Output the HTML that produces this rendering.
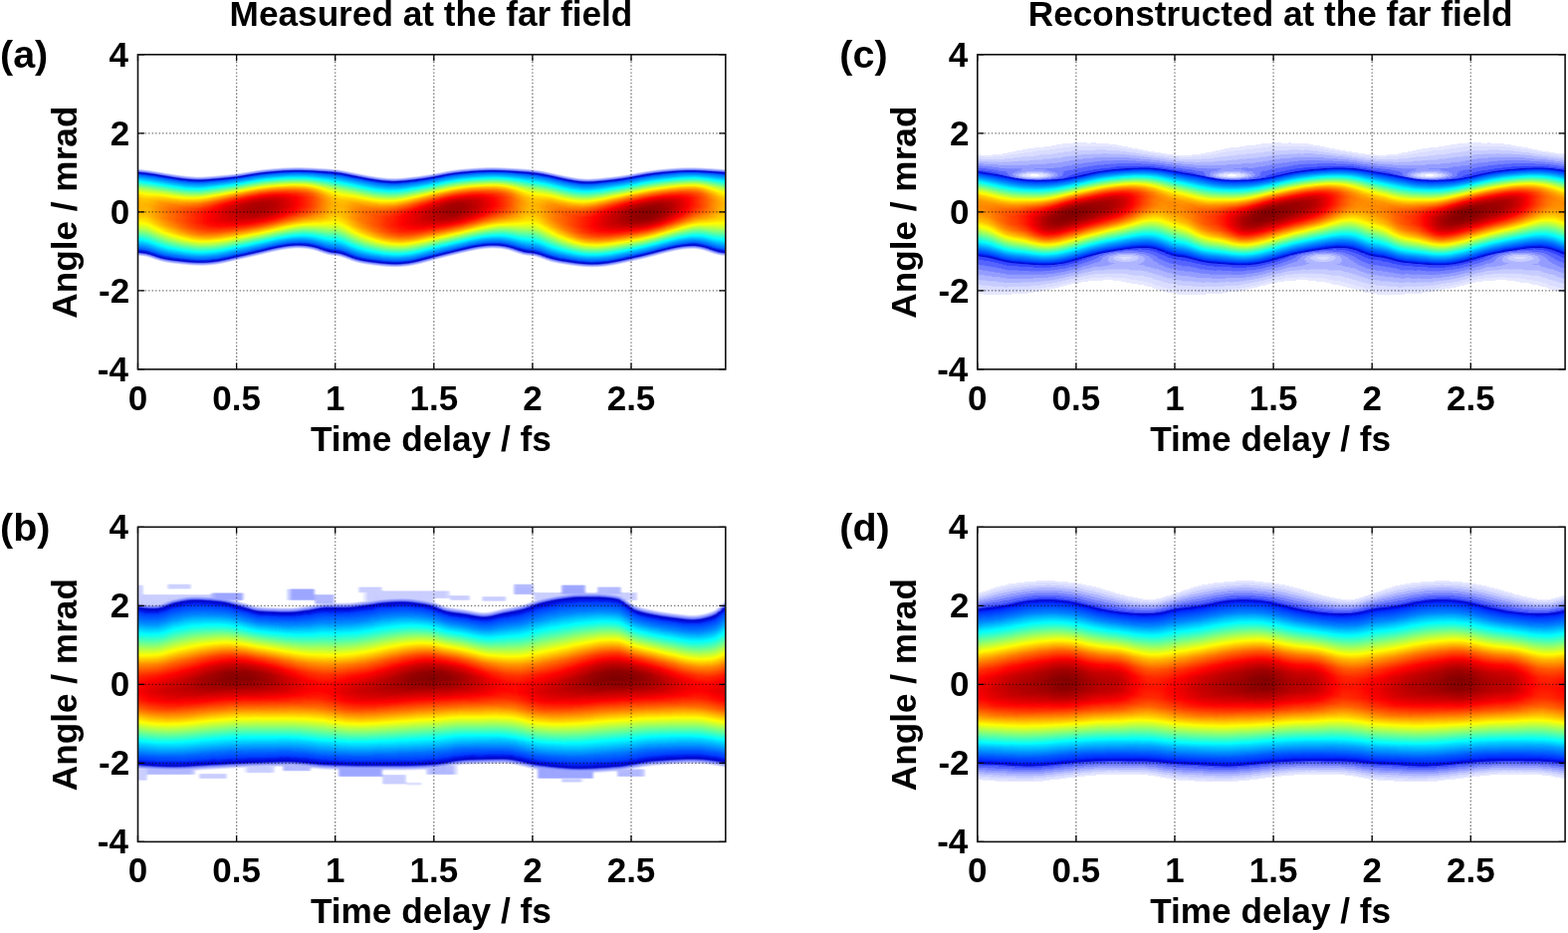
<!DOCTYPE html>
<html><head><meta charset="utf-8"><title>Far field</title>
<style>
html,body{margin:0;padding:0;background:#fff}
body{width:1575px;height:937px;position:relative;overflow:hidden}
.hm{position:absolute;overflow:hidden}
.hi{position:absolute;top:0;height:100%}
.hi i{position:absolute;top:0;height:100%}
svg.ov{position:absolute;left:0;top:0}
text{font-family:'Liberation Sans',Arial,sans-serif;font-weight:bold;font-size:35px;fill:#000}
text.pl{font-size:39.5px}
text.lb{font-size:35.2px}
.gr{fill:none;stroke:#000;stroke-width:1.3;stroke-dasharray:1.4 2.12;opacity:.55}
.tk{fill:none;stroke:#000;stroke-width:1.3}
.bx{fill:none;stroke:#111;stroke-width:1.6}
</style></head><body>
<svg width="0" height="0" style="position:absolute"><defs><filter id="cma" x="0" y="0" width="1" height="1" color-interpolation-filters="sRGB"><feGaussianBlur stdDeviation="1.5 0.3"/><feComponentTransfer><feFuncR type="table" tableValues="1 1 1 1 0.989 0.976 0.963 0.949 0.936 0.923 0.91 0.896 0.883 0.87 0.856 0.843 0.83 0.817 0.803 0.79 0.777 0.764 0.75 0.737 0.724 0.71 0.697 0.684 0.671 0.657 0.644 0.631 0.618 0.604 0.591 0.578 0.564 0.551 0.538 0.525 0.511 0.498 0.485 0.472 0.458 0.441 0.418 0.394 0.371 0.347 0.324 0.3 0.276 0.253 0.229 0.206 0.182 0.159 0.135 0.112 0.088 0.065 0.041 0.018 0 0 0 0 0 0 0 0 0 0 0 0 0 0 0 0 0 0 0 0 0 0 0 0 0 0 0 0 0 0 0 0 0 0 0 0 0 0 0 0 0 0 0 0 0 0 0 0 0.009 0.026 0.043 0.061 0.078 0.096 0.113 0.131 0.148 0.165 0.183 0.2 0.218 0.235 0.253 0.27 0.287 0.305 0.322 0.34 0.357 0.374 0.392 0.409 0.427 0.444 0.462 0.479 0.496 0.514 0.531 0.549 0.566 0.584 0.601 0.618 0.636 0.653 0.671 0.688 0.706 0.723 0.74 0.758 0.775 0.793 0.81 0.827 0.845 0.862 0.88 0.897 0.915 0.932 0.949 0.967 0.984 1 1 1 1 1 1 1 1 1 1 1 1 1 1 1 1 1 1 1 1 1 1 1 1 1 1 1 1 1 1 1 1 1 1 1 1 1 1 1 1 1 1 1 1 1 1 1 1 1 1 1 1 1 1 1 1 1 1 0.988 0.97 0.953 0.936 0.918 0.901 0.883 0.866 0.848 0.831 0.814 0.796 0.779 0.761 0.744 0.726 0.709 0.692 0.674 0.657 0.639 0.622 0.605 0.587 0.57 0.552 0.535 0.517 0.5"/><feFuncG type="table" tableValues="1 1 1 1 0.99 0.978 0.966 0.954 0.942 0.93 0.918 0.906 0.894 0.882 0.87 0.857 0.845 0.833 0.821 0.809 0.797 0.785 0.773 0.761 0.749 0.737 0.725 0.713 0.701 0.689 0.676 0.664 0.652 0.64 0.628 0.616 0.604 0.592 0.58 0.568 0.556 0.544 0.532 0.52 0.508 0.491 0.466 0.442 0.417 0.392 0.368 0.343 0.319 0.294 0.27 0.245 0.22 0.196 0.171 0.147 0.122 0.098 0.073 0.048 0.033 0.047 0.065 0.085 0.109 0.135 0.164 0.197 0.232 0.271 0.313 0.357 0.381 0.399 0.416 0.434 0.451 0.469 0.486 0.503 0.521 0.538 0.556 0.573 0.59 0.608 0.625 0.643 0.66 0.678 0.695 0.712 0.73 0.747 0.765 0.782 0.8 0.817 0.834 0.852 0.869 0.887 0.904 0.922 0.939 0.956 0.974 0.991 1 1 1 1 1 1 1 1 1 1 1 1 1 1 1 1 1 1 1 1 1 1 1 1 1 1 1 1 1 1 1 1 1 1 1 1 1 1 1 1 1 1 1 1 1 1 1 1 1 1 1 1 1 1 1 1 1 0.998 0.981 0.963 0.946 0.929 0.911 0.894 0.876 0.859 0.842 0.824 0.807 0.789 0.772 0.754 0.737 0.72 0.702 0.685 0.667 0.65 0.632 0.615 0.598 0.58 0.563 0.545 0.528 0.51 0.493 0.476 0.458 0.441 0.423 0.406 0.389 0.371 0.354 0.336 0.319 0.301 0.284 0.267 0.249 0.232 0.214 0.197 0.179 0.162 0.145 0.127 0.11 0.092 0.075 0.058 0.04 0.023 0.005 0 0 0 0 0 0 0 0 0 0 0 0 0 0 0 0 0 0 0 0 0 0 0 0 0 0 0 0 0"/><feFuncB type="table" tableValues="1 1 1 1 1 1 1 1 1 1 1 1 1 1 1 1 1 1 1 1 1 1 1 1 1 1 1 1 1 1 1 1 1 1 1 1 1 1 1 1 1 1 1 1 1 0.996 0.986 0.975 0.965 0.954 0.944 0.933 0.923 0.912 0.902 0.892 0.881 0.871 0.86 0.85 0.839 0.829 0.818 0.808 0.804 0.822 0.839 0.857 0.874 0.891 0.909 0.926 0.944 0.961 0.979 0.996 1 1 1 1 1 1 1 1 1 1 1 1 1 1 1 1 1 1 1 1 1 1 1 1 1 1 1 1 1 1 1 1 1 1 1 1 0.991 0.974 0.957 0.939 0.922 0.904 0.887 0.869 0.852 0.835 0.817 0.8 0.782 0.765 0.747 0.73 0.713 0.695 0.678 0.66 0.643 0.626 0.608 0.591 0.573 0.556 0.538 0.521 0.504 0.486 0.469 0.451 0.434 0.416 0.399 0.382 0.364 0.347 0.329 0.312 0.294 0.277 0.26 0.242 0.225 0.207 0.19 0.173 0.155 0.138 0.12 0.103 0.085 0.068 0.051 0.033 0.016 0 0 0 0 0 0 0 0 0 0 0 0 0 0 0 0 0 0 0 0 0 0 0 0 0 0 0 0 0 0 0 0 0 0 0 0 0 0 0 0 0 0 0 0 0 0 0 0 0 0 0 0 0 0 0 0 0 0 0 0 0 0 0 0 0 0 0 0 0 0 0 0 0 0 0 0 0 0 0 0 0 0 0 0 0 0 0"/></feComponentTransfer></filter><filter id="cmb" x="0" y="0" width="1" height="1" color-interpolation-filters="sRGB"><feGaussianBlur stdDeviation="1.5 0.3"/><feComponentTransfer><feFuncR type="table" tableValues="1 1 1 1 0.989 0.976 0.963 0.949 0.936 0.923 0.91 0.896 0.883 0.87 0.856 0.843 0.83 0.817 0.803 0.79 0.777 0.764 0.75 0.737 0.724 0.71 0.697 0.684 0.671 0.657 0.644 0.631 0.618 0.604 0.591 0.578 0.564 0.551 0.538 0.525 0.511 0.498 0.485 0.472 0.458 0.441 0.418 0.394 0.371 0.347 0.324 0.3 0.276 0.253 0.229 0.206 0.182 0.159 0.135 0.112 0.088 0.065 0.041 0.018 0 0 0 0 0 0 0 0 0 0 0 0 0 0 0 0 0 0 0 0 0 0 0 0 0 0 0 0 0 0 0 0 0 0 0 0 0 0 0 0 0 0 0 0 0 0 0 0 0 0 0 0 0.011 0.029 0.047 0.065 0.083 0.101 0.119 0.137 0.155 0.173 0.19 0.208 0.226 0.244 0.262 0.28 0.298 0.316 0.334 0.352 0.37 0.387 0.405 0.423 0.441 0.459 0.477 0.495 0.513 0.531 0.549 0.566 0.584 0.602 0.62 0.638 0.656 0.674 0.692 0.71 0.728 0.745 0.763 0.781 0.799 0.817 0.835 0.853 0.871 0.889 0.907 0.925 0.942 0.96 0.978 0.996 1 1 1 1 1 1 1 1 1 1 1 1 1 1 1 1 1 1 1 1 1 1 1 1 1 1 1 1 1 1 1 1 1 1 1 1 1 1 1 1 1 1 1 1 1 1 1 1 1 1 1 1 1 1 1 1 0.983 0.965 0.948 0.93 0.912 0.894 0.876 0.858 0.84 0.822 0.804 0.786 0.769 0.751 0.733 0.715 0.697 0.679 0.661 0.643 0.625 0.607 0.59 0.572 0.554 0.536 0.518 0.5"/><feFuncG type="table" tableValues="1 1 1 1 0.99 0.978 0.966 0.954 0.942 0.93 0.918 0.906 0.894 0.882 0.87 0.857 0.845 0.833 0.821 0.809 0.797 0.785 0.773 0.761 0.749 0.737 0.725 0.713 0.701 0.689 0.676 0.664 0.652 0.64 0.628 0.616 0.604 0.592 0.58 0.568 0.556 0.544 0.532 0.52 0.508 0.491 0.466 0.442 0.417 0.392 0.368 0.343 0.319 0.294 0.27 0.245 0.22 0.196 0.171 0.147 0.122 0.098 0.073 0.048 0.031 0.04 0.052 0.068 0.088 0.112 0.14 0.173 0.209 0.242 0.26 0.277 0.295 0.313 0.331 0.349 0.367 0.385 0.403 0.421 0.439 0.456 0.474 0.492 0.51 0.528 0.546 0.564 0.582 0.6 0.618 0.635 0.653 0.671 0.689 0.707 0.725 0.743 0.761 0.779 0.797 0.815 0.832 0.85 0.868 0.886 0.904 0.922 0.94 0.958 0.976 0.994 1 1 1 1 1 1 1 1 1 1 1 1 1 1 1 1 1 1 1 1 1 1 1 1 1 1 1 1 1 1 1 1 1 1 1 1 1 1 1 1 1 1 1 1 1 1 1 1 1 1 1 1 1 1 1 1 0.986 0.968 0.95 0.932 0.914 0.896 0.879 0.861 0.843 0.825 0.807 0.789 0.771 0.753 0.735 0.717 0.7 0.682 0.664 0.646 0.628 0.61 0.592 0.574 0.556 0.538 0.52 0.503 0.485 0.467 0.449 0.431 0.413 0.395 0.377 0.359 0.341 0.324 0.306 0.288 0.27 0.252 0.234 0.216 0.198 0.18 0.162 0.145 0.127 0.109 0.091 0.073 0.055 0.037 0.019 0.001 0 0 0 0 0 0 0 0 0 0 0 0 0 0 0 0 0 0 0 0 0 0 0 0 0 0 0 0"/><feFuncB type="table" tableValues="1 1 1 1 1 1 1 1 1 1 1 1 1 1 1 1 1 1 1 1 1 1 1 1 1 1 1 1 1 1 1 1 1 1 1 1 1 1 1 1 1 1 1 1 1 0.996 0.986 0.975 0.965 0.954 0.944 0.933 0.923 0.912 0.902 0.892 0.881 0.871 0.86 0.85 0.839 0.829 0.818 0.808 0.806 0.828 0.85 0.873 0.895 0.917 0.94 0.962 0.985 1 1 1 1 1 1 1 1 1 1 1 1 1 1 1 1 1 1 1 1 1 1 1 1 1 1 1 1 1 1 1 1 1 1 1 1 1 1 1 1 1 1 1 0.989 0.971 0.953 0.935 0.917 0.899 0.881 0.863 0.845 0.827 0.81 0.792 0.774 0.756 0.738 0.72 0.702 0.684 0.666 0.648 0.63 0.613 0.595 0.577 0.559 0.541 0.523 0.505 0.487 0.469 0.451 0.434 0.416 0.398 0.38 0.362 0.344 0.326 0.308 0.29 0.272 0.255 0.237 0.219 0.201 0.183 0.165 0.147 0.129 0.111 0.093 0.075 0.058 0.04 0.022 0.004 0 0 0 0 0 0 0 0 0 0 0 0 0 0 0 0 0 0 0 0 0 0 0 0 0 0 0 0 0 0 0 0 0 0 0 0 0 0 0 0 0 0 0 0 0 0 0 0 0 0 0 0 0 0 0 0 0 0 0 0 0 0 0 0 0 0 0 0 0 0 0 0 0 0 0 0 0 0 0 0 0 0 0 0"/></feComponentTransfer></filter><filter id="cmc" x="0" y="0" width="1" height="1" color-interpolation-filters="sRGB"><feGaussianBlur stdDeviation="1.5 0.3"/><feComponentTransfer><feFuncR type="table" tableValues="1 1 1 1 0.904 0.904 0.904 0.904 0.896 0.858 0.858 0.858 0.858 0.858 0.858 0.802 0.782 0.782 0.782 0.782 0.782 0.74 0.689 0.689 0.689 0.689 0.689 0.671 0.587 0.582 0.582 0.582 0.582 0.582 0.505 0.464 0.464 0.464 0.464 0.464 0.418 0.337 0.337 0.337 0.337 0.337 0.326 0.219 0.2 0.2 0.2 0.2 0.184 0.169 0.153 0.137 0.122 0.106 0.09 0.075 0.059 0.043 0.027 0.012 0 0 0 0 0 0 0 0 0 0 0 0 0 0 0 0 0 0 0 0 0 0 0 0 0 0 0 0 0 0 0 0 0 0 0 0 0 0 0 0 0 0 0 0 0 0 0 0 0 0 0 0 0.011 0.029 0.047 0.065 0.083 0.101 0.119 0.137 0.155 0.173 0.19 0.208 0.226 0.244 0.262 0.28 0.298 0.316 0.334 0.352 0.37 0.387 0.405 0.423 0.441 0.459 0.477 0.495 0.513 0.531 0.549 0.566 0.584 0.602 0.62 0.638 0.656 0.674 0.692 0.71 0.728 0.745 0.763 0.781 0.799 0.817 0.835 0.853 0.871 0.889 0.907 0.925 0.942 0.96 0.978 0.996 1 1 1 1 1 1 1 1 1 1 1 1 1 1 1 1 1 1 1 1 1 1 1 1 1 1 1 1 1 1 1 1 1 1 1 1 1 1 1 1 1 1 1 1 1 1 1 1 1 1 1 1 1 1 1 1 0.983 0.965 0.948 0.93 0.912 0.894 0.876 0.858 0.84 0.822 0.804 0.786 0.769 0.751 0.733 0.715 0.697 0.679 0.661 0.643 0.625 0.607 0.59 0.572 0.554 0.536 0.518 0.5"/><feFuncG type="table" tableValues="1 1 1 1 0.912 0.912 0.912 0.912 0.906 0.87 0.87 0.87 0.87 0.87 0.87 0.819 0.801 0.801 0.801 0.801 0.801 0.763 0.716 0.716 0.716 0.716 0.716 0.7 0.623 0.619 0.619 0.619 0.619 0.619 0.548 0.511 0.511 0.511 0.511 0.511 0.469 0.395 0.395 0.395 0.395 0.395 0.385 0.288 0.27 0.27 0.27 0.27 0.251 0.232 0.214 0.195 0.176 0.157 0.138 0.119 0.101 0.082 0.063 0.044 0.031 0.04 0.052 0.068 0.088 0.112 0.14 0.173 0.209 0.242 0.26 0.277 0.295 0.313 0.331 0.349 0.367 0.385 0.403 0.421 0.439 0.456 0.474 0.492 0.51 0.528 0.546 0.564 0.582 0.6 0.618 0.635 0.653 0.671 0.689 0.707 0.725 0.743 0.761 0.779 0.797 0.815 0.832 0.85 0.868 0.886 0.904 0.922 0.94 0.958 0.976 0.994 1 1 1 1 1 1 1 1 1 1 1 1 1 1 1 1 1 1 1 1 1 1 1 1 1 1 1 1 1 1 1 1 1 1 1 1 1 1 1 1 1 1 1 1 1 1 1 1 1 1 1 1 1 1 1 1 0.986 0.968 0.95 0.932 0.914 0.896 0.879 0.861 0.843 0.825 0.807 0.789 0.771 0.753 0.735 0.717 0.7 0.682 0.664 0.646 0.628 0.61 0.592 0.574 0.556 0.538 0.52 0.503 0.485 0.467 0.449 0.431 0.413 0.395 0.377 0.359 0.341 0.324 0.306 0.288 0.27 0.252 0.234 0.216 0.198 0.18 0.162 0.145 0.127 0.109 0.091 0.073 0.055 0.037 0.019 0.001 0 0 0 0 0 0 0 0 0 0 0 0 0 0 0 0 0 0 0 0 0 0 0 0 0 0 0 0"/><feFuncB type="table" tableValues="1 1 1 1 1 1 1 1 1 1 1 1 1 1 1 1 1 1 1 1 1 1 1 1 1 1 1 1 1 1 1 1 1 1 1 1 1 1 1 1 1 1 1 1 1 1 1 1 1 1 1 1 0.984 0.969 0.953 0.937 0.922 0.906 0.89 0.875 0.859 0.843 0.827 0.812 0.806 0.828 0.85 0.873 0.895 0.917 0.94 0.962 0.985 1 1 1 1 1 1 1 1 1 1 1 1 1 1 1 1 1 1 1 1 1 1 1 1 1 1 1 1 1 1 1 1 1 1 1 1 1 1 1 1 1 1 1 0.989 0.971 0.953 0.935 0.917 0.899 0.881 0.863 0.845 0.827 0.81 0.792 0.774 0.756 0.738 0.72 0.702 0.684 0.666 0.648 0.63 0.613 0.595 0.577 0.559 0.541 0.523 0.505 0.487 0.469 0.451 0.434 0.416 0.398 0.38 0.362 0.344 0.326 0.308 0.29 0.272 0.255 0.237 0.219 0.201 0.183 0.165 0.147 0.129 0.111 0.093 0.075 0.058 0.04 0.022 0.004 0 0 0 0 0 0 0 0 0 0 0 0 0 0 0 0 0 0 0 0 0 0 0 0 0 0 0 0 0 0 0 0 0 0 0 0 0 0 0 0 0 0 0 0 0 0 0 0 0 0 0 0 0 0 0 0 0 0 0 0 0 0 0 0 0 0 0 0 0 0 0 0 0 0 0 0 0 0 0 0 0 0 0 0"/></feComponentTransfer></filter><filter id="cmd" x="0" y="0" width="1" height="1" color-interpolation-filters="sRGB"><feGaussianBlur stdDeviation="1.5 0.3"/><feComponentTransfer><feFuncR type="table" tableValues="1 1 1 1 0.904 0.904 0.904 0.904 0.896 0.858 0.858 0.858 0.858 0.858 0.858 0.802 0.782 0.782 0.782 0.782 0.782 0.74 0.689 0.689 0.689 0.689 0.689 0.671 0.587 0.582 0.582 0.582 0.582 0.582 0.505 0.464 0.464 0.464 0.464 0.464 0.418 0.337 0.337 0.337 0.337 0.337 0.326 0.219 0.2 0.2 0.2 0.2 0.184 0.169 0.153 0.137 0.122 0.106 0.09 0.075 0.059 0.043 0.027 0.012 0 0 0 0 0 0 0 0 0 0 0 0 0 0 0 0 0 0 0 0 0 0 0 0 0 0 0 0 0 0 0 0 0 0 0 0 0 0 0 0 0 0 0 0 0 0 0 0 0 0 0 0 0 0.012 0.03 0.048 0.066 0.084 0.102 0.12 0.138 0.156 0.174 0.192 0.21 0.228 0.246 0.264 0.282 0.3 0.319 0.337 0.355 0.373 0.391 0.409 0.427 0.445 0.463 0.481 0.499 0.517 0.535 0.553 0.571 0.589 0.607 0.625 0.643 0.661 0.679 0.697 0.715 0.733 0.751 0.769 0.787 0.805 0.823 0.841 0.859 0.877 0.895 0.913 0.931 0.95 0.968 0.986 1 1 1 1 1 1 1 1 1 1 1 1 1 1 1 1 1 1 1 1 1 1 1 1 1 1 1 1 1 1 1 1 1 1 1 1 1 1 1 1 1 1 1 1 1 1 1 1 1 1 1 1 1 1 1 1 0.987 0.969 0.951 0.933 0.915 0.897 0.879 0.861 0.843 0.825 0.806 0.788 0.77 0.752 0.734 0.716 0.698 0.68 0.662 0.644 0.626 0.608 0.59 0.572 0.554 0.536 0.518 0.5"/><feFuncG type="table" tableValues="1 1 1 1 0.912 0.912 0.912 0.912 0.906 0.87 0.87 0.87 0.87 0.87 0.87 0.819 0.801 0.801 0.801 0.801 0.801 0.763 0.716 0.716 0.716 0.716 0.716 0.7 0.623 0.619 0.619 0.619 0.619 0.619 0.548 0.511 0.511 0.511 0.511 0.511 0.469 0.395 0.395 0.395 0.395 0.395 0.385 0.288 0.27 0.27 0.27 0.27 0.251 0.232 0.214 0.195 0.176 0.157 0.138 0.119 0.101 0.082 0.063 0.044 0.031 0.038 0.051 0.069 0.093 0.122 0.156 0.183 0.201 0.219 0.237 0.255 0.273 0.291 0.309 0.327 0.345 0.363 0.381 0.399 0.417 0.435 0.453 0.471 0.489 0.507 0.525 0.543 0.561 0.579 0.597 0.615 0.633 0.651 0.669 0.688 0.706 0.724 0.742 0.76 0.778 0.796 0.814 0.832 0.85 0.868 0.886 0.904 0.922 0.94 0.958 0.976 0.994 1 1 1 1 1 1 1 1 1 1 1 1 1 1 1 1 1 1 1 1 1 1 1 1 1 1 1 1 1 1 1 1 1 1 1 1 1 1 1 1 1 1 1 1 1 1 1 1 1 1 1 1 1 1 1 0.996 0.978 0.96 0.942 0.924 0.906 0.888 0.87 0.852 0.834 0.816 0.798 0.78 0.762 0.744 0.726 0.708 0.69 0.672 0.654 0.636 0.618 0.6 0.582 0.564 0.546 0.528 0.51 0.492 0.474 0.456 0.437 0.419 0.401 0.383 0.365 0.347 0.329 0.311 0.293 0.275 0.257 0.239 0.221 0.203 0.185 0.167 0.149 0.131 0.113 0.095 0.077 0.059 0.041 0.023 0.005 0 0 0 0 0 0 0 0 0 0 0 0 0 0 0 0 0 0 0 0 0 0 0 0 0 0 0 0"/><feFuncB type="table" tableValues="1 1 1 1 1 1 1 1 1 1 1 1 1 1 1 1 1 1 1 1 1 1 1 1 1 1 1 1 1 1 1 1 1 1 1 1 1 1 1 1 1 1 1 1 1 1 1 1 1 1 1 1 0.984 0.969 0.953 0.937 0.922 0.906 0.89 0.875 0.859 0.843 0.827 0.812 0.808 0.838 0.868 0.898 0.928 0.958 0.988 1 1 1 1 1 1 1 1 1 1 1 1 1 1 1 1 1 1 1 1 1 1 1 1 1 1 1 1 1 1 1 1 1 1 1 1 1 1 1 1 1 1 1 1 1 1 0.988 0.97 0.952 0.934 0.916 0.898 0.88 0.862 0.844 0.826 0.808 0.79 0.772 0.754 0.736 0.718 0.7 0.681 0.663 0.645 0.627 0.609 0.591 0.573 0.555 0.537 0.519 0.501 0.483 0.465 0.447 0.429 0.411 0.393 0.375 0.357 0.339 0.321 0.303 0.285 0.267 0.249 0.231 0.213 0.195 0.177 0.159 0.141 0.123 0.105 0.087 0.069 0.05 0.032 0.014 0 0 0 0 0 0 0 0 0 0 0 0 0 0 0 0 0 0 0 0 0 0 0 0 0 0 0 0 0 0 0 0 0 0 0 0 0 0 0 0 0 0 0 0 0 0 0 0 0 0 0 0 0 0 0 0 0 0 0 0 0 0 0 0 0 0 0 0 0 0 0 0 0 0 0 0 0 0 0 0 0 0 0 0"/></feComponentTransfer></filter></defs></svg>
<div class="hm" style="left:138px;top:54px;width:591px;height:317px"><div class="hi" style="left:-6px;width:603px;filter:url(#cma)"><i style="left:0px;width:4px;background:linear-gradient(#000 0.5px,#000 114.5px,#0a0a0a 115.5px,#393939 118.5px,#434343 119.5px,#646464 125.5px,#959595 133.5px,#adadad 138.5px,#b9b9b9 142.5px,#bfbfbf 147.5px,#bebebe 157.5px,#b6b6b6 164.5px,#a6a6a6 171.5px,#8a8a8a 179.5px,#4d4d4d 194.5px,#434343 197.5px,#3d3d3d 198.5px,#0e0e0e 201.5px,#010101 202.5px,#000 316.5px)"></i><i style="left:4px;width:4px;background:linear-gradient(#000 0.5px,#000 114.5px,#050505 115.5px,#353535 118.5px,#414141 119.5px,#676767 126.5px,#969696 134.5px,#ababab 139.5px,#b8b8b8 144.5px,#bcbcbc 150.5px,#b9b9b9 160.5px,#afafaf 167.5px,#9d9d9d 174.5px,#777 184.5px,#484848 196.5px,#424242 198.5px,#3b3b3b 199.5px,#0b0b0b 202.5px,#000 203.5px,#000 316.5px)"></i><i style="left:8px;width:4px;background:linear-gradient(#000 0.5px,#000 114.5px,#020202 115.5px,#1f1f1f 117.5px,#3e3e3e 119.5px,#7b7b7b 130.5px,#9b9b9b 136.5px,#aeaeae 141.5px,#b7b7b7 146.5px,#bababa 154.5px,#b6b6b6 162.5px,#aaa 169.5px,#979797 176.5px,#646464 189.5px,#3f3f3f 199.5px,#212121 201.5px,#020202 203.5px,#000 205.5px,#000 316.5px)"></i><i style="left:12px;width:4px;background:linear-gradient(#000 0.5px,#000 115.5px,#080808 116.5px,#383838 119.5px,#424242 120.5px,#676767 127.5px,#939393 135.5px,#a8a8a8 140.5px,#b5b5b5 145.5px,#bababa 151.5px,#b7b7b7 161.5px,#aeaeae 168.5px,#9c9c9c 175.5px,#7b7b7b 184.5px,#484848 197.5px,#414141 199.5px,#393939 200.5px,#090909 203.5px,#000 204.5px,#000 316.5px)"></i><i style="left:16px;width:4px;background:linear-gradient(#000 0.5px,#000 115.5px,#020202 116.5px,#202020 118.5px,#3e3e3e 120.5px,#6f6f6f 129.5px,#969696 136.5px,#aaa 141.5px,#b7b7b7 146.5px,#bbb 152.5px,#b9b9b9 162.5px,#afafaf 169.5px,#9d9d9d 176.5px,#7b7b7b 185.5px,#4c4c4c 197.5px,#424242 200.5px,#393939 201.5px,#090909 204.5px,#000 205.5px,#000 316.5px)"></i><i style="left:20px;width:4px;background:linear-gradient(#000 0.5px,#000 116.5px,#060606 117.5px,#363636 120.5px,#424242 121.5px,#606060 127.5px,#989898 137.5px,#adadad 142.5px,#b9b9b9 147.5px,#bebebe 153.5px,#bcbcbc 163.5px,#b2b2b2 170.5px,#a0a0a0 177.5px,#7e7e7e 186.5px,#494949 199.5px,#434343 201.5px,#3d3d3d 202.5px,#0f0f0f 205.5px,#010101 206.5px,#000 211.5px,#000 316.5px)"></i><i style="left:24px;width:4px;background:linear-gradient(#000 0.5px,#000 117.5px,#0c0c0c 118.5px,#3b3b3b 121.5px,#434343 122.5px,#686868 129.5px,#9b9b9b 138.5px,#b0b0b0 143.5px,#bdbdbd 148.5px,#c1c1c1 154.5px,#bfbfbf 164.5px,#b5b5b5 171.5px,#a3a3a3 178.5px,#808080 187.5px,#4b4b4b 200.5px,#414141 203.5px,#353535 204.5px,#050505 207.5px,#000 208.5px,#000 316.5px)"></i><i style="left:28px;width:4px;background:linear-gradient(#000 0.5px,#000 117.5px,#030303 118.5px,#3f3f3f 122.5px,#6a6a6a 130.5px,#9e9e9e 139.5px,#b3b3b3 144.5px,#c0c0c0 149.5px,#c4c4c4 155.5px,#c2c2c2 165.5px,#b8b8b8 172.5px,#a5a5a5 179.5px,#828282 188.5px,#4f4f4f 200.5px,#414141 204.5px,#383838 205.5px,#080808 208.5px,#000 209.5px,#000 316.5px)"></i><i style="left:32px;width:4px;background:linear-gradient(#000 0.5px,#000 118.5px,#060606 119.5px,#363636 122.5px,#414141 123.5px,#606060 129.5px,#9b9b9b 139.5px,#b2b2b2 144.5px,#c0c0c0 149.5px,#c6c6c6 154.5px,#c6c6c6 164.5px,#bfbfbf 171.5px,#aeaeae 178.5px,#909090 186.5px,#4f4f4f 201.5px,#414141 205.5px,#363636 206.5px,#060606 209.5px,#000 210.5px,#000 316.5px)"></i><i style="left:36px;width:4px;background:linear-gradient(#000 0.5px,#000 119.5px,#0c0c0c 120.5px,#3b3b3b 123.5px,#434343 124.5px,#626262 130.5px,#9d9d9d 140.5px,#b4b4b4 145.5px,#c3c3c3 150.5px,#c9c9c9 155.5px,#c9c9c9 165.5px,#c1c1c1 172.5px,#b3b3b3 178.5px,#9a9a9a 185.5px,#4e4e4e 202.5px,#3f3f3f 206.5px,#212121 208.5px,#030303 210.5px,#000 211.5px,#000 316.5px)"></i><i style="left:40px;width:4px;background:linear-gradient(#000 0.5px,#000 119.5px,#030303 120.5px,#3f3f3f 124.5px,#6a6a6a 132.5px,#9f9f9f 141.5px,#b6b6b6 146.5px,#c5c5c5 151.5px,#cbcbcb 156.5px,#cbcbcb 166.5px,#c3c3c3 173.5px,#b4b4b4 179.5px,#9a9a9a 186.5px,#515151 202.5px,#424242 206.5px,#3a3a3a 207.5px,#0a0a0a 210.5px,#000 211.5px,#000 316.5px)"></i><i style="left:44px;width:4px;background:linear-gradient(#000 0.5px,#000 120.5px,#080808 121.5px,#373737 124.5px,#424242 125.5px,#616161 131.5px,#a2a2a2 142.5px,#b9b9b9 147.5px,#c7c7c7 152.5px,#cecece 157.5px,#cecece 167.5px,#c5c5c5 174.5px,#b6b6b6 180.5px,#9a9a9a 187.5px,#535353 202.5px,#3f3f3f 207.5px,#212121 209.5px,#030303 211.5px,#000 212.5px,#000 316.5px)"></i><i style="left:48px;width:4px;background:linear-gradient(#000 0.5px,#000 120.5px,#010101 121.5px,#0f0f0f 122.5px,#3d3d3d 125.5px,#6f6f6f 134.5px,#a5a5a5 143.5px,#bbb 148.5px,#cacaca 153.5px,#d0d0d0 158.5px,#d0d0d0 168.5px,#c9c9c9 174.5px,#bababa 180.5px,#9f9f9f 187.5px,#515151 203.5px,#424242 207.5px,#383838 208.5px,#090909 211.5px,#000 212.5px,#000 316.5px)"></i><i style="left:52px;width:4px;background:linear-gradient(#000 0.5px,#000 121.5px,#070707 122.5px,#363636 125.5px,#424242 126.5px,#606060 132.5px,#a8a8a8 144.5px,#bfbfbf 149.5px,#cdcdcd 154.5px,#d3d3d3 159.5px,#d2d2d2 169.5px,#cbcbcb 175.5px,#bbb 181.5px,#9e9e9e 188.5px,#545454 203.5px,#3e3e3e 208.5px,#0f0f0f 211.5px,#020202 212.5px,#000 215.5px,#000 316.5px)"></i><i style="left:56px;width:4px;background:linear-gradient(#000 0.5px,#000 121.5px,#020202 122.5px,#202020 124.5px,#3e3e3e 126.5px,#6a6a6a 134.5px,#a7a7a7 144.5px,#bfbfbf 149.5px,#cecece 154.5px,#d5d5d5 159.5px,#d6d6d6 168.5px,#d0d0d0 174.5px,#c2c2c2 180.5px,#ababab 186.5px,#737373 197.5px,#4d4d4d 205.5px,#414141 208.5px,#353535 209.5px,#050505 212.5px,#000 213.5px,#000 316.5px)"></i><i style="left:60px;width:4px;background:linear-gradient(#000 0.5px,#000 122.5px,#0b0b0b 123.5px,#3b3b3b 126.5px,#434343 127.5px,#636363 133.5px,#acacac 145.5px,#c4c4c4 150.5px,#d2d2d2 155.5px,#d8d8d8 160.5px,#d8d8d8 169.5px,#d1d1d1 175.5px,#c2c2c2 181.5px,#aaa 187.5px,#535353 204.5px,#424242 208.5px,#393939 209.5px,#090909 212.5px,#000 213.5px,#000 316.5px)"></i><i style="left:64px;width:4px;background:linear-gradient(#000 0.5px,#000 122.5px,#080808 123.5px,#383838 126.5px,#424242 127.5px,#626262 133.5px,#adadad 145.5px,#c5c5c5 150.5px,#d4d4d4 155.5px,#dbdbdb 160.5px,#dbdbdb 169.5px,#d4d4d4 175.5px,#c5c5c5 181.5px,#acacac 187.5px,#545454 204.5px,#434343 208.5px,#3c3c3c 209.5px,#0c0c0c 212.5px,#010101 213.5px,#000 316.5px)"></i><i style="left:68px;width:4px;background:linear-gradient(#000 0.5px,#000 122.5px,#080808 123.5px,#383838 126.5px,#424242 127.5px,#626262 133.5px,#afafaf 145.5px,#c7c7c7 150.5px,#d7d7d7 155.5px,#ddd 160.5px,#ddd 169.5px,#d6d6d6 175.5px,#c7c7c7 181.5px,#aeaeae 187.5px,#545454 204.5px,#434343 208.5px,#3c3c3c 209.5px,#0d0d0d 212.5px,#010101 213.5px,#000 316.5px)"></i><i style="left:72px;width:4px;background:linear-gradient(#000 0.5px,#000 122.5px,#0b0b0b 123.5px,#3b3b3b 126.5px,#434343 127.5px,#5e5e5e 132.5px,#b2b2b2 145.5px,#cbcbcb 150.5px,#dadada 155.5px,#e0e0e0 160.5px,#e0e0e0 169.5px,#d8d8d8 175.5px,#cbcbcb 180.5px,#b3b3b3 186.5px,#7d7d7d 196.5px,#545454 204.5px,#434343 208.5px,#3b3b3b 209.5px,#0c0c0c 212.5px,#000 213.5px,#000 316.5px)"></i><i style="left:76px;width:4px;background:linear-gradient(#000 0.5px,#000 121.5px,#020202 122.5px,#1f1f1f 124.5px,#3e3e3e 126.5px,#676767 133.5px,#b0b0b0 144.5px,#cacaca 149.5px,#d8d8d8 153.5px,#e1e1e1 158.5px,#e3e3e3 166.5px,#dfdfdf 172.5px,#d2d2d2 178.5px,#bcbcbc 184.5px,#939393 192.5px,#575757 203.5px,#424242 208.5px,#383838 209.5px,#080808 212.5px,#000 213.5px,#000 316.5px)"></i><i style="left:80px;width:4px;background:linear-gradient(#000 0.5px,#000 121.5px,#050505 122.5px,#353535 125.5px,#414141 126.5px,#5d5d5d 131.5px,#b5b5b5 144.5px,#cfcfcf 149.5px,#dcdcdc 153.5px,#e4e4e4 158.5px,#e5e5e5 167.5px,#dedede 173.5px,#d2d2d2 178.5px,#bbb 184.5px,#919191 192.5px,#5a5a5a 202.5px,#3f3f3f 208.5px,#222 210.5px,#030303 212.5px,#000 213.5px,#000 316.5px)"></i><i style="left:84px;width:4px;background:linear-gradient(#000 0.5px,#000 121.5px,#0a0a0a 122.5px,#3a3a3a 125.5px,#434343 126.5px,#5f5f5f 131.5px,#b3b3b3 143.5px,#cfcfcf 148.5px,#ddd 152.5px,#e6e6e6 157.5px,#e7e7e7 166.5px,#e1e1e1 172.5px,#d5d5d5 177.5px,#bebebe 183.5px,#949494 191.5px,#5d5d5d 201.5px,#424242 207.5px,#393939 208.5px,#0a0a0a 211.5px,#000 212.5px,#000 316.5px)"></i><i style="left:88px;width:4px;background:linear-gradient(#000 0.5px,#000 120.5px,#020202 121.5px,#202020 123.5px,#3e3e3e 125.5px,#636363 131.5px,#b8b8b8 143.5px,#cfcfcf 147.5px,#dfdfdf 151.5px,#e7e7e7 155.5px,#eaeaea 161.5px,#e7e7e7 168.5px,#ddd 174.5px,#cdcdcd 179.5px,#b2b2b2 185.5px,#595959 201.5px,#434343 206.5px,#3d3d3d 207.5px,#0f0f0f 210.5px,#010101 211.5px,#000 217.5px,#000 316.5px)"></i><i style="left:92px;width:4px;background:linear-gradient(#000 0.5px,#000 120.5px,#060606 121.5px,#363636 124.5px,#414141 125.5px,#5f5f5f 130.5px,#b7b7b7 142.5px,#cfcfcf 146.5px,#e0e0e0 150.5px,#e9e9e9 154.5px,#ececec 160.5px,#e9e9e9 167.5px,#dfdfdf 173.5px,#cfcfcf 178.5px,#b4b4b4 184.5px,#5b5b5b 200.5px,#3f3f3f 206.5px,#222 208.5px,#030303 210.5px,#000 211.5px,#000 316.5px)"></i><i style="left:96px;width:4px;background:linear-gradient(#000 0.5px,#010101 120.5px,#0c0c0c 121.5px,#3c3c3c 124.5px,#444 125.5px,#636363 130.5px,#b6b6b6 141.5px,#cfcfcf 145.5px,#e0e0e0 149.5px,#eaeaea 153.5px,#eee 158.5px,#ececec 166.5px,#e1e1e1 172.5px,#d2d2d2 177.5px,#b6b6b6 183.5px,#5b5b5b 199.5px,#404040 205.5px,#333 206.5px,#040404 209.5px,#000 210.5px,#000 316.5px)"></i><i style="left:100px;width:4px;background:linear-gradient(#000 0.5px,#000 119.5px,#040404 120.5px,#333 123.5px,#414141 124.5px,#5f5f5f 129.5px,#bbb 141.5px,#d4d4d4 145.5px,#e4e4e4 149.5px,#ededed 153.5px,#f0f0f0 159.5px,#ececec 166.5px,#e4e4e4 171.5px,#d4d4d4 176.5px,#b8b8b8 182.5px,#5c5c5c 198.5px,#414141 204.5px,#343434 205.5px,#050505 208.5px,#000 209.5px,#000 316.5px)"></i><i style="left:104px;width:4px;background:linear-gradient(#000 0.5px,#010101 119.5px,#0c0c0c 120.5px,#3b3b3b 123.5px,#444 124.5px,#646464 129.5px,#bababa 140.5px,#d3d3d3 144.5px,#e5e5e5 148.5px,#eee 152.5px,#f2f2f2 158.5px,#eee 165.5px,#e6e6e6 170.5px,#d6d6d6 175.5px,#bababa 181.5px,#5c5c5c 197.5px,#414141 203.5px,#353535 204.5px,#060606 207.5px,#000 208.5px,#000 316.5px)"></i><i style="left:108px;width:4px;background:linear-gradient(#000 0.5px,#000 118.5px,#060606 119.5px,#353535 122.5px,#414141 123.5px,#616161 128.5px,#bfbfbf 140.5px,#d8d8d8 144.5px,#e8e8e8 148.5px,#f1f1f1 152.5px,#f3f3f3 159.5px,#efefef 165.5px,#e5e5e5 170.5px,#d4d4d4 175.5px,#b6b6b6 181.5px,#5d5d5d 196.5px,#414141 202.5px,#363636 203.5px,#060606 206.5px,#000 207.5px,#000 316.5px)"></i><i style="left:112px;width:4px;background:linear-gradient(#000 0.5px,#000 117.5px,#020202 118.5px,#202020 120.5px,#3f3f3f 122.5px,#666 128.5px,#bebebe 139.5px,#d7d7d7 143.5px,#e8e8e8 147.5px,#f2f2f2 151.5px,#f4f4f4 157.5px,#f0f0f0 164.5px,#e7e7e7 169.5px,#d6d6d6 174.5px,#b8b8b8 180.5px,#5e5e5e 195.5px,#424242 201.5px,#383838 202.5px,#080808 205.5px,#000 206.5px,#000 316.5px)"></i><i style="left:116px;width:4px;background:linear-gradient(#000 0.5px,#000 117.5px,#0b0b0b 118.5px,#3b3b3b 121.5px,#434343 122.5px,#5c5c5c 126.5px,#949494 133.5px,#c3c3c3 139.5px,#dbdbdb 143.5px,#ebebeb 147.5px,#f3f3f3 151.5px,#f5f5f5 158.5px,#f0f0f0 164.5px,#e6e6e6 169.5px,#d3d3d3 174.5px,#b4b4b4 180.5px,#5f5f5f 194.5px,#424242 200.5px,#393939 201.5px,#090909 204.5px,#000 205.5px,#000 316.5px)"></i><i style="left:120px;width:4px;background:linear-gradient(#000 0.5px,#000 116.5px,#060606 117.5px,#353535 120.5px,#424242 121.5px,#616161 126.5px,#c1c1c1 138.5px,#dadada 142.5px,#ebebeb 146.5px,#f4f4f4 150.5px,#f6f6f6 157.5px,#f2f2f2 163.5px,#e7e7e7 168.5px,#d5d5d5 173.5px,#b5b5b5 179.5px,#5f5f5f 193.5px,#424242 199.5px,#3a3a3a 200.5px,#0b0b0b 203.5px,#000 204.5px,#000 316.5px)"></i><i style="left:124px;width:4px;background:linear-gradient(#000 0.5px,#000 115.5px,#020202 116.5px,#202020 118.5px,#3e3e3e 120.5px,#666 126.5px,#bfbfbf 137.5px,#d8d8d8 141.5px,#eaeaea 145.5px,#f3f3f3 149.5px,#f6f6f6 155.5px,#f2f2f2 162.5px,#e8e8e8 167.5px,#d6d6d6 172.5px,#b7b7b7 178.5px,#606060 192.5px,#434343 198.5px,#3b3b3b 199.5px,#0c0c0c 202.5px,#000 203.5px,#000 316.5px)"></i><i style="left:128px;width:4px;background:linear-gradient(#000 0.5px,#000 115.5px,#090909 116.5px,#383838 119.5px,#434343 120.5px,#5c5c5c 124.5px,#8b8b8b 130.5px,#c3c3c3 137.5px,#dcdcdc 141.5px,#ececec 145.5px,#f4f4f4 149.5px,#f6f6f6 156.5px,#f1f1f1 162.5px,#e6e6e6 167.5px,#d3d3d3 172.5px,#b2b2b2 178.5px,#616161 191.5px,#434343 197.5px,#3c3c3c 198.5px,#0d0d0d 201.5px,#010101 202.5px,#000 316.5px)"></i><i style="left:132px;width:4px;background:linear-gradient(#000 0.5px,#000 114.5px,#020202 115.5px,#202020 117.5px,#3f3f3f 119.5px,#5f5f5f 124.5px,#a0a0a0 132.5px,#c6c6c6 137.5px,#dedede 141.5px,#ededed 145.5px,#f4f4f4 149.5px,#f5f5f5 157.5px,#eee 163.5px,#e0e0e0 168.5px,#c9c9c9 173.5px,#a0a0a0 180.5px,#616161 190.5px,#434343 196.5px,#3d3d3d 197.5px,#0d0d0d 200.5px,#010101 201.5px,#000 316.5px)"></i><i style="left:136px;width:4px;background:linear-gradient(#000 0.5px,#000 114.5px,#070707 115.5px,#373737 118.5px,#424242 119.5px,#5b5b5b 123.5px,#8b8b8b 129.5px,#bbb 135.5px,#d6d6d6 139.5px,#e8e8e8 143.5px,#f2f2f2 147.5px,#f5f5f5 153.5px,#f1f1f1 160.5px,#e6e6e6 165.5px,#d4d4d4 170.5px,#b4b4b4 176.5px,#626262 189.5px,#3d3d3d 196.5px,#0e0e0e 199.5px,#010101 200.5px,#000 316.5px)"></i><i style="left:140px;width:4px;background:linear-gradient(#000 0.5px,#010101 114.5px,#0d0d0d 115.5px,#3c3c3c 118.5px,#4a4a4a 120.5px,#6d6d6d 125.5px,#bebebe 135.5px,#d8d8d8 139.5px,#e9e9e9 143.5px,#f1f1f1 147.5px,#f3f3f3 154.5px,#efefef 160.5px,#e3e3e3 165.5px,#cfcfcf 170.5px,#aeaeae 176.5px,#626262 188.5px,#3e3e3e 195.5px,#0f0f0f 198.5px,#020202 199.5px,#000 202.5px,#000 316.5px)"></i><i style="left:144px;width:4px;background:linear-gradient(#000 0.5px,#000 113.5px,#030303 114.5px,#3f3f3f 118.5px,#606060 123.5px,#b9b9b9 134.5px,#d3d3d3 138.5px,#e6e6e6 142.5px,#efefef 146.5px,#f2f2f2 152.5px,#efefef 158.5px,#e5e5e5 163.5px,#d4d4d4 168.5px,#b4b4b4 174.5px,#5d5d5d 188.5px,#3f3f3f 194.5px,#212121 196.5px,#030303 198.5px,#000 199.5px,#000 316.5px)"></i><i style="left:148px;width:4px;background:linear-gradient(#000 0.5px,#000 113.5px,#060606 114.5px,#363636 117.5px,#424242 118.5px,#5b5b5b 122.5px,#939393 129.5px,#c2c2c2 135.5px,#d9d9d9 139.5px,#e8e8e8 143.5px,#eee 147.5px,#eee 155.5px,#e8e8e8 160.5px,#dbdbdb 165.5px,#c5c5c5 170.5px,#9d9d9d 177.5px,#5e5e5e 187.5px,#414141 193.5px,#353535 194.5px,#050505 197.5px,#000 198.5px,#000 316.5px)"></i><i style="left:152px;width:4px;background:linear-gradient(#000 0.5px,#000 113.5px,#0a0a0a 114.5px,#3a3a3a 117.5px,#434343 118.5px,#5d5d5d 122.5px,#bcbcbc 134.5px,#d5d5d5 138.5px,#e4e4e4 142.5px,#ebebeb 146.5px,#ececec 154.5px,#e5e5e5 160.5px,#d6d6d6 165.5px,#c0c0c0 170.5px,#979797 177.5px,#606060 186.5px,#424242 192.5px,#3a3a3a 193.5px,#0a0a0a 196.5px,#000 197.5px,#000 316.5px)"></i><i style="left:156px;width:4px;background:linear-gradient(#000 0.5px,#010101 113.5px,#0d0d0d 114.5px,#3c3c3c 117.5px,#4a4a4a 119.5px,#6e6e6e 124.5px,#b6b6b6 133.5px,#cfcfcf 137.5px,#e0e0e0 141.5px,#e8e8e8 145.5px,#eaeaea 152.5px,#e5e5e5 158.5px,#d9d9d9 163.5px,#c5c5c5 168.5px,#a5a5a5 174.5px,#5d5d5d 186.5px,#3f3f3f 192.5px,#212121 194.5px,#030303 196.5px,#000 197.5px,#000 316.5px)"></i><i style="left:160px;width:4px;background:linear-gradient(#000 0.5px,#000 112.5px,#020202 113.5px,#0f0f0f 114.5px,#3e3e3e 117.5px,#676767 123.5px,#afafaf 132.5px,#c9c9c9 136.5px,#dbdbdb 140.5px,#e4e4e4 144.5px,#e7e7e7 150.5px,#e4e4e4 156.5px,#dadada 161.5px,#cacaca 166.5px,#acacac 172.5px,#5a5a5a 186.5px,#434343 191.5px,#3b3b3b 192.5px,#0b0b0b 195.5px,#000 196.5px,#000 316.5px)"></i><i style="left:164px;width:4px;background:linear-gradient(#000 0.5px,#000 112.5px,#020202 113.5px,#202020 115.5px,#3e3e3e 117.5px,#676767 123.5px,#afafaf 132.5px,#c9c9c9 136.5px,#dadada 140.5px,#e2e2e2 144.5px,#e3e3e3 151.5px,#dfdfdf 157.5px,#d4d4d4 162.5px,#c1c1c1 167.5px,#a3a3a3 173.5px,#595959 186.5px,#424242 191.5px,#383838 192.5px,#080808 195.5px,#000 196.5px,#000 316.5px)"></i><i style="left:168px;width:4px;background:linear-gradient(#000 0.5px,#000 112.5px,#020202 113.5px,#202020 115.5px,#3e3e3e 117.5px,#676767 123.5px,#aeaeae 132.5px,#c7c7c7 136.5px,#d7d7d7 140.5px,#dfdfdf 144.5px,#dfdfdf 152.5px,#d9d9d9 158.5px,#cdcdcd 163.5px,#b5b5b5 169.5px,#8a8a8a 177.5px,#585858 186.5px,#424242 191.5px,#383838 192.5px,#080808 195.5px,#000 196.5px,#000 316.5px)"></i><i style="left:172px;width:4px;background:linear-gradient(#000 0.5px,#010101 113.5px,#0e0e0e 114.5px,#3d3d3d 117.5px,#676767 123.5px,#adadad 132.5px,#c5c5c5 136.5px,#d4d4d4 140.5px,#dbdbdb 144.5px,#dcdcdc 152.5px,#d6d6d6 158.5px,#cacaca 163.5px,#b2b2b2 169.5px,#838383 178.5px,#545454 187.5px,#434343 191.5px,#3c3c3c 192.5px,#0c0c0c 195.5px,#010101 196.5px,#000 316.5px)"></i><i style="left:176px;width:4px;background:linear-gradient(#000 0.5px,#000 113.5px,#0c0c0c 114.5px,#3b3b3b 117.5px,#444 118.5px,#656565 123.5px,#aaa 132.5px,#c2c2c2 136.5px,#d1d1d1 140.5px,#d7d7d7 144.5px,#d7d7d7 153.5px,#d0d0d0 159.5px,#c0c0c0 165.5px,#a8a8a8 171.5px,#565656 187.5px,#404040 192.5px,#343434 193.5px,#050505 196.5px,#000 197.5px,#000 316.5px)"></i><i style="left:180px;width:4px;background:linear-gradient(#000 0.5px,#000 113.5px,#090909 114.5px,#393939 117.5px,#434343 118.5px,#636363 123.5px,#a6a6a6 132.5px,#bdbdbd 136.5px,#ccc 140.5px,#d3d3d3 144.5px,#d3d3d3 153.5px,#ccc 159.5px,#bebebe 165.5px,#a7a7a7 171.5px,#545454 188.5px,#3f3f3f 193.5px,#020202 197.5px,#000 199.5px,#000 316.5px)"></i><i style="left:184px;width:4px;background:linear-gradient(#000 0.5px,#000 113.5px,#060606 114.5px,#353535 117.5px,#414141 118.5px,#606060 123.5px,#a0a0a0 132.5px,#b7b7b7 136.5px,#c6c6c6 140.5px,#cdcdcd 144.5px,#cecece 152.5px,#c8c8c8 159.5px,#bbb 165.5px,#a3a3a3 172.5px,#4f4f4f 190.5px,#3f3f3f 194.5px,#212121 196.5px,#030303 198.5px,#000 199.5px,#000 316.5px)"></i><i style="left:188px;width:4px;background:linear-gradient(#000 0.5px,#000 113.5px,#030303 114.5px,#3f3f3f 118.5px,#646464 124.5px,#a0a0a0 133.5px,#b5b5b5 137.5px,#c2c2c2 141.5px,#c9c9c9 146.5px,#c7c7c7 156.5px,#bebebe 163.5px,#aeaeae 169.5px,#8e8e8e 177.5px,#505050 191.5px,#414141 195.5px,#373737 196.5px,#070707 199.5px,#000 200.5px,#000 316.5px)"></i><i style="left:192px;width:4px;background:linear-gradient(#000 0.5px,#010101 114.5px,#0e0e0e 115.5px,#3d3d3d 118.5px,#494949 120.5px,#747474 127.5px,#a0a0a0 134.5px,#b2b2b2 138.5px,#bebebe 142.5px,#c3c3c3 147.5px,#c2c2c2 157.5px,#b9b9b9 164.5px,#a6a6a6 171.5px,#888 179.5px,#4d4d4d 193.5px,#424242 196.5px,#3c3c3c 197.5px,#0d0d0d 200.5px,#010101 201.5px,#000 316.5px)"></i><i style="left:196px;width:4px;background:linear-gradient(#000 0.5px,#000 114.5px,#090909 115.5px,#393939 118.5px,#424242 119.5px,#646464 125.5px,#9a9a9a 134.5px,#b0b0b0 139.5px,#bcbcbc 144.5px,#bfbfbf 150.5px,#bcbcbc 159.5px,#b2b2b2 166.5px,#a0a0a0 173.5px,#7e7e7e 182.5px,#4d4d4d 194.5px,#3e3e3e 198.5px,#020202 202.5px,#000 204.5px,#000 316.5px)"></i><i style="left:200px;width:4px;background:linear-gradient(#000 0.5px,#000 114.5px,#050505 115.5px,#343434 118.5px,#414141 119.5px,#676767 126.5px,#959595 134.5px,#ababab 139.5px,#b7b7b7 144.5px,#bbb 150.5px,#b9b9b9 160.5px,#afafaf 167.5px,#9d9d9d 174.5px,#777 184.5px,#494949 196.5px,#424242 198.5px,#3c3c3c 199.5px,#0c0c0c 202.5px,#010101 203.5px,#000 316.5px)"></i><i style="left:204px;width:4px;background:linear-gradient(#000 0.5px,#000 114.5px,#010101 115.5px,#0e0e0e 116.5px,#3d3d3d 119.5px,#969696 135.5px,#aaa 140.5px,#b6b6b6 145.5px,#bababa 151.5px,#b7b7b7 161.5px,#acacac 168.5px,#9a9a9a 175.5px,#747474 185.5px,#4a4a4a 196.5px,#3f3f3f 199.5px,#212121 201.5px,#030303 203.5px,#000 204.5px,#000 316.5px)"></i><i style="left:208px;width:4px;background:linear-gradient(#000 0.5px,#000 115.5px,#050505 116.5px,#343434 119.5px,#414141 120.5px,#656565 127.5px,#969696 136.5px,#aaa 141.5px,#b6b6b6 146.5px,#bababa 152.5px,#b7b7b7 162.5px,#adadad 169.5px,#9a9a9a 176.5px,#747474 186.5px,#494949 197.5px,#424242 199.5px,#3d3d3d 200.5px,#0e0e0e 203.5px,#010101 204.5px,#000 316.5px)"></i><i style="left:212px;width:4px;background:linear-gradient(#000 0.5px,#000 116.5px,#090909 117.5px,#393939 120.5px,#424242 121.5px,#666 128.5px,#979797 137.5px,#ababab 142.5px,#b7b7b7 147.5px,#bbb 153.5px,#b9b9b9 163.5px,#afafaf 170.5px,#9d9d9d 177.5px,#7a7a7a 186.5px,#4a4a4a 198.5px,#3f3f3f 201.5px,#323232 202.5px,#030303 205.5px,#000 206.5px,#000 316.5px)"></i><i style="left:216px;width:4px;background:linear-gradient(#000 0.5px,#010101 117.5px,#0c0c0c 118.5px,#3c3c3c 121.5px,#434343 122.5px,#676767 129.5px,#989898 138.5px,#adadad 143.5px,#b9b9b9 148.5px,#bebebe 154.5px,#bcbcbc 164.5px,#b3b3b3 171.5px,#a0a0a0 178.5px,#7e7e7e 187.5px,#4c4c4c 199.5px,#424242 202.5px,#3a3a3a 203.5px,#0a0a0a 206.5px,#000 207.5px,#000 316.5px)"></i><i style="left:220px;width:4px;background:linear-gradient(#000 0.5px,#000 117.5px,#020202 118.5px,#1f1f1f 120.5px,#3e3e3e 122.5px,#6e6e6e 131.5px,#9a9a9a 139.5px,#afafaf 144.5px,#bcbcbc 149.5px,#c1c1c1 155.5px,#c0c0c0 165.5px,#b7b7b7 172.5px,#a5a5a5 179.5px,#868686 187.5px,#4e4e4e 200.5px,#404040 204.5px,#333 205.5px,#040404 208.5px,#000 209.5px,#000 316.5px)"></i><i style="left:224px;width:4px;background:linear-gradient(#000 0.5px,#000 118.5px,#030303 119.5px,#323232 122.5px,#404040 123.5px,#696969 131.5px,#9b9b9b 140.5px,#b0b0b0 145.5px,#bebebe 150.5px,#c4c4c4 156.5px,#c3c3c3 166.5px,#bbb 173.5px,#ababab 179.5px,#8d8d8d 187.5px,#505050 201.5px,#414141 205.5px,#373737 206.5px,#070707 209.5px,#000 210.5px,#000 316.5px)"></i><i style="left:228px;width:4px;background:linear-gradient(#000 0.5px,#000 119.5px,#060606 120.5px,#353535 123.5px,#414141 124.5px,#646464 131.5px,#9c9c9c 141.5px,#b1b1b1 146.5px,#c0c0c0 151.5px,#c6c6c6 156.5px,#c7c7c7 166.5px,#c0c0c0 173.5px,#b2b2b2 179.5px,#989898 186.5px,#505050 202.5px,#414141 206.5px,#373737 207.5px,#070707 210.5px,#000 211.5px,#000 316.5px)"></i><i style="left:232px;width:4px;background:linear-gradient(#000 0.5px,#000 120.5px,#090909 121.5px,#393939 124.5px,#424242 125.5px,#656565 132.5px,#a1a1a1 143.5px,#b6b6b6 148.5px,#c3c3c3 153.5px,#cacaca 159.5px,#c8c8c8 169.5px,#c1c1c1 175.5px,#b1b1b1 181.5px,#969696 188.5px,#505050 203.5px,#404040 207.5px,#333 208.5px,#040404 211.5px,#000 212.5px,#000 316.5px)"></i><i style="left:236px;width:4px;background:linear-gradient(#000 0.5px,#010101 121.5px,#0d0d0d 122.5px,#3c3c3c 125.5px,#484848 127.5px,#6c6c6c 134.5px,#a3a3a3 144.5px,#b8b8b8 149.5px,#c5c5c5 154.5px,#ccc 160.5px,#cbcbcb 170.5px,#c3c3c3 176.5px,#b3b3b3 182.5px,#979797 189.5px,#535353 203.5px,#434343 207.5px,#3d3d3d 208.5px,#0e0e0e 211.5px,#010101 212.5px,#000 316.5px)"></i><i style="left:240px;width:4px;background:linear-gradient(#000 0.5px,#000 121.5px,#030303 122.5px,#323232 125.5px,#404040 126.5px,#676767 134.5px,#a4a4a4 145.5px,#b9b9b9 150.5px,#c7c7c7 155.5px,#cecece 161.5px,#cecece 171.5px,#c6c6c6 177.5px,#b5b5b5 183.5px,#979797 190.5px,#525252 204.5px,#414141 208.5px,#363636 209.5px,#070707 212.5px,#000 213.5px,#000 316.5px)"></i><i style="left:244px;width:4px;background:linear-gradient(#000 0.5px,#000 122.5px,#080808 123.5px,#383838 126.5px,#424242 127.5px,#5e5e5e 133.5px,#a6a6a6 146.5px,#bcbcbc 151.5px,#cacaca 156.5px,#d1d1d1 162.5px,#d0d0d0 172.5px,#c8c8c8 178.5px,#b7b7b7 184.5px,#9d9d9d 190.5px,#545454 204.5px,#434343 208.5px,#3d3d3d 209.5px,#0f0f0f 212.5px,#010101 213.5px,#000 219.5px,#000 316.5px)"></i><i style="left:248px;width:4px;background:linear-gradient(#000 0.5px,#000 122.5px,#020202 123.5px,#1f1f1f 125.5px,#3e3e3e 127.5px,#6c6c6c 136.5px,#a4a4a4 146.5px,#bebebe 152.5px,#ccc 157.5px,#d3d3d3 163.5px,#d3d3d3 172.5px,#ccc 178.5px,#bfbfbf 183.5px,#a6a6a6 189.5px,#525252 205.5px,#414141 209.5px,#363636 210.5px,#060606 213.5px,#000 214.5px,#000 316.5px)"></i><i style="left:252px;width:4px;background:linear-gradient(#000 0.5px,#000 123.5px,#080808 124.5px,#383838 127.5px,#424242 128.5px,#5f5f5f 134.5px,#a8a8a8 147.5px,#bebebe 152.5px,#cdcdcd 157.5px,#d5d5d5 162.5px,#d7d7d7 171.5px,#d1d1d1 177.5px,#c6c6c6 182.5px,#b4b4b4 187.5px,#919191 194.5px,#555 205.5px,#434343 209.5px,#3c3c3c 210.5px,#0c0c0c 213.5px,#010101 214.5px,#000 316.5px)"></i><i style="left:256px;width:4px;background:linear-gradient(#000 0.5px,#000 123.5px,#040404 124.5px,#333 127.5px,#404040 128.5px,#626262 135.5px,#adadad 148.5px,#c3c3c3 153.5px,#d1d1d1 158.5px,#d9d9d9 164.5px,#d9d9d9 173.5px,#d1d1d1 179.5px,#c3c3c3 184.5px,#a9a9a9 190.5px,#565656 205.5px,#3f3f3f 210.5px,#212121 212.5px,#030303 214.5px,#000 215.5px,#000 316.5px)"></i><i style="left:260px;width:4px;background:linear-gradient(#000 0.5px,#000 123.5px,#020202 124.5px,#3e3e3e 128.5px,#686868 136.5px,#adadad 148.5px,#c4c4c4 153.5px,#d3d3d3 158.5px,#dadada 163.5px,#dcdcdc 172.5px,#d6d6d6 178.5px,#c9c9c9 183.5px,#b6b6b6 188.5px,#909090 195.5px,#585858 205.5px,#404040 210.5px,#343434 211.5px,#050505 214.5px,#000 215.5px,#000 316.5px)"></i><i style="left:264px;width:4px;background:linear-gradient(#000 0.5px,#000 123.5px,#020202 124.5px,#3f3f3f 128.5px,#686868 136.5px,#afafaf 148.5px,#c6c6c6 153.5px,#d6d6d6 158.5px,#ddd 163.5px,#dedede 172.5px,#d8d8d8 178.5px,#cbcbcb 183.5px,#b7b7b7 188.5px,#919191 195.5px,#585858 205.5px,#414141 210.5px,#353535 211.5px,#050505 214.5px,#000 215.5px,#000 316.5px)"></i><i style="left:268px;width:4px;background:linear-gradient(#000 0.5px,#000 123.5px,#040404 124.5px,#343434 127.5px,#404040 128.5px,#5e5e5e 134.5px,#b3b3b3 148.5px,#cacaca 153.5px,#d9d9d9 158.5px,#e0e0e0 163.5px,#e1e1e1 172.5px,#dadada 178.5px,#cdcdcd 183.5px,#b8b8b8 188.5px,#8b8b8b 196.5px,#575757 205.5px,#404040 210.5px,#333 211.5px,#040404 214.5px,#000 215.5px,#000 316.5px)"></i><i style="left:272px;width:4px;background:linear-gradient(#000 0.5px,#000 123.5px,#090909 124.5px,#393939 127.5px,#424242 128.5px,#616161 134.5px,#b1b1b1 147.5px,#cacaca 152.5px,#dadada 157.5px,#e2e2e2 162.5px,#e3e3e3 171.5px,#ddd 177.5px,#d0d0d0 182.5px,#bcbcbc 187.5px,#969696 194.5px,#5b5b5b 204.5px,#434343 209.5px,#3d3d3d 210.5px,#0e0e0e 213.5px,#010101 214.5px,#000 225.5px,#000 316.5px)"></i><i style="left:276px;width:4px;background:linear-gradient(#000 0.5px,#000 122.5px,#020202 123.5px,#202020 125.5px,#3e3e3e 127.5px,#646464 134.5px,#b0b0b0 146.5px,#cacaca 151.5px,#dbdbdb 156.5px,#e4e4e4 161.5px,#e6e6e6 169.5px,#e1e1e1 175.5px,#d6d6d6 180.5px,#c4c4c4 185.5px,#a5a5a5 191.5px,#5e5e5e 203.5px,#414141 209.5px,#373737 210.5px,#070707 213.5px,#000 214.5px,#000 316.5px)"></i><i style="left:280px;width:4px;background:linear-gradient(#000 0.5px,#000 122.5px,#070707 123.5px,#363636 126.5px,#424242 127.5px,#5c5c5c 132.5px,#b6b6b6 146.5px,#cfcfcf 151.5px,#dfdfdf 156.5px,#e7e7e7 161.5px,#e7e7e7 170.5px,#e0e0e0 176.5px,#d2d2d2 181.5px,#bdbdbd 186.5px,#8f8f8f 194.5px,#5b5b5b 203.5px,#434343 208.5px,#3c3c3c 209.5px,#0c0c0c 212.5px,#010101 213.5px,#000 316.5px)"></i><i style="left:284px;width:4px;background:linear-gradient(#000 0.5px,#000 121.5px,#010101 122.5px,#0e0e0e 123.5px,#3d3d3d 126.5px,#656565 133.5px,#b6b6b6 145.5px,#d0d0d0 150.5px,#e1e1e1 155.5px,#e9e9e9 160.5px,#e9e9e9 169.5px,#e2e2e2 175.5px,#d4d4d4 180.5px,#bfbfbf 185.5px,#979797 192.5px,#5c5c5c 202.5px,#3e3e3e 208.5px,#0f0f0f 211.5px,#020202 212.5px,#000 215.5px,#000 316.5px)"></i><i style="left:288px;width:4px;background:linear-gradient(#000 0.5px,#000 121.5px,#070707 122.5px,#363636 125.5px,#424242 126.5px,#5d5d5d 131.5px,#bcbcbc 145.5px,#d5d5d5 150.5px,#e3e3e3 154.5px,#ebebeb 159.5px,#ebebeb 168.5px,#e4e4e4 174.5px,#d6d6d6 179.5px,#c0c0c0 184.5px,#989898 191.5px,#5c5c5c 201.5px,#3e3e3e 207.5px,#020202 211.5px,#000 213.5px,#000 316.5px)"></i><i style="left:292px;width:4px;background:linear-gradient(#000 0.5px,#000 120.5px,#020202 121.5px,#202020 123.5px,#3e3e3e 125.5px,#686868 132.5px,#bcbcbc 144.5px,#d6d6d6 149.5px,#e4e4e4 153.5px,#ededed 158.5px,#eee 166.5px,#e8e8e8 172.5px,#dbdbdb 177.5px,#c6c6c6 182.5px,#9f9f9f 189.5px,#616161 199.5px,#3e3e3e 206.5px,#0f0f0f 209.5px,#020202 210.5px,#000 213.5px,#000 316.5px)"></i><i style="left:296px;width:4px;background:linear-gradient(#000 0.5px,#000 120.5px,#0a0a0a 121.5px,#393939 124.5px,#434343 125.5px,#5f5f5f 130.5px,#bcbcbc 143.5px,#d7d7d7 148.5px,#e6e6e6 152.5px,#efefef 157.5px,#f0f0f0 165.5px,#e9e9e9 171.5px,#dcdcdc 176.5px,#c7c7c7 181.5px,#9f9f9f 188.5px,#616161 198.5px,#434343 204.5px,#3d3d3d 205.5px,#0e0e0e 208.5px,#010101 209.5px,#000 316.5px)"></i><i style="left:300px;width:4px;background:linear-gradient(#000 0.5px,#000 119.5px,#050505 120.5px,#343434 123.5px,#414141 124.5px,#5e5e5e 129.5px,#bcbcbc 142.5px,#d8d8d8 147.5px,#e7e7e7 151.5px,#f0f0f0 156.5px,#f2f2f2 164.5px,#ebebeb 170.5px,#dedede 175.5px,#c9c9c9 180.5px,#a0a0a0 187.5px,#616161 197.5px,#434343 203.5px,#3c3c3c 204.5px,#0c0c0c 207.5px,#010101 208.5px,#000 316.5px)"></i><i style="left:304px;width:4px;background:linear-gradient(#000 0.5px,#000 118.5px,#020202 119.5px,#3f3f3f 123.5px,#636363 129.5px,#bcbcbc 141.5px,#d9d9d9 146.5px,#e9e9e9 150.5px,#f1f1f1 154.5px,#f4f4f4 160.5px,#f0f0f0 167.5px,#e6e6e6 172.5px,#d4d4d4 177.5px,#b4b4b4 183.5px,#616161 196.5px,#434343 202.5px,#3a3a3a 203.5px,#0b0b0b 206.5px,#000 207.5px,#000 316.5px)"></i><i style="left:308px;width:4px;background:linear-gradient(#000 0.5px,#010101 118.5px,#0d0d0d 119.5px,#3c3c3c 122.5px,#494949 124.5px,#696969 129.5px,#bcbcbc 140.5px,#dadada 145.5px,#eaeaea 149.5px,#f3f3f3 153.5px,#f6f6f6 159.5px,#f2f2f2 166.5px,#e8e8e8 171.5px,#d5d5d5 176.5px,#b5b5b5 182.5px,#616161 195.5px,#424242 201.5px,#3a3a3a 202.5px,#0a0a0a 205.5px,#000 206.5px,#000 316.5px)"></i><i style="left:312px;width:4px;background:linear-gradient(#000 0.5px,#000 117.5px,#0a0a0a 118.5px,#393939 121.5px,#434343 122.5px,#616161 127.5px,#c2c2c2 140.5px,#dadada 144.5px,#ebebeb 148.5px,#f4f4f4 152.5px,#f7f7f7 158.5px,#f4f4f4 165.5px,#e9e9e9 170.5px,#d7d7d7 175.5px,#bcbcbc 180.5px,#616161 194.5px,#424242 200.5px,#3a3a3a 201.5px,#0a0a0a 204.5px,#000 205.5px,#000 316.5px)"></i><i style="left:316px;width:4px;background:linear-gradient(#000 0.5px,#000 116.5px,#060606 117.5px,#363636 120.5px,#414141 121.5px,#5f5f5f 126.5px,#9c9c9c 134.5px,#c8c8c8 140.5px,#dfdfdf 144.5px,#eee 148.5px,#f6f6f6 152.5px,#f8f8f8 159.5px,#f3f3f3 165.5px,#e8e8e8 170.5px,#d3d3d3 175.5px,#b0b0b0 181.5px,#626262 193.5px,#474747 198.5px,#424242 199.5px,#3a3a3a 200.5px,#0a0a0a 203.5px,#000 204.5px,#000 316.5px)"></i><i style="left:320px;width:4px;background:linear-gradient(#000 0.5px,#000 115.5px,#020202 116.5px,#3f3f3f 120.5px,#646464 126.5px,#c0c0c0 138.5px,#d9d9d9 142.5px,#ebebeb 146.5px,#f5f5f5 150.5px,#f8f8f8 155.5px,#f7f7f7 162.5px,#eee 167.5px,#ddd 172.5px,#c4c4c4 177.5px,#898989 186.5px,#5c5c5c 193.5px,#434343 198.5px,#3a3a3a 199.5px,#0a0a0a 202.5px,#000 203.5px,#000 316.5px)"></i><i style="left:324px;width:4px;background:linear-gradient(#000 0.5px,#000 115.5px,#0a0a0a 116.5px,#393939 119.5px,#434343 120.5px,#616161 125.5px,#c5c5c5 138.5px,#dcdcdc 142.5px,#ededed 146.5px,#f6f6f6 150.5px,#f8f8f8 156.5px,#f6f6f6 162.5px,#ececec 167.5px,#d9d9d9 172.5px,#bebebe 177.5px,#626262 191.5px,#474747 196.5px,#434343 197.5px,#3a3a3a 198.5px,#0b0b0b 201.5px,#000 202.5px,#000 316.5px)"></i><i style="left:328px;width:4px;background:linear-gradient(#000 0.5px,#000 114.5px,#030303 115.5px,#3f3f3f 119.5px,#656565 125.5px,#c2c2c2 137.5px,#dadada 141.5px,#ebebeb 145.5px,#f5f5f5 149.5px,#f8f8f8 155.5px,#f5f5f5 161.5px,#ececec 166.5px,#dadada 171.5px,#bfbfbf 176.5px,#636363 190.5px,#474747 195.5px,#434343 196.5px,#3b3b3b 197.5px,#0b0b0b 200.5px,#000 201.5px,#000 316.5px)"></i><i style="left:332px;width:4px;background:linear-gradient(#000 0.5px,#000 114.5px,#080808 115.5px,#373737 118.5px,#424242 119.5px,#616161 124.5px,#bebebe 136.5px,#d7d7d7 140.5px,#e9e9e9 144.5px,#f3f3f3 148.5px,#f7f7f7 153.5px,#f4f4f4 160.5px,#ebebeb 165.5px,#dadada 170.5px,#bfbfbf 175.5px,#5d5d5d 190.5px,#434343 195.5px,#3c3c3c 196.5px,#0c0c0c 199.5px,#010101 200.5px,#000 316.5px)"></i><i style="left:336px;width:4px;background:linear-gradient(#000 0.5px,#010101 114.5px,#0d0d0d 115.5px,#3c3c3c 118.5px,#4a4a4a 120.5px,#6b6b6b 125.5px,#bababa 135.5px,#d4d4d4 139.5px,#e7e7e7 143.5px,#f1f1f1 147.5px,#f5f5f5 152.5px,#f3f3f3 159.5px,#eaeaea 164.5px,#d9d9d9 169.5px,#bfbfbf 174.5px,#5d5d5d 189.5px,#434343 194.5px,#3d3d3d 195.5px,#0e0e0e 198.5px,#010101 199.5px,#000 316.5px)"></i><i style="left:340px;width:4px;background:linear-gradient(#000 0.5px,#000 113.5px,#030303 114.5px,#323232 117.5px,#404040 118.5px,#5f5f5f 123.5px,#bdbdbd 135.5px,#d6d6d6 139.5px,#e7e7e7 143.5px,#f0f0f0 147.5px,#f3f3f3 153.5px,#f0f0f0 159.5px,#e7e7e7 164.5px,#d4d4d4 169.5px,#b9b9b9 174.5px,#5e5e5e 188.5px,#3e3e3e 194.5px,#020202 198.5px,#000 200.5px,#000 316.5px)"></i><i style="left:344px;width:4px;background:linear-gradient(#000 0.5px,#000 113.5px,#070707 114.5px,#363636 117.5px,#424242 118.5px,#616161 123.5px,#bfbfbf 135.5px,#d7d7d7 139.5px,#e7e7e7 143.5px,#efefef 147.5px,#f1f1f1 154.5px,#ececec 160.5px,#dfdfdf 165.5px,#cacaca 170.5px,#a6a6a6 176.5px,#5f5f5f 187.5px,#404040 193.5px,#333 194.5px,#040404 197.5px,#000 198.5px,#000 316.5px)"></i><i style="left:348px;width:4px;background:linear-gradient(#000 0.5px,#000 113.5px,#0a0a0a 114.5px,#3a3a3a 117.5px,#434343 118.5px,#636363 123.5px,#b9b9b9 134.5px,#d2d2d2 138.5px,#e3e3e3 142.5px,#ececec 146.5px,#eee 152.5px,#ebebeb 158.5px,#e1e1e1 163.5px,#cecece 168.5px,#adadad 174.5px,#616161 186.5px,#424242 192.5px,#393939 193.5px,#090909 196.5px,#000 197.5px,#000 316.5px)"></i><i style="left:352px;width:4px;background:linear-gradient(#000 0.5px,#010101 113.5px,#0d0d0d 114.5px,#3c3c3c 117.5px,#4a4a4a 119.5px,#6c6c6c 124.5px,#b3b3b3 133.5px,#cdcdcd 137.5px,#dfdfdf 141.5px,#e8e8e8 145.5px,#ebebeb 151.5px,#e8e8e8 157.5px,#dfdfdf 162.5px,#cdcdcd 167.5px,#aeaeae 173.5px,#5d5d5d 186.5px,#3f3f3f 192.5px,#020202 196.5px,#000 198.5px,#000 316.5px)"></i><i style="left:356px;width:4px;background:linear-gradient(#000 0.5px,#000 112.5px,#020202 113.5px,#1f1f1f 115.5px,#3e3e3e 117.5px,#666 123.5px,#b4b4b4 133.5px,#cdcdcd 137.5px,#ddd 141.5px,#e6e6e6 145.5px,#e8e8e8 152.5px,#e3e3e3 158.5px,#d7d7d7 163.5px,#c4c4c4 168.5px,#a3a3a3 174.5px,#5b5b5b 186.5px,#434343 191.5px,#3a3a3a 192.5px,#0b0b0b 195.5px,#000 196.5px,#000 316.5px)"></i><i style="left:360px;width:4px;background:linear-gradient(#000 0.5px,#000 112.5px,#020202 113.5px,#202020 115.5px,#3e3e3e 117.5px,#676767 123.5px,#b4b4b4 133.5px,#ccc 137.5px,#dcdcdc 141.5px,#e3e3e3 145.5px,#e4e4e4 153.5px,#ddd 159.5px,#cfcfcf 164.5px,#bababa 169.5px,#949494 176.5px,#595959 186.5px,#424242 191.5px,#383838 192.5px,#080808 195.5px,#000 196.5px,#000 316.5px)"></i><i style="left:364px;width:4px;background:linear-gradient(#000 0.5px,#000 112.5px,#020202 113.5px,#1f1f1f 115.5px,#3e3e3e 117.5px,#676767 123.5px,#adadad 132.5px,#c6c6c6 136.5px,#d6d6d6 140.5px,#dfdfdf 144.5px,#e1e1e1 151.5px,#dcdcdc 157.5px,#d2d2d2 162.5px,#c0c0c0 167.5px,#a2a2a2 173.5px,#595959 186.5px,#424242 191.5px,#393939 192.5px,#090909 195.5px,#000 196.5px,#000 316.5px)"></i><i style="left:368px;width:4px;background:linear-gradient(#000 0.5px,#010101 113.5px,#0e0e0e 114.5px,#3d3d3d 117.5px,#666 123.5px,#ababab 132.5px,#c3c3c3 136.5px,#d4d4d4 140.5px,#dbdbdb 144.5px,#dcdcdc 152.5px,#d7d7d7 158.5px,#cbcbcb 163.5px,#b4b4b4 169.5px,#8a8a8a 177.5px,#545454 187.5px,#434343 191.5px,#3c3c3c 192.5px,#0d0d0d 195.5px,#010101 196.5px,#000 316.5px)"></i><i style="left:372px;width:4px;background:linear-gradient(#000 0.5px,#000 113.5px,#0b0b0b 114.5px,#3b3b3b 117.5px,#444 118.5px,#646464 123.5px,#a8a8a8 132.5px,#c0c0c0 136.5px,#d0d0d0 140.5px,#d7d7d7 144.5px,#d8d8d8 152.5px,#d3d3d3 158.5px,#c5c5c5 164.5px,#aeaeae 170.5px,#7a7a7a 180.5px,#525252 188.5px,#414141 192.5px,#353535 193.5px,#060606 196.5px,#000 197.5px,#000 316.5px)"></i><i style="left:376px;width:4px;background:linear-gradient(#000 0.5px,#000 113.5px,#080808 114.5px,#383838 117.5px,#434343 118.5px,#626262 123.5px,#a4a4a4 132.5px,#bcbcbc 136.5px,#cbcbcb 140.5px,#d2d2d2 144.5px,#d3d3d3 152.5px,#cdcdcd 159.5px,#bfbfbf 165.5px,#a8a8a8 171.5px,#505050 189.5px,#404040 193.5px,#323232 194.5px,#030303 197.5px,#000 198.5px,#000 316.5px)"></i><i style="left:380px;width:4px;background:linear-gradient(#000 0.5px,#000 113.5px,#050505 114.5px,#353535 117.5px,#414141 118.5px,#606060 123.5px,#9f9f9f 132.5px,#b6b6b6 136.5px,#c5c5c5 140.5px,#cdcdcd 144.5px,#cecece 152.5px,#c9c9c9 159.5px,#bcbcbc 165.5px,#a8a8a8 171.5px,#7a7a7a 181.5px,#505050 190.5px,#404040 194.5px,#343434 195.5px,#050505 198.5px,#000 199.5px,#000 316.5px)"></i><i style="left:384px;width:4px;background:linear-gradient(#000 0.5px,#000 113.5px,#030303 114.5px,#3f3f3f 118.5px,#6a6a6a 125.5px,#9f9f9f 133.5px,#b4b4b4 137.5px,#c1c1c1 141.5px,#c8c8c8 146.5px,#c7c7c7 156.5px,#bebebe 163.5px,#aeaeae 169.5px,#8f8f8f 177.5px,#515151 191.5px,#424242 195.5px,#393939 196.5px,#0a0a0a 199.5px,#000 200.5px,#000 316.5px)"></i><i style="left:388px;width:4px;background:linear-gradient(#000 0.5px,#010101 114.5px,#0d0d0d 115.5px,#3c3c3c 118.5px,#494949 120.5px,#747474 127.5px,#9f9f9f 134.5px,#b1b1b1 138.5px,#bdbdbd 142.5px,#c3c3c3 147.5px,#c1c1c1 157.5px,#b9b9b9 164.5px,#a7a7a7 171.5px,#898989 179.5px,#4d4d4d 193.5px,#3e3e3e 197.5px,#0f0f0f 200.5px,#020202 201.5px,#000 204.5px,#000 316.5px)"></i><i style="left:392px;width:4px;background:linear-gradient(#000 0.5px,#000 114.5px,#080808 115.5px,#383838 118.5px,#424242 119.5px,#636363 125.5px,#999 134.5px,#afafaf 139.5px,#bbb 144.5px,#bfbfbf 150.5px,#bcbcbc 159.5px,#b2b2b2 166.5px,#a0a0a0 173.5px,#7e7e7e 182.5px,#4a4a4a 195.5px,#3f3f3f 198.5px,#323232 199.5px,#030303 202.5px,#000 203.5px,#000 316.5px)"></i><i style="left:396px;width:4px;background:linear-gradient(#000 0.5px,#000 114.5px,#040404 115.5px,#333 118.5px,#404040 119.5px,#666 126.5px,#949494 134.5px,#aaa 139.5px,#b7b7b7 144.5px,#bbb 150.5px,#b8b8b8 160.5px,#afafaf 167.5px,#9d9d9d 174.5px,#787878 184.5px,#494949 196.5px,#424242 198.5px,#3c3c3c 199.5px,#0d0d0d 202.5px,#010101 203.5px,#000 316.5px)"></i><i style="left:400px;width:4px;background:linear-gradient(#000 0.5px,#010101 115.5px,#0e0e0e 116.5px,#3d3d3d 119.5px,#484848 121.5px,#969696 135.5px,#aaa 140.5px,#b6b6b6 145.5px,#bababa 151.5px,#b7b7b7 161.5px,#adadad 168.5px,#9a9a9a 175.5px,#757575 185.5px,#474747 197.5px,#3f3f3f 199.5px,#323232 200.5px,#030303 203.5px,#000 204.5px,#000 316.5px)"></i><i style="left:404px;width:4px;background:linear-gradient(#000 0.5px,#000 115.5px,#060606 116.5px,#363636 119.5px,#424242 120.5px,#666 127.5px,#939393 135.5px,#a8a8a8 140.5px,#b5b5b5 145.5px,#bababa 151.5px,#b8b8b8 161.5px,#aeaeae 168.5px,#9d9d9d 175.5px,#7c7c7c 184.5px,#494949 197.5px,#424242 199.5px,#3c3c3c 200.5px,#0c0c0c 203.5px,#010101 204.5px,#000 316.5px)"></i><i style="left:408px;width:4px;background:linear-gradient(#000 0.5px,#010101 116.5px,#0d0d0d 117.5px,#3c3c3c 120.5px,#434343 121.5px,#686868 128.5px,#959595 136.5px,#aaa 141.5px,#b7b7b7 146.5px,#bcbcbc 152.5px,#bababa 162.5px,#b0b0b0 169.5px,#9f9f9f 176.5px,#7d7d7d 185.5px,#494949 198.5px,#434343 200.5px,#3d3d3d 201.5px,#0f0f0f 204.5px,#010101 205.5px,#000 210.5px,#000 316.5px)"></i><i style="left:412px;width:4px;background:linear-gradient(#000 0.5px,#000 116.5px,#030303 117.5px,#323232 120.5px,#3f3f3f 121.5px,#6a6a6a 129.5px,#979797 137.5px,#acacac 142.5px,#b9b9b9 147.5px,#bfbfbf 153.5px,#bdbdbd 163.5px,#b4b4b4 170.5px,#a2a2a2 177.5px,#808080 186.5px,#4b4b4b 199.5px,#414141 202.5px,#363636 203.5px,#060606 206.5px,#000 207.5px,#000 316.5px)"></i><i style="left:416px;width:4px;background:linear-gradient(#000 0.5px,#000 117.5px,#050505 118.5px,#353535 121.5px,#414141 122.5px,#656565 129.5px,#989898 138.5px,#aeaeae 143.5px,#bcbcbc 148.5px,#c2c2c2 153.5px,#c1c1c1 163.5px,#bababa 170.5px,#a9a9a9 177.5px,#8c8c8c 185.5px,#4d4d4d 200.5px,#424242 203.5px,#3c3c3c 204.5px,#0d0d0d 207.5px,#010101 208.5px,#000 316.5px)"></i><i style="left:420px;width:4px;background:linear-gradient(#000 0.5px,#000 118.5px,#070707 119.5px,#373737 122.5px,#424242 123.5px,#606060 129.5px,#9e9e9e 140.5px,#b3b3b3 145.5px,#c0c0c0 150.5px,#c5c5c5 156.5px,#c3c3c3 166.5px,#bababa 173.5px,#a6a6a6 180.5px,#828282 189.5px,#4e4e4e 201.5px,#3e3e3e 205.5px,#020202 209.5px,#000 211.5px,#000 316.5px)"></i><i style="left:424px;width:4px;background:linear-gradient(#000 0.5px,#000 119.5px,#090909 120.5px,#393939 123.5px,#424242 124.5px,#606060 130.5px,#9e9e9e 141.5px,#b4b4b4 146.5px,#c2c2c2 151.5px,#c8c8c8 157.5px,#c7c7c7 167.5px,#bdbdbd 174.5px,#adadad 180.5px,#8d8d8d 188.5px,#4e4e4e 202.5px,#3e3e3e 206.5px,#020202 210.5px,#000 212.5px,#000 316.5px)"></i><i style="left:428px;width:4px;background:linear-gradient(#000 0.5px,#000 120.5px,#0a0a0a 121.5px,#3a3a3a 124.5px,#424242 125.5px,#606060 131.5px,#9e9e9e 142.5px,#b4b4b4 147.5px,#c3c3c3 152.5px,#cacaca 157.5px,#cacaca 167.5px,#c3c3c3 174.5px,#b4b4b4 180.5px,#999 187.5px,#525252 202.5px,#434343 206.5px,#3c3c3c 207.5px,#0d0d0d 210.5px,#010101 211.5px,#000 316.5px)"></i><i style="left:432px;width:4px;background:linear-gradient(#000 0.5px,#010101 121.5px,#0c0c0c 122.5px,#3c3c3c 125.5px,#434343 126.5px,#606060 132.5px,#a3a3a3 144.5px,#b9b9b9 149.5px,#c6c6c6 154.5px,#cdcdcd 160.5px,#ccc 170.5px,#c4c4c4 176.5px,#b3b3b3 182.5px,#969696 189.5px,#515151 203.5px,#414141 207.5px,#373737 208.5px,#070707 211.5px,#000 212.5px,#000 316.5px)"></i><i style="left:436px;width:4px;background:linear-gradient(#000 0.5px,#000 121.5px,#020202 122.5px,#1f1f1f 124.5px,#3e3e3e 126.5px,#6c6c6c 135.5px,#a4a4a4 145.5px,#bababa 150.5px,#c8c8c8 155.5px,#d0d0d0 161.5px,#cfcfcf 171.5px,#c7c7c7 177.5px,#b6b6b6 183.5px,#9d9d9d 189.5px,#505050 204.5px,#3f3f3f 208.5px,#212121 210.5px,#030303 212.5px,#000 213.5px,#000 316.5px)"></i><i style="left:440px;width:4px;background:linear-gradient(#000 0.5px,#000 122.5px,#040404 123.5px,#333 126.5px,#404040 127.5px,#626262 134.5px,#a5a5a5 146.5px,#bbb 151.5px,#cacaca 156.5px,#d2d2d2 162.5px,#d2d2d2 172.5px,#cacaca 178.5px,#bcbcbc 183.5px,#a3a3a3 189.5px,#545454 204.5px,#424242 208.5px,#3a3a3a 209.5px,#0b0b0b 212.5px,#000 213.5px,#000 316.5px)"></i><i style="left:444px;width:4px;background:linear-gradient(#000 0.5px,#000 123.5px,#090909 124.5px,#383838 127.5px,#424242 128.5px,#5f5f5f 134.5px,#a7a7a7 147.5px,#bebebe 152.5px,#cdcdcd 157.5px,#d5d5d5 163.5px,#d5d5d5 172.5px,#cfcfcf 178.5px,#c2c2c2 183.5px,#a9a9a9 189.5px,#525252 205.5px,#404040 209.5px,#333 210.5px,#040404 213.5px,#000 214.5px,#000 316.5px)"></i><i style="left:448px;width:4px;background:linear-gradient(#000 0.5px,#000 123.5px,#020202 124.5px,#202020 126.5px,#3e3e3e 128.5px,#676767 136.5px,#ababab 148.5px,#c1c1c1 153.5px,#d0d0d0 158.5px,#d8d8d8 164.5px,#d8d8d8 173.5px,#d1d1d1 179.5px,#c4c4c4 184.5px,#aeaeae 189.5px,#7c7c7c 198.5px,#505050 206.5px,#434343 209.5px,#3b3b3b 210.5px,#0b0b0b 213.5px,#000 214.5px,#000 316.5px)"></i><i style="left:452px;width:4px;background:linear-gradient(#000 0.5px,#000 124.5px,#0a0a0a 125.5px,#3a3a3a 128.5px,#424242 129.5px,#5f5f5f 135.5px,#aaa 148.5px,#c5c5c5 154.5px,#d3d3d3 159.5px,#dbdbdb 165.5px,#dbdbdb 174.5px,#d5d5d5 179.5px,#c8c8c8 184.5px,#b3b3b3 189.5px,#868686 197.5px,#575757 205.5px,#3f3f3f 210.5px,#212121 212.5px,#030303 214.5px,#000 215.5px,#000 316.5px)"></i><i style="left:456px;width:4px;background:linear-gradient(#000 0.5px,#000 124.5px,#080808 125.5px,#383838 128.5px,#424242 129.5px,#5f5f5f 135.5px,#b0b0b0 149.5px,#c7c7c7 154.5px,#d6d6d6 159.5px,#ddd 164.5px,#dedede 173.5px,#d8d8d8 179.5px,#cbcbcb 184.5px,#b6b6b6 189.5px,#888 197.5px,#595959 205.5px,#414141 210.5px,#353535 211.5px,#050505 214.5px,#000 215.5px,#000 316.5px)"></i><i style="left:460px;width:4px;background:linear-gradient(#000 0.5px,#000 124.5px,#090909 125.5px,#393939 128.5px,#424242 129.5px,#606060 135.5px,#b3b3b3 149.5px,#cacaca 154.5px,#d9d9d9 159.5px,#e0e0e0 164.5px,#e1e1e1 173.5px,#dbdbdb 179.5px,#cdcdcd 184.5px,#b7b7b7 189.5px,#898989 197.5px,#595959 205.5px,#424242 210.5px,#373737 211.5px,#070707 214.5px,#000 215.5px,#000 316.5px)"></i><i style="left:464px;width:4px;background:linear-gradient(#000 0.5px,#010101 124.5px,#0d0d0d 125.5px,#3c3c3c 128.5px,#434343 129.5px,#626262 135.5px,#b1b1b1 148.5px,#c9c9c9 153.5px,#dadada 158.5px,#e2e2e2 163.5px,#e4e4e4 171.5px,#e0e0e0 177.5px,#d5d5d5 182.5px,#c2c2c2 187.5px,#a2a2a2 193.5px,#595959 205.5px,#414141 210.5px,#363636 211.5px,#060606 214.5px,#000 215.5px,#000 316.5px)"></i><i style="left:468px;width:4px;background:linear-gradient(#000 0.5px,#000 123.5px,#030303 124.5px,#323232 127.5px,#404040 128.5px,#646464 135.5px,#b5b5b5 148.5px,#cecece 153.5px,#dedede 158.5px,#e5e5e5 163.5px,#e7e7e7 172.5px,#e0e0e0 178.5px,#d3d3d3 183.5px,#bdbdbd 188.5px,#959595 195.5px,#5e5e5e 204.5px,#404040 210.5px,#343434 211.5px,#040404 214.5px,#000 215.5px,#000 316.5px)"></i><i style="left:472px;width:4px;background:linear-gradient(#000 0.5px,#000 123.5px,#090909 124.5px,#383838 127.5px,#424242 128.5px,#616161 134.5px,#b4b4b4 147.5px,#cecece 152.5px,#dfdfdf 157.5px,#e8e8e8 162.5px,#eaeaea 170.5px,#e5e5e5 176.5px,#d9d9d9 181.5px,#c6c6c6 186.5px,#a5a5a5 192.5px,#5c5c5c 204.5px,#3d3d3d 210.5px,#0f0f0f 213.5px,#010101 214.5px,#000 220.5px,#000 316.5px)"></i><i style="left:476px;width:4px;background:linear-gradient(#000 0.5px,#000 122.5px,#020202 123.5px,#1f1f1f 125.5px,#3e3e3e 127.5px,#656565 134.5px,#b9b9b9 147.5px,#d3d3d3 152.5px,#e3e3e3 157.5px,#ebebeb 162.5px,#ececec 171.5px,#e4e4e4 177.5px,#d6d6d6 182.5px,#c0c0c0 187.5px,#969696 194.5px,#5f5f5f 203.5px,#424242 209.5px,#373737 210.5px,#070707 213.5px,#000 214.5px,#000 316.5px)"></i><i style="left:480px;width:4px;background:linear-gradient(#000 0.5px,#000 122.5px,#060606 123.5px,#363636 126.5px,#424242 127.5px,#5c5c5c 132.5px,#989898 141.5px,#bfbfbf 147.5px,#d8d8d8 152.5px,#e7e7e7 157.5px,#eee 162.5px,#eee 171.5px,#e7e7e7 176.5px,#d9d9d9 181.5px,#c3c3c3 186.5px,#999 193.5px,#5c5c5c 203.5px,#434343 208.5px,#3c3c3c 209.5px,#0d0d0d 212.5px,#010101 213.5px,#000 316.5px)"></i><i style="left:484px;width:4px;background:linear-gradient(#000 0.5px,#010101 122.5px,#0e0e0e 123.5px,#3d3d3d 126.5px,#494949 128.5px,#666 133.5px,#b8b8b8 145.5px,#d4d4d4 150.5px,#e6e6e6 155.5px,#efefef 160.5px,#f1f1f1 168.5px,#ebebeb 174.5px,#dfdfdf 179.5px,#cacaca 184.5px,#a8a8a8 190.5px,#636363 201.5px,#3f3f3f 208.5px,#212121 210.5px,#030303 212.5px,#000 213.5px,#000 316.5px)"></i><i style="left:488px;width:4px;background:linear-gradient(#000 0.5px,#000 121.5px,#060606 122.5px,#363636 125.5px,#414141 126.5px,#5d5d5d 131.5px,#949494 139.5px,#c4c4c4 146.5px,#ddd 151.5px,#eaeaea 155.5px,#f2f2f2 160.5px,#f2f2f2 169.5px,#ececec 174.5px,#dedede 179.5px,#c8c8c8 184.5px,#9e9e9e 191.5px,#5f5f5f 201.5px,#414141 207.5px,#343434 208.5px,#050505 211.5px,#000 212.5px,#000 316.5px)"></i><i style="left:492px;width:4px;background:linear-gradient(#000 0.5px,#000 120.5px,#020202 121.5px,#1f1f1f 123.5px,#3e3e3e 125.5px,#676767 132.5px,#bdbdbd 144.5px,#d9d9d9 149.5px,#e9e9e9 153.5px,#f3f3f3 158.5px,#f6f6f6 165.5px,#f2f2f2 171.5px,#e7e7e7 176.5px,#d4d4d4 181.5px,#b3b3b3 187.5px,#606060 200.5px,#414141 206.5px,#363636 207.5px,#060606 210.5px,#000 211.5px,#000 316.5px)"></i><i style="left:496px;width:4px;background:linear-gradient(#000 0.5px,#000 120.5px,#0a0a0a 121.5px,#393939 124.5px,#434343 125.5px,#5f5f5f 130.5px,#989898 138.5px,#c3c3c3 144.5px,#dedede 149.5px,#ededed 153.5px,#f6f6f6 158.5px,#f7f7f7 166.5px,#f1f1f1 172.5px,#e3e3e3 177.5px,#cdcdcd 182.5px,#a9a9a9 188.5px,#616161 199.5px,#464646 204.5px,#424242 205.5px,#383838 206.5px,#080808 209.5px,#000 210.5px,#000 316.5px)"></i><i style="left:500px;width:4px;background:linear-gradient(#000 0.5px,#000 119.5px,#050505 120.5px,#353535 123.5px,#414141 124.5px,#5d5d5d 129.5px,#8f8f8f 136.5px,#c2c2c2 143.5px,#dedede 148.5px,#eee 152.5px,#f8f8f8 157.5px,#fafafa 164.5px,#f5f5f5 170.5px,#e9e9e9 175.5px,#d4d4d4 180.5px,#b1b1b1 186.5px,#626262 198.5px,#474747 203.5px,#424242 204.5px,#3a3a3a 205.5px,#0a0a0a 208.5px,#000 209.5px,#000 316.5px)"></i><i style="left:504px;width:4px;background:linear-gradient(#000 0.5px,#000 118.5px,#020202 119.5px,#3f3f3f 123.5px,#626262 129.5px,#c1c1c1 142.5px,#dedede 147.5px,#eee 151.5px,#f9f9f9 156.5px,#fbfbfb 163.5px,#f7f7f7 169.5px,#ebebeb 174.5px,#d7d7d7 179.5px,#b4b4b4 185.5px,#636363 197.5px,#484848 202.5px,#434343 203.5px,#3b3b3b 204.5px,#0c0c0c 207.5px,#000 208.5px,#000 316.5px)"></i><i style="left:508px;width:4px;background:linear-gradient(#000 0.5px,#010101 118.5px,#0d0d0d 119.5px,#3c3c3c 122.5px,#494949 124.5px,#676767 129.5px,#c6c6c6 142.5px,#e2e2e2 147.5px,#f1f1f1 151.5px,#fbfbfb 156.5px,#fcfcfc 164.5px,#f7f7f7 169.5px,#eaeaea 174.5px,#d4d4d4 179.5px,#afafaf 185.5px,#646464 196.5px,#484848 201.5px,#3d3d3d 203.5px,#0e0e0e 206.5px,#010101 207.5px,#000 316.5px)"></i><i style="left:512px;width:4px;background:linear-gradient(#000 0.5px,#000 117.5px,#090909 118.5px,#393939 121.5px,#424242 122.5px,#5f5f5f 127.5px,#929292 134.5px,#c5c5c5 141.5px,#e1e1e1 146.5px,#f1f1f1 150.5px,#fbfbfb 155.5px,#fdfdfd 162.5px,#f8f8f8 168.5px,#ebebeb 173.5px,#d5d5d5 178.5px,#b1b1b1 184.5px,#656565 195.5px,#494949 200.5px,#3e3e3e 202.5px,#0f0f0f 205.5px,#020202 206.5px,#000 210.5px,#000 316.5px)"></i><i style="left:516px;width:4px;background:linear-gradient(#000 0.5px,#000 116.5px,#040404 117.5px,#343434 120.5px,#404040 121.5px,#5d5d5d 126.5px,#8f8f8f 133.5px,#c3c3c3 140.5px,#e0e0e0 145.5px,#f0f0f0 149.5px,#f9f9f9 153.5px,#fdfdfd 159.5px,#fafafa 166.5px,#efefef 171.5px,#dcdcdc 176.5px,#bfbfbf 181.5px,#656565 194.5px,#494949 199.5px,#3e3e3e 201.5px,#101010 204.5px,#020202 205.5px,#000 208.5px,#000 316.5px)"></i><i style="left:520px;width:4px;background:linear-gradient(#000 0.5px,#010101 116.5px,#0d0d0d 117.5px,#3d3d3d 120.5px,#494949 122.5px,#686868 127.5px,#c1c1c1 139.5px,#dfdfdf 144.5px,#efefef 148.5px,#f9f9f9 152.5px,#fdfdfd 158.5px,#fafafa 165.5px,#f0f0f0 170.5px,#dcdcdc 175.5px,#bfbfbf 180.5px,#656565 193.5px,#494949 198.5px,#3e3e3e 200.5px,#0f0f0f 203.5px,#020202 204.5px,#000 207.5px,#000 316.5px)"></i><i style="left:524px;width:4px;background:linear-gradient(#000 0.5px,#000 115.5px,#060606 116.5px,#363636 119.5px,#424242 120.5px,#5e5e5e 125.5px,#919191 132.5px,#c5c5c5 139.5px,#e2e2e2 144.5px,#f1f1f1 148.5px,#fafafa 153.5px,#fcfcfc 161.5px,#f6f6f6 166.5px,#e8e8e8 171.5px,#d1d1d1 176.5px,#ababab 182.5px,#656565 192.5px,#494949 197.5px,#3d3d3d 199.5px,#0e0e0e 202.5px,#010101 203.5px,#000 217.5px,#000 316.5px)"></i><i style="left:528px;width:4px;background:linear-gradient(#000 0.5px,#010101 115.5px,#0e0e0e 116.5px,#3d3d3d 119.5px,#494949 121.5px,#686868 126.5px,#c2c2c2 138.5px,#e0e0e0 143.5px,#efefef 147.5px,#f8f8f8 151.5px,#fbfbfb 157.5px,#f8f8f8 163.5px,#eee 168.5px,#dbdbdb 173.5px,#bebebe 178.5px,#656565 191.5px,#484848 196.5px,#3c3c3c 198.5px,#0d0d0d 201.5px,#010101 202.5px,#000 316.5px)"></i><i style="left:532px;width:4px;background:linear-gradient(#000 0.5px,#000 114.5px,#050505 115.5px,#343434 118.5px,#414141 119.5px,#5e5e5e 124.5px,#929292 131.5px,#c6c6c6 138.5px,#ddd 142.5px,#ededed 146.5px,#f6f6f6 150.5px,#f9f9f9 156.5px,#f6f6f6 162.5px,#ececec 167.5px,#d9d9d9 172.5px,#bdbdbd 177.5px,#646464 190.5px,#484848 195.5px,#434343 196.5px,#3c3c3c 197.5px,#0c0c0c 200.5px,#010101 201.5px,#000 316.5px)"></i><i style="left:536px;width:4px;background:linear-gradient(#000 0.5px,#000 114.5px,#0a0a0a 115.5px,#3a3a3a 118.5px,#434343 119.5px,#616161 124.5px,#c2c2c2 137.5px,#dadada 141.5px,#eaeaea 145.5px,#f3f3f3 149.5px,#f7f7f7 155.5px,#f4f4f4 161.5px,#eaeaea 166.5px,#d7d7d7 171.5px,#bbb 176.5px,#5e5e5e 190.5px,#434343 195.5px,#3b3b3b 196.5px,#0c0c0c 199.5px,#000 200.5px,#000 316.5px)"></i><i style="left:540px;width:4px;background:linear-gradient(#000 0.5px,#000 113.5px,#020202 114.5px,#202020 116.5px,#3e3e3e 118.5px,#646464 124.5px,#bfbfbf 136.5px,#d7d7d7 140.5px,#e7e7e7 144.5px,#f1f1f1 148.5px,#f4f4f4 154.5px,#f1f1f1 160.5px,#e7e7e7 165.5px,#d5d5d5 170.5px,#bababa 175.5px,#5d5d5d 189.5px,#434343 194.5px,#3c3c3c 195.5px,#0d0d0d 198.5px,#010101 199.5px,#000 316.5px)"></i><i style="left:544px;width:4px;background:linear-gradient(#000 0.5px,#000 113.5px,#050505 114.5px,#343434 117.5px,#414141 118.5px,#5f5f5f 123.5px,#bababa 135.5px,#d3d3d3 139.5px,#e4e4e4 143.5px,#ededed 147.5px,#f1f1f1 153.5px,#eee 159.5px,#e4e4e4 164.5px,#d2d2d2 169.5px,#b8b8b8 174.5px,#5e5e5e 188.5px,#3e3e3e 194.5px,#0f0f0f 197.5px,#010101 198.5px,#000 203.5px,#000 316.5px)"></i><i style="left:548px;width:4px;background:linear-gradient(#000 0.5px,#000 113.5px,#090909 114.5px,#383838 117.5px,#434343 118.5px,#626262 123.5px,#b6b6b6 134.5px,#cfcfcf 138.5px,#e0e0e0 142.5px,#eaeaea 146.5px,#ededed 152.5px,#eaeaea 158.5px,#e1e1e1 163.5px,#d0d0d0 168.5px,#b6b6b6 173.5px,#5e5e5e 187.5px,#404040 193.5px,#333 194.5px,#040404 197.5px,#000 198.5px,#000 316.5px)"></i><i style="left:552px;width:4px;background:linear-gradient(#000 0.5px,#000 113.5px,#0c0c0c 114.5px,#3b3b3b 117.5px,#444 118.5px,#646464 123.5px,#b8b8b8 134.5px,#d0d0d0 138.5px,#dfdfdf 142.5px,#e7e7e7 146.5px,#e9e9e9 153.5px,#e4e4e4 159.5px,#d8d8d8 164.5px,#c4c4c4 169.5px,#a3a3a3 175.5px,#5a5a5a 187.5px,#424242 192.5px,#393939 193.5px,#090909 196.5px,#000 197.5px,#000 316.5px)"></i><i style="left:556px;width:4px;background:linear-gradient(#000 0.5px,#010101 113.5px,#0d0d0d 114.5px,#3d3d3d 117.5px,#6d6d6d 124.5px,#b2b2b2 133.5px,#cbcbcb 137.5px,#dbdbdb 141.5px,#e3e3e3 145.5px,#e5e5e5 152.5px,#e0e0e0 158.5px,#d5d5d5 163.5px,#c2c2c2 168.5px,#a3a3a3 174.5px,#5d5d5d 186.5px,#404040 192.5px,#323232 193.5px,#040404 196.5px,#000 197.5px,#000 316.5px)"></i><i style="left:560px;width:4px;background:linear-gradient(#000 0.5px,#010101 113.5px,#0e0e0e 114.5px,#3d3d3d 117.5px,#666 123.5px,#acacac 132.5px,#c5c5c5 136.5px,#d6d6d6 140.5px,#dfdfdf 144.5px,#e0e0e0 151.5px,#dcdcdc 157.5px,#d2d2d2 162.5px,#c1c1c1 167.5px,#a3a3a3 173.5px,#5a5a5a 186.5px,#3e3e3e 192.5px,#0f0f0f 195.5px,#020202 196.5px,#000 200.5px,#000 316.5px)"></i><i style="left:564px;width:4px;background:linear-gradient(#000 0.5px,#010101 113.5px,#0d0d0d 114.5px,#3d3d3d 117.5px,#6e6e6e 124.5px,#acacac 132.5px,#c4c4c4 136.5px,#d3d3d3 140.5px,#dbdbdb 144.5px,#dbdbdb 152.5px,#d5d5d5 158.5px,#c9c9c9 163.5px,#b3b3b3 169.5px,#8a8a8a 177.5px,#555 187.5px,#3e3e3e 192.5px,#0f0f0f 195.5px,#020202 196.5px,#000 199.5px,#000 316.5px)"></i><i style="left:568px;width:4px;background:linear-gradient(#000 0.5px,#000 113.5px,#0b0b0b 114.5px,#3b3b3b 117.5px,#444 118.5px,#656565 123.5px,#a9a9a9 132.5px,#c1c1c1 136.5px,#d0d0d0 140.5px,#d6d6d6 144.5px,#d6d6d6 153.5px,#cfcfcf 159.5px,#c0c0c0 165.5px,#a7a7a7 171.5px,#525252 188.5px,#414141 192.5px,#373737 193.5px,#070707 196.5px,#000 197.5px,#000 316.5px)"></i><i style="left:572px;width:4px;background:linear-gradient(#000 0.5px,#000 113.5px,#080808 114.5px,#383838 117.5px,#424242 118.5px,#626262 123.5px,#a5a5a5 132.5px,#bcbcbc 136.5px,#cbcbcb 140.5px,#d1d1d1 144.5px,#d2d2d2 153.5px,#cbcbcb 159.5px,#bdbdbd 165.5px,#a7a7a7 171.5px,#505050 189.5px,#404040 193.5px,#343434 194.5px,#050505 197.5px,#000 198.5px,#000 316.5px)"></i><i style="left:576px;width:4px;background:linear-gradient(#000 0.5px,#000 113.5px,#050505 114.5px,#343434 117.5px,#414141 118.5px,#606060 123.5px,#9f9f9f 132.5px,#b5b5b5 136.5px,#c4c4c4 140.5px,#ccc 144.5px,#cdcdcd 152.5px,#c7c7c7 159.5px,#bbb 165.5px,#a3a3a3 172.5px,#505050 190.5px,#414141 194.5px,#363636 195.5px,#070707 198.5px,#000 199.5px,#000 316.5px)"></i><i style="left:580px;width:4px;background:linear-gradient(#000 0.5px,#000 113.5px,#020202 114.5px,#3f3f3f 118.5px,#6a6a6a 125.5px,#9f9f9f 133.5px,#b3b3b3 137.5px,#c0c0c0 141.5px,#c7c7c7 146.5px,#c6c6c6 156.5px,#bdbdbd 163.5px,#adadad 169.5px,#8f8f8f 177.5px,#515151 191.5px,#424242 195.5px,#3c3c3c 196.5px,#0c0c0c 199.5px,#010101 200.5px,#000 316.5px)"></i><i style="left:584px;width:4px;background:linear-gradient(#000 0.5px,#010101 114.5px,#0c0c0c 115.5px,#3c3c3c 118.5px,#444 119.5px,#666 125.5px,#999 133.5px,#b0b0b0 138.5px,#bcbcbc 142.5px,#c2c2c2 147.5px,#c1c1c1 157.5px,#b8b8b8 164.5px,#a6a6a6 171.5px,#898989 179.5px,#4e4e4e 193.5px,#3f3f3f 197.5px,#323232 198.5px,#030303 201.5px,#000 202.5px,#000 316.5px)"></i><i style="left:588px;width:4px;background:linear-gradient(#000 0.5px,#000 114.5px,#080808 115.5px,#383838 118.5px,#424242 119.5px,#636363 125.5px,#999 134.5px,#aeaeae 139.5px,#bababa 144.5px,#bebebe 150.5px,#bbb 159.5px,#b2b2b2 166.5px,#a0a0a0 173.5px,#7e7e7e 182.5px,#4a4a4a 195.5px,#404040 198.5px,#343434 199.5px,#040404 202.5px,#000 203.5px,#000 316.5px)"></i><i style="left:592px;width:4px;background:linear-gradient(#000 0.5px,#000 114.5px,#040404 115.5px,#333 118.5px,#404040 119.5px,#666 126.5px,#949494 134.5px,#aaa 139.5px,#b6b6b6 144.5px,#bbb 150.5px,#b8b8b8 160.5px,#afafaf 167.5px,#9d9d9d 174.5px,#787878 184.5px,#494949 196.5px,#424242 198.5px,#3d3d3d 199.5px,#0e0e0e 202.5px,#010101 203.5px,#000 316.5px)"></i><i style="left:596px;width:4px;background:linear-gradient(#000 0.5px,#010101 115.5px,#0d0d0d 116.5px,#3c3c3c 119.5px,#434343 120.5px,#696969 127.5px,#959595 135.5px,#aaa 140.5px,#b5b5b5 145.5px,#b9b9b9 151.5px,#b7b7b7 161.5px,#adadad 168.5px,#9a9a9a 175.5px,#757575 185.5px,#474747 197.5px,#404040 199.5px,#333 200.5px,#040404 203.5px,#000 204.5px,#000 316.5px)"></i><i style="left:600px;width:3px;background:linear-gradient(#000 0.5px,#000 115.5px,#070707 116.5px,#373737 119.5px,#424242 120.5px,#666 127.5px,#939393 135.5px,#a8a8a8 140.5px,#b5b5b5 145.5px,#bababa 151.5px,#b7b7b7 161.5px,#aeaeae 168.5px,#9c9c9c 175.5px,#7b7b7b 184.5px,#484848 197.5px,#424242 199.5px,#3a3a3a 200.5px,#0a0a0a 203.5px,#000 204.5px,#000 316.5px)"></i></div></div>
<div class="hm" style="left:138px;top:529px;width:591px;height:317px"><div class="hi" style="left:-6px;width:603px;filter:url(#cmb)"><i style="left:0px;width:4px;background:linear-gradient(#000 0.5px,#010101 73.5px,#2a2a2a 77.5px,#3e3e3e 79.5px,#5f5f5f 97.5px,#8b8b8b 115.5px,#c3c3c3 137.5px,#d8d8d8 148.5px,#e2e2e2 158.5px,#e2e2e2 166.5px,#dadada 174.5px,#c7c7c7 184.5px,#9d9d9d 199.5px,#686868 218.5px,#4b4b4b 231.5px,#414141 237.5px,#3c3c3c 238.5px,#070707 243.5px,#000 244.5px,#000 316.5px)"></i><i style="left:4px;width:4px;background:linear-gradient(#000 0.5px,#000 57.5px,#0f0f0f 59.5px,#101010 75.5px,#121212 76.5px,#3b3b3b 80.5px,#414141 81.5px,#585858 95.5px,#7e7e7e 111.5px,#c2c2c2 137.5px,#d8d8d8 148.5px,#e2e2e2 157.5px,#e4e4e4 165.5px,#ddd 173.5px,#cdcdcd 182.5px,#ababab 195.5px,#6b6b6b 217.5px,#4e4e4e 230.5px,#3f3f3f 238.5px,#0d0d0d 243.5px,#101010 244.5px,#101010 253.5px,#0b0b0b 254.5px,#020202 255.5px,#000 259.5px,#000 316.5px)"></i><i style="left:8px;width:4px;background:linear-gradient(#000 0.5px,#000 57.5px,#121212 59.5px,#141414 77.5px,#272727 79.5px,#3c3c3c 81.5px,#414141 82.5px,#595959 96.5px,#7f7f7f 112.5px,#c4c4c4 138.5px,#dadada 149.5px,#e4e4e4 158.5px,#e5e5e5 166.5px,#dedede 174.5px,#cdcdcd 183.5px,#aaa 196.5px,#6a6a6a 218.5px,#4d4d4d 231.5px,#404040 238.5px,#3a3a3a 239.5px,#101010 243.5px,#131313 244.5px,#131313 253.5px,#0d0d0d 254.5px,#020202 255.5px,#000 257.5px,#000 316.5px)"></i><i style="left:12px;width:4px;background:linear-gradient(#000 0.5px,#000 66.5px,#040404 67.5px,#101010 68.5px,#131313 69.5px,#131313 77.5px,#171717 78.5px,#363636 81.5px,#3f3f3f 82.5px,#5c5c5c 98.5px,#848484 114.5px,#c5c5c5 138.5px,#dbdbdb 149.5px,#e5e5e5 158.5px,#e7e7e7 166.5px,#e0e0e0 174.5px,#cfcfcf 183.5px,#acacac 196.5px,#6b6b6b 218.5px,#4d4d4d 231.5px,#414141 238.5px,#3d3d3d 239.5px,#131313 243.5px,#131313 253.5px,#0d0d0d 254.5px,#020202 255.5px,#000 257.5px,#000 316.5px)"></i><i style="left:16px;width:4px;background:linear-gradient(#000 0.5px,#000 66.5px,#040404 67.5px,#101010 68.5px,#131313 69.5px,#131313 77.5px,#151515 78.5px,#3e3e3e 82.5px,#444 85.5px,#5e5e5e 99.5px,#868686 115.5px,#c5c5c5 138.5px,#dcdcdc 149.5px,#e7e7e7 158.5px,#e9e9e9 166.5px,#e2e2e2 174.5px,#d1d1d1 183.5px,#aeaeae 196.5px,#6c6c6c 218.5px,#4e4e4e 231.5px,#3f3f3f 239.5px,#202020 242.5px,#1a1a1a 243.5px,#1a1a1a 247.5px,#151515 248.5px,#050505 249.5px,#000 250.5px,#000 316.5px)"></i><i style="left:20px;width:4px;background:linear-gradient(#000 0.5px,#000 66.5px,#040404 67.5px,#101010 68.5px,#131313 69.5px,#141414 78.5px,#3d3d3d 82.5px,#424242 84.5px,#5c5c5c 98.5px,#818181 113.5px,#c6c6c6 138.5px,#ddd 149.5px,#e8e8e8 158.5px,#eaeaea 166.5px,#e3e3e3 174.5px,#d2d2d2 183.5px,#afafaf 196.5px,#6d6d6d 218.5px,#4e4e4e 231.5px,#404040 239.5px,#383838 240.5px,#232323 242.5px,#1a1a1a 243.5px,#1a1a1a 247.5px,#151515 248.5px,#050505 249.5px,#000 250.5px,#000 316.5px)"></i><i style="left:24px;width:4px;background:linear-gradient(#000 0.5px,#000 66.5px,#040404 67.5px,#101010 68.5px,#131313 69.5px,#131313 77.5px,#151515 78.5px,#3e3e3e 82.5px,#444 85.5px,#5e5e5e 99.5px,#878787 115.5px,#c7c7c7 138.5px,#dedede 149.5px,#e9e9e9 158.5px,#ebebeb 166.5px,#e4e4e4 174.5px,#d3d3d3 183.5px,#b0b0b0 196.5px,#6e6e6e 218.5px,#4f4f4f 231.5px,#414141 239.5px,#3a3a3a 240.5px,#1b1b1b 243.5px,#1a1a1a 245.5px,#1a1a1a 247.5px,#151515 248.5px,#050505 249.5px,#000 250.5px,#000 316.5px)"></i><i style="left:28px;width:4px;background:linear-gradient(#000 0.5px,#000 66.5px,#040404 67.5px,#101010 68.5px,#131313 69.5px,#141414 77.5px,#323232 80.5px,#3d3d3d 81.5px,#414141 82.5px,#5a5a5a 96.5px,#7e7e7e 111.5px,#c9c9c9 138.5px,#e0e0e0 149.5px,#ebebeb 158.5px,#ececec 166.5px,#e5e5e5 174.5px,#d4d4d4 183.5px,#b0b0b0 196.5px,#6e6e6e 218.5px,#4f4f4f 231.5px,#414141 239.5px,#3c3c3c 240.5px,#1d1d1d 243.5px,#1a1a1a 244.5px,#1a1a1a 247.5px,#151515 248.5px,#050505 249.5px,#000 250.5px,#000 316.5px)"></i><i style="left:32px;width:4px;background:linear-gradient(#000 0.5px,#000 66.5px,#040404 67.5px,#101010 68.5px,#131313 69.5px,#131313 75.5px,#171717 76.5px,#373737 79.5px,#3f3f3f 80.5px,#5a5a5a 95.5px,#7e7e7e 110.5px,#c9c9c9 137.5px,#e0e0e0 148.5px,#ebebeb 157.5px,#eee 165.5px,#e7e7e7 173.5px,#d7d7d7 182.5px,#b7b7b7 194.5px,#6e6e6e 218.5px,#4f4f4f 231.5px,#414141 239.5px,#3d3d3d 240.5px,#1e1e1e 243.5px,#1a1a1a 244.5px,#1a1a1a 247.5px,#151515 248.5px,#050505 249.5px,#000 250.5px,#000 316.5px)"></i><i style="left:36px;width:4px;background:linear-gradient(#000 0.5px,#000 56.5px,#070707 57.5px,#121212 58.5px,#121212 61.5px,#000 63.5px,#000 66.5px,#040404 67.5px,#101010 68.5px,#131313 69.5px,#141414 74.5px,#3d3d3d 78.5px,#424242 80.5px,#5b5b5b 94.5px,#7f7f7f 109.5px,#ccc 137.5px,#e2e2e2 148.5px,#ededed 157.5px,#eee 165.5px,#e8e8e8 173.5px,#d7d7d7 182.5px,#b7b7b7 194.5px,#6e6e6e 218.5px,#4f4f4f 231.5px,#414141 239.5px,#3e3e3e 240.5px,#1e1e1e 243.5px,#1a1a1a 244.5px,#1a1a1a 247.5px,#151515 248.5px,#050505 249.5px,#000 250.5px,#000 316.5px)"></i><i style="left:40px;width:4px;background:linear-gradient(#000 0.5px,#000 56.5px,#070707 57.5px,#121212 58.5px,#121212 61.5px,#000 63.5px,#000 66.5px,#040404 67.5px,#101010 68.5px,#131313 69.5px,#131313 72.5px,#171717 73.5px,#373737 76.5px,#3f3f3f 77.5px,#5c5c5c 93.5px,#828282 109.5px,#ccc 136.5px,#e2e2e2 147.5px,#ededed 156.5px,#efefef 164.5px,#e9e9e9 172.5px,#d9d9d9 181.5px,#b9b9b9 193.5px,#717171 217.5px,#515151 230.5px,#414141 239.5px,#3e3e3e 240.5px,#1f1f1f 243.5px,#1a1a1a 244.5px,#1a1a1a 247.5px,#151515 248.5px,#050505 249.5px,#000 250.5px,#000 316.5px)"></i><i style="left:44px;width:4px;background:linear-gradient(#000 0.5px,#000 56.5px,#070707 57.5px,#121212 58.5px,#121212 61.5px,#000 63.5px,#000 66.5px,#040404 67.5px,#101010 68.5px,#131313 69.5px,#131313 71.5px,#161616 72.5px,#3f3f3f 76.5px,#5d5d5d 93.5px,#858585 109.5px,#ccc 135.5px,#e2e2e2 146.5px,#eee 155.5px,#f0f0f0 163.5px,#ebebeb 171.5px,#dbdbdb 180.5px,#bcbcbc 192.5px,#707070 217.5px,#515151 230.5px,#414141 239.5px,#3e3e3e 240.5px,#1f1f1f 243.5px,#1a1a1a 244.5px,#1a1a1a 247.5px,#151515 248.5px,#050505 249.5px,#000 250.5px,#000 316.5px)"></i><i style="left:48px;width:4px;background:linear-gradient(#000 0.5px,#000 56.5px,#070707 57.5px,#121212 58.5px,#121212 61.5px,#000 63.5px,#000 66.5px,#040404 67.5px,#101010 68.5px,#131313 69.5px,#151515 71.5px,#3e3e3e 75.5px,#424242 77.5px,#5b5b5b 91.5px,#7f7f7f 106.5px,#ccc 134.5px,#e3e3e3 145.5px,#eee 154.5px,#f1f1f1 162.5px,#ececec 170.5px,#ddd 179.5px,#bebebe 191.5px,#707070 217.5px,#515151 230.5px,#414141 239.5px,#3d3d3d 240.5px,#1e1e1e 243.5px,#1a1a1a 244.5px,#1a1a1a 247.5px,#151515 248.5px,#050505 249.5px,#000 250.5px,#000 316.5px)"></i><i style="left:52px;width:4px;background:linear-gradient(#000 0.5px,#000 56.5px,#070707 57.5px,#121212 58.5px,#121212 61.5px,#000 63.5px,#000 66.5px,#040404 67.5px,#101010 68.5px,#131313 69.5px,#141414 70.5px,#1c1c1c 71.5px,#3b3b3b 74.5px,#414141 75.5px,#595959 89.5px,#7c7c7c 104.5px,#cecece 134.5px,#e5e5e5 145.5px,#f0f0f0 154.5px,#f2f2f2 162.5px,#ececec 170.5px,#dcdcdc 179.5px,#bdbdbd 191.5px,#727272 216.5px,#535353 229.5px,#414141 239.5px,#3c3c3c 240.5px,#1c1c1c 243.5px,#1a1a1a 244.5px,#1a1a1a 247.5px,#151515 248.5px,#050505 249.5px,#000 250.5px,#000 316.5px)"></i><i style="left:56px;width:4px;background:linear-gradient(#000 0.5px,#000 56.5px,#070707 57.5px,#121212 58.5px,#121212 61.5px,#000 63.5px,#000 66.5px,#040404 67.5px,#101010 68.5px,#171717 70.5px,#373737 73.5px,#3f3f3f 74.5px,#5a5a5a 89.5px,#7e7e7e 104.5px,#cecece 133.5px,#e5e5e5 144.5px,#f1f1f1 153.5px,#f3f3f3 161.5px,#ededed 169.5px,#dedede 178.5px,#bfbfbf 190.5px,#717171 216.5px,#525252 229.5px,#404040 239.5px,#3a3a3a 240.5px,#1b1b1b 243.5px,#1a1a1a 247.5px,#151515 248.5px,#050505 249.5px,#000 250.5px,#000 316.5px)"></i><i style="left:60px;width:4px;background:linear-gradient(#000 0.5px,#000 66.5px,#040404 67.5px,#101010 68.5px,#131313 69.5px,#191919 70.5px,#393939 73.5px,#404040 74.5px,#595959 88.5px,#7d7d7d 103.5px,#cecece 132.5px,#e6e6e6 143.5px,#f2f2f2 152.5px,#f4f4f4 160.5px,#efefef 168.5px,#dfdfdf 177.5px,#c1c1c1 189.5px,#737373 215.5px,#545454 228.5px,#404040 239.5px,#2d2d2d 241.5px,#181818 243.5px,#151515 244.5px,#151515 247.5px,#111 248.5px,#040404 249.5px,#000 250.5px,#000 316.5px)"></i><i style="left:64px;width:4px;background:linear-gradient(#000 0.5px,#000 66.5px,#040404 67.5px,#101010 68.5px,#191919 70.5px,#393939 73.5px,#404040 74.5px,#595959 88.5px,#7b7b7b 102.5px,#d1d1d1 132.5px,#e8e8e8 143.5px,#f4f4f4 152.5px,#f5f5f5 160.5px,#efefef 168.5px,#dfdfdf 177.5px,#bfbfbf 189.5px,#727272 215.5px,#535353 228.5px,#3e3e3e 239.5px,#010101 245.5px,#000 316.5px)"></i><i style="left:68px;width:4px;background:linear-gradient(#000 0.5px,#000 66.5px,#040404 67.5px,#101010 68.5px,#181818 70.5px,#383838 73.5px,#404040 74.5px,#595959 88.5px,#7c7c7c 102.5px,#d1d1d1 131.5px,#e9e9e9 142.5px,#f5f5f5 151.5px,#f7f7f7 159.5px,#f0f0f0 167.5px,#e0e0e0 176.5px,#c1c1c1 188.5px,#737373 214.5px,#545454 227.5px,#414141 238.5px,#3c3c3c 239.5px,#070707 244.5px,#000 245.5px,#000 246.5px,#040404 247.5px,#101010 248.5px,#131313 249.5px,#131313 251.5px,#101010 252.5px,#040404 253.5px,#000 254.5px,#000 316.5px)"></i><i style="left:72px;width:4px;background:linear-gradient(#000 0.5px,#000 66.5px,#040404 67.5px,#101010 68.5px,#161616 70.5px,#3f3f3f 74.5px,#5c5c5c 89.5px,#808080 103.5px,#d3d3d3 131.5px,#eaeaea 141.5px,#f6f6f6 150.5px,#f8f8f8 158.5px,#f1f1f1 166.5px,#e2e2e2 175.5px,#c3c3c3 187.5px,#727272 214.5px,#545454 227.5px,#404040 238.5px,#3a3a3a 239.5px,#050505 244.5px,#000 245.5px,#000 246.5px,#040404 247.5px,#101010 248.5px,#131313 249.5px,#131313 251.5px,#101010 252.5px,#040404 253.5px,#000 254.5px,#000 316.5px)"></i><i style="left:76px;width:4px;background:linear-gradient(#000 0.5px,#000 66.5px,#040404 67.5px,#101010 68.5px,#131313 69.5px,#141414 70.5px,#3d3d3d 74.5px,#414141 75.5px,#595959 88.5px,#7d7d7d 102.5px,#d3d3d3 130.5px,#eaeaea 140.5px,#f7f7f7 149.5px,#f9f9f9 157.5px,#f3f3f3 165.5px,#e3e3e3 174.5px,#c4c4c4 186.5px,#747474 213.5px,#535353 227.5px,#404040 238.5px,#2c2c2c 240.5px,#020202 244.5px,#000 245.5px,#000 246.5px,#040404 247.5px,#101010 248.5px,#131313 249.5px,#131313 251.5px,#101010 252.5px,#040404 253.5px,#000 254.5px,#000 316.5px)"></i><i style="left:80px;width:4px;background:linear-gradient(#000 0.5px,#010101 65.5px,#0f0f0f 66.5px,#1a1a1a 67.5px,#1c1c1c 71.5px,#3a3a3a 74.5px,#404040 75.5px,#595959 88.5px,#7b7b7b 101.5px,#d5d5d5 130.5px,#ececec 140.5px,#f7f7f7 148.5px,#fafafa 156.5px,#f4f4f4 164.5px,#e5e5e5 173.5px,#c6c6c6 185.5px,#737373 213.5px,#525252 227.5px,#3e3e3e 238.5px,#010101 244.5px,#000 246.5px,#040404 247.5px,#101010 248.5px,#131313 249.5px,#131313 251.5px,#101010 252.5px,#040404 253.5px,#000 254.5px,#000 316.5px)"></i><i style="left:84px;width:4px;background:linear-gradient(#000 0.5px,#000 64.5px,#010101 65.5px,#121212 66.5px,#202020 67.5px,#212121 72.5px,#3f3f3f 75.5px,#5b5b5b 89.5px,#7e7e7e 102.5px,#d4d4d4 129.5px,#ececec 139.5px,#f8f8f8 147.5px,#fbfbfb 154.5px,#f6f6f6 162.5px,#e8e8e8 171.5px,#cbcbcb 183.5px,#757575 212.5px,#545454 226.5px,#414141 237.5px,#3d3d3d 238.5px,#080808 243.5px,#000 244.5px,#000 246.5px,#040404 247.5px,#101010 248.5px,#131313 249.5px,#131313 251.5px,#101010 252.5px,#040404 253.5px,#000 254.5px,#000 316.5px)"></i><i style="left:88px;width:4px;background:linear-gradient(#000 0.5px,#000 64.5px,#010101 65.5px,#121212 66.5px,#202020 67.5px,#202020 72.5px,#272727 73.5px,#3c3c3c 75.5px,#414141 76.5px,#585858 88.5px,#7b7b7b 101.5px,#d6d6d6 129.5px,#eee 139.5px,#f9f9f9 147.5px,#fcfcfc 154.5px,#f6f6f6 162.5px,#e8e8e8 171.5px,#cacaca 183.5px,#747474 212.5px,#535353 226.5px,#414141 237.5px,#3b3b3b 238.5px,#060606 243.5px,#000 244.5px,#000 246.5px,#040404 247.5px,#101010 248.5px,#131313 249.5px,#131313 251.5px,#101010 252.5px,#040404 253.5px,#000 254.5px,#000 316.5px)"></i><i style="left:92px;width:4px;background:linear-gradient(#000 0.5px,#000 64.5px,#010101 65.5px,#121212 66.5px,#202020 67.5px,#202020 72.5px,#212121 73.5px,#3f3f3f 76.5px,#5c5c5c 90.5px,#818181 103.5px,#d4d4d4 128.5px,#ededed 138.5px,#fafafa 146.5px,#fdfdfd 153.5px,#f7f7f7 161.5px,#e9e9e9 170.5px,#ccc 182.5px,#737373 212.5px,#535353 226.5px,#404040 237.5px,#393939 238.5px,#040404 243.5px,#000 244.5px,#000 246.5px,#040404 247.5px,#101010 248.5px,#131313 249.5px,#131313 251.5px,#101010 252.5px,#040404 253.5px,#000 254.5px,#000 316.5px)"></i><i style="left:96px;width:4px;background:linear-gradient(#000 0.5px,#000 64.5px,#010101 65.5px,#121212 66.5px,#202020 67.5px,#202020 72.5px,#1c1c1c 73.5px,#222 74.5px,#373737 76.5px,#404040 77.5px,#5b5b5b 90.5px,#7d7d7d 102.5px,#d8d8d8 129.5px,#eee 138.5px,#fbfbfb 146.5px,#fdfdfd 153.5px,#f6f6f6 162.5px,#e4e4e4 172.5px,#c2c2c2 185.5px,#757575 211.5px,#545454 225.5px,#3f3f3f 237.5px,#212121 240.5px,#020202 243.5px,#000 245.5px,#000 316.5px)"></i><i style="left:100px;width:4px;background:linear-gradient(#000 0.5px,#000 64.5px,#010101 65.5px,#121212 66.5px,#202020 67.5px,#202020 72.5px,#161616 74.5px,#3f3f3f 78.5px,#5b5b5b 91.5px,#7e7e7e 103.5px,#d8d8d8 129.5px,#efefef 138.5px,#fbfbfb 146.5px,#fdfdfd 153.5px,#f6f6f6 162.5px,#e4e4e4 172.5px,#c1c1c1 185.5px,#777 210.5px,#565656 224.5px,#414141 236.5px,#3e3e3e 237.5px,#0a0a0a 242.5px,#010101 243.5px,#000 316.5px)"></i><i style="left:104px;width:4px;background:linear-gradient(#000 0.5px,#000 64.5px,#010101 65.5px,#121212 66.5px,#202020 67.5px,#202020 72.5px,#1a1a1a 73.5px,#0c0c0c 74.5px,#1f1f1f 76.5px,#3e3e3e 79.5px,#454545 82.5px,#5e5e5e 93.5px,#838383 105.5px,#d7d7d7 129.5px,#efefef 138.5px,#fafafa 145.5px,#fefefe 152.5px,#f8f8f8 160.5px,#eaeaea 169.5px,#ccc 181.5px,#747474 211.5px,#545454 225.5px,#414141 236.5px,#3c3c3c 237.5px,#070707 242.5px,#000 243.5px,#000 316.5px)"></i><i style="left:108px;width:4px;background:linear-gradient(#000 0.5px,#000 64.5px,#010101 65.5px,#121212 66.5px,#202020 67.5px,#202020 72.5px,#1a1a1a 73.5px,#060606 74.5px,#080808 75.5px,#3d3d3d 80.5px,#434343 82.5px,#5c5c5c 93.5px,#808080 105.5px,#d6d6d6 129.5px,#efefef 138.5px,#fafafa 145.5px,#fdfdfd 152.5px,#f8f8f8 160.5px,#eaeaea 169.5px,#ccc 181.5px,#747474 211.5px,#535353 225.5px,#404040 236.5px,#3a3a3a 237.5px,#050505 242.5px,#000 243.5px,#000 316.5px)"></i><i style="left:112px;width:4px;background:linear-gradient(#000 0.5px,#000 65.5px,#050505 67.5px,#040404 73.5px,#010101 74.5px,#000 75.5px,#070707 76.5px,#3c3c3c 81.5px,#414141 82.5px,#595959 93.5px,#7a7a7a 104.5px,#d8d8d8 130.5px,#eee 138.5px,#fafafa 145.5px,#fdfdfd 152.5px,#f8f8f8 160.5px,#e9e9e9 169.5px,#ccc 181.5px,#767676 210.5px,#555 224.5px,#404040 236.5px,#393939 237.5px,#0e0e0e 241.5px,#080808 242.5px,#070707 246.5px,#020202 247.5px,#000 248.5px,#000 316.5px)"></i><i style="left:116px;width:4px;background:linear-gradient(#000 0.5px,#000 76.5px,#050505 77.5px,#3a3a3a 82.5px,#414141 83.5px,#595959 94.5px,#7a7a7a 105.5px,#d6d6d6 130.5px,#ececec 138.5px,#f9f9f9 145.5px,#fdfdfd 152.5px,#f8f8f8 160.5px,#e9e9e9 169.5px,#ccc 181.5px,#767676 210.5px,#555 224.5px,#3f3f3f 236.5px,#2c2c2c 238.5px,#171717 240.5px,#131313 241.5px,#131313 245.5px,#111 246.5px,#060606 247.5px,#000 248.5px,#000 316.5px)"></i><i style="left:120px;width:4px;background:linear-gradient(#000 0.5px,#000 77.5px,#030303 78.5px,#383838 83.5px,#404040 84.5px,#595959 95.5px,#7b7b7b 106.5px,#d7d7d7 131.5px,#ededed 139.5px,#f9f9f9 146.5px,#fcfcfc 153.5px,#f6f6f6 161.5px,#e7e7e7 170.5px,#c9c9c9 182.5px,#767676 210.5px,#545454 224.5px,#3f3f3f 236.5px,#161616 240.5px,#131313 241.5px,#131313 245.5px,#111 246.5px,#060606 247.5px,#000 248.5px,#000 316.5px)"></i><i style="left:124px;width:4px;background:linear-gradient(#000 0.5px,#000 78.5px,#040404 79.5px,#393939 84.5px,#404040 85.5px,#595959 96.5px,#7c7c7c 107.5px,#d4d4d4 131.5px,#ebebeb 139.5px,#f8f8f8 146.5px,#fbfbfb 152.5px,#f7f7f7 160.5px,#e9e9e9 169.5px,#cecece 180.5px,#737373 211.5px,#545454 224.5px,#414141 235.5px,#3e3e3e 236.5px,#151515 240.5px,#131313 243.5px,#131313 245.5px,#111 246.5px,#060606 247.5px,#000 248.5px,#000 316.5px)"></i><i style="left:128px;width:4px;background:linear-gradient(#000 0.5px,#010101 79.5px,#2a2a2a 83.5px,#3e3e3e 85.5px,#5d5d5d 98.5px,#818181 109.5px,#d2d2d2 131.5px,#e9e9e9 139.5px,#f6f6f6 146.5px,#fafafa 153.5px,#f5f5f5 161.5px,#e7e7e7 170.5px,#c9c9c9 182.5px,#737373 211.5px,#545454 224.5px,#414141 235.5px,#3d3d3d 236.5px,#1d1d1d 239.5px,#141414 240.5px,#131313 245.5px,#111 246.5px,#060606 247.5px,#000 248.5px,#000 316.5px)"></i><i style="left:132px;width:4px;background:linear-gradient(#000 0.5px,#000 79.5px,#080808 80.5px,#3c3c3c 85.5px,#414141 86.5px,#5a5a5a 97.5px,#7c7c7c 108.5px,#d3d3d3 132.5px,#e9e9e9 140.5px,#f6f6f6 147.5px,#f9f9f9 154.5px,#f3f3f3 162.5px,#e4e4e4 171.5px,#c6c6c6 183.5px,#737373 211.5px,#545454 224.5px,#414141 235.5px,#3b3b3b 236.5px,#1c1c1c 239.5px,#141414 240.5px,#131313 245.5px,#111 246.5px,#060606 247.5px,#000 248.5px,#000 316.5px)"></i><i style="left:136px;width:4px;background:linear-gradient(#000 0.5px,#000 79.5px,#050505 80.5px,#3a3a3a 85.5px,#414141 86.5px,#595959 97.5px,#7a7a7a 108.5px,#d0d0d0 132.5px,#e9e9e9 141.5px,#f5f5f5 148.5px,#f7f7f7 155.5px,#f1f1f1 163.5px,#e2e2e2 172.5px,#c3c3c3 184.5px,#737373 211.5px,#545454 224.5px,#404040 235.5px,#3a3a3a 236.5px,#1a1a1a 239.5px,#131313 240.5px,#131313 245.5px,#111 246.5px,#060606 247.5px,#000 248.5px,#000 316.5px)"></i><i style="left:140px;width:4px;background:linear-gradient(#000 0.5px,#000 79.5px,#040404 80.5px,#393939 85.5px,#404040 86.5px,#585858 97.5px,#7c7c7c 109.5px,#d1d1d1 133.5px,#e9e9e9 142.5px,#f4f4f4 149.5px,#f6f6f6 156.5px,#efefef 164.5px,#dfdfdf 173.5px,#c0c0c0 185.5px,#737373 211.5px,#545454 224.5px,#404040 235.5px,#393939 236.5px,#191919 239.5px,#111 240.5px,#101010 245.5px,#0e0e0e 246.5px,#050505 247.5px,#000 248.5px,#000 316.5px)"></i><i style="left:144px;width:4px;background:linear-gradient(#000 0.5px,#000 79.5px,#020202 80.5px,#373737 85.5px,#404040 86.5px,#5a5a5a 98.5px,#7e7e7e 110.5px,#cecece 133.5px,#e6e6e6 142.5px,#f1f1f1 149.5px,#f4f4f4 156.5px,#eee 164.5px,#dfdfdf 173.5px,#c0c0c0 185.5px,#737373 211.5px,#545454 224.5px,#404040 235.5px,#383838 236.5px,#030303 241.5px,#000 242.5px,#000 316.5px)"></i><i style="left:148px;width:4px;background:linear-gradient(#000 0.5px,#000 79.5px,#020202 80.5px,#3f3f3f 86.5px,#5c5c5c 99.5px,#808080 111.5px,#cecece 134.5px,#e5e5e5 143.5px,#f0f0f0 150.5px,#f2f2f2 157.5px,#ececec 165.5px,#dcdcdc 174.5px,#bdbdbd 186.5px,#707070 212.5px,#515151 225.5px,#3f3f3f 235.5px,#2c2c2c 237.5px,#020202 241.5px,#000 243.5px,#000 316.5px)"></i><i style="left:152px;width:4px;background:linear-gradient(#000 0.5px,#000 79.5px,#010101 80.5px,#3f3f3f 86.5px,#5b5b5b 99.5px,#7e7e7e 111.5px,#cbcbcb 134.5px,#e2e2e2 143.5px,#eee 151.5px,#f0f0f0 158.5px,#eaeaea 166.5px,#dadada 175.5px,#bababa 187.5px,#707070 212.5px,#515151 225.5px,#3f3f3f 235.5px,#212121 238.5px,#1a1a1a 239.5px,#1a1a1a 243.5px,#181818 244.5px,#090909 245.5px,#000 246.5px,#000 316.5px)"></i><i style="left:156px;width:4px;background:linear-gradient(#000 0.5px,#010101 61.5px,#121212 63.5px,#121212 72.5px,#0e0e0e 73.5px,#030303 74.5px,#000 75.5px,#010101 80.5px,#3f3f3f 86.5px,#5d5d5d 100.5px,#848484 113.5px,#c9c9c9 134.5px,#dfdfdf 143.5px,#ececec 151.5px,#eee 158.5px,#e9e9e9 166.5px,#d9d9d9 175.5px,#bababa 187.5px,#707070 212.5px,#515151 225.5px,#3f3f3f 235.5px,#212121 238.5px,#1a1a1a 239.5px,#1a1a1a 243.5px,#181818 244.5px,#090909 245.5px,#000 246.5px,#000 316.5px)"></i><i style="left:160px;width:4px;background:linear-gradient(#000 0.5px,#000 60.5px,#010101 61.5px,#121212 62.5px,#202020 63.5px,#202020 72.5px,#181818 73.5px,#040404 74.5px,#000 75.5px,#000 79.5px,#020202 80.5px,#373737 85.5px,#3f3f3f 86.5px,#5b5b5b 99.5px,#7f7f7f 112.5px,#c9c9c9 135.5px,#dfdfdf 144.5px,#eaeaea 152.5px,#ececec 159.5px,#e6e6e6 167.5px,#d6d6d6 176.5px,#b7b7b7 188.5px,#6e6e6e 213.5px,#505050 226.5px,#404040 235.5px,#2c2c2c 237.5px,#222 238.5px,#1a1a1a 239.5px,#1a1a1a 243.5px,#181818 244.5px,#090909 245.5px,#000 246.5px,#000 316.5px)"></i><i style="left:164px;width:4px;background:linear-gradient(#000 0.5px,#000 60.5px,#010101 61.5px,#121212 62.5px,#202020 63.5px,#202020 72.5px,#181818 73.5px,#040404 74.5px,#000 75.5px,#000 79.5px,#050505 80.5px,#3a3a3a 85.5px,#414141 86.5px,#585858 98.5px,#7c7c7c 111.5px,#c6c6c6 135.5px,#dedede 145.5px,#e9e9e9 153.5px,#eaeaea 160.5px,#e4e4e4 168.5px,#d4d4d4 177.5px,#b2b2b2 190.5px,#6e6e6e 213.5px,#505050 226.5px,#404040 235.5px,#393939 236.5px,#1b1b1b 239.5px,#181818 244.5px,#090909 245.5px,#000 246.5px,#000 316.5px)"></i><i style="left:168px;width:4px;background:linear-gradient(#000 0.5px,#000 60.5px,#010101 61.5px,#121212 62.5px,#202020 63.5px,#202020 72.5px,#181818 73.5px,#040404 74.5px,#000 75.5px,#010101 79.5px,#3f3f3f 85.5px,#5e5e5e 100.5px,#848484 114.5px,#c4c4c4 135.5px,#dbdbdb 145.5px,#e6e6e6 153.5px,#e9e9e9 160.5px,#e3e3e3 168.5px,#d4d4d4 177.5px,#b5b5b5 189.5px,#6c6c6c 214.5px,#4f4f4f 227.5px,#414141 235.5px,#3c3c3c 236.5px,#1d1d1d 239.5px,#1a1a1a 240.5px,#1a1a1a 243.5px,#181818 244.5px,#090909 245.5px,#000 246.5px,#000 316.5px)"></i><i style="left:172px;width:4px;background:linear-gradient(#000 0.5px,#000 60.5px,#010101 61.5px,#121212 62.5px,#202020 63.5px,#202020 72.5px,#181818 73.5px,#040404 74.5px,#000 75.5px,#000 78.5px,#060606 79.5px,#3b3b3b 84.5px,#414141 85.5px,#5a5a5a 98.5px,#7e7e7e 112.5px,#c5c5c5 136.5px,#dbdbdb 146.5px,#e5e5e5 154.5px,#e7e7e7 162.5px,#dfdfdf 170.5px,#cdcdcd 180.5px,#a7a7a7 194.5px,#6b6b6b 215.5px,#4d4d4d 228.5px,#3f3f3f 236.5px,#212121 239.5px,#1a1a1a 240.5px,#1a1a1a 243.5px,#181818 244.5px,#090909 245.5px,#000 246.5px,#000 316.5px)"></i><i style="left:176px;width:4px;background:linear-gradient(#000 0.5px,#000 60.5px,#010101 61.5px,#121212 62.5px,#202020 63.5px,#202020 72.5px,#181818 73.5px,#040404 74.5px,#000 75.5px,#020202 78.5px,#3f3f3f 84.5px,#5c5c5c 99.5px,#848484 114.5px,#c3c3c3 136.5px,#d9d9d9 146.5px,#e4e4e4 155.5px,#e5e5e5 163.5px,#dedede 171.5px,#cbcbcb 181.5px,#a2a2a2 196.5px,#696969 216.5px,#4c4c4c 229.5px,#404040 236.5px,#3a3a3a 237.5px,#1b1b1b 240.5px,#1a1a1a 242.5px,#181818 244.5px,#090909 245.5px,#000 246.5px,#000 316.5px)"></i><i style="left:180px;width:4px;background:linear-gradient(#000 0.5px,#000 60.5px,#010101 61.5px,#121212 62.5px,#202020 63.5px,#202020 72.5px,#181818 73.5px,#040404 74.5px,#000 75.5px,#000 77.5px,#080808 78.5px,#3d3d3d 83.5px,#414141 84.5px,#595959 97.5px,#7e7e7e 112.5px,#c2c2c2 136.5px,#d7d7d7 146.5px,#e3e3e3 155.5px,#e4e4e4 163.5px,#ddd 171.5px,#cbcbcb 181.5px,#a6a6a6 195.5px,#6a6a6a 216.5px,#4d4d4d 229.5px,#414141 236.5px,#3e3e3e 237.5px,#0a0a0a 242.5px,#010101 243.5px,#000 316.5px)"></i><i style="left:184px;width:4px;background:linear-gradient(#000 0.5px,#000 66.5px,#050505 67.5px,#151515 68.5px,#1a1a1a 69.5px,#1a1a1a 76.5px,#101010 77.5px,#101010 78.5px,#3b3b3b 82.5px,#414141 83.5px,#585858 96.5px,#7c7c7c 111.5px,#c1c1c1 136.5px,#d8d8d8 147.5px,#e2e2e2 156.5px,#e3e3e3 164.5px,#dcdcdc 172.5px,#c9c9c9 182.5px,#a1a1a1 197.5px,#696969 217.5px,#4c4c4c 230.5px,#404040 237.5px,#383838 238.5px,#030303 243.5px,#000 244.5px,#000 316.5px)"></i><i style="left:188px;width:4px;background:linear-gradient(#000 0.5px,#000 66.5px,#050505 67.5px,#151515 68.5px,#1a1a1a 69.5px,#1a1a1a 76.5px,#121212 77.5px,#181818 78.5px,#383838 81.5px,#404040 82.5px,#595959 96.5px,#7d7d7d 111.5px,#c0c0c0 136.5px,#d7d7d7 147.5px,#e1e1e1 156.5px,#e3e3e3 164.5px,#dcdcdc 172.5px,#cacaca 182.5px,#a5a5a5 196.5px,#6a6a6a 217.5px,#4d4d4d 230.5px,#414141 237.5px,#3c3c3c 238.5px,#070707 243.5px,#000 244.5px,#000 316.5px)"></i><i style="left:192px;width:4px;background:linear-gradient(#000 0.5px,#000 66.5px,#050505 67.5px,#151515 68.5px,#1a1a1a 69.5px,#1a1a1a 76.5px,#151515 77.5px,#1d1d1d 78.5px,#3d3d3d 81.5px,#414141 82.5px,#595959 96.5px,#808080 112.5px,#c2c2c2 137.5px,#d8d8d8 148.5px,#e2e2e2 157.5px,#e3e3e3 165.5px,#dcdcdc 173.5px,#c9c9c9 183.5px,#a0a0a0 198.5px,#686868 218.5px,#4b4b4b 231.5px,#414141 237.5px,#3e3e3e 238.5px,#0a0a0a 243.5px,#010101 244.5px,#000 316.5px)"></i><i style="left:196px;width:4px;background:linear-gradient(#000 0.5px,#000 66.5px,#050505 67.5px,#151515 68.5px,#1a1a1a 69.5px,#1a1a1a 76.5px,#151515 77.5px,#282828 79.5px,#3d3d3d 81.5px,#424242 83.5px,#5b5b5b 97.5px,#828282 113.5px,#c2c2c2 137.5px,#d8d8d8 148.5px,#e2e2e2 157.5px,#e4e4e4 165.5px,#ddd 173.5px,#cdcdcd 182.5px,#ababab 195.5px,#6b6b6b 217.5px,#4e4e4e 230.5px,#3f3f3f 238.5px,#020202 244.5px,#000 247.5px,#000 316.5px)"></i><i style="left:200px;width:4px;background:linear-gradient(#000 0.5px,#000 66.5px,#050505 67.5px,#151515 68.5px,#1a1a1a 69.5px,#1a1a1a 76.5px,#151515 77.5px,#282828 79.5px,#3d3d3d 81.5px,#424242 83.5px,#5b5b5b 97.5px,#828282 113.5px,#c2c2c2 137.5px,#d9d9d9 148.5px,#e3e3e3 157.5px,#e5e5e5 165.5px,#dfdfdf 173.5px,#cecece 182.5px,#acacac 195.5px,#6c6c6c 217.5px,#4e4e4e 230.5px,#404040 238.5px,#2d2d2d 240.5px,#030303 244.5px,#000 245.5px,#000 316.5px)"></i><i style="left:204px;width:4px;background:linear-gradient(#000 0.5px,#000 75.5px,#080808 76.5px,#3d3d3d 81.5px,#424242 83.5px,#5b5b5b 97.5px,#828282 113.5px,#c5c5c5 138.5px,#dbdbdb 149.5px,#e5e5e5 158.5px,#e6e6e6 166.5px,#dfdfdf 174.5px,#cecece 183.5px,#ababab 196.5px,#6a6a6a 218.5px,#4c4c4c 231.5px,#404040 238.5px,#393939 239.5px,#040404 244.5px,#000 245.5px,#000 316.5px)"></i><i style="left:208px;width:4px;background:linear-gradient(#000 0.5px,#000 75.5px,#080808 76.5px,#3d3d3d 81.5px,#424242 83.5px,#5b5b5b 97.5px,#828282 113.5px,#c6c6c6 138.5px,#dcdcdc 149.5px,#e7e7e7 158.5px,#e8e8e8 166.5px,#e1e1e1 174.5px,#d0d0d0 183.5px,#acacac 196.5px,#6e6e6e 217.5px,#4f4f4f 230.5px,#404040 238.5px,#3a3a3a 239.5px,#252525 241.5px,#202020 242.5px,#202020 249.5px,#1a1a1a 250.5px,#060606 251.5px,#000 252.5px,#000 316.5px)"></i><i style="left:212px;width:4px;background:linear-gradient(#000 0.5px,#000 75.5px,#080808 76.5px,#3d3d3d 81.5px,#424242 83.5px,#5c5c5c 97.5px,#838383 113.5px,#c7c7c7 138.5px,#ddd 149.5px,#e8e8e8 158.5px,#eaeaea 166.5px,#e3e3e3 174.5px,#d2d2d2 183.5px,#aeaeae 196.5px,#6e6e6e 217.5px,#4f4f4f 230.5px,#414141 238.5px,#3b3b3b 239.5px,#262626 241.5px,#202020 242.5px,#202020 249.5px,#1a1a1a 250.5px,#060606 251.5px,#000 252.5px,#000 316.5px)"></i><i style="left:216px;width:4px;background:linear-gradient(#000 0.5px,#010101 75.5px,#141414 77.5px,#3e3e3e 81.5px,#444 84.5px,#5e5e5e 98.5px,#868686 114.5px,#c8c8c8 138.5px,#dfdfdf 149.5px,#e9e9e9 158.5px,#ebebeb 166.5px,#e4e4e4 174.5px,#d3d3d3 183.5px,#afafaf 196.5px,#6f6f6f 217.5px,#4f4f4f 230.5px,#414141 238.5px,#3c3c3c 239.5px,#272727 241.5px,#202020 242.5px,#202020 249.5px,#1a1a1a 250.5px,#060606 251.5px,#000 252.5px,#000 316.5px)"></i><i style="left:220px;width:4px;background:linear-gradient(#000 0.5px,#000 74.5px,#020202 75.5px,#373737 80.5px,#404040 81.5px,#5a5a5a 96.5px,#7f7f7f 111.5px,#c9c9c9 138.5px,#e0e0e0 149.5px,#ebebeb 158.5px,#ececec 166.5px,#e5e5e5 174.5px,#d4d4d4 183.5px,#afafaf 196.5px,#6f6f6f 217.5px,#505050 230.5px,#414141 238.5px,#3d3d3d 239.5px,#282828 241.5px,#202020 242.5px,#202020 249.5px,#1a1a1a 250.5px,#060606 251.5px,#000 252.5px,#000 316.5px)"></i><i style="left:224px;width:4px;background:linear-gradient(#000 0.5px,#000 74.5px,#070707 75.5px,#3c3c3c 80.5px,#414141 81.5px,#595959 95.5px,#7d7d7d 110.5px,#cbcbcb 138.5px,#e1e1e1 149.5px,#ececec 158.5px,#ededed 166.5px,#e6e6e6 174.5px,#d4d4d4 183.5px,#b0b0b0 196.5px,#6f6f6f 217.5px,#505050 230.5px,#414141 238.5px,#3e3e3e 239.5px,#292929 241.5px,#202020 242.5px,#202020 249.5px,#1a1a1a 250.5px,#060606 251.5px,#000 252.5px,#000 316.5px)"></i><i style="left:228px;width:4px;background:linear-gradient(#000 0.5px,#000 59.5px,#131313 61.5px,#131313 64.5px,#111 65.5px,#060606 66.5px,#000 67.5px,#000 73.5px,#020202 74.5px,#373737 79.5px,#404040 80.5px,#5a5a5a 95.5px,#7f7f7f 110.5px,#cacaca 137.5px,#e1e1e1 148.5px,#ececec 157.5px,#efefef 165.5px,#e8e8e8 173.5px,#d7d7d7 182.5px,#b6b6b6 194.5px,#6f6f6f 217.5px,#505050 230.5px,#414141 238.5px,#3e3e3e 239.5px,#212121 242.5px,#202020 249.5px,#1a1a1a 250.5px,#060606 251.5px,#000 252.5px,#000 316.5px)"></i><i style="left:232px;width:4px;background:linear-gradient(#000 0.5px,#000 59.5px,#131313 61.5px,#131313 64.5px,#111 65.5px,#090909 66.5px,#090909 74.5px,#1d1d1d 76.5px,#3c3c3c 79.5px,#414141 80.5px,#595959 94.5px,#7e7e7e 109.5px,#cbcbcb 137.5px,#e2e2e2 148.5px,#ededed 157.5px,#efefef 165.5px,#e8e8e8 173.5px,#d7d7d7 182.5px,#b6b6b6 194.5px,#6f6f6f 217.5px,#505050 230.5px,#414141 238.5px,#3e3e3e 239.5px,#212121 242.5px,#202020 249.5px,#1a1a1a 250.5px,#060606 251.5px,#000 252.5px,#000 316.5px)"></i><i style="left:236px;width:4px;background:linear-gradient(#000 0.5px,#000 59.5px,#131313 61.5px,#131313 74.5px,#181818 75.5px,#383838 78.5px,#404040 79.5px,#585858 93.5px,#7d7d7d 108.5px,#cbcbcb 136.5px,#e2e2e2 147.5px,#eee 156.5px,#f0f0f0 164.5px,#eaeaea 172.5px,#d9d9d9 181.5px,#b8b8b8 193.5px,#6f6f6f 217.5px,#505050 230.5px,#414141 238.5px,#3e3e3e 239.5px,#212121 242.5px,#202020 249.5px,#1a1a1a 250.5px,#060606 251.5px,#000 252.5px,#000 316.5px)"></i><i style="left:240px;width:4px;background:linear-gradient(#000 0.5px,#000 59.5px,#131313 61.5px,#131313 73.5px,#151515 74.5px,#3e3e3e 78.5px,#494949 84.5px,#656565 98.5px,#929292 115.5px,#cdcdcd 136.5px,#e4e4e4 147.5px,#efefef 156.5px,#f1f1f1 164.5px,#eaeaea 172.5px,#d9d9d9 181.5px,#b8b8b8 193.5px,#717171 216.5px,#525252 229.5px,#414141 238.5px,#3e3e3e 239.5px,#212121 242.5px,#202020 249.5px,#1a1a1a 250.5px,#060606 251.5px,#000 252.5px,#000 316.5px)"></i><i style="left:244px;width:4px;background:linear-gradient(#000 0.5px,#000 59.5px,#131313 61.5px,#141414 73.5px,#1c1c1c 74.5px,#3b3b3b 77.5px,#414141 78.5px,#595959 92.5px,#7e7e7e 107.5px,#cdcdcd 135.5px,#e5e5e5 146.5px,#f0f0f0 155.5px,#f2f2f2 163.5px,#ebebeb 171.5px,#dbdbdb 180.5px,#bababa 192.5px,#717171 216.5px,#515151 229.5px,#414141 238.5px,#3e3e3e 239.5px,#212121 242.5px,#202020 249.5px,#1a1a1a 250.5px,#060606 251.5px,#000 252.5px,#000 316.5px)"></i><i style="left:248px;width:4px;background:linear-gradient(#000 0.5px,#000 59.5px,#131313 61.5px,#131313 72.5px,#171717 73.5px,#373737 76.5px,#404040 77.5px,#5b5b5b 92.5px,#808080 107.5px,#cdcdcd 134.5px,#e5e5e5 145.5px,#f1f1f1 154.5px,#f3f3f3 162.5px,#ededed 170.5px,#dcdcdc 179.5px,#bcbcbc 191.5px,#707070 216.5px,#515151 229.5px,#414141 238.5px,#3e3e3e 239.5px,#212121 242.5px,#202020 249.5px,#1a1a1a 250.5px,#060606 251.5px,#000 252.5px,#000 316.5px)"></i><i style="left:252px;width:4px;background:linear-gradient(#000 0.5px,#000 62.5px,#010101 63.5px,#0c0c0c 64.5px,#131313 65.5px,#131313 72.5px,#1b1b1b 73.5px,#3b3b3b 76.5px,#414141 77.5px,#585858 90.5px,#7a7a7a 104.5px,#d0d0d0 134.5px,#e7e7e7 145.5px,#f2f2f2 154.5px,#f4f4f4 162.5px,#ededed 170.5px,#dcdcdc 179.5px,#bbb 191.5px,#737373 215.5px,#535353 228.5px,#414141 238.5px,#3e3e3e 239.5px,#0a0a0a 244.5px,#010101 245.5px,#000 247.5px,#040404 248.5px,#101010 249.5px,#131313 250.5px,#131313 257.5px,#010101 259.5px,#000 316.5px)"></i><i style="left:256px;width:4px;background:linear-gradient(#000 0.5px,#000 62.5px,#010101 63.5px,#0c0c0c 64.5px,#131313 65.5px,#131313 71.5px,#151515 72.5px,#3e3e3e 76.5px,#444 79.5px,#5d5d5d 92.5px,#848484 107.5px,#d0d0d0 133.5px,#e8e8e8 144.5px,#f3f3f3 153.5px,#f5f5f5 161.5px,#eee 169.5px,#dedede 178.5px,#bdbdbd 190.5px,#727272 215.5px,#535353 228.5px,#414141 238.5px,#3e3e3e 239.5px,#0a0a0a 244.5px,#010101 245.5px,#000 247.5px,#040404 248.5px,#101010 249.5px,#131313 250.5px,#131313 257.5px,#010101 259.5px,#000 316.5px)"></i><i style="left:260px;width:4px;background:linear-gradient(#000 0.5px,#000 62.5px,#010101 63.5px,#0c0c0c 64.5px,#131313 65.5px,#131313 71.5px,#171717 72.5px,#373737 75.5px,#3f3f3f 76.5px,#5c5c5c 91.5px,#808080 105.5px,#d0d0d0 132.5px,#e7e7e7 142.5px,#f3f3f3 151.5px,#f6f6f6 159.5px,#f1f1f1 167.5px,#e1e1e1 176.5px,#c2c2c2 188.5px,#727272 215.5px,#535353 228.5px,#414141 238.5px,#3e3e3e 239.5px,#0a0a0a 244.5px,#010101 245.5px,#000 247.5px,#040404 248.5px,#101010 249.5px,#131313 250.5px,#131313 257.5px,#010101 259.5px,#000 316.5px)"></i><i style="left:264px;width:4px;background:linear-gradient(#000 0.5px,#000 62.5px,#010101 63.5px,#0c0c0c 64.5px,#131313 65.5px,#131313 71.5px,#191919 72.5px,#393939 75.5px,#404040 76.5px,#585858 89.5px,#7c7c7c 103.5px,#d2d2d2 132.5px,#e9e9e9 142.5px,#f5f5f5 151.5px,#f7f7f7 159.5px,#f1f1f1 167.5px,#e1e1e1 176.5px,#c1c1c1 188.5px,#747474 214.5px,#555 227.5px,#414141 238.5px,#3e3e3e 239.5px,#0a0a0a 244.5px,#010101 245.5px,#000 247.5px,#040404 248.5px,#101010 249.5px,#131313 250.5px,#131313 257.5px,#010101 259.5px,#000 316.5px)"></i><i style="left:268px;width:4px;background:linear-gradient(#000 0.5px,#000 62.5px,#010101 63.5px,#0c0c0c 64.5px,#131313 65.5px,#131313 71.5px,#1a1a1a 72.5px,#3a3a3a 75.5px,#404040 76.5px,#595959 89.5px,#7a7a7a 102.5px,#d2d2d2 131.5px,#eaeaea 141.5px,#f6f6f6 150.5px,#f8f8f8 158.5px,#f2f2f2 166.5px,#e2e2e2 175.5px,#c3c3c3 187.5px,#737373 214.5px,#545454 227.5px,#414141 238.5px,#3e3e3e 239.5px,#0a0a0a 244.5px,#010101 245.5px,#000 247.5px,#040404 248.5px,#101010 249.5px,#131313 250.5px,#131313 257.5px,#010101 259.5px,#000 316.5px)"></i><i style="left:272px;width:4px;background:linear-gradient(#000 0.5px,#000 62.5px,#010101 63.5px,#0c0c0c 64.5px,#131313 65.5px,#131313 71.5px,#1a1a1a 72.5px,#3a3a3a 75.5px,#404040 76.5px,#595959 89.5px,#7b7b7b 102.5px,#d5d5d5 131.5px,#ececec 141.5px,#f7f7f7 149.5px,#f9f9f9 157.5px,#f3f3f3 165.5px,#e4e4e4 174.5px,#c5c5c5 186.5px,#737373 214.5px,#525252 228.5px,#414141 238.5px,#3e3e3e 239.5px,#0a0a0a 244.5px,#010101 245.5px,#000 247.5px,#040404 248.5px,#101010 249.5px,#131313 250.5px,#131313 257.5px,#010101 259.5px,#000 316.5px)"></i><i style="left:276px;width:4px;background:linear-gradient(#000 0.5px,#000 62.5px,#010101 63.5px,#0c0c0c 64.5px,#131313 65.5px,#131313 71.5px,#181818 72.5px,#383838 75.5px,#404040 76.5px,#595959 89.5px,#7c7c7c 102.5px,#d4d4d4 130.5px,#ececec 140.5px,#f8f8f8 148.5px,#fbfbfb 155.5px,#f6f6f6 163.5px,#e7e7e7 172.5px,#cacaca 184.5px,#757575 213.5px,#545454 227.5px,#414141 238.5px,#3e3e3e 239.5px,#090909 244.5px,#010101 245.5px,#000 255.5px,#050505 256.5px,#0c0c0c 257.5px,#0d0d0d 258.5px,#010101 260.5px,#000 316.5px)"></i><i style="left:280px;width:4px;background:linear-gradient(#000 0.5px,#000 62.5px,#010101 63.5px,#0c0c0c 64.5px,#131313 65.5px,#131313 71.5px,#151515 72.5px,#3e3e3e 76.5px,#434343 78.5px,#5b5b5b 90.5px,#7f7f7f 103.5px,#d3d3d3 129.5px,#ececec 139.5px,#f9f9f9 147.5px,#fcfcfc 154.5px,#f7f7f7 162.5px,#e9e9e9 171.5px,#ccc 183.5px,#747474 213.5px,#545454 227.5px,#414141 238.5px,#3d3d3d 239.5px,#080808 244.5px,#000 245.5px,#000 255.5px,#050505 256.5px,#0c0c0c 257.5px,#0d0d0d 258.5px,#010101 260.5px,#000 316.5px)"></i><i style="left:284px;width:4px;background:linear-gradient(#000 0.5px,#000 62.5px,#010101 63.5px,#0c0c0c 64.5px,#131313 65.5px,#131313 72.5px,#191919 73.5px,#393939 76.5px,#404040 77.5px,#585858 89.5px,#797979 101.5px,#d5d5d5 129.5px,#ececec 138.5px,#f9f9f9 146.5px,#fcfcfc 153.5px,#f8f8f8 161.5px,#eaeaea 170.5px,#d0d0d0 181.5px,#747474 213.5px,#535353 227.5px,#414141 238.5px,#3c3c3c 239.5px,#070707 244.5px,#000 245.5px,#000 255.5px,#050505 256.5px,#0c0c0c 257.5px,#0d0d0d 258.5px,#010101 260.5px,#000 316.5px)"></i><i style="left:288px;width:4px;background:linear-gradient(#000 0.5px,#000 62.5px,#010101 63.5px,#0c0c0c 64.5px,#131313 65.5px,#141414 73.5px,#3d3d3d 77.5px,#434343 79.5px,#5c5c5c 91.5px,#7f7f7f 103.5px,#d6d6d6 129.5px,#ededed 138.5px,#fafafa 146.5px,#fdfdfd 153.5px,#f7f7f7 162.5px,#e6e6e6 172.5px,#c4c4c4 185.5px,#767676 212.5px,#555 226.5px,#404040 238.5px,#3a3a3a 239.5px,#050505 244.5px,#000 245.5px,#000 255.5px,#050505 256.5px,#0c0c0c 257.5px,#0d0d0d 258.5px,#010101 260.5px,#000 316.5px)"></i><i style="left:292px;width:4px;background:linear-gradient(#000 0.5px,#000 62.5px,#010101 63.5px,#0c0c0c 64.5px,#131313 65.5px,#131313 73.5px,#171717 74.5px,#373737 77.5px,#404040 78.5px,#5b5b5b 91.5px,#7e7e7e 103.5px,#d7d7d7 129.5px,#efefef 138.5px,#fbfbfb 146.5px,#fdfdfd 153.5px,#f7f7f7 162.5px,#e5e5e5 172.5px,#c4c4c4 185.5px,#757575 212.5px,#555 226.5px,#404040 238.5px,#393939 239.5px,#040404 244.5px,#000 245.5px,#000 316.5px)"></i><i style="left:296px;width:4px;background:linear-gradient(#000 0.5px,#000 62.5px,#010101 63.5px,#0c0c0c 64.5px,#131313 65.5px,#131313 74.5px,#191919 75.5px,#393939 78.5px,#404040 79.5px,#575757 90.5px,#7a7a7a 102.5px,#d7d7d7 129.5px,#efefef 138.5px,#fafafa 145.5px,#fefefe 152.5px,#f8f8f8 161.5px,#e7e7e7 171.5px,#c6c6c6 184.5px,#777 211.5px,#565656 225.5px,#3f3f3f 238.5px,#2c2c2c 240.5px,#171717 242.5px,#151515 244.5px,#151515 247.5px,#111 248.5px,#040404 249.5px,#000 250.5px,#000 316.5px)"></i><i style="left:300px;width:4px;background:linear-gradient(#000 0.5px,#000 62.5px,#010101 63.5px,#0c0c0c 64.5px,#131313 65.5px,#131313 74.5px,#111 75.5px,#242424 77.5px,#3a3a3a 79.5px,#404040 80.5px,#585858 91.5px,#7b7b7b 103.5px,#d7d7d7 129.5px,#efefef 138.5px,#fbfbfb 145.5px,#fefefe 152.5px,#f8f8f8 161.5px,#e7e7e7 171.5px,#c5c5c5 184.5px,#777 211.5px,#565656 225.5px,#3e3e3e 238.5px,#1f1f1f 241.5px,#1a1a1a 242.5px,#1a1a1a 247.5px,#151515 248.5px,#050505 249.5px,#000 250.5px,#000 316.5px)"></i><i style="left:304px;width:4px;background:linear-gradient(#000 0.5px,#000 62.5px,#010101 63.5px,#0c0c0c 64.5px,#131313 65.5px,#131313 70.5px,#101010 71.5px,#050505 72.5px,#030303 75.5px,#0a0a0a 76.5px,#3e3e3e 81.5px,#5c5c5c 94.5px,#828282 106.5px,#d5d5d5 129.5px,#eee 138.5px,#fafafa 145.5px,#fefefe 152.5px,#f7f7f7 161.5px,#e6e6e6 171.5px,#c5c5c5 184.5px,#767676 211.5px,#555 225.5px,#414141 237.5px,#3b3b3b 238.5px,#1c1c1c 241.5px,#1a1a1a 243.5px,#1a1a1a 247.5px,#151515 248.5px,#050505 249.5px,#000 250.5px,#000 316.5px)"></i><i style="left:308px;width:4px;background:linear-gradient(#000 0.5px,#000 62.5px,#010101 63.5px,#0c0c0c 64.5px,#131313 65.5px,#131313 70.5px,#101010 71.5px,#040404 72.5px,#000 73.5px,#000 76.5px,#030303 77.5px,#383838 82.5px,#404040 83.5px,#595959 94.5px,#7a7a7a 105.5px,#d6d6d6 130.5px,#ededed 138.5px,#fafafa 145.5px,#fdfdfd 152.5px,#f7f7f7 161.5px,#e6e6e6 171.5px,#c4c4c4 184.5px,#757575 211.5px,#545454 225.5px,#3f3f3f 237.5px,#202020 240.5px,#1a1a1a 241.5px,#1a1a1a 247.5px,#151515 248.5px,#050505 249.5px,#000 250.5px,#000 316.5px)"></i><i style="left:312px;width:4px;background:linear-gradient(#000 0.5px,#000 62.5px,#010101 63.5px,#0c0c0c 64.5px,#131313 65.5px,#131313 70.5px,#101010 71.5px,#040404 72.5px,#000 73.5px,#000 78.5px,#070707 79.5px,#3c3c3c 84.5px,#414141 85.5px,#585858 95.5px,#7a7a7a 106.5px,#d7d7d7 131.5px,#eee 139.5px,#fafafa 146.5px,#fcfcfc 152.5px,#f7f7f7 160.5px,#e9e9e9 169.5px,#ccc 181.5px,#737373 211.5px,#535353 225.5px,#404040 236.5px,#393939 237.5px,#1b1b1b 240.5px,#1a1a1a 247.5px,#151515 248.5px,#050505 249.5px,#000 250.5px,#000 316.5px)"></i><i style="left:316px;width:4px;background:linear-gradient(#000 0.5px,#010101 63.5px,#0a0a0a 64.5px,#101010 65.5px,#101010 70.5px,#0d0d0d 71.5px,#040404 72.5px,#000 75.5px,#000 79.5px,#070707 80.5px,#3c3c3c 85.5px,#414141 86.5px,#585858 96.5px,#7a7a7a 107.5px,#d5d5d5 131.5px,#ececec 139.5px,#f8f8f8 146.5px,#fcfcfc 152.5px,#f7f7f7 160.5px,#e9e9e9 169.5px,#cecece 180.5px,#757575 210.5px,#545454 224.5px,#414141 235.5px,#3c3c3c 236.5px,#1c1c1c 239.5px,#181818 240.5px,#1a1a1a 247.5px,#151515 248.5px,#050505 249.5px,#000 250.5px,#000 316.5px)"></i><i style="left:320px;width:4px;background:linear-gradient(#000 0.5px,#000 67.5px,#040404 68.5px,#101010 69.5px,#131313 70.5px,#131313 72.5px,#0f0f0f 73.5px,#030303 74.5px,#000 75.5px,#010101 80.5px,#3e3e3e 86.5px,#5e5e5e 99.5px,#838383 110.5px,#d2d2d2 131.5px,#eaeaea 139.5px,#f7f7f7 146.5px,#fafafa 152.5px,#f6f6f6 160.5px,#e8e8e8 169.5px,#cdcdcd 180.5px,#747474 210.5px,#555 223.5px,#414141 234.5px,#3e3e3e 235.5px,#141414 239.5px,#181818 240.5px,#1a1a1a 247.5px,#151515 248.5px,#050505 249.5px,#000 250.5px,#000 316.5px)"></i><i style="left:324px;width:4px;background:linear-gradient(#000 0.5px,#000 67.5px,#040404 68.5px,#101010 69.5px,#131313 70.5px,#131313 72.5px,#0f0f0f 73.5px,#030303 74.5px,#000 75.5px,#000 80.5px,#040404 81.5px,#393939 86.5px,#404040 87.5px,#575757 97.5px,#797979 108.5px,#d3d3d3 132.5px,#eaeaea 140.5px,#f6f6f6 147.5px,#f9f9f9 153.5px,#f4f4f4 161.5px,#e5e5e5 170.5px,#cacaca 181.5px,#727272 210.5px,#535353 223.5px,#404040 234.5px,#2d2d2d 236.5px,#0d0d0d 239.5px,#0e0e0e 247.5px,#0c0c0c 248.5px,#030303 249.5px,#000 250.5px,#000 316.5px)"></i><i style="left:328px;width:4px;background:linear-gradient(#000 0.5px,#000 67.5px,#040404 68.5px,#101010 69.5px,#131313 70.5px,#131313 72.5px,#0f0f0f 73.5px,#030303 74.5px,#000 75.5px,#010101 81.5px,#141414 83.5px,#3e3e3e 87.5px,#454545 90.5px,#5e5e5e 100.5px,#828282 111.5px,#d0d0d0 132.5px,#e7e7e7 140.5px,#f4f4f4 147.5px,#f8f8f8 153.5px,#f3f3f3 161.5px,#e5e5e5 170.5px,#c9c9c9 181.5px,#727272 210.5px,#535353 223.5px,#414141 233.5px,#3c3c3c 234.5px,#070707 239.5px,#000 240.5px,#000 316.5px)"></i><i style="left:332px;width:4px;background:linear-gradient(#000 0.5px,#000 67.5px,#040404 68.5px,#101010 69.5px,#131313 70.5px,#131313 72.5px,#0f0f0f 73.5px,#030303 74.5px,#000 75.5px,#000 81.5px,#040404 82.5px,#383838 87.5px,#404040 88.5px,#595959 99.5px,#7c7c7c 110.5px,#d0d0d0 133.5px,#e7e7e7 141.5px,#f3f3f3 148.5px,#f6f6f6 154.5px,#f1f1f1 162.5px,#e2e2e2 171.5px,#c6c6c6 182.5px,#717171 210.5px,#525252 223.5px,#404040 233.5px,#383838 234.5px,#030303 239.5px,#000 240.5px,#000 316.5px)"></i><i style="left:336px;width:4px;background:linear-gradient(#000 0.5px,#000 67.5px,#040404 68.5px,#101010 69.5px,#131313 70.5px,#131313 72.5px,#0f0f0f 73.5px,#030303 74.5px,#000 75.5px,#000 82.5px,#070707 83.5px,#3c3c3c 88.5px,#414141 89.5px,#5a5a5a 100.5px,#7c7c7c 111.5px,#d0d0d0 134.5px,#e6e6e6 142.5px,#f2f2f2 149.5px,#f4f4f4 156.5px,#eee 164.5px,#ddd 173.5px,#bdbdbd 185.5px,#717171 210.5px,#525252 223.5px,#3f3f3f 233.5px,#161616 237.5px,#020202 239.5px,#000 241.5px,#000 316.5px)"></i><i style="left:340px;width:4px;background:linear-gradient(#000 0.5px,#010101 83.5px,#1f1f1f 86.5px,#3e3e3e 89.5px,#5d5d5d 102.5px,#848484 114.5px,#ccc 134.5px,#e5e5e5 143.5px,#f0f0f0 150.5px,#f2f2f2 157.5px,#ebebeb 165.5px,#dbdbdb 174.5px,#bababa 186.5px,#717171 210.5px,#525252 223.5px,#3e3e3e 233.5px,#010101 239.5px,#000 316.5px)"></i><i style="left:344px;width:4px;background:linear-gradient(#000 0.5px,#000 83.5px,#020202 84.5px,#373737 89.5px,#404040 90.5px,#5b5b5b 102.5px,#818181 114.5px,#ccc 135.5px,#e1e1e1 143.5px,#ededed 150.5px,#f0f0f0 157.5px,#eaeaea 165.5px,#dadada 174.5px,#bababa 186.5px,#717171 210.5px,#515151 223.5px,#414141 232.5px,#3d3d3d 233.5px,#090909 238.5px,#000 239.5px,#000 316.5px)"></i><i style="left:348px;width:4px;background:linear-gradient(#000 0.5px,#000 84.5px,#060606 85.5px,#3b3b3b 90.5px,#414141 91.5px,#595959 102.5px,#7e7e7e 114.5px,#cbcbcb 136.5px,#e0e0e0 144.5px,#ececec 151.5px,#eee 158.5px,#e8e8e8 166.5px,#d7d7d7 175.5px,#b7b7b7 187.5px,#6e6e6e 211.5px,#4f4f4f 224.5px,#414141 232.5px,#3c3c3c 233.5px,#070707 238.5px,#000 239.5px,#000 316.5px)"></i><i style="left:352px;width:4px;background:linear-gradient(#000 0.5px,#000 68.5px,#040404 69.5px,#101010 70.5px,#131313 71.5px,#131313 73.5px,#0d0d0d 74.5px,#020202 75.5px,#000 77.5px,#000 84.5px,#030303 85.5px,#383838 90.5px,#404040 91.5px,#585858 102.5px,#7c7c7c 114.5px,#c8c8c8 136.5px,#dfdfdf 145.5px,#eaeaea 152.5px,#ececec 159.5px,#e5e5e5 167.5px,#d4d4d4 176.5px,#b4b4b4 188.5px,#6e6e6e 211.5px,#4f4f4f 224.5px,#414141 232.5px,#3b3b3b 233.5px,#060606 238.5px,#000 239.5px,#000 316.5px)"></i><i style="left:356px;width:4px;background:linear-gradient(#000 0.5px,#000 68.5px,#040404 69.5px,#101010 70.5px,#131313 71.5px,#131313 73.5px,#0d0d0d 74.5px,#020202 75.5px,#000 77.5px,#000 84.5px,#060606 85.5px,#3b3b3b 90.5px,#414141 91.5px,#585858 102.5px,#7b7b7b 114.5px,#c8c8c8 137.5px,#dedede 146.5px,#e8e8e8 153.5px,#eaeaea 160.5px,#e3e3e3 168.5px,#d1d1d1 177.5px,#adadad 190.5px,#6e6e6e 211.5px,#4f4f4f 224.5px,#404040 232.5px,#3a3a3a 233.5px,#050505 238.5px,#000 239.5px,#000 316.5px)"></i><i style="left:360px;width:4px;background:linear-gradient(#000 0.5px,#000 68.5px,#040404 69.5px,#101010 70.5px,#131313 71.5px,#131313 73.5px,#0d0d0d 74.5px,#020202 75.5px,#000 77.5px,#000 83.5px,#030303 84.5px,#383838 89.5px,#404040 90.5px,#595959 102.5px,#7e7e7e 115.5px,#c6c6c6 137.5px,#dbdbdb 146.5px,#e6e6e6 154.5px,#e8e8e8 161.5px,#e0e0e0 169.5px,#cfcfcf 178.5px,#aaa 191.5px,#6b6b6b 212.5px,#4d4d4d 225.5px,#404040 232.5px,#393939 233.5px,#040404 238.5px,#000 239.5px,#000 316.5px)"></i><i style="left:364px;width:4px;background:linear-gradient(#000 0.5px,#000 68.5px,#040404 69.5px,#101010 70.5px,#131313 71.5px,#131313 73.5px,#0d0d0d 74.5px,#020202 75.5px,#000 77.5px,#000 82.5px,#030303 83.5px,#383838 88.5px,#404040 89.5px,#5b5b5b 102.5px,#7f7f7f 115.5px,#c4c4c4 137.5px,#d9d9d9 146.5px,#e4e4e4 154.5px,#e6e6e6 161.5px,#dfdfdf 169.5px,#cecece 178.5px,#aaa 191.5px,#6b6b6b 212.5px,#4d4d4d 225.5px,#404040 232.5px,#393939 233.5px,#040404 238.5px,#000 239.5px,#000 316.5px)"></i><i style="left:368px;width:4px;background:linear-gradient(#000 0.5px,#000 68.5px,#040404 69.5px,#101010 70.5px,#131313 71.5px,#131313 73.5px,#0d0d0d 74.5px,#020202 75.5px,#000 77.5px,#000 81.5px,#030303 82.5px,#383838 87.5px,#404040 88.5px,#5a5a5a 101.5px,#808080 115.5px,#c2c2c2 137.5px,#d9d9d9 147.5px,#e3e3e3 155.5px,#e4e4e4 162.5px,#ddd 170.5px,#ccc 179.5px,#a8a8a8 192.5px,#6b6b6b 212.5px,#4d4d4d 225.5px,#404040 232.5px,#383838 233.5px,#030303 238.5px,#000 239.5px,#000 316.5px)"></i><i style="left:372px;width:4px;background:linear-gradient(#000 0.5px,#000 68.5px,#040404 69.5px,#101010 70.5px,#131313 71.5px,#131313 73.5px,#0d0d0d 74.5px,#020202 75.5px,#000 77.5px,#000 80.5px,#030303 81.5px,#373737 86.5px,#404040 87.5px,#5b5b5b 101.5px,#808080 115.5px,#c1c1c1 137.5px,#d7d7d7 147.5px,#e1e1e1 155.5px,#e3e3e3 163.5px,#dbdbdb 171.5px,#cacaca 180.5px,#a5a5a5 193.5px,#696969 213.5px,#4b4b4b 226.5px,#404040 232.5px,#383838 233.5px,#030303 238.5px,#000 239.5px,#000 316.5px)"></i><i style="left:376px;width:4px;background:linear-gradient(#000 0.5px,#010101 69.5px,#030303 72.5px,#000 77.5px,#010101 80.5px,#2a2a2a 84.5px,#3e3e3e 86.5px,#5f5f5f 102.5px,#8a8a8a 118.5px,#c2c2c2 138.5px,#d7d7d7 148.5px,#e2e2e2 157.5px,#e2e2e2 164.5px,#dadada 172.5px,#c8c8c8 181.5px,#a0a0a0 195.5px,#676767 214.5px,#4b4b4b 226.5px,#414141 232.5px,#3a3a3a 233.5px,#050505 238.5px,#000 239.5px,#000 316.5px)"></i><i style="left:380px;width:4px;background:linear-gradient(#000 0.5px,#000 79.5px,#070707 80.5px,#3c3c3c 85.5px,#414141 86.5px,#595959 99.5px,#7f7f7f 114.5px,#c2c2c2 138.5px,#d7d7d7 148.5px,#e1e1e1 157.5px,#e2e2e2 165.5px,#d9d9d9 173.5px,#c6c6c6 182.5px,#9b9b9b 197.5px,#666 215.5px,#4a4a4a 227.5px,#3e3e3e 233.5px,#010101 239.5px,#000 316.5px)"></i><i style="left:384px;width:4px;background:linear-gradient(#000 0.5px,#000 56.5px,#090909 57.5px,#181818 58.5px,#1a1a1a 61.5px,#1a1a1a 66.5px,#161616 67.5px,#060606 68.5px,#000 69.5px,#000 78.5px,#050505 79.5px,#3a3a3a 84.5px,#404040 85.5px,#585858 98.5px,#7d7d7d 113.5px,#c2c2c2 138.5px,#d8d8d8 149.5px,#e1e1e1 158.5px,#e1e1e1 166.5px,#d8d8d8 174.5px,#c5c5c5 183.5px,#9a9a9a 198.5px,#676767 215.5px,#4c4c4c 227.5px,#414141 233.5px,#3c3c3c 234.5px,#070707 239.5px,#000 240.5px,#000 316.5px)"></i><i style="left:388px;width:4px;background:linear-gradient(#000 0.5px,#000 56.5px,#090909 57.5px,#181818 58.5px,#1a1a1a 61.5px,#1a1a1a 66.5px,#161616 67.5px,#060606 68.5px,#000 69.5px,#000 77.5px,#030303 78.5px,#383838 83.5px,#404040 84.5px,#595959 98.5px,#7e7e7e 113.5px,#c2c2c2 138.5px,#d8d8d8 149.5px,#e2e2e2 158.5px,#e3e3e3 166.5px,#dadada 174.5px,#c8c8c8 183.5px,#9f9f9f 197.5px,#6a6a6a 215.5px,#4b4b4b 228.5px,#404040 234.5px,#3a3a3a 235.5px,#050505 240.5px,#000 241.5px,#000 316.5px)"></i><i style="left:392px;width:4px;background:linear-gradient(#000 0.5px,#000 56.5px,#090909 57.5px,#181818 58.5px,#1a1a1a 61.5px,#1a1a1a 66.5px,#161616 67.5px,#060606 68.5px,#000 69.5px,#000 76.5px,#030303 77.5px,#383838 82.5px,#404040 83.5px,#595959 97.5px,#7d7d7d 112.5px,#c3c3c3 138.5px,#d9d9d9 149.5px,#e3e3e3 158.5px,#e4e4e4 166.5px,#dcdcdc 174.5px,#cacaca 183.5px,#a2a2a2 197.5px,#696969 216.5px,#4b4b4b 229.5px,#404040 235.5px,#393939 236.5px,#040404 241.5px,#000 242.5px,#000 316.5px)"></i><i style="left:396px;width:4px;background:linear-gradient(#000 0.5px,#000 56.5px,#090909 57.5px,#181818 58.5px,#1a1a1a 61.5px,#1a1a1a 66.5px,#161616 67.5px,#060606 68.5px,#000 69.5px,#000 75.5px,#070707 76.5px,#3c3c3c 81.5px,#414141 82.5px,#595959 96.5px,#7f7f7f 112.5px,#c5c5c5 138.5px,#dadada 149.5px,#e5e5e5 158.5px,#e6e6e6 166.5px,#dedede 174.5px,#cdcdcd 183.5px,#a8a8a8 196.5px,#6c6c6c 216.5px,#4d4d4d 229.5px,#404040 236.5px,#393939 237.5px,#040404 242.5px,#000 243.5px,#000 316.5px)"></i><i style="left:400px;width:4px;background:linear-gradient(#000 0.5px,#000 56.5px,#090909 57.5px,#181818 58.5px,#1a1a1a 61.5px,#1a1a1a 66.5px,#161616 67.5px,#060606 68.5px,#000 69.5px,#000 73.5px,#020202 74.5px,#373737 79.5px,#3f3f3f 80.5px,#5c5c5c 96.5px,#828282 112.5px,#c4c4c4 137.5px,#dadada 148.5px,#e6e6e6 158.5px,#e8e8e8 166.5px,#e1e1e1 174.5px,#cfcfcf 183.5px,#ababab 196.5px,#6b6b6b 217.5px,#4d4d4d 230.5px,#404040 237.5px,#383838 238.5px,#030303 243.5px,#000 244.5px,#000 316.5px)"></i><i style="left:404px;width:4px;background:linear-gradient(#000 0.5px,#000 64.5px,#040404 65.5px,#101010 66.5px,#131313 67.5px,#131313 72.5px,#101010 73.5px,#121212 74.5px,#3c3c3c 78.5px,#414141 79.5px,#585858 93.5px,#7d7d7d 109.5px,#c6c6c6 137.5px,#dcdcdc 148.5px,#e8e8e8 158.5px,#e9e9e9 166.5px,#e2e2e2 174.5px,#d1d1d1 183.5px,#adadad 196.5px,#6d6d6d 217.5px,#4e4e4e 230.5px,#3f3f3f 238.5px,#020202 244.5px,#000 248.5px,#000 316.5px)"></i><i style="left:408px;width:4px;background:linear-gradient(#000 0.5px,#000 64.5px,#040404 65.5px,#101010 66.5px,#131313 67.5px,#131313 72.5px,#161616 73.5px,#3f3f3f 77.5px,#5c5c5c 94.5px,#828282 110.5px,#c8c8c8 137.5px,#dedede 148.5px,#e9e9e9 158.5px,#ebebeb 166.5px,#e4e4e4 174.5px,#d3d3d3 183.5px,#aeaeae 196.5px,#6f6f6f 217.5px,#4f4f4f 230.5px,#414141 238.5px,#3c3c3c 239.5px,#272727 241.5px,#202020 242.5px,#202020 251.5px,#181818 252.5px,#040404 253.5px,#000 254.5px,#000 316.5px)"></i><i style="left:412px;width:4px;background:linear-gradient(#000 0.5px,#000 64.5px,#040404 65.5px,#101010 66.5px,#131313 67.5px,#131313 71.5px,#161616 72.5px,#3f3f3f 76.5px,#5c5c5c 93.5px,#828282 109.5px,#c8c8c8 136.5px,#dfdfdf 148.5px,#eaeaea 158.5px,#ececec 166.5px,#e5e5e5 174.5px,#d4d4d4 183.5px,#afafaf 196.5px,#6d6d6d 218.5px,#4e4e4e 231.5px,#3f3f3f 239.5px,#222 242.5px,#202020 244.5px,#202020 251.5px,#181818 252.5px,#040404 253.5px,#000 254.5px,#000 316.5px)"></i><i style="left:416px;width:4px;background:linear-gradient(#000 0.5px,#000 64.5px,#040404 65.5px,#101010 66.5px,#131313 67.5px,#131313 70.5px,#151515 71.5px,#3e3e3e 75.5px,#5e5e5e 93.5px,#868686 110.5px,#cacaca 136.5px,#e1e1e1 148.5px,#ececec 158.5px,#ededed 166.5px,#e6e6e6 174.5px,#d4d4d4 183.5px,#b0b0b0 196.5px,#6e6e6e 218.5px,#4f4f4f 231.5px,#414141 239.5px,#3b3b3b 240.5px,#262626 242.5px,#202020 243.5px,#202020 251.5px,#181818 252.5px,#040404 253.5px,#000 254.5px,#000 316.5px)"></i><i style="left:420px;width:4px;background:linear-gradient(#000 0.5px,#000 64.5px,#040404 65.5px,#101010 66.5px,#131313 67.5px,#141414 70.5px,#3d3d3d 74.5px,#424242 76.5px,#5c5c5c 91.5px,#818181 107.5px,#cacaca 135.5px,#e1e1e1 147.5px,#ededed 157.5px,#eee 165.5px,#e8e8e8 173.5px,#d7d7d7 182.5px,#b7b7b7 194.5px,#6e6e6e 218.5px,#505050 231.5px,#3f3f3f 240.5px,#212121 243.5px,#202020 251.5px,#181818 252.5px,#040404 253.5px,#000 254.5px,#000 316.5px)"></i><i style="left:424px;width:4px;background:linear-gradient(#000 0.5px,#000 64.5px,#040404 65.5px,#101010 66.5px,#131313 67.5px,#131313 69.5px,#1b1b1b 70.5px,#3b3b3b 73.5px,#404040 74.5px,#595959 89.5px,#7d7d7d 105.5px,#ccc 135.5px,#e3e3e3 147.5px,#eee 157.5px,#efefef 165.5px,#e8e8e8 173.5px,#d7d7d7 182.5px,#b4b4b4 195.5px,#6f6f6f 218.5px,#505050 231.5px,#404040 240.5px,#393939 241.5px,#242424 243.5px,#202020 244.5px,#202020 251.5px,#181818 252.5px,#040404 253.5px,#000 254.5px,#000 316.5px)"></i><i style="left:428px;width:4px;background:linear-gradient(#000 0.5px,#000 64.5px,#040404 65.5px,#101010 66.5px,#131313 67.5px,#131313 68.5px,#171717 69.5px,#373737 72.5px,#404040 73.5px,#5b5b5b 89.5px,#7f7f7f 105.5px,#ccc 134.5px,#e3e3e3 146.5px,#efefef 156.5px,#f0f0f0 164.5px,#eaeaea 172.5px,#d9d9d9 181.5px,#bababa 193.5px,#6f6f6f 218.5px,#515151 231.5px,#414141 240.5px,#3d3d3d 241.5px,#282828 243.5px,#202020 244.5px,#202020 251.5px,#181818 252.5px,#040404 253.5px,#000 254.5px,#000 316.5px)"></i><i style="left:432px;width:4px;background:linear-gradient(#000 0.5px,#000 57.5px,#0e0e0e 58.5px,#1f1f1f 59.5px,#202020 66.5px,#1b1b1b 67.5px,#141414 68.5px,#3d3d3d 72.5px,#414141 73.5px,#5a5a5a 88.5px,#7f7f7f 104.5px,#cecece 134.5px,#e4e4e4 145.5px,#f0f0f0 155.5px,#f1f1f1 164.5px,#eaeaea 172.5px,#d7d7d7 182.5px,#b1b1b1 196.5px,#707070 218.5px,#515151 231.5px,#3f3f3f 241.5px,#222 244.5px,#202020 246.5px,#202020 251.5px,#101010 253.5px,#131313 254.5px,#131313 255.5px,#0c0c0c 256.5px,#010101 257.5px,#000 274.5px,#000 316.5px)"></i><i style="left:436px;width:4px;background:linear-gradient(#000 0.5px,#000 57.5px,#0e0e0e 58.5px,#1f1f1f 59.5px,#202020 66.5px,#191919 68.5px,#383838 71.5px,#404040 72.5px,#595959 87.5px,#7b7b7b 102.5px,#cecece 133.5px,#e5e5e5 144.5px,#f1f1f1 154.5px,#f2f2f2 163.5px,#ebebeb 171.5px,#d9d9d9 181.5px,#b6b6b6 194.5px,#727272 217.5px,#545454 230.5px,#404040 241.5px,#393939 242.5px,#242424 244.5px,#202020 245.5px,#202020 251.5px,#101010 253.5px,#131313 254.5px,#131313 255.5px,#0c0c0c 256.5px,#010101 257.5px,#000 274.5px,#000 316.5px)"></i><i style="left:440px;width:4px;background:linear-gradient(#000 0.5px,#000 57.5px,#0e0e0e 58.5px,#1f1f1f 59.5px,#202020 66.5px,#1c1c1c 67.5px,#1e1e1e 68.5px,#3d3d3d 71.5px,#424242 73.5px,#5a5a5a 87.5px,#7d7d7d 102.5px,#cfcfcf 132.5px,#e5e5e5 143.5px,#f2f2f2 153.5px,#f4f4f4 162.5px,#ececec 171.5px,#d9d9d9 181.5px,#b3b3b3 195.5px,#727272 217.5px,#525252 231.5px,#414141 241.5px,#3c3c3c 242.5px,#262626 244.5px,#202020 245.5px,#202020 251.5px,#101010 253.5px,#131313 254.5px,#131313 255.5px,#0c0c0c 256.5px,#010101 257.5px,#000 274.5px,#000 316.5px)"></i><i style="left:444px;width:4px;background:linear-gradient(#000 0.5px,#000 57.5px,#0e0e0e 58.5px,#1f1f1f 59.5px,#202020 66.5px,#1d1d1d 67.5px,#222 68.5px,#373737 70.5px,#3f3f3f 71.5px,#595959 86.5px,#7d7d7d 101.5px,#cfcfcf 131.5px,#e6e6e6 142.5px,#f2f2f2 151.5px,#f5f5f5 160.5px,#f0f0f0 168.5px,#e1e1e1 177.5px,#c3c3c3 189.5px,#727272 217.5px,#525252 231.5px,#414141 241.5px,#3d3d3d 242.5px,#282828 244.5px,#202020 245.5px,#202020 251.5px,#101010 253.5px,#131313 254.5px,#131313 255.5px,#0c0c0c 256.5px,#010101 257.5px,#000 274.5px,#000 316.5px)"></i><i style="left:448px;width:4px;background:linear-gradient(#000 0.5px,#000 57.5px,#0e0e0e 58.5px,#1f1f1f 59.5px,#202020 66.5px,#1e1e1e 67.5px,#232323 68.5px,#383838 70.5px,#404040 71.5px,#585858 85.5px,#7b7b7b 100.5px,#d2d2d2 131.5px,#e9e9e9 142.5px,#f4f4f4 151.5px,#f7f7f7 159.5px,#f0f0f0 168.5px,#dfdfdf 178.5px,#bdbdbd 191.5px,#727272 217.5px,#525252 231.5px,#414141 241.5px,#3d3d3d 242.5px,#282828 244.5px,#202020 245.5px,#202020 251.5px,#101010 253.5px,#131313 254.5px,#131313 255.5px,#0c0c0c 256.5px,#010101 257.5px,#000 274.5px,#000 316.5px)"></i><i style="left:452px;width:4px;background:linear-gradient(#000 0.5px,#000 57.5px,#0e0e0e 58.5px,#1f1f1f 59.5px,#202020 66.5px,#1e1e1e 67.5px,#232323 68.5px,#383838 70.5px,#404040 71.5px,#585858 85.5px,#7a7a7a 99.5px,#d2d2d2 130.5px,#eaeaea 141.5px,#f5f5f5 150.5px,#f8f8f8 158.5px,#f1f1f1 167.5px,#e0e0e0 177.5px,#bfbfbf 190.5px,#747474 216.5px,#545454 230.5px,#414141 241.5px,#3d3d3d 242.5px,#282828 244.5px,#202020 245.5px,#202020 251.5px,#181818 252.5px,#070707 253.5px,#040404 256.5px,#000 257.5px,#000 316.5px)"></i><i style="left:456px;width:4px;background:linear-gradient(#000 0.5px,#000 64.5px,#040404 65.5px,#101010 66.5px,#2e2e2e 69.5px,#383838 70.5px,#404040 71.5px,#595959 85.5px,#7b7b7b 99.5px,#d5d5d5 130.5px,#ececec 141.5px,#f7f7f7 150.5px,#f9f9f9 158.5px,#f2f2f2 167.5px,#e0e0e0 177.5px,#bbb 191.5px,#737373 216.5px,#535353 230.5px,#414141 241.5px,#3c3c3c 242.5px,#272727 244.5px,#202020 245.5px,#202020 251.5px,#181818 252.5px,#040404 253.5px,#000 254.5px,#000 316.5px)"></i><i style="left:460px;width:4px;background:linear-gradient(#000 0.5px,#000 64.5px,#040404 65.5px,#101010 66.5px,#2e2e2e 69.5px,#383838 70.5px,#404040 71.5px,#595959 85.5px,#7c7c7c 99.5px,#d5d5d5 129.5px,#ededed 140.5px,#f9f9f9 149.5px,#fafafa 157.5px,#f3f3f3 166.5px,#e1e1e1 176.5px,#c0c0c0 189.5px,#757575 215.5px,#555 229.5px,#414141 241.5px,#3b3b3b 242.5px,#262626 244.5px,#202020 245.5px,#202020 251.5px,#181818 252.5px,#040404 253.5px,#000 254.5px,#000 316.5px)"></i><i style="left:464px;width:4px;background:linear-gradient(#000 0.5px,#000 64.5px,#040404 65.5px,#101010 66.5px,#2e2e2e 69.5px,#383838 70.5px,#404040 71.5px,#5a5a5a 85.5px,#7d7d7d 99.5px,#d5d5d5 128.5px,#ececec 138.5px,#f9f9f9 147.5px,#fcfcfc 155.5px,#f6f6f6 164.5px,#e5e5e5 174.5px,#c4c4c4 187.5px,#747474 215.5px,#545454 229.5px,#404040 241.5px,#393939 242.5px,#040404 247.5px,#000 248.5px,#000 316.5px)"></i><i style="left:468px;width:4px;background:linear-gradient(#000 0.5px,#010101 59.5px,#191919 61.5px,#1a1a1a 67.5px,#383838 70.5px,#404040 71.5px,#585858 84.5px,#797979 97.5px,#d7d7d7 128.5px,#eee 138.5px,#fafafa 147.5px,#fdfdfd 155.5px,#f6f6f6 164.5px,#e4e4e4 174.5px,#c3c3c3 187.5px,#767676 214.5px,#565656 228.5px,#3f3f3f 241.5px,#2c2c2c 243.5px,#020202 247.5px,#000 249.5px,#000 316.5px)"></i><i style="left:472px;width:4px;background:linear-gradient(#000 0.5px,#010101 59.5px,#191919 61.5px,#191919 67.5px,#212121 68.5px,#3f3f3f 71.5px,#5a5a5a 85.5px,#7c7c7c 98.5px,#d6d6d6 127.5px,#eee 137.5px,#fbfbfb 146.5px,#fefefe 154.5px,#f7f7f7 163.5px,#e6e6e6 173.5px,#c5c5c5 186.5px,#757575 214.5px,#555 228.5px,#414141 240.5px,#3e3e3e 241.5px,#0a0a0a 246.5px,#010101 247.5px,#000 316.5px)"></i><i style="left:476px;width:4px;background:linear-gradient(#000 0.5px,#010101 59.5px,#191919 61.5px,#1a1a1a 66.5px,#181818 67.5px,#1d1d1d 68.5px,#3d3d3d 71.5px,#434343 73.5px,#5c5c5c 86.5px,#7f7f7f 99.5px,#d7d7d7 127.5px,#efefef 137.5px,#fbfbfb 145.5px,#fefefe 153.5px,#f8f8f8 162.5px,#e8e8e8 172.5px,#c7c7c7 185.5px,#777 213.5px,#575757 227.5px,#414141 240.5px,#3c3c3c 241.5px,#070707 246.5px,#000 247.5px,#000 316.5px)"></i><i style="left:480px;width:4px;background:linear-gradient(#000 0.5px,#010101 59.5px,#191919 61.5px,#1a1a1a 66.5px,#171717 67.5px,#181818 68.5px,#383838 71.5px,#404040 72.5px,#595959 85.5px,#7c7c7c 98.5px,#d8d8d8 127.5px,#f0f0f0 137.5px,#fcfcfc 145.5px,#fff 153.5px,#f8f8f8 162.5px,#e7e7e7 172.5px,#c6c6c6 185.5px,#767676 213.5px,#565656 227.5px,#404040 240.5px,#393939 241.5px,#040404 246.5px,#000 247.5px,#000 316.5px)"></i><i style="left:484px;width:4px;background:linear-gradient(#000 0.5px,#010101 59.5px,#191919 61.5px,#1a1a1a 66.5px,#141414 68.5px,#272727 70.5px,#3c3c3c 72.5px,#414141 73.5px,#585858 85.5px,#7b7b7b 98.5px,#d8d8d8 127.5px,#f1f1f1 137.5px,#fcfcfc 145.5px,#fff 152.5px,#f9f9f9 161.5px,#e9e9e9 171.5px,#c9c9c9 184.5px,#757575 213.5px,#555 227.5px,#3f3f3f 240.5px,#020202 246.5px,#000 250.5px,#000 316.5px)"></i><i style="left:488px;width:4px;background:linear-gradient(#000 0.5px,#010101 59.5px,#191919 61.5px,#1a1a1a 66.5px,#131313 68.5px,#141414 69.5px,#323232 72.5px,#3d3d3d 73.5px,#414141 74.5px,#595959 86.5px,#7c7c7c 99.5px,#d8d8d8 127.5px,#f0f0f0 137.5px,#fcfcfc 145.5px,#fff 152.5px,#f9f9f9 161.5px,#e8e8e8 171.5px,#c8c8c8 184.5px,#777 212.5px,#575757 226.5px,#414141 239.5px,#3d3d3d 240.5px,#1d1d1d 243.5px,#191919 244.5px,#1a1a1a 249.5px,#151515 250.5px,#050505 251.5px,#000 252.5px,#000 316.5px)"></i><i style="left:492px;width:4px;background:linear-gradient(#000 0.5px,#000 64.5px,#040404 65.5px,#101010 66.5px,#131313 67.5px,#131313 71.5px,#1b1b1b 72.5px,#3b3b3b 75.5px,#414141 76.5px,#595959 88.5px,#7a7a7a 100.5px,#d8d8d8 128.5px,#efefef 137.5px,#fcfcfc 145.5px,#fff 152.5px,#f9f9f9 161.5px,#e8e8e8 171.5px,#c7c7c7 184.5px,#767676 212.5px,#565656 226.5px,#404040 239.5px,#383838 240.5px,#181818 243.5px,#1a1a1a 249.5px,#151515 250.5px,#050505 251.5px,#000 252.5px,#000 316.5px)"></i><i style="left:496px;width:4px;background:linear-gradient(#000 0.5px,#000 64.5px,#040404 65.5px,#101010 66.5px,#131313 67.5px,#131313 72.5px,#101010 73.5px,#111 74.5px,#3c3c3c 78.5px,#414141 79.5px,#585858 90.5px,#7a7a7a 102.5px,#d8d8d8 129.5px,#f0f0f0 138.5px,#fbfbfb 145.5px,#fefefe 152.5px,#f8f8f8 161.5px,#e8e8e8 171.5px,#c7c7c7 184.5px,#757575 212.5px,#555 226.5px,#414141 238.5px,#3c3c3c 239.5px,#1c1c1c 242.5px,#141414 243.5px,#191919 244.5px,#1a1a1a 249.5px,#151515 250.5px,#050505 251.5px,#000 252.5px,#000 316.5px)"></i><i style="left:500px;width:4px;background:linear-gradient(#000 0.5px,#000 64.5px,#040404 65.5px,#101010 66.5px,#131313 67.5px,#131313 72.5px,#101010 73.5px,#040404 74.5px,#000 75.5px,#070707 76.5px,#3c3c3c 81.5px,#414141 82.5px,#595959 93.5px,#7a7a7a 104.5px,#d7d7d7 130.5px,#f0f0f0 139.5px,#fbfbfb 146.5px,#fefefe 153.5px,#f7f7f7 162.5px,#e5e5e5 172.5px,#c3c3c3 185.5px,#777 211.5px,#565656 225.5px,#3e3e3e 238.5px,#151515 242.5px,#101010 243.5px,#191919 244.5px,#1a1a1a 249.5px,#151515 250.5px,#050505 251.5px,#000 252.5px,#000 316.5px)"></i><i style="left:504px;width:4px;background:linear-gradient(#000 0.5px,#000 64.5px,#040404 65.5px,#101010 66.5px,#131313 67.5px,#131313 72.5px,#101010 73.5px,#040404 74.5px,#000 75.5px,#000 77.5px,#030303 78.5px,#383838 83.5px,#404040 84.5px,#595959 95.5px,#7b7b7b 106.5px,#d7d7d7 131.5px,#eee 139.5px,#fafafa 146.5px,#fdfdfd 153.5px,#f6f6f6 162.5px,#e4e4e4 172.5px,#c2c2c2 185.5px,#767676 211.5px,#555 225.5px,#404040 237.5px,#383838 238.5px,#0d0d0d 242.5px,#0e0e0e 243.5px,#191919 244.5px,#1a1a1a 249.5px,#151515 250.5px,#050505 251.5px,#000 252.5px,#000 316.5px)"></i><i style="left:508px;width:4px;background:linear-gradient(#000 0.5px,#010101 79.5px,#1f1f1f 82.5px,#3e3e3e 85.5px,#5e5e5e 98.5px,#818181 109.5px,#d4d4d4 131.5px,#ebebeb 139.5px,#f8f8f8 146.5px,#fcfcfc 152.5px,#f8f8f8 160.5px,#eaeaea 169.5px,#d0d0d0 180.5px,#747474 211.5px,#535353 225.5px,#404040 236.5px,#3a3a3a 237.5px,#060606 242.5px,#191919 244.5px,#1a1a1a 249.5px,#151515 250.5px,#050505 251.5px,#000 252.5px,#000 316.5px)"></i><i style="left:512px;width:4px;background:linear-gradient(#000 0.5px,#000 80.5px,#080808 81.5px,#3d3d3d 86.5px,#434343 88.5px,#5b5b5b 98.5px,#7e7e7e 109.5px,#d4d4d4 132.5px,#ebebeb 140.5px,#f8f8f8 147.5px,#fbfbfb 153.5px,#f6f6f6 161.5px,#e8e8e8 170.5px,#cdcdcd 181.5px,#737373 211.5px,#545454 224.5px,#414141 235.5px,#3d3d3d 236.5px,#080808 241.5px,#010101 242.5px,#151515 244.5px,#151515 249.5px,#111 250.5px,#040404 251.5px,#000 252.5px,#000 316.5px)"></i><i style="left:516px;width:4px;background:linear-gradient(#000 0.5px,#010101 81.5px,#131313 83.5px,#3d3d3d 87.5px,#434343 89.5px,#5b5b5b 99.5px,#7e7e7e 110.5px,#d4d4d4 133.5px,#ebebeb 141.5px,#f7f7f7 148.5px,#fafafa 154.5px,#f4f4f4 162.5px,#e5e5e5 171.5px,#c6c6c6 183.5px,#757575 210.5px,#555 223.5px,#3f3f3f 235.5px,#2c2c2c 237.5px,#020202 241.5px,#000 243.5px,#000 316.5px)"></i><i style="left:520px;width:4px;background:linear-gradient(#000 0.5px,#000 81.5px,#010101 82.5px,#3f3f3f 88.5px,#5b5b5b 100.5px,#7f7f7f 111.5px,#d1d1d1 133.5px,#e8e8e8 141.5px,#f5f5f5 148.5px,#f8f8f8 154.5px,#f3f3f3 162.5px,#e5e5e5 171.5px,#c9c9c9 182.5px,#717171 211.5px,#525252 224.5px,#414141 234.5px,#3b3b3b 235.5px,#060606 240.5px,#000 241.5px,#000 316.5px)"></i><i style="left:524px;width:4px;background:linear-gradient(#000 0.5px,#000 82.5px,#030303 83.5px,#373737 88.5px,#404040 89.5px,#595959 100.5px,#7c7c7c 111.5px,#d1d1d1 134.5px,#e7e7e7 142.5px,#f3f3f3 149.5px,#f6f6f6 155.5px,#f1f1f1 163.5px,#e2e2e2 172.5px,#c6c6c6 183.5px,#717171 211.5px,#525252 224.5px,#404040 234.5px,#2d2d2d 236.5px,#030303 240.5px,#000 241.5px,#000 316.5px)"></i><i style="left:528px;width:4px;background:linear-gradient(#000 0.5px,#000 83.5px,#050505 84.5px,#3a3a3a 89.5px,#414141 90.5px,#575757 100.5px,#797979 111.5px,#d0d0d0 135.5px,#e7e7e7 143.5px,#f2f2f2 150.5px,#f5f5f5 156.5px,#efefef 164.5px,#dfdfdf 173.5px,#c0c0c0 185.5px,#737373 210.5px,#535353 223.5px,#414141 233.5px,#3e3e3e 234.5px,#0a0a0a 239.5px,#010101 240.5px,#000 316.5px)"></i><i style="left:532px;width:4px;background:linear-gradient(#000 0.5px,#010101 84.5px,#131313 86.5px,#3d3d3d 90.5px,#434343 92.5px,#5d5d5d 103.5px,#848484 115.5px,#cdcdcd 135.5px,#e3e3e3 143.5px,#efefef 150.5px,#f3f3f3 156.5px,#eee 164.5px,#dfdfdf 173.5px,#c2c2c2 184.5px,#707070 211.5px,#515151 224.5px,#414141 233.5px,#3c3c3c 234.5px,#070707 239.5px,#000 240.5px,#000 316.5px)"></i><i style="left:536px;width:4px;background:linear-gradient(#000 0.5px,#000 84.5px,#030303 85.5px,#383838 90.5px,#404040 91.5px,#595959 102.5px,#7a7a7a 113.5px,#ccc 136.5px,#e2e2e2 144.5px,#eee 151.5px,#f1f1f1 158.5px,#eaeaea 166.5px,#d9d9d9 175.5px,#b9b9b9 187.5px,#707070 211.5px,#505050 224.5px,#404040 233.5px,#393939 234.5px,#040404 239.5px,#000 240.5px,#000 316.5px)"></i><i style="left:540px;width:4px;background:linear-gradient(#000 0.5px,#000 85.5px,#070707 86.5px,#3c3c3c 91.5px,#414141 92.5px,#5a5a5a 103.5px,#7f7f7f 115.5px,#c9c9c9 136.5px,#e1e1e1 145.5px,#ececec 152.5px,#eee 159.5px,#e8e8e8 167.5px,#d7d7d7 176.5px,#b6b6b6 188.5px,#6f6f6f 211.5px,#505050 224.5px,#3f3f3f 233.5px,#020202 239.5px,#000 242.5px,#000 316.5px)"></i><i style="left:544px;width:4px;background:linear-gradient(#000 0.5px,#000 85.5px,#020202 86.5px,#373737 91.5px,#404040 92.5px,#5b5b5b 104.5px,#808080 116.5px,#c9c9c9 137.5px,#e0e0e0 146.5px,#ebebeb 153.5px,#ececec 160.5px,#e5e5e5 168.5px,#d4d4d4 177.5px,#afafaf 190.5px,#6f6f6f 211.5px,#505050 224.5px,#414141 232.5px,#3e3e3e 233.5px,#090909 238.5px,#010101 239.5px,#000 316.5px)"></i><i style="left:548px;width:4px;background:linear-gradient(#000 0.5px,#000 86.5px,#070707 87.5px,#3c3c3c 92.5px,#414141 93.5px,#595959 104.5px,#7d7d7d 116.5px,#c8c8c8 138.5px,#dfdfdf 147.5px,#e9e9e9 154.5px,#eaeaea 161.5px,#e3e3e3 169.5px,#d1d1d1 178.5px,#acacac 191.5px,#6c6c6c 212.5px,#4d4d4d 225.5px,#414141 232.5px,#3c3c3c 233.5px,#070707 238.5px,#000 239.5px,#000 316.5px)"></i><i style="left:552px;width:4px;background:linear-gradient(#000 0.5px,#000 86.5px,#020202 87.5px,#373737 92.5px,#3f3f3f 93.5px,#5a5a5a 105.5px,#7e7e7e 117.5px,#c5c5c5 138.5px,#dcdcdc 147.5px,#e7e7e7 154.5px,#e9e9e9 161.5px,#e2e2e2 169.5px,#d0d0d0 178.5px,#acacac 191.5px,#6c6c6c 212.5px,#4d4d4d 225.5px,#414141 232.5px,#3a3a3a 233.5px,#050505 238.5px,#000 239.5px,#000 316.5px)"></i><i style="left:556px;width:4px;background:linear-gradient(#000 0.5px,#000 87.5px,#080808 88.5px,#3c3c3c 93.5px,#414141 94.5px,#595959 105.5px,#7c7c7c 117.5px,#c5c5c5 139.5px,#dcdcdc 148.5px,#e6e6e6 155.5px,#e7e7e7 162.5px,#e0e0e0 170.5px,#cecece 179.5px,#a9a9a9 192.5px,#6c6c6c 212.5px,#4d4d4d 225.5px,#404040 232.5px,#393939 233.5px,#040404 238.5px,#000 239.5px,#000 316.5px)"></i><i style="left:560px;width:4px;background:linear-gradient(#000 0.5px,#000 87.5px,#050505 88.5px,#3a3a3a 93.5px,#414141 94.5px,#585858 105.5px,#7a7a7a 117.5px,#c3c3c3 139.5px,#dadada 148.5px,#e4e4e4 155.5px,#e6e6e6 162.5px,#dfdfdf 170.5px,#cecece 179.5px,#a9a9a9 192.5px,#6c6c6c 212.5px,#4d4d4d 225.5px,#404040 232.5px,#383838 233.5px,#030303 238.5px,#000 239.5px,#000 316.5px)"></i><i style="left:564px;width:4px;background:linear-gradient(#000 0.5px,#000 87.5px,#050505 88.5px,#3a3a3a 93.5px,#414141 94.5px,#585858 105.5px,#7d7d7d 118.5px,#c4c4c4 140.5px,#dadada 149.5px,#e3e3e3 156.5px,#e5e5e5 163.5px,#ddd 171.5px,#ccc 180.5px,#a6a6a6 193.5px,#6a6a6a 213.5px,#4d4d4d 225.5px,#404040 232.5px,#383838 233.5px,#040404 238.5px,#000 239.5px,#000 316.5px)"></i><i style="left:568px;width:4px;background:linear-gradient(#000 0.5px,#010101 87.5px,#141414 89.5px,#3e3e3e 93.5px,#434343 95.5px,#5d5d5d 107.5px,#868686 121.5px,#c3c3c3 140.5px,#d8d8d8 149.5px,#e3e3e3 157.5px,#e4e4e4 164.5px,#dcdcdc 172.5px,#cacaca 181.5px,#a1a1a1 195.5px,#6a6a6a 213.5px,#4d4d4d 225.5px,#404040 232.5px,#3a3a3a 233.5px,#050505 238.5px,#000 239.5px,#000 316.5px)"></i><i style="left:572px;width:4px;background:linear-gradient(#000 0.5px,#000 86.5px,#060606 87.5px,#3b3b3b 92.5px,#414141 93.5px,#595959 105.5px,#7e7e7e 118.5px,#c2c2c2 140.5px,#d8d8d8 149.5px,#e3e3e3 157.5px,#e4e4e4 164.5px,#ddd 172.5px,#cbcbcb 181.5px,#a5a5a5 194.5px,#6b6b6b 213.5px,#4e4e4e 225.5px,#414141 232.5px,#3c3c3c 233.5px,#070707 238.5px,#000 239.5px,#000 316.5px)"></i><i style="left:576px;width:4px;background:linear-gradient(#000 0.5px,#000 85.5px,#060606 86.5px,#3b3b3b 91.5px,#414141 92.5px,#595959 104.5px,#7c7c7c 117.5px,#c3c3c3 140.5px,#d9d9d9 150.5px,#e3e3e3 158.5px,#e4e4e4 165.5px,#dcdcdc 173.5px,#cacaca 182.5px,#a1a1a1 196.5px,#6a6a6a 214.5px,#4d4d4d 226.5px,#3f3f3f 233.5px,#020202 239.5px,#000 242.5px,#000 316.5px)"></i><i style="left:580px;width:4px;background:linear-gradient(#000 0.5px,#000 84.5px,#090909 85.5px,#3d3d3d 90.5px,#434343 92.5px,#5b5b5b 104.5px,#818181 118.5px,#c3c3c3 140.5px,#dadada 150.5px,#e4e4e4 158.5px,#e6e6e6 165.5px,#dedede 173.5px,#ccc 182.5px,#a6a6a6 195.5px,#6b6b6b 214.5px,#4e4e4e 226.5px,#414141 233.5px,#3b3b3b 234.5px,#060606 239.5px,#000 240.5px,#000 316.5px)"></i><i style="left:584px;width:4px;background:linear-gradient(#000 0.5px,#000 82.5px,#050505 83.5px,#3a3a3a 88.5px,#404040 89.5px,#595959 102.5px,#7e7e7e 116.5px,#c5c5c5 140.5px,#dbdbdb 150.5px,#e5e5e5 158.5px,#e7e7e7 165.5px,#e0e0e0 173.5px,#cecece 182.5px,#a8a8a8 195.5px,#6d6d6d 214.5px,#4f4f4f 226.5px,#3f3f3f 234.5px,#212121 237.5px,#020202 240.5px,#000 242.5px,#000 316.5px)"></i><i style="left:588px;width:4px;background:linear-gradient(#000 0.5px,#000 79.5px,#030303 80.5px,#383838 85.5px,#404040 86.5px,#5a5a5a 100.5px,#818181 115.5px,#c5c5c5 139.5px,#dbdbdb 149.5px,#e7e7e7 158.5px,#e8e8e8 166.5px,#e0e0e0 174.5px,#cecece 183.5px,#a7a7a7 196.5px,#6c6c6c 215.5px,#4e4e4e 227.5px,#414141 234.5px,#3d3d3d 235.5px,#080808 240.5px,#000 241.5px,#000 316.5px)"></i><i style="left:592px;width:4px;background:linear-gradient(#000 0.5px,#000 75.5px,#010101 76.5px,#3f3f3f 82.5px,#5f5f5f 99.5px,#878787 115.5px,#c7c7c7 138.5px,#dedede 149.5px,#e8e8e8 158.5px,#eaeaea 166.5px,#e2e2e2 174.5px,#d0d0d0 183.5px,#a9a9a9 196.5px,#6e6e6e 215.5px,#505050 227.5px,#404040 235.5px,#3a3a3a 236.5px,#050505 241.5px,#000 242.5px,#000 316.5px)"></i><i style="left:596px;width:4px;background:linear-gradient(#000 0.5px,#000 71.5px,#020202 72.5px,#363636 77.5px,#3f3f3f 78.5px,#5b5b5b 94.5px,#818181 110.5px,#c8c8c8 137.5px,#dedede 148.5px,#eaeaea 158.5px,#ececec 166.5px,#e4e4e4 174.5px,#d2d2d2 183.5px,#acacac 196.5px,#6d6d6d 216.5px,#4f4f4f 228.5px,#404040 236.5px,#2d2d2d 238.5px,#030303 242.5px,#000 243.5px,#000 316.5px)"></i><i style="left:600px;width:3px;background:linear-gradient(#000 0.5px,#000 68.5px,#030303 69.5px,#383838 74.5px,#404040 75.5px,#5a5a5a 91.5px,#7e7e7e 107.5px,#c9c9c9 136.5px,#e0e0e0 148.5px,#ebebeb 158.5px,#ededed 166.5px,#e5e5e5 174.5px,#d3d3d3 183.5px,#adadad 196.5px,#6e6e6e 216.5px,#505050 228.5px,#414141 236.5px,#3d3d3d 237.5px,#080808 242.5px,#000 243.5px,#000 316.5px)"></i></div></div>
<div class="hm" style="left:981px;top:54px;width:592px;height:317px"><div class="hi" style="left:-6px;width:604px;filter:url(#cmc)"><i style="left:0px;width:4px;background:linear-gradient(#000 0.5px,#000 99.5px,#313131 116.5px,#3f3f3f 117.5px,#4a4a4a 119.5px,#696969 125.5px,#a1a1a1 135.5px,#b6b6b6 140.5px,#c2c2c2 145.5px,#c5c5c5 151.5px,#c1c1c1 159.5px,#b7b7b7 166.5px,#a0a0a0 174.5px,#525252 195.5px,#434343 200.5px,#3e3e3e 201.5px,#323232 202.5px,#000 242.5px,#000 316.5px)"></i><i style="left:4px;width:4px;background:linear-gradient(#000 0.5px,#000 99.5px,#0a0a0a 103.5px,#2f2f2f 116.5px,#353535 117.5px,#424242 118.5px,#5e5e5e 124.5px,#a1a1a1 136.5px,#b6b6b6 141.5px,#c1c1c1 146.5px,#c5c5c5 152.5px,#c2c2c2 160.5px,#b7b7b7 167.5px,#a5a5a5 174.5px,#787878 186.5px,#4f4f4f 197.5px,#414141 202.5px,#323232 203.5px,#000 243.5px,#000 316.5px)"></i><i style="left:8px;width:4px;background:linear-gradient(#000 0.5px,#010101 100.5px,#303030 117.5px,#444 119.5px,#606060 125.5px,#a1a1a1 137.5px,#b6b6b6 142.5px,#c1c1c1 147.5px,#c5c5c5 153.5px,#c2c2c2 161.5px,#b8b8b8 168.5px,#a5a5a5 175.5px,#7c7c7c 186.5px,#525252 197.5px,#434343 202.5px,#323232 204.5px,#000 243.5px,#000 316.5px)"></i><i style="left:12px;width:4px;background:linear-gradient(#000 0.5px,#000 100.5px,#313131 118.5px,#3f3f3f 119.5px,#494949 121.5px,#6c6c6c 128.5px,#a2a2a2 138.5px,#b6b6b6 143.5px,#c2c2c2 148.5px,#c6c6c6 154.5px,#c3c3c3 162.5px,#b8b8b8 169.5px,#a5a5a5 176.5px,#7b7b7b 187.5px,#515151 198.5px,#424242 203.5px,#353535 204.5px,#313131 205.5px,#000 244.5px,#000 316.5px)"></i><i style="left:16px;width:4px;background:linear-gradient(#000 0.5px,#000 100.5px,#303030 118.5px,#353535 119.5px,#424242 120.5px,#5d5d5d 126.5px,#a2a2a2 139.5px,#b6b6b6 144.5px,#c2c2c2 149.5px,#c7c7c7 155.5px,#c4c4c4 163.5px,#b9b9b9 170.5px,#a6a6a6 177.5px,#7b7b7b 188.5px,#505050 199.5px,#434343 203.5px,#3e3e3e 204.5px,#323232 205.5px,#000 244.5px,#000 316.5px)"></i><i style="left:20px;width:4px;background:linear-gradient(#000 0.5px,#010101 100.5px,#303030 119.5px,#444 121.5px,#5e5e5e 127.5px,#a2a2a2 140.5px,#b7b7b7 145.5px,#c3c3c3 150.5px,#c9c9c9 156.5px,#c7c7c7 164.5px,#bcbcbc 171.5px,#a8a8a8 178.5px,#808080 188.5px,#545454 199.5px,#434343 204.5px,#3e3e3e 205.5px,#323232 206.5px,#000 244.5px,#000 316.5px)"></i><i style="left:24px;width:4px;background:linear-gradient(#000 0.5px,#000 99.5px,#313131 120.5px,#414141 121.5px,#5a5a5a 127.5px,#a7a7a7 142.5px,#bababa 147.5px,#c6c6c6 152.5px,#cbcbcb 158.5px,#c9c9c9 166.5px,#c0c0c0 172.5px,#b0b0b0 178.5px,#919191 186.5px,#585858 199.5px,#434343 205.5px,#3e3e3e 206.5px,#323232 207.5px,#000 244.5px,#000 316.5px)"></i><i style="left:28px;width:4px;background:linear-gradient(#000 0.5px,#010101 99.5px,#2c2c2c 119.5px,#2e2e2e 120.5px,#333 121.5px,#424242 122.5px,#5f5f5f 129.5px,#a7a7a7 143.5px,#bebebe 149.5px,#c9c9c9 154.5px,#cecece 160.5px,#cbcbcb 168.5px,#c2c2c2 174.5px,#b0b0b0 180.5px,#8f8f8f 188.5px,#595959 200.5px,#444 206.5px,#3e3e3e 207.5px,#323232 208.5px,#000 244.5px,#000 316.5px)"></i><i style="left:32px;width:4px;background:linear-gradient(#000 0.5px,#000 98.5px,#292929 118.5px,#2c2c2c 121.5px,#353535 122.5px,#434343 123.5px,#606060 130.5px,#a8a8a8 144.5px,#bfbfbf 150.5px,#cbcbcb 155.5px,#d0d0d0 161.5px,#cecece 169.5px,#c5c5c5 175.5px,#b4b4b4 181.5px,#929292 189.5px,#5a5a5a 201.5px,#444 207.5px,#3e3e3e 208.5px,#323232 209.5px,#000 244.5px,#000 316.5px)"></i><i style="left:36px;width:4px;background:linear-gradient(#000 0.5px,#000 97.5px,#262626 117.5px,#292929 122.5px,#383838 123.5px,#444 124.5px,#616161 131.5px,#aaa 145.5px,#c1c1c1 151.5px,#cdcdcd 156.5px,#d3d3d3 162.5px,#d1d1d1 170.5px,#c7c7c7 176.5px,#b5b5b5 182.5px,#929292 190.5px,#595959 202.5px,#434343 208.5px,#323232 210.5px,#000 244.5px,#000 316.5px)"></i><i style="left:40px;width:4px;background:linear-gradient(#000 0.5px,#000 96.5px,#242424 116.5px,#232323 119.5px,#212121 121.5px,#262626 123.5px,#3c3c3c 124.5px,#444 125.5px,#636363 132.5px,#acacac 146.5px,#c4c4c4 152.5px,#d0d0d0 157.5px,#d5d5d5 163.5px,#d3d3d3 171.5px,#c8c8c8 177.5px,#b5b5b5 183.5px,#919191 191.5px,#5c5c5c 202.5px,#424242 209.5px,#353535 210.5px,#313131 211.5px,#000 243.5px,#000 316.5px)"></i><i style="left:44px;width:4px;background:linear-gradient(#000 0.5px,#000 95.5px,#232323 116.5px,#222 118.5px,#1a1a1a 121.5px,#1b1b1b 122.5px,#252525 124.5px,#424242 125.5px,#5b5b5b 131.5px,#b0b0b0 147.5px,#c4c4c4 152.5px,#d1d1d1 157.5px,#d7d7d7 163.5px,#d5d5d5 171.5px,#cbcbcb 177.5px,#b8b8b8 183.5px,#949494 191.5px,#5a5a5a 203.5px,#434343 209.5px,#313131 211.5px,#000 243.5px,#000 316.5px)"></i><i style="left:48px;width:4px;background:linear-gradient(#000 0.5px,#010101 95.5px,#222 115.5px,#222 117.5px,#1b1b1b 119.5px,#131313 121.5px,#131313 122.5px,#171717 123.5px,#1f1f1f 124.5px,#434343 126.5px,#5d5d5d 132.5px,#b0b0b0 147.5px,#c5c5c5 152.5px,#d3d3d3 157.5px,#dadada 162.5px,#d9d9d9 170.5px,#d1d1d1 176.5px,#bfbfbf 182.5px,#a1a1a1 189.5px,#5b5b5b 203.5px,#444 209.5px,#3e3e3e 210.5px,#323232 211.5px,#000 243.5px,#000 316.5px)"></i><i style="left:52px;width:4px;background:linear-gradient(#000 0.5px,#010101 94.5px,#212121 115.5px,#202020 117.5px,#171717 119.5px,#0b0b0b 121.5px,#0b0b0b 122.5px,#101010 123.5px,#232323 125.5px,#3c3c3c 126.5px,#454545 127.5px,#606060 133.5px,#b5b5b5 148.5px,#cacaca 153.5px,#d8d8d8 158.5px,#ddd 163.5px,#dcdcdc 171.5px,#d2d2d2 177.5px,#bfbfbf 183.5px,#9f9f9f 190.5px,#5d5d5d 203.5px,#424242 210.5px,#353535 211.5px,#313131 212.5px,#000 242.5px,#000 316.5px)"></i><i style="left:56px;width:4px;background:linear-gradient(#000 0.5px,#010101 93.5px,#212121 115.5px,#1f1f1f 117.5px,#1b1b1b 118.5px,#0b0b0b 120.5px,#050505 121.5px,#050505 122.5px,#0b0b0b 123.5px,#202020 125.5px,#363636 126.5px,#434343 127.5px,#5f5f5f 133.5px,#b5b5b5 148.5px,#ccc 153.5px,#dbdbdb 158.5px,#e1e1e1 163.5px,#e0e0e0 171.5px,#d7d7d7 177.5px,#c8c8c8 182.5px,#aeaeae 188.5px,#5f5f5f 203.5px,#434343 210.5px,#383838 211.5px,#313131 212.5px,#000 242.5px,#000 316.5px)"></i><i style="left:60px;width:4px;background:linear-gradient(#000 0.5px,#000 92.5px,#212121 115.5px,#1f1f1f 117.5px,#191919 118.5px,#080808 120.5px,#020202 121.5px,#010101 122.5px,#080808 123.5px,#1e1e1e 125.5px,#434343 127.5px,#5e5e5e 133.5px,#929292 142.5px,#bbb 149.5px,#d2d2d2 154.5px,#e0e0e0 159.5px,#e6e6e6 164.5px,#e5e5e5 172.5px,#ddd 177.5px,#cecece 182.5px,#b3b3b3 188.5px,#626262 203.5px,#484848 209.5px,#3e3e3e 211.5px,#323232 212.5px,#000 241.5px,#000 316.5px)"></i><i style="left:64px;width:4px;background:linear-gradient(#000 0.5px,#010101 92.5px,#222 115.5px,#1f1f1f 117.5px,#191919 118.5px,#080808 120.5px,#020202 121.5px,#010101 122.5px,#070707 123.5px,#1e1e1e 125.5px,#2c2c2c 126.5px,#424242 127.5px,#5d5d5d 133.5px,#8c8c8c 141.5px,#bdbdbd 149.5px,#d4d4d4 154.5px,#e4e4e4 159.5px,#eaeaea 164.5px,#eaeaea 172.5px,#e2e2e2 177.5px,#d4d4d4 182.5px,#b8b8b8 188.5px,#646464 203.5px,#494949 209.5px,#424242 211.5px,#323232 212.5px,#010101 240.5px,#000 316.5px)"></i><i style="left:68px;width:4px;background:linear-gradient(#000 0.5px,#000 91.5px,#222 115.5px,#1f1f1f 117.5px,#1b1b1b 118.5px,#0b0b0b 120.5px,#050505 121.5px,#040404 122.5px,#0a0a0a 123.5px,#1f1f1f 125.5px,#2d2d2d 126.5px,#424242 127.5px,#5e5e5e 133.5px,#8d8d8d 141.5px,#bfbfbf 149.5px,#d7d7d7 154.5px,#e7e7e7 159.5px,#efefef 164.5px,#efefef 171.5px,#e9e9e9 176.5px,#dcdcdc 181.5px,#c7c7c7 186.5px,#9a9a9a 194.5px,#666 203.5px,#4a4a4a 209.5px,#424242 211.5px,#353535 212.5px,#313131 213.5px,#000 240.5px,#000 316.5px)"></i><i style="left:72px;width:4px;background:linear-gradient(#000 0.5px,#010101 91.5px,#222 115.5px,#212121 117.5px,#161616 119.5px,#0a0a0a 121.5px,#0a0a0a 122.5px,#0f0f0f 123.5px,#222 125.5px,#434343 127.5px,#595959 132.5px,#828282 139.5px,#c2c2c2 149.5px,#dbdbdb 154.5px,#ebebeb 159.5px,#f3f3f3 164.5px,#f3f3f3 171.5px,#ededed 176.5px,#e0e0e0 181.5px,#cacaca 186.5px,#9c9c9c 194.5px,#676767 203.5px,#4a4a4a 209.5px,#434343 211.5px,#383838 212.5px,#313131 213.5px,#000 239.5px,#000 316.5px)"></i><i style="left:76px;width:4px;background:linear-gradient(#000 0.5px,#000 90.5px,#232323 115.5px,#222 117.5px,#1a1a1a 119.5px,#111 121.5px,#121212 122.5px,#161616 123.5px,#252525 125.5px,#434343 127.5px,#5a5a5a 132.5px,#858585 139.5px,#c6c6c6 149.5px,#dfdfdf 154.5px,#f0f0f0 159.5px,#f7f7f7 164.5px,#f6f6f6 171.5px,#f0f0f0 176.5px,#e1e1e1 181.5px,#cbcbcb 186.5px,#9c9c9c 194.5px,#666 203.5px,#4a4a4a 209.5px,#424242 211.5px,#353535 212.5px,#313131 213.5px,#000 238.5px,#000 316.5px)"></i><i style="left:80px;width:4px;background:linear-gradient(#000 0.5px,#010101 90.5px,#242424 116.5px,#222 118.5px,#191919 121.5px,#191919 122.5px,#232323 124.5px,#292929 125.5px,#393939 126.5px,#444 127.5px,#5c5c5c 132.5px,#818181 138.5px,#c5c5c5 148.5px,#e0e0e0 153.5px,#efefef 157.5px,#f8f8f8 162.5px,#fafafa 169.5px,#f4f4f4 174.5px,#e8e8e8 179.5px,#d3d3d3 184.5px,#acacac 191.5px,#6a6a6a 202.5px,#4d4d4d 208.5px,#414141 211.5px,#323232 212.5px,#010101 237.5px,#000 316.5px)"></i><i style="left:84px;width:4px;background:linear-gradient(#000 0.5px,#010101 89.5px,#252525 116.5px,#222 119.5px,#1f1f1f 121.5px,#232323 123.5px,#2c2c2c 125.5px,#3e3e3e 126.5px,#454545 127.5px,#5e5e5e 132.5px,#868686 138.5px,#c5c5c5 147.5px,#e1e1e1 152.5px,#f1f1f1 156.5px,#f9f9f9 160.5px,#fcfcfc 166.5px,#f8f8f8 172.5px,#ededed 177.5px,#dadada 182.5px,#bbb 188.5px,#6d6d6d 201.5px,#4f4f4f 207.5px,#444 210.5px,#313131 212.5px,#010101 236.5px,#000 316.5px)"></i><i style="left:88px;width:4px;background:linear-gradient(#000 0.5px,#000 88.5px,#262626 117.5px,#262626 122.5px,#2b2b2b 124.5px,#323232 125.5px,#434343 126.5px,#5c5c5c 131.5px,#848484 137.5px,#c5c5c5 146.5px,#e3e3e3 151.5px,#f2f2f2 155.5px,#fbfbfb 159.5px,#fdfdfd 165.5px,#f9f9f9 171.5px,#eee 176.5px,#dbdbdb 181.5px,#bcbcbc 187.5px,#696969 201.5px,#4d4d4d 207.5px,#424242 210.5px,#323232 211.5px,#010101 235.5px,#000 316.5px)"></i><i style="left:92px;width:4px;background:linear-gradient(#000 0.5px,#010101 88.5px,#282828 117.5px,#2a2a2a 122.5px,#2e2e2e 124.5px,#454545 126.5px,#606060 131.5px,#8a8a8a 137.5px,#c6c6c6 145.5px,#e4e4e4 150.5px,#f4f4f4 154.5px,#fcfcfc 158.5px,#fefefe 164.5px,#fafafa 170.5px,#eee 175.5px,#dbdbdb 180.5px,#b6b6b6 187.5px,#6a6a6a 200.5px,#4e4e4e 206.5px,#434343 209.5px,#383838 210.5px,#313131 211.5px,#010101 234.5px,#000 316.5px)"></i><i style="left:96px;width:4px;background:linear-gradient(#000 0.5px,#000 87.5px,#2a2a2a 118.5px,#2f2f2f 123.5px,#373737 124.5px,#434343 125.5px,#5e5e5e 130.5px,#898989 136.5px,#c6c6c6 144.5px,#dfdfdf 148.5px,#f1f1f1 152.5px,#fbfbfb 156.5px,#fff 161.5px,#fcfcfc 167.5px,#f4f4f4 172.5px,#e3e3e3 177.5px,#c7c7c7 183.5px,#6a6a6a 199.5px,#4e4e4e 205.5px,#434343 208.5px,#383838 209.5px,#313131 210.5px,#010101 233.5px,#000 316.5px)"></i><i style="left:100px;width:4px;background:linear-gradient(#000 0.5px,#010101 87.5px,#303030 122.5px,#343434 123.5px,#424242 124.5px,#5d5d5d 129.5px,#888 135.5px,#c5c5c5 143.5px,#dfdfdf 147.5px,#f1f1f1 151.5px,#fcfcfc 155.5px,#fff 160.5px,#fcfcfc 166.5px,#f3f3f3 171.5px,#e3e3e3 176.5px,#c7c7c7 182.5px,#6a6a6a 198.5px,#4e4e4e 204.5px,#434343 207.5px,#383838 208.5px,#313131 209.5px,#010101 232.5px,#000 316.5px)"></i><i style="left:104px;width:4px;background:linear-gradient(#000 0.5px,#010101 87.5px,#323232 122.5px,#424242 123.5px,#5c5c5c 128.5px,#878787 134.5px,#c5c5c5 142.5px,#dfdfdf 146.5px,#f1f1f1 150.5px,#fbfbfb 154.5px,#fefefe 159.5px,#fcfcfc 165.5px,#f3f3f3 170.5px,#e2e2e2 175.5px,#c6c6c6 181.5px,#6a6a6a 197.5px,#4e4e4e 203.5px,#434343 206.5px,#383838 207.5px,#313131 208.5px,#000 232.5px,#000 316.5px)"></i><i style="left:108px;width:4px;background:linear-gradient(#000 0.5px,#010101 87.5px,#323232 121.5px,#3f3f3f 122.5px,#4b4b4b 124.5px,#696969 129.5px,#aeaeae 138.5px,#d2d2d2 143.5px,#e8e8e8 147.5px,#f7f7f7 151.5px,#fdfdfd 155.5px,#fdfdfd 162.5px,#f6f6f6 167.5px,#e9e9e9 172.5px,#d0d0d0 178.5px,#a3a3a3 186.5px,#696969 196.5px,#4d4d4d 202.5px,#424242 205.5px,#353535 206.5px,#303030 207.5px,#000 231.5px,#000 316.5px)"></i><i style="left:112px;width:4px;background:linear-gradient(#000 0.5px,#010101 87.5px,#323232 120.5px,#3e3e3e 121.5px,#4a4a4a 123.5px,#686868 128.5px,#a5a5a5 136.5px,#d1d1d1 142.5px,#e7e7e7 146.5px,#f6f6f6 150.5px,#fcfcfc 154.5px,#fcfcfc 161.5px,#f6f6f6 166.5px,#e8e8e8 171.5px,#cfcfcf 177.5px,#9c9c9c 186.5px,#686868 195.5px,#4c4c4c 201.5px,#424242 204.5px,#313131 205.5px,#000 230.5px,#000 316.5px)"></i><i style="left:116px;width:4px;background:linear-gradient(#000 0.5px,#000 87.5px,#323232 119.5px,#454545 121.5px,#616161 126.5px,#8d8d8d 132.5px,#c9c9c9 140.5px,#e1e1e1 144.5px,#f2f2f2 148.5px,#fafafa 152.5px,#fcfcfc 158.5px,#f7f7f7 164.5px,#ebebeb 169.5px,#d7d7d7 174.5px,#b3b3b3 181.5px,#6c6c6c 193.5px,#505050 199.5px,#444 202.5px,#3e3e3e 203.5px,#303030 204.5px,#000 230.5px,#000 316.5px)"></i><i style="left:120px;width:4px;background:linear-gradient(#000 0.5px,#000 87.5px,#313131 118.5px,#444 120.5px,#606060 125.5px,#8b8b8b 131.5px,#c8c8c8 139.5px,#e0e0e0 143.5px,#f1f1f1 147.5px,#f9f9f9 151.5px,#fbfbfb 157.5px,#f6f6f6 163.5px,#eaeaea 168.5px,#d7d7d7 173.5px,#b2b2b2 180.5px,#6c6c6c 192.5px,#4f4f4f 198.5px,#444 201.5px,#3e3e3e 202.5px,#2f2f2f 203.5px,#0f0f0f 221.5px,#000 229.5px,#000 316.5px)"></i><i style="left:124px;width:4px;background:linear-gradient(#000 0.5px,#000 87.5px,#313131 117.5px,#383838 118.5px,#434343 119.5px,#5f5f5f 124.5px,#8a8a8a 130.5px,#c7c7c7 138.5px,#dfdfdf 142.5px,#f0f0f0 146.5px,#f8f8f8 150.5px,#fafafa 156.5px,#f5f5f5 162.5px,#e9e9e9 167.5px,#d6d6d6 172.5px,#b2b2b2 179.5px,#6c6c6c 191.5px,#4f4f4f 197.5px,#444 200.5px,#3d3d3d 201.5px,#2d2d2d 202.5px,#242424 208.5px,#0e0e0e 221.5px,#000 229.5px,#000 316.5px)"></i><i style="left:128px;width:4px;background:linear-gradient(#000 0.5px,#010101 88.5px,#323232 117.5px,#424242 118.5px,#5d5d5d 123.5px,#888 129.5px,#c5c5c5 137.5px,#ddd 141.5px,#eee 145.5px,#f7f7f7 149.5px,#fafafa 155.5px,#f4f4f4 161.5px,#e9e9e9 166.5px,#d6d6d6 171.5px,#b2b2b2 178.5px,#6c6c6c 190.5px,#505050 196.5px,#444 199.5px,#3d3d3d 200.5px,#2c2c2c 201.5px,#242424 205.5px,#1e1e1e 212.5px,#000 229.5px,#000 316.5px)"></i><i style="left:132px;width:4px;background:linear-gradient(#000 0.5px,#010101 88.5px,#313131 116.5px,#454545 118.5px,#616161 123.5px,#8d8d8d 129.5px,#c3c3c3 136.5px,#dcdcdc 140.5px,#ededed 144.5px,#f6f6f6 148.5px,#f9f9f9 154.5px,#f4f4f4 160.5px,#e8e8e8 165.5px,#d6d6d6 170.5px,#b2b2b2 177.5px,#686868 190.5px,#4c4c4c 196.5px,#414141 199.5px,#2c2c2c 200.5px,#202020 204.5px,#1d1d1d 212.5px,#000 229.5px,#000 316.5px)"></i><i style="left:136px;width:4px;background:linear-gradient(#000 0.5px,#000 88.5px,#303030 115.5px,#353535 116.5px,#424242 117.5px,#5e5e5e 122.5px,#8a8a8a 128.5px,#c7c7c7 136.5px,#dfdfdf 140.5px,#efefef 144.5px,#f6f6f6 148.5px,#f7f7f7 155.5px,#efefef 161.5px,#e1e1e1 166.5px,#c8c8c8 172.5px,#8f8f8f 182.5px,#636363 190.5px,#494949 196.5px,#424242 198.5px,#303030 199.5px,#282828 200.5px,#1d1d1d 203.5px,#1b1b1b 206.5px,#1d1d1d 211.5px,#000 229.5px,#000 316.5px)"></i><i style="left:140px;width:4px;background:linear-gradient(#000 0.5px,#010101 89.5px,#313131 115.5px,#454545 117.5px,#616161 122.5px,#8e8e8e 128.5px,#c4c4c4 135.5px,#dcdcdc 139.5px,#ededed 143.5px,#f4f4f4 147.5px,#f5f5f5 154.5px,#eee 160.5px,#e0e0e0 165.5px,#c7c7c7 171.5px,#909090 181.5px,#606060 190.5px,#474747 196.5px,#434343 197.5px,#383838 198.5px,#292929 199.5px,#181818 203.5px,#161616 205.5px,#1c1c1c 210.5px,#171717 215.5px,#000 229.5px,#000 316.5px)"></i><i style="left:144px;width:4px;background:linear-gradient(#000 0.5px,#000 89.5px,#323232 115.5px,#424242 116.5px,#575757 120.5px,#7a7a7a 125.5px,#c0c0c0 134.5px,#d9d9d9 138.5px,#eaeaea 142.5px,#f2f2f2 146.5px,#f3f3f3 153.5px,#ececec 159.5px,#dfdfdf 164.5px,#c7c7c7 170.5px,#979797 179.5px,#666 188.5px,#484848 195.5px,#444 196.5px,#3d3d3d 197.5px,#2b2b2b 198.5px,#171717 202.5px,#111 204.5px,#131313 206.5px,#1b1b1b 210.5px,#181818 214.5px,#000 230.5px,#000 316.5px)"></i><i style="left:148px;width:4px;background:linear-gradient(#000 0.5px,#000 90.5px,#313131 114.5px,#383838 115.5px,#434343 116.5px,#5a5a5a 120.5px,#7d7d7d 125.5px,#bcbcbc 133.5px,#d5d5d5 137.5px,#e7e7e7 141.5px,#efefef 145.5px,#f1f1f1 151.5px,#ececec 157.5px,#e1e1e1 162.5px,#cbcbcb 168.5px,#a2a2a2 176.5px,#676767 187.5px,#494949 194.5px,#424242 196.5px,#313131 197.5px,#2a2a2a 198.5px,#131313 202.5px,#0e0e0e 204.5px,#101010 206.5px,#1a1a1a 210.5px,#181818 214.5px,#000 230.5px,#000 316.5px)"></i><i style="left:152px;width:4px;background:linear-gradient(#000 0.5px,#010101 91.5px,#313131 114.5px,#454545 116.5px,#636363 121.5px,#a0a0a0 129.5px,#c5c5c5 134.5px,#dbdbdb 138.5px,#e8e8e8 142.5px,#eee 146.5px,#ececec 153.5px,#e3e3e3 159.5px,#d1d1d1 165.5px,#b2b2b2 172.5px,#636363 187.5px,#474747 194.5px,#434343 195.5px,#3a3a3a 196.5px,#2d2d2d 197.5px,#121212 202.5px,#0c0c0c 204.5px,#0e0e0e 206.5px,#191919 210.5px,#191919 213.5px,#000 231.5px,#000 316.5px)"></i><i style="left:156px;width:4px;background:linear-gradient(#000 0.5px,#010101 92.5px,#323232 114.5px,#3f3f3f 115.5px,#4c4c4c 117.5px,#6c6c6c 122.5px,#b8b8b8 132.5px,#d1d1d1 136.5px,#e1e1e1 140.5px,#e9e9e9 144.5px,#e9e9e9 151.5px,#e2e2e2 157.5px,#d2d2d2 163.5px,#bababa 169.5px,#606060 187.5px,#454545 194.5px,#424242 195.5px,#303030 196.5px,#232323 199.5px,#121212 202.5px,#0c0c0c 204.5px,#0f0f0f 206.5px,#191919 210.5px,#191919 213.5px,#000 232.5px,#000 316.5px)"></i><i style="left:160px;width:4px;background:linear-gradient(#000 0.5px,#010101 93.5px,#303030 113.5px,#353535 114.5px,#434343 115.5px,#595959 119.5px,#848484 125.5px,#b9b9b9 132.5px,#d0d0d0 136.5px,#dedede 140.5px,#e4e4e4 144.5px,#e3e3e3 152.5px,#dadada 158.5px,#c9c9c9 164.5px,#ababab 171.5px,#616161 186.5px,#464646 193.5px,#434343 194.5px,#3a3a3a 195.5px,#2f2f2f 196.5px,#232323 199.5px,#141414 202.5px,#0e0e0e 204.5px,#101010 206.5px,#1a1a1a 210.5px,#191919 214.5px,#000 233.5px,#000 316.5px)"></i><i style="left:164px;width:4px;background:linear-gradient(#000 0.5px,#000 93.5px,#303030 113.5px,#353535 114.5px,#434343 115.5px,#616161 120.5px,#b2b2b2 131.5px,#c9c9c9 135.5px,#d8d8d8 139.5px,#dfdfdf 143.5px,#dedede 151.5px,#d6d6d6 157.5px,#c6c6c6 163.5px,#aaa 170.5px,#5f5f5f 186.5px,#454545 193.5px,#424242 194.5px,#343434 195.5px,#202020 200.5px,#131313 203.5px,#121212 205.5px,#1a1a1a 210.5px,#191919 214.5px,#000 233.5px,#000 316.5px)"></i><i style="left:168px;width:4px;background:linear-gradient(#000 0.5px,#000 94.5px,#303030 113.5px,#383838 114.5px,#444 115.5px,#616161 120.5px,#b0b0b0 131.5px,#c7c7c7 135.5px,#d5d5d5 139.5px,#dadada 143.5px,#d9d9d9 151.5px,#d0d0d0 157.5px,#c0c0c0 163.5px,#a5a5a5 170.5px,#5d5d5d 186.5px,#444 193.5px,#414141 194.5px,#313131 195.5px,#262626 199.5px,#181818 203.5px,#161616 205.5px,#1c1c1c 211.5px,#0f0f0f 222.5px,#000 234.5px,#000 316.5px)"></i><i style="left:172px;width:4px;background:linear-gradient(#000 0.5px,#000 95.5px,#303030 113.5px,#383838 114.5px,#444 115.5px,#616161 120.5px,#aeaeae 131.5px,#c3c3c3 135.5px,#d0d0d0 139.5px,#d5d5d5 143.5px,#d3d3d3 151.5px,#c9c9c9 158.5px,#b5b5b5 165.5px,#909090 174.5px,#5c5c5c 186.5px,#444 193.5px,#3e3e3e 194.5px,#323232 195.5px,#252525 200.5px,#1c1c1c 203.5px,#1a1a1a 206.5px,#1d1d1d 211.5px,#000 235.5px,#000 316.5px)"></i><i style="left:176px;width:4px;background:linear-gradient(#000 0.5px,#010101 96.5px,#303030 113.5px,#383838 114.5px,#444 115.5px,#606060 120.5px,#ababab 131.5px,#bfbfbf 135.5px,#ccc 139.5px,#d0d0d0 143.5px,#cfcfcf 151.5px,#c5c5c5 158.5px,#b2b2b2 165.5px,#8f8f8f 174.5px,#585858 187.5px,#414141 194.5px,#323232 195.5px,#1f1f1f 204.5px,#1d1d1d 212.5px,#000 236.5px,#000 316.5px)"></i><i style="left:180px;width:4px;background:linear-gradient(#000 0.5px,#000 96.5px,#0d0d0d 101.5px,#2f2f2f 113.5px,#353535 114.5px,#434343 115.5px,#5e5e5e 120.5px,#a6a6a6 131.5px,#bababa 135.5px,#c7c7c7 139.5px,#ccc 143.5px,#cacaca 152.5px,#c0c0c0 159.5px,#adadad 166.5px,#868686 176.5px,#565656 188.5px,#434343 194.5px,#313131 196.5px,#232323 204.5px,#1c1c1c 214.5px,#000 237.5px,#000 316.5px)"></i><i style="left:184px;width:4px;background:linear-gradient(#000 0.5px,#000 97.5px,#313131 114.5px,#3f3f3f 115.5px,#4b4b4b 117.5px,#6e6e6e 123.5px,#a1a1a1 131.5px,#b6b6b6 135.5px,#c3c3c3 139.5px,#c8c8c8 143.5px,#c7c7c7 152.5px,#bebebe 159.5px,#adadad 166.5px,#8c8c8c 175.5px,#555 189.5px,#424242 195.5px,#383838 196.5px,#313131 197.5px,#252525 205.5px,#1a1a1a 217.5px,#000 239.5px,#000 316.5px)"></i><i style="left:188px;width:4px;background:linear-gradient(#000 0.5px,#010101 98.5px,#303030 114.5px,#383838 115.5px,#444 116.5px,#5e5e5e 121.5px,#a1a1a1 132.5px,#b8b8b8 137.5px,#c2c2c2 141.5px,#c7c7c7 146.5px,#c3c3c3 155.5px,#b8b8b8 162.5px,#a5a5a5 169.5px,#787878 181.5px,#4f4f4f 192.5px,#434343 196.5px,#3e3e3e 197.5px,#323232 198.5px,#252525 208.5px,#000 240.5px,#000 316.5px)"></i><i style="left:192px;width:4px;background:linear-gradient(#000 0.5px,#000 98.5px,#313131 115.5px,#414141 116.5px,#5a5a5a 121.5px,#a0a0a0 133.5px,#b6b6b6 138.5px,#c1c1c1 142.5px,#c5c5c5 147.5px,#c2c2c2 156.5px,#b8b8b8 163.5px,#a6a6a6 170.5px,#7d7d7d 181.5px,#515151 193.5px,#424242 198.5px,#353535 199.5px,#313131 200.5px,#000 241.5px,#000 316.5px)"></i><i style="left:196px;width:4px;background:linear-gradient(#000 0.5px,#000 99.5px,#2f2f2f 115.5px,#353535 116.5px,#434343 117.5px,#606060 123.5px,#9f9f9f 134.5px,#b5b5b5 139.5px,#c1c1c1 144.5px,#c5c5c5 150.5px,#c2c2c2 158.5px,#b7b7b7 165.5px,#a4a4a4 172.5px,#787878 184.5px,#4f4f4f 195.5px,#414141 200.5px,#323232 201.5px,#000 242.5px,#000 316.5px)"></i><i style="left:200px;width:4px;background:linear-gradient(#000 0.5px,#000 99.5px,#303030 116.5px,#444 118.5px,#616161 124.5px,#9f9f9f 135.5px,#b4b4b4 140.5px,#c1c1c1 145.5px,#c5c5c5 150.5px,#c2c2c2 159.5px,#b8b8b8 166.5px,#a6a6a6 173.5px,#7d7d7d 184.5px,#515151 196.5px,#424242 201.5px,#383838 202.5px,#313131 203.5px,#000 242.5px,#000 316.5px)"></i><i style="left:204px;width:4px;background:linear-gradient(#000 0.5px,#010101 100.5px,#313131 117.5px,#414141 118.5px,#5d5d5d 124.5px,#9f9f9f 136.5px,#b4b4b4 141.5px,#c1c1c1 146.5px,#c5c5c5 151.5px,#c2c2c2 160.5px,#b8b8b8 167.5px,#a6a6a6 174.5px,#7e7e7e 185.5px,#515151 197.5px,#424242 202.5px,#383838 203.5px,#313131 204.5px,#000 243.5px,#000 316.5px)"></i><i style="left:208px;width:4px;background:linear-gradient(#000 0.5px,#000 100.5px,#303030 117.5px,#353535 118.5px,#434343 119.5px,#5e5e5e 125.5px,#a0a0a0 137.5px,#b4b4b4 142.5px,#c1c1c1 147.5px,#c5c5c5 152.5px,#c3c3c3 161.5px,#b9b9b9 168.5px,#a6a6a6 175.5px,#7d7d7d 186.5px,#535353 197.5px,#414141 203.5px,#323232 204.5px,#000 244.5px,#000 316.5px)"></i><i style="left:212px;width:4px;background:linear-gradient(#000 0.5px,#000 100.5px,#303030 118.5px,#444 120.5px,#5f5f5f 126.5px,#a0a0a0 138.5px,#b5b5b5 143.5px,#c1c1c1 148.5px,#c6c6c6 153.5px,#c4c4c4 162.5px,#bababa 169.5px,#a7a7a7 176.5px,#7c7c7c 187.5px,#525252 198.5px,#424242 203.5px,#383838 204.5px,#323232 205.5px,#000 244.5px,#000 316.5px)"></i><i style="left:216px;width:4px;background:linear-gradient(#000 0.5px,#000 100.5px,#313131 119.5px,#414141 120.5px,#5b5b5b 126.5px,#a5a5a5 140.5px,#b8b8b8 145.5px,#c4c4c4 150.5px,#c8c8c8 156.5px,#c5c5c5 164.5px,#b9b9b9 171.5px,#a5a5a5 178.5px,#757575 190.5px,#4e4e4e 200.5px,#424242 204.5px,#353535 205.5px,#313131 206.5px,#000 244.5px,#000 316.5px)"></i><i style="left:220px;width:4px;background:linear-gradient(#000 0.5px,#010101 100.5px,#303030 119.5px,#353535 120.5px,#434343 121.5px,#5c5c5c 127.5px,#a5a5a5 141.5px,#b9b9b9 146.5px,#c5c5c5 151.5px,#cacaca 157.5px,#c7c7c7 165.5px,#bfbfbf 171.5px,#acacac 178.5px,#888 187.5px,#565656 199.5px,#424242 205.5px,#353535 206.5px,#313131 207.5px,#000 244.5px,#000 316.5px)"></i><i style="left:224px;width:4px;background:linear-gradient(#000 0.5px,#000 99.5px,#2f2f2f 120.5px,#444 122.5px,#626262 129.5px,#a5a5a5 142.5px,#bcbcbc 148.5px,#c8c8c8 153.5px,#ccc 159.5px,#cacaca 167.5px,#c1c1c1 173.5px,#b0b0b0 179.5px,#909090 187.5px,#575757 200.5px,#424242 206.5px,#353535 207.5px,#313131 208.5px,#000 244.5px,#000 316.5px)"></i><i style="left:228px;width:4px;background:linear-gradient(#000 0.5px,#010101 99.5px,#2a2a2a 118.5px,#2e2e2e 121.5px,#3e3e3e 122.5px,#454545 123.5px,#626262 130.5px,#aaa 144.5px,#c0c0c0 150.5px,#cbcbcb 155.5px,#cfcfcf 161.5px,#ccc 169.5px,#c2c2c2 175.5px,#b0b0b0 181.5px,#8e8e8e 189.5px,#585858 201.5px,#424242 207.5px,#383838 208.5px,#313131 209.5px,#000 244.5px,#000 316.5px)"></i><i style="left:232px;width:4px;background:linear-gradient(#000 0.5px,#010101 98.5px,#272727 117.5px,#2a2a2a 121.5px,#303030 122.5px,#424242 123.5px,#5f5f5f 130.5px,#ababab 145.5px,#c2c2c2 151.5px,#cdcdcd 156.5px,#d1d1d1 162.5px,#cfcfcf 170.5px,#c5c5c5 176.5px,#b2b2b2 182.5px,#909090 190.5px,#585858 202.5px,#424242 208.5px,#353535 209.5px,#313131 210.5px,#000 244.5px,#000 316.5px)"></i><i style="left:236px;width:4px;background:linear-gradient(#000 0.5px,#000 97.5px,#242424 116.5px,#252525 120.5px,#262626 122.5px,#2d2d2d 123.5px,#424242 124.5px,#5b5b5b 130.5px,#adadad 146.5px,#c4c4c4 152.5px,#cfcfcf 157.5px,#d4d4d4 163.5px,#d1d1d1 171.5px,#c6c6c6 177.5px,#b3b3b3 183.5px,#8f8f8f 191.5px,#5b5b5b 202.5px,#444 208.5px,#3e3e3e 209.5px,#323232 210.5px,#000 243.5px,#000 316.5px)"></i><i style="left:240px;width:4px;background:linear-gradient(#000 0.5px,#000 96.5px,#232323 116.5px,#212121 119.5px,#1e1e1e 121.5px,#1f1f1f 122.5px,#232323 123.5px,#363636 124.5px,#434343 125.5px,#5c5c5c 131.5px,#b0b0b0 147.5px,#c4c4c4 152.5px,#d1d1d1 157.5px,#d6d6d6 163.5px,#d4d4d4 171.5px,#cacaca 177.5px,#b7b7b7 183.5px,#939393 191.5px,#5d5d5d 202.5px,#424242 209.5px,#383838 210.5px,#313131 211.5px,#000 243.5px,#000 316.5px)"></i><i style="left:244px;width:4px;background:linear-gradient(#000 0.5px,#000 95.5px,#232323 116.5px,#212121 118.5px,#171717 121.5px,#171717 122.5px,#1b1b1b 123.5px,#222 124.5px,#3c3c3c 125.5px,#444 126.5px,#5e5e5e 132.5px,#b0b0b0 147.5px,#c5c5c5 152.5px,#d2d2d2 157.5px,#d8d8d8 162.5px,#d7d7d7 170.5px,#cfcfcf 176.5px,#bebebe 182.5px,#9f9f9f 189.5px,#5a5a5a 203.5px,#434343 209.5px,#323232 211.5px,#000 243.5px,#000 316.5px)"></i><i style="left:248px;width:4px;background:linear-gradient(#000 0.5px,#000 94.5px,#222 115.5px,#212121 117.5px,#191919 119.5px,#0f0f0f 121.5px,#0f0f0f 122.5px,#141414 123.5px,#1c1c1c 124.5px,#2a2a2a 125.5px,#424242 126.5px,#5c5c5c 132.5px,#b5b5b5 148.5px,#c9c9c9 153.5px,#d6d6d6 158.5px,#dcdcdc 164.5px,#dadada 171.5px,#d0d0d0 177.5px,#bdbdbd 183.5px,#9d9d9d 190.5px,#5c5c5c 203.5px,#414141 210.5px,#323232 211.5px,#000 242.5px,#000 316.5px)"></i><i style="left:252px;width:4px;background:linear-gradient(#000 0.5px,#000 93.5px,#212121 115.5px,#202020 117.5px,#151515 119.5px,#080808 121.5px,#080808 122.5px,#0e0e0e 123.5px,#222 125.5px,#373737 126.5px,#444 127.5px,#5f5f5f 133.5px,#b5b5b5 148.5px,#cbcbcb 153.5px,#d9d9d9 158.5px,#dfdfdf 163.5px,#dedede 171.5px,#d5d5d5 177.5px,#c2c2c2 183.5px,#a1a1a1 190.5px,#5e5e5e 203.5px,#424242 210.5px,#353535 211.5px,#313131 212.5px,#000 242.5px,#000 316.5px)"></i><i style="left:256px;width:4px;background:linear-gradient(#000 0.5px,#000 92.5px,#212121 115.5px,#1f1f1f 117.5px,#1a1a1a 118.5px,#0a0a0a 120.5px,#040404 121.5px,#030303 122.5px,#090909 123.5px,#1f1f1f 125.5px,#434343 127.5px,#5e5e5e 133.5px,#999 143.5px,#c0c0c0 150.5px,#d4d4d4 155.5px,#e0e0e0 160.5px,#e4e4e4 166.5px,#e1e1e1 173.5px,#d7d7d7 178.5px,#c7c7c7 183.5px,#a6a6a6 190.5px,#606060 203.5px,#474747 209.5px,#434343 210.5px,#313131 212.5px,#000 241.5px,#000 316.5px)"></i><i style="left:260px;width:4px;background:linear-gradient(#000 0.5px,#010101 92.5px,#212121 115.5px,#1f1f1f 117.5px,#191919 118.5px,#080808 120.5px,#020202 121.5px,#010101 122.5px,#070707 123.5px,#1e1e1e 125.5px,#2c2c2c 126.5px,#434343 127.5px,#5d5d5d 133.5px,#8c8c8c 141.5px,#bcbcbc 149.5px,#d3d3d3 154.5px,#e2e2e2 159.5px,#e8e8e8 164.5px,#e7e7e7 172.5px,#dfdfdf 177.5px,#d0d0d0 182.5px,#b6b6b6 188.5px,#636363 203.5px,#484848 209.5px,#3e3e3e 211.5px,#323232 212.5px,#000 241.5px,#000 316.5px)"></i><i style="left:264px;width:4px;background:linear-gradient(#000 0.5px,#000 91.5px,#222 115.5px,#1f1f1f 117.5px,#1a1a1a 118.5px,#090909 120.5px,#030303 121.5px,#020202 122.5px,#080808 123.5px,#1f1f1f 125.5px,#2c2c2c 126.5px,#424242 127.5px,#5d5d5d 133.5px,#8d8d8d 141.5px,#bdbdbd 149.5px,#d5d5d5 154.5px,#e5e5e5 159.5px,#ececec 164.5px,#ececec 172.5px,#e5e5e5 177.5px,#d6d6d6 182.5px,#bababa 188.5px,#656565 203.5px,#494949 209.5px,#424242 211.5px,#353535 212.5px,#313131 213.5px,#000 240.5px,#000 316.5px)"></i><i style="left:268px;width:4px;background:linear-gradient(#000 0.5px,#010101 91.5px,#222 115.5px,#202020 117.5px,#1b1b1b 118.5px,#0d0d0d 120.5px,#070707 121.5px,#070707 122.5px,#0c0c0c 123.5px,#212121 125.5px,#2d2d2d 126.5px,#434343 127.5px,#5e5e5e 133.5px,#8e8e8e 141.5px,#c0c0c0 149.5px,#d9d9d9 154.5px,#e9e9e9 159.5px,#f1f1f1 164.5px,#f1f1f1 171.5px,#ebebeb 176.5px,#dedede 181.5px,#c9c9c9 186.5px,#9b9b9b 194.5px,#666 203.5px,#4a4a4a 209.5px,#424242 211.5px,#353535 212.5px,#313131 213.5px,#000 240.5px,#000 316.5px)"></i><i style="left:272px;width:4px;background:linear-gradient(#000 0.5px,#000 90.5px,#232323 115.5px,#212121 117.5px,#181818 119.5px,#0d0d0d 121.5px,#0d0d0d 122.5px,#121212 123.5px,#242424 125.5px,#434343 127.5px,#5a5a5a 132.5px,#838383 139.5px,#c4c4c4 149.5px,#ddd 154.5px,#ededed 159.5px,#f5f5f5 164.5px,#f5f5f5 171.5px,#efefef 176.5px,#e0e0e0 181.5px,#cacaca 186.5px,#9c9c9c 194.5px,#676767 203.5px,#4a4a4a 209.5px,#424242 211.5px,#353535 212.5px,#313131 213.5px,#000 239.5px,#000 316.5px)"></i><i style="left:276px;width:4px;background:linear-gradient(#000 0.5px,#010101 90.5px,#232323 115.5px,#232323 117.5px,#151515 121.5px,#151515 122.5px,#191919 123.5px,#272727 125.5px,#444 127.5px,#5b5b5b 132.5px,#808080 138.5px,#c2c2c2 148.5px,#ddd 153.5px,#efefef 158.5px,#f7f7f7 163.5px,#f8f8f8 170.5px,#f2f2f2 175.5px,#e5e5e5 180.5px,#cfcfcf 185.5px,#a8a8a8 192.5px,#6b6b6b 202.5px,#4e4e4e 208.5px,#424242 211.5px,#353535 212.5px,#303030 213.5px,#000 238.5px,#000 316.5px)"></i><i style="left:280px;width:4px;background:linear-gradient(#000 0.5px,#000 89.5px,#242424 116.5px,#202020 119.5px,#1c1c1c 121.5px,#1c1c1c 122.5px,#252525 124.5px,#2a2a2a 125.5px,#393939 126.5px,#444 127.5px,#5d5d5d 132.5px,#838383 138.5px,#c8c8c8 148.5px,#e3e3e3 153.5px,#f1f1f1 157.5px,#fafafa 162.5px,#fafafa 169.5px,#f5f5f5 174.5px,#e7e7e7 179.5px,#d2d2d2 184.5px,#ababab 191.5px,#696969 202.5px,#4c4c4c 208.5px,#444 210.5px,#3e3e3e 211.5px,#323232 212.5px,#000 237.5px,#000 316.5px)"></i><i style="left:284px;width:4px;background:linear-gradient(#000 0.5px,#010101 89.5px,#252525 116.5px,#242424 119.5px,#222 121.5px,#252525 123.5px,#2d2d2d 125.5px,#424242 126.5px,#5a5a5a 131.5px,#818181 137.5px,#c8c8c8 147.5px,#e4e4e4 152.5px,#f3f3f3 156.5px,#fbfbfb 160.5px,#fdfdfd 166.5px,#f8f8f8 172.5px,#ececec 177.5px,#d8d8d8 182.5px,#b3b3b3 189.5px,#6b6b6b 201.5px,#4e4e4e 207.5px,#434343 210.5px,#383838 211.5px,#313131 212.5px,#000 236.5px,#000 316.5px)"></i><i style="left:288px;width:4px;background:linear-gradient(#000 0.5px,#000 88.5px,#272727 117.5px,#282828 122.5px,#2d2d2d 124.5px,#363636 125.5px,#444 126.5px,#5d5d5d 131.5px,#868686 137.5px,#c8c8c8 146.5px,#e5e5e5 151.5px,#f4f4f4 155.5px,#fcfcfc 159.5px,#fefefe 166.5px,#f7f7f7 172.5px,#e9e9e9 177.5px,#d4d4d4 182.5px,#aeaeae 189.5px,#6d6d6d 200.5px,#505050 206.5px,#444 209.5px,#3e3e3e 210.5px,#323232 211.5px,#000 235.5px,#000 316.5px)"></i><i style="left:292px;width:4px;background:linear-gradient(#000 0.5px,#010101 88.5px,#292929 118.5px,#2d2d2d 123.5px,#303030 124.5px,#424242 125.5px,#5c5c5c 130.5px,#858585 136.5px,#c9c9c9 145.5px,#e1e1e1 149.5px,#f2f2f2 153.5px,#fcfcfc 157.5px,#fff 162.5px,#fcfcfc 168.5px,#f2f2f2 173.5px,#e2e2e2 178.5px,#c5c5c5 184.5px,#686868 200.5px,#4c4c4c 206.5px,#414141 209.5px,#323232 210.5px,#000 234.5px,#000 316.5px)"></i><i style="left:296px;width:4px;background:linear-gradient(#000 0.5px,#000 87.5px,#2b2b2b 119.5px,#303030 123.5px,#454545 125.5px,#606060 130.5px,#8c8c8c 136.5px,#c9c9c9 144.5px,#e1e1e1 148.5px,#f3f3f3 152.5px,#fcfcfc 156.5px,#fff 162.5px,#fafafa 168.5px,#efefef 173.5px,#ddd 178.5px,#bfbfbf 184.5px,#6d6d6d 198.5px,#505050 204.5px,#424242 208.5px,#323232 209.5px,#000 233.5px,#000 316.5px)"></i><i style="left:300px;width:4px;background:linear-gradient(#000 0.5px,#010101 87.5px,#313131 122.5px,#383838 123.5px,#444 124.5px,#5f5f5f 129.5px,#8b8b8b 135.5px,#c8c8c8 143.5px,#e1e1e1 147.5px,#f3f3f3 151.5px,#fcfcfc 155.5px,#fff 161.5px,#fafafa 167.5px,#efefef 172.5px,#ddd 177.5px,#bebebe 183.5px,#6d6d6d 197.5px,#505050 203.5px,#414141 207.5px,#323232 208.5px,#000 232.5px,#000 316.5px)"></i><i style="left:304px;width:4px;background:linear-gradient(#000 0.5px,#010101 87.5px,#313131 121.5px,#383838 122.5px,#444 123.5px,#5f5f5f 128.5px,#8a8a8a 134.5px,#c8c8c8 142.5px,#e1e1e1 146.5px,#f2f2f2 150.5px,#fcfcfc 154.5px,#fefefe 160.5px,#fafafa 166.5px,#eee 171.5px,#dcdcdc 176.5px,#b8b8b8 183.5px,#6c6c6c 196.5px,#505050 202.5px,#444 205.5px,#3e3e3e 206.5px,#323232 207.5px,#000 231.5px,#000 316.5px)"></i><i style="left:308px;width:4px;background:linear-gradient(#000 0.5px,#010101 87.5px,#313131 120.5px,#353535 121.5px,#434343 122.5px,#5e5e5e 127.5px,#8a8a8a 133.5px,#c7c7c7 141.5px,#e0e0e0 145.5px,#f2f2f2 149.5px,#fbfbfb 153.5px,#fdfdfd 159.5px,#f9f9f9 165.5px,#eee 170.5px,#dbdbdb 175.5px,#b7b7b7 182.5px,#6b6b6b 195.5px,#4f4f4f 201.5px,#444 204.5px,#313131 206.5px,#010101 230.5px,#000 316.5px)"></i><i style="left:312px;width:4px;background:linear-gradient(#000 0.5px,#000 87.5px,#313131 119.5px,#353535 120.5px,#434343 121.5px,#5e5e5e 126.5px,#898989 132.5px,#c6c6c6 140.5px,#dfdfdf 144.5px,#f1f1f1 148.5px,#fafafa 152.5px,#fdfdfd 158.5px,#f8f8f8 164.5px,#ededed 169.5px,#dadada 174.5px,#b6b6b6 181.5px,#6a6a6a 194.5px,#4e4e4e 200.5px,#434343 203.5px,#303030 205.5px,#000 230.5px,#000 316.5px)"></i><i style="left:316px;width:4px;background:linear-gradient(#000 0.5px,#000 87.5px,#323232 119.5px,#424242 120.5px,#5d5d5d 125.5px,#888 131.5px,#c5c5c5 139.5px,#dedede 143.5px,#f0f0f0 147.5px,#f9f9f9 151.5px,#fcfcfc 157.5px,#f7f7f7 163.5px,#ececec 168.5px,#dadada 173.5px,#b6b6b6 180.5px,#6a6a6a 193.5px,#4e4e4e 199.5px,#434343 202.5px,#373737 203.5px,#2f2f2f 204.5px,#000 229.5px,#000 316.5px)"></i><i style="left:320px;width:4px;background:linear-gradient(#000 0.5px,#000 87.5px,#323232 118.5px,#414141 119.5px,#5c5c5c 124.5px,#868686 130.5px,#c4c4c4 138.5px,#ddd 142.5px,#efefef 146.5px,#f8f8f8 150.5px,#fbfbfb 155.5px,#f8f8f8 161.5px,#eee 166.5px,#ddd 171.5px,#c0c0c0 177.5px,#696969 192.5px,#4d4d4d 198.5px,#424242 201.5px,#333 202.5px,#2d2d2d 203.5px,#161616 217.5px,#000 229.5px,#000 316.5px)"></i><i style="left:324px;width:4px;background:linear-gradient(#000 0.5px,#010101 88.5px,#323232 117.5px,#454545 119.5px,#616161 124.5px,#8c8c8c 130.5px,#c9c9c9 138.5px,#e1e1e1 142.5px,#f1f1f1 146.5px,#f9f9f9 150.5px,#f9f9f9 157.5px,#f2f2f2 163.5px,#e4e4e4 168.5px,#cacaca 174.5px,#979797 183.5px,#646464 192.5px,#4a4a4a 198.5px,#424242 200.5px,#353535 201.5px,#2c2c2c 202.5px,#242424 207.5px,#191919 215.5px,#000 229.5px,#000 316.5px)"></i><i style="left:328px;width:4px;background:linear-gradient(#000 0.5px,#010101 88.5px,#313131 116.5px,#353535 117.5px,#434343 118.5px,#5f5f5f 123.5px,#8a8a8a 129.5px,#c7c7c7 137.5px,#dfdfdf 141.5px,#efefef 145.5px,#f8f8f8 149.5px,#f9f9f9 155.5px,#f3f3f3 161.5px,#e7e7e7 166.5px,#d4d4d4 171.5px,#afafaf 178.5px,#6a6a6a 190.5px,#4e4e4e 196.5px,#434343 199.5px,#353535 200.5px,#2a2a2a 201.5px,#232323 204.5px,#1d1d1d 212.5px,#000 229.5px,#000 316.5px)"></i><i style="left:332px;width:4px;background:linear-gradient(#000 0.5px,#000 88.5px,#323232 116.5px,#3f3f3f 117.5px,#4b4b4b 119.5px,#696969 124.5px,#c5c5c5 136.5px,#ddd 140.5px,#eee 144.5px,#f6f6f6 148.5px,#f8f8f8 154.5px,#f3f3f3 160.5px,#e7e7e7 165.5px,#d4d4d4 170.5px,#b0b0b0 177.5px,#6b6b6b 189.5px,#4b4b4b 196.5px,#444 198.5px,#393939 199.5px,#2a2a2a 200.5px,#202020 203.5px,#1d1d1d 206.5px,#1d1d1d 211.5px,#000 229.5px,#000 316.5px)"></i><i style="left:336px;width:4px;background:linear-gradient(#000 0.5px,#000 88.5px,#313131 115.5px,#383838 116.5px,#434343 117.5px,#5f5f5f 122.5px,#8c8c8c 128.5px,#c2c2c2 135.5px,#dbdbdb 139.5px,#ececec 143.5px,#f5f5f5 147.5px,#f7f7f7 153.5px,#f1f1f1 159.5px,#e6e6e6 164.5px,#cfcfcf 170.5px,#a4a4a4 178.5px,#676767 189.5px,#4c4c4c 195.5px,#414141 198.5px,#2b2b2b 199.5px,#1b1b1b 203.5px,#181818 205.5px,#1c1c1c 210.5px,#161616 216.5px,#000 229.5px,#000 316.5px)"></i><i style="left:340px;width:4px;background:linear-gradient(#000 0.5px,#010101 89.5px,#323232 115.5px,#3e3e3e 116.5px,#4b4b4b 118.5px,#6a6a6a 123.5px,#c5c5c5 135.5px,#ddd 139.5px,#ededed 143.5px,#f4f4f4 147.5px,#f4f4f4 154.5px,#ececec 160.5px,#dedede 165.5px,#c5c5c5 171.5px,#888 182.5px,#5e5e5e 190.5px,#454545 196.5px,#424242 197.5px,#303030 198.5px,#282828 199.5px,#161616 203.5px,#141414 205.5px,#1b1b1b 210.5px,#181818 214.5px,#000 230.5px,#000 316.5px)"></i><i style="left:344px;width:4px;background:linear-gradient(#000 0.5px,#010101 90.5px,#303030 114.5px,#353535 115.5px,#434343 116.5px,#585858 120.5px,#7c7c7c 125.5px,#c2c2c2 134.5px,#dadada 138.5px,#eaeaea 142.5px,#f2f2f2 146.5px,#f2f2f2 153.5px,#ebebeb 159.5px,#ddd 164.5px,#c5c5c5 170.5px,#8f8f8f 180.5px,#5f5f5f 189.5px,#434343 196.5px,#393939 197.5px,#2b2b2b 198.5px,#151515 202.5px,#101010 204.5px,#111 206.5px,#1a1a1a 210.5px,#181818 214.5px,#000 230.5px,#000 316.5px)"></i><i style="left:348px;width:4px;background:linear-gradient(#000 0.5px,#000 90.5px,#313131 114.5px,#383838 115.5px,#444 116.5px,#5b5b5b 120.5px,#878787 126.5px,#bdbdbd 133.5px,#d6d6d6 137.5px,#e7e7e7 141.5px,#eee 145.5px,#efefef 152.5px,#e8e8e8 158.5px,#d8d8d8 164.5px,#bfbfbf 170.5px,#656565 187.5px,#484848 194.5px,#414141 196.5px,#2e2e2e 197.5px,#121212 202.5px,#0d0d0d 204.5px,#0f0f0f 206.5px,#191919 210.5px,#191919 213.5px,#000 231.5px,#000 316.5px)"></i><i style="left:352px;width:4px;background:linear-gradient(#000 0.5px,#000 91.5px,#313131 114.5px,#3e3e3e 115.5px,#4b4b4b 117.5px,#6b6b6b 122.5px,#bfbfbf 133.5px,#d6d6d6 137.5px,#e5e5e5 141.5px,#ebebeb 145.5px,#ebebeb 152.5px,#e3e3e3 158.5px,#d2d2d2 164.5px,#b4b4b4 171.5px,#626262 187.5px,#464646 194.5px,#434343 195.5px,#363636 196.5px,#2d2d2d 197.5px,#111 202.5px,#0c0c0c 204.5px,#0e0e0e 206.5px,#191919 210.5px,#191919 213.5px,#000 231.5px,#000 316.5px)"></i><i style="left:356px;width:4px;background:linear-gradient(#000 0.5px,#000 92.5px,#323232 114.5px,#424242 115.5px,#585858 119.5px,#848484 125.5px,#b9b9b9 132.5px,#d1d1d1 136.5px,#e0e0e0 140.5px,#e7e7e7 144.5px,#e6e6e6 152.5px,#ddd 158.5px,#ccc 164.5px,#aeaeae 171.5px,#636363 186.5px,#474747 193.5px,#444 194.5px,#3e3e3e 195.5px,#303030 196.5px,#232323 199.5px,#121212 202.5px,#0d0d0d 204.5px,#0f0f0f 206.5px,#191919 210.5px,#181818 214.5px,#000 232.5px,#000 316.5px)"></i><i style="left:360px;width:4px;background:linear-gradient(#000 0.5px,#000 93.5px,#303030 113.5px,#353535 114.5px,#434343 115.5px,#606060 120.5px,#b9b9b9 132.5px,#cfcfcf 136.5px,#ddd 140.5px,#e2e2e2 144.5px,#e0e0e0 152.5px,#d7d7d7 158.5px,#c6c6c6 164.5px,#a8a8a8 171.5px,#606060 186.5px,#464646 193.5px,#424242 194.5px,#373737 195.5px,#2f2f2f 196.5px,#242424 199.5px,#151515 202.5px,#101010 204.5px,#111 206.5px,#1a1a1a 210.5px,#191919 214.5px,#000 233.5px,#000 316.5px)"></i><i style="left:364px;width:4px;background:linear-gradient(#000 0.5px,#010101 94.5px,#303030 113.5px,#383838 114.5px,#444 115.5px,#616161 120.5px,#b1b1b1 131.5px,#c8c8c8 135.5px,#d7d7d7 139.5px,#ddd 143.5px,#dcdcdc 151.5px,#d3d3d3 157.5px,#c3c3c3 163.5px,#a8a8a8 170.5px,#5e5e5e 186.5px,#444 193.5px,#414141 194.5px,#313131 195.5px,#292929 198.5px,#151515 203.5px,#141414 205.5px,#1b1b1b 210.5px,#181818 215.5px,#000 234.5px,#000 316.5px)"></i><i style="left:368px;width:4px;background:linear-gradient(#000 0.5px,#010101 95.5px,#303030 113.5px,#383838 114.5px,#444 115.5px,#616161 120.5px,#afafaf 131.5px,#c5c5c5 135.5px,#d3d3d3 139.5px,#d8d8d8 143.5px,#d6d6d6 151.5px,#cecece 157.5px,#bebebe 163.5px,#9f9f9f 171.5px,#5c5c5c 186.5px,#444 193.5px,#3e3e3e 194.5px,#323232 195.5px,#272727 199.5px,#1a1a1a 203.5px,#181818 206.5px,#1c1c1c 211.5px,#090909 227.5px,#000 235.5px,#000 316.5px)"></i><i style="left:372px;width:4px;background:linear-gradient(#000 0.5px,#000 95.5px,#303030 113.5px,#383838 114.5px,#444 115.5px,#606060 120.5px,#adadad 131.5px,#c1c1c1 135.5px,#cecece 139.5px,#d3d3d3 143.5px,#d1d1d1 151.5px,#c7c7c7 158.5px,#b3b3b3 165.5px,#8f8f8f 174.5px,#585858 187.5px,#414141 194.5px,#323232 195.5px,#262626 200.5px,#1d1d1d 204.5px,#1c1c1c 212.5px,#000 236.5px,#000 316.5px)"></i><i style="left:376px;width:4px;background:linear-gradient(#000 0.5px,#000 96.5px,#303030 113.5px,#353535 114.5px,#434343 115.5px,#5f5f5f 120.5px,#a9a9a9 131.5px,#bdbdbd 135.5px,#c9c9c9 139.5px,#cecece 143.5px,#cdcdcd 151.5px,#c3c3c3 158.5px,#b1b1b1 165.5px,#8e8e8e 174.5px,#595959 187.5px,#424242 194.5px,#353535 195.5px,#313131 196.5px,#212121 204.5px,#1c1c1c 213.5px,#000 237.5px,#000 316.5px)"></i><i style="left:380px;width:4px;background:linear-gradient(#000 0.5px,#010101 97.5px,#323232 114.5px,#424242 115.5px,#5d5d5d 120.5px,#a4a4a4 131.5px,#b8b8b8 135.5px,#c5c5c5 139.5px,#cacaca 143.5px,#c8c8c8 152.5px,#bfbfbf 159.5px,#acacac 166.5px,#878787 176.5px,#575757 188.5px,#414141 195.5px,#323232 196.5px,#232323 205.5px,#1b1b1b 215.5px,#000 238.5px,#000 316.5px)"></i><i style="left:384px;width:4px;background:linear-gradient(#000 0.5px,#000 97.5px,#0d0d0d 102.5px,#313131 114.5px,#3e3e3e 115.5px,#4a4a4a 117.5px,#6c6c6c 123.5px,#9f9f9f 131.5px,#b7b7b7 136.5px,#c3c3c3 140.5px,#c8c8c8 145.5px,#c5c5c5 154.5px,#bababa 161.5px,#a7a7a7 168.5px,#7d7d7d 179.5px,#535353 190.5px,#414141 196.5px,#323232 197.5px,#252525 206.5px,#141414 222.5px,#000 239.5px,#000 316.5px)"></i><i style="left:388px;width:4px;background:linear-gradient(#000 0.5px,#000 98.5px,#2f2f2f 114.5px,#353535 115.5px,#434343 116.5px,#5c5c5c 121.5px,#9f9f9f 132.5px,#b6b6b6 137.5px,#c1c1c1 141.5px,#c6c6c6 146.5px,#c3c3c3 155.5px,#b9b9b9 162.5px,#a7a7a7 169.5px,#7e7e7e 180.5px,#515151 192.5px,#424242 197.5px,#383838 198.5px,#313131 199.5px,#000 240.5px,#000 316.5px)"></i><i style="left:392px;width:4px;background:linear-gradient(#000 0.5px,#010101 99.5px,#303030 115.5px,#444 117.5px,#636363 123.5px,#9e9e9e 133.5px,#b4b4b4 138.5px,#bfbfbf 142.5px,#c5c5c5 147.5px,#c3c3c3 156.5px,#b9b9b9 163.5px,#a8a8a8 170.5px,#848484 180.5px,#535353 193.5px,#414141 199.5px,#323232 200.5px,#000 241.5px,#000 316.5px)"></i><i style="left:396px;width:4px;background:linear-gradient(#000 0.5px,#000 99.5px,#313131 116.5px,#424242 117.5px,#5e5e5e 123.5px,#a2a2a2 135.5px,#b7b7b7 140.5px,#c2c2c2 145.5px,#c5c5c5 151.5px,#c1c1c1 159.5px,#b6b6b6 166.5px,#a0a0a0 174.5px,#525252 195.5px,#434343 200.5px,#323232 202.5px,#000 242.5px,#000 316.5px)"></i><i style="left:400px;width:4px;background:linear-gradient(#000 0.5px,#000 99.5px,#0d0d0d 104.5px,#2f2f2f 116.5px,#353535 117.5px,#434343 118.5px,#5f5f5f 124.5px,#a2a2a2 136.5px,#b6b6b6 141.5px,#c2c2c2 146.5px,#c5c5c5 152.5px,#c2c2c2 160.5px,#b7b7b7 167.5px,#a4a4a4 174.5px,#777 186.5px,#4f4f4f 197.5px,#434343 201.5px,#3e3e3e 202.5px,#323232 203.5px,#000 243.5px,#000 316.5px)"></i><i style="left:404px;width:4px;background:linear-gradient(#000 0.5px,#010101 100.5px,#303030 117.5px,#444 119.5px,#606060 125.5px,#a2a2a2 137.5px,#b6b6b6 142.5px,#c2c2c2 147.5px,#c5c5c5 153.5px,#c2c2c2 161.5px,#b7b7b7 168.5px,#a4a4a4 175.5px,#777 187.5px,#4f4f4f 198.5px,#434343 202.5px,#323232 204.5px,#000 243.5px,#000 316.5px)"></i><i style="left:408px;width:4px;background:linear-gradient(#000 0.5px,#000 100.5px,#313131 118.5px,#414141 119.5px,#5c5c5c 125.5px,#a2a2a2 138.5px,#b6b6b6 143.5px,#c2c2c2 148.5px,#c6c6c6 154.5px,#c3c3c3 162.5px,#b8b8b8 169.5px,#a4a4a4 176.5px,#767676 188.5px,#515151 198.5px,#424242 203.5px,#353535 204.5px,#313131 205.5px,#000 244.5px,#000 316.5px)"></i><i style="left:412px;width:4px;background:linear-gradient(#000 0.5px,#000 100.5px,#303030 118.5px,#353535 119.5px,#434343 120.5px,#5d5d5d 126.5px,#a3a3a3 139.5px,#b7b7b7 144.5px,#c3c3c3 149.5px,#c7c7c7 155.5px,#c4c4c4 163.5px,#b9b9b9 170.5px,#a5a5a5 177.5px,#7a7a7a 188.5px,#505050 199.5px,#434343 203.5px,#3e3e3e 204.5px,#323232 205.5px,#000 244.5px,#000 316.5px)"></i><i style="left:416px;width:4px;background:linear-gradient(#000 0.5px,#010101 100.5px,#313131 119.5px,#444 121.5px,#5e5e5e 127.5px,#a3a3a3 140.5px,#b7b7b7 145.5px,#c3c3c3 150.5px,#c8c8c8 156.5px,#c6c6c6 164.5px,#bcbcbc 171.5px,#a8a8a8 178.5px,#808080 188.5px,#535353 199.5px,#434343 204.5px,#323232 206.5px,#000 244.5px,#000 316.5px)"></i><i style="left:420px;width:4px;background:linear-gradient(#000 0.5px,#000 99.5px,#313131 120.5px,#414141 121.5px,#5a5a5a 127.5px,#a7a7a7 142.5px,#bababa 147.5px,#c6c6c6 152.5px,#cbcbcb 158.5px,#c8c8c8 166.5px,#bfbfbf 172.5px,#acacac 179.5px,#878787 188.5px,#545454 200.5px,#434343 205.5px,#323232 207.5px,#000 244.5px,#000 316.5px)"></i><i style="left:424px;width:4px;background:linear-gradient(#000 0.5px,#000 99.5px,#2d2d2d 119.5px,#2e2e2e 120.5px,#333 121.5px,#424242 122.5px,#606060 129.5px,#a7a7a7 143.5px,#bebebe 149.5px,#c9c9c9 154.5px,#cecece 160.5px,#cbcbcb 168.5px,#c1c1c1 174.5px,#b0b0b0 180.5px,#8f8f8f 188.5px,#595959 200.5px,#444 206.5px,#3e3e3e 207.5px,#323232 208.5px,#000 244.5px,#000 316.5px)"></i><i style="left:428px;width:4px;background:linear-gradient(#000 0.5px,#000 98.5px,#292929 118.5px,#2c2c2c 121.5px,#434343 123.5px,#616161 130.5px,#a8a8a8 144.5px,#bfbfbf 150.5px,#cbcbcb 155.5px,#d0d0d0 161.5px,#cecece 169.5px,#c5c5c5 175.5px,#b3b3b3 181.5px,#919191 189.5px,#5a5a5a 201.5px,#444 207.5px,#3e3e3e 208.5px,#323232 209.5px,#000 244.5px,#000 316.5px)"></i><i style="left:432px;width:4px;background:linear-gradient(#000 0.5px,#000 97.5px,#262626 117.5px,#292929 122.5px,#3c3c3c 123.5px,#444 124.5px,#626262 131.5px,#aaa 145.5px,#c1c1c1 151.5px,#cdcdcd 156.5px,#d2d2d2 162.5px,#d0d0d0 170.5px,#c7c7c7 176.5px,#b5b5b5 182.5px,#929292 190.5px,#595959 202.5px,#434343 208.5px,#323232 210.5px,#000 244.5px,#000 316.5px)"></i><i style="left:436px;width:4px;background:linear-gradient(#000 0.5px,#010101 97.5px,#242424 116.5px,#242424 119.5px,#222 121.5px,#262626 123.5px,#414141 124.5px,#5a5a5a 130.5px,#adadad 146.5px,#c4c4c4 152.5px,#d0d0d0 157.5px,#d5d5d5 163.5px,#d2d2d2 171.5px,#c8c8c8 177.5px,#b5b5b5 183.5px,#919191 191.5px,#5c5c5c 202.5px,#424242 209.5px,#323232 210.5px,#000 243.5px,#000 316.5px)"></i><i style="left:440px;width:4px;background:linear-gradient(#000 0.5px,#010101 96.5px,#232323 116.5px,#222 118.5px,#1b1b1b 121.5px,#1c1c1c 122.5px,#1f1f1f 123.5px,#2a2a2a 124.5px,#424242 125.5px,#5b5b5b 131.5px,#b0b0b0 147.5px,#c4c4c4 152.5px,#d1d1d1 157.5px,#d7d7d7 163.5px,#d5d5d5 171.5px,#cbcbcb 177.5px,#b8b8b8 183.5px,#949494 191.5px,#595959 203.5px,#434343 209.5px,#383838 210.5px,#313131 211.5px,#000 243.5px,#000 316.5px)"></i><i style="left:444px;width:4px;background:linear-gradient(#000 0.5px,#010101 95.5px,#222 115.5px,#222 117.5px,#1b1b1b 119.5px,#131313 121.5px,#141414 122.5px,#181818 123.5px,#1f1f1f 124.5px,#434343 126.5px,#5d5d5d 132.5px,#b0b0b0 147.5px,#c5c5c5 152.5px,#d3d3d3 157.5px,#d9d9d9 162.5px,#d9d9d9 170.5px,#d0d0d0 176.5px,#bfbfbf 182.5px,#a1a1a1 189.5px,#5b5b5b 203.5px,#444 209.5px,#3e3e3e 210.5px,#323232 211.5px,#000 243.5px,#000 316.5px)"></i><i style="left:448px;width:4px;background:linear-gradient(#000 0.5px,#010101 94.5px,#212121 115.5px,#202020 117.5px,#171717 119.5px,#0c0c0c 121.5px,#0c0c0c 122.5px,#111 123.5px,#232323 125.5px,#414141 126.5px,#5b5b5b 132.5px,#949494 142.5px,#bababa 149.5px,#cdcdcd 154.5px,#d9d9d9 159.5px,#ddd 165.5px,#dadada 172.5px,#cfcfcf 178.5px,#bbb 184.5px,#959595 192.5px,#5d5d5d 203.5px,#424242 210.5px,#323232 211.5px,#000 242.5px,#000 316.5px)"></i><i style="left:452px;width:4px;background:linear-gradient(#000 0.5px,#010101 93.5px,#212121 115.5px,#1f1f1f 117.5px,#1b1b1b 118.5px,#0c0c0c 120.5px,#060606 121.5px,#060606 122.5px,#0b0b0b 123.5px,#202020 125.5px,#363636 126.5px,#444 127.5px,#5f5f5f 133.5px,#b5b5b5 148.5px,#ccc 153.5px,#dadada 158.5px,#e1e1e1 163.5px,#e0e0e0 171.5px,#d7d7d7 177.5px,#c8c8c8 182.5px,#aeaeae 188.5px,#5f5f5f 203.5px,#434343 210.5px,#383838 211.5px,#313131 212.5px,#000 242.5px,#000 316.5px)"></i><i style="left:456px;width:4px;background:linear-gradient(#000 0.5px,#000 92.5px,#212121 115.5px,#1f1f1f 117.5px,#191919 118.5px,#090909 120.5px,#020202 121.5px,#020202 122.5px,#080808 123.5px,#1e1e1e 125.5px,#434343 127.5px,#5e5e5e 133.5px,#929292 142.5px,#bbb 149.5px,#d1d1d1 154.5px,#e0e0e0 159.5px,#e5e5e5 164.5px,#e4e4e4 172.5px,#dcdcdc 177.5px,#cdcdcd 182.5px,#b3b3b3 188.5px,#616161 203.5px,#474747 209.5px,#3e3e3e 211.5px,#323232 212.5px,#000 241.5px,#000 316.5px)"></i><i style="left:460px;width:4px;background:linear-gradient(#000 0.5px,#010101 92.5px,#222 115.5px,#1f1f1f 117.5px,#191919 118.5px,#080808 120.5px,#020202 121.5px,#010101 122.5px,#070707 123.5px,#1e1e1e 125.5px,#2c2c2c 126.5px,#424242 127.5px,#5d5d5d 133.5px,#8c8c8c 141.5px,#bcbcbc 149.5px,#d4d4d4 154.5px,#e3e3e3 159.5px,#eaeaea 164.5px,#e9e9e9 172.5px,#e2e2e2 177.5px,#d3d3d3 182.5px,#b8b8b8 188.5px,#646464 203.5px,#494949 209.5px,#414141 211.5px,#323232 212.5px,#000 241.5px,#000 316.5px)"></i><i style="left:464px;width:4px;background:linear-gradient(#000 0.5px,#000 91.5px,#222 115.5px,#1f1f1f 117.5px,#1a1a1a 118.5px,#0a0a0a 120.5px,#040404 121.5px,#040404 122.5px,#0a0a0a 123.5px,#1f1f1f 125.5px,#2d2d2d 126.5px,#424242 127.5px,#5e5e5e 133.5px,#8d8d8d 141.5px,#bebebe 149.5px,#d7d7d7 154.5px,#e7e7e7 159.5px,#eee 164.5px,#efefef 171.5px,#e9e9e9 176.5px,#dcdcdc 181.5px,#c7c7c7 186.5px,#9a9a9a 194.5px,#666 203.5px,#4a4a4a 209.5px,#424242 211.5px,#353535 212.5px,#313131 213.5px,#000 240.5px,#000 316.5px)"></i><i style="left:468px;width:4px;background:linear-gradient(#000 0.5px,#010101 91.5px,#222 115.5px,#202020 117.5px,#161616 119.5px,#0a0a0a 121.5px,#090909 122.5px,#0f0f0f 123.5px,#222 125.5px,#2e2e2e 126.5px,#434343 127.5px,#5e5e5e 133.5px,#888 140.5px,#c1c1c1 149.5px,#dadada 154.5px,#ebebeb 159.5px,#f3f3f3 164.5px,#f3f3f3 171.5px,#ededed 176.5px,#dfdfdf 181.5px,#cacaca 186.5px,#9c9c9c 194.5px,#666 203.5px,#4a4a4a 209.5px,#434343 211.5px,#353535 212.5px,#313131 213.5px,#000 239.5px,#000 316.5px)"></i><i style="left:472px;width:4px;background:linear-gradient(#000 0.5px,#000 90.5px,#232323 115.5px,#222 117.5px,#1a1a1a 119.5px,#111 121.5px,#111 122.5px,#151515 123.5px,#252525 125.5px,#434343 127.5px,#5a5a5a 132.5px,#848484 139.5px,#c6c6c6 149.5px,#dfdfdf 154.5px,#efefef 159.5px,#f6f6f6 164.5px,#f6f6f6 171.5px,#efefef 176.5px,#e1e1e1 181.5px,#cbcbcb 186.5px,#9c9c9c 194.5px,#666 203.5px,#4a4a4a 209.5px,#424242 211.5px,#353535 212.5px,#313131 213.5px,#000 238.5px,#000 316.5px)"></i><i style="left:476px;width:4px;background:linear-gradient(#000 0.5px,#010101 90.5px,#242424 116.5px,#212121 118.5px,#181818 121.5px,#181818 122.5px,#222 124.5px,#292929 125.5px,#393939 126.5px,#444 127.5px,#5c5c5c 132.5px,#818181 138.5px,#c5c5c5 148.5px,#e0e0e0 153.5px,#eee 157.5px,#f8f8f8 162.5px,#f9f9f9 169.5px,#f4f4f4 174.5px,#e8e8e8 179.5px,#d3d3d3 184.5px,#adadad 191.5px,#6a6a6a 202.5px,#4d4d4d 208.5px,#424242 211.5px,#323232 212.5px,#010101 237.5px,#000 316.5px)"></i><i style="left:480px;width:4px;background:linear-gradient(#000 0.5px,#010101 89.5px,#252525 116.5px,#222 119.5px,#1f1f1f 121.5px,#222 123.5px,#2c2c2c 125.5px,#3e3e3e 126.5px,#454545 127.5px,#5e5e5e 132.5px,#858585 138.5px,#c5c5c5 147.5px,#e1e1e1 152.5px,#f0f0f0 156.5px,#f9f9f9 160.5px,#fcfcfc 166.5px,#f8f8f8 172.5px,#ededed 177.5px,#dadada 182.5px,#bbb 188.5px,#6d6d6d 201.5px,#505050 207.5px,#444 210.5px,#313131 212.5px,#000 237.5px,#000 316.5px)"></i><i style="left:484px;width:4px;background:linear-gradient(#000 0.5px,#000 88.5px,#262626 116.5px,#252525 122.5px,#2b2b2b 124.5px,#323232 125.5px,#424242 126.5px,#5b5b5b 131.5px,#838383 137.5px,#c5c5c5 146.5px,#e2e2e2 151.5px,#f2f2f2 155.5px,#fbfbfb 159.5px,#fdfdfd 165.5px,#f9f9f9 171.5px,#eee 176.5px,#dbdbdb 181.5px,#bcbcbc 187.5px,#696969 201.5px,#4d4d4d 207.5px,#424242 210.5px,#353535 211.5px,#303030 212.5px,#000 236.5px,#000 316.5px)"></i><i style="left:488px;width:4px;background:linear-gradient(#000 0.5px,#010101 88.5px,#272727 117.5px,#2a2a2a 122.5px,#2e2e2e 124.5px,#454545 126.5px,#5f5f5f 131.5px,#898989 137.5px,#c5c5c5 145.5px,#e3e3e3 150.5px,#f3f3f3 154.5px,#fcfcfc 158.5px,#fefefe 164.5px,#fafafa 170.5px,#eee 175.5px,#dcdcdc 180.5px,#bdbdbd 186.5px,#6a6a6a 200.5px,#4e4e4e 206.5px,#434343 209.5px,#383838 210.5px,#313131 211.5px,#000 235.5px,#000 316.5px)"></i><i style="left:492px;width:4px;background:linear-gradient(#000 0.5px,#000 87.5px,#2a2a2a 118.5px,#2f2f2f 123.5px,#343434 124.5px,#434343 125.5px,#5e5e5e 130.5px,#888 136.5px,#ccc 145.5px,#e4e4e4 149.5px,#f4f4f4 153.5px,#fdfdfd 157.5px,#fff 163.5px,#fafafa 169.5px,#eee 174.5px,#dbdbdb 179.5px,#b7b7b7 186.5px,#6b6b6b 199.5px,#4f4f4f 205.5px,#434343 208.5px,#313131 210.5px,#000 234.5px,#000 316.5px)"></i><i style="left:496px;width:4px;background:linear-gradient(#000 0.5px,#010101 87.5px,#313131 123.5px,#424242 124.5px,#5c5c5c 129.5px,#878787 135.5px,#ccc 144.5px,#e4e4e4 148.5px,#f4f4f4 152.5px,#fdfdfd 156.5px,#fff 162.5px,#fafafa 168.5px,#eee 173.5px,#dbdbdb 178.5px,#b7b7b7 185.5px,#6b6b6b 198.5px,#4f4f4f 204.5px,#434343 207.5px,#313131 209.5px,#000 233.5px,#000 316.5px)"></i><i style="left:500px;width:4px;background:linear-gradient(#000 0.5px,#010101 87.5px,#313131 122.5px,#3f3f3f 123.5px,#4b4b4b 125.5px,#696969 130.5px,#a6a6a6 138.5px,#d2d2d2 144.5px,#e8e8e8 148.5px,#f7f7f7 152.5px,#fefefe 156.5px,#fefefe 163.5px,#f7f7f7 168.5px,#eaeaea 173.5px,#d1d1d1 179.5px,#a4a4a4 187.5px,#6a6a6a 197.5px,#4e4e4e 203.5px,#434343 206.5px,#383838 207.5px,#313131 208.5px,#000 232.5px,#000 316.5px)"></i><i style="left:504px;width:4px;background:linear-gradient(#000 0.5px,#010101 87.5px,#323232 121.5px,#3e3e3e 122.5px,#4a4a4a 124.5px,#686868 129.5px,#a5a5a5 137.5px,#d1d1d1 143.5px,#e8e8e8 147.5px,#f6f6f6 151.5px,#fdfdfd 155.5px,#fdfdfd 162.5px,#f7f7f7 167.5px,#e9e9e9 172.5px,#d0d0d0 178.5px,#a3a3a3 186.5px,#696969 196.5px,#4e4e4e 202.5px,#424242 205.5px,#383838 206.5px,#303030 207.5px,#000 231.5px,#000 316.5px)"></i><i style="left:508px;width:4px;background:linear-gradient(#000 0.5px,#010101 87.5px,#323232 120.5px,#454545 122.5px,#616161 127.5px,#8d8d8d 133.5px,#cacaca 141.5px,#e2e2e2 145.5px,#f3f3f3 149.5px,#fbfbfb 153.5px,#fdfdfd 159.5px,#f8f8f8 165.5px,#ececec 170.5px,#d9d9d9 175.5px,#b4b4b4 182.5px,#6e6e6e 194.5px,#515151 200.5px,#424242 204.5px,#343434 205.5px,#303030 206.5px,#000 230.5px,#000 316.5px)"></i><i style="left:512px;width:4px;background:linear-gradient(#000 0.5px,#000 87.5px,#323232 119.5px,#454545 121.5px,#606060 126.5px,#8c8c8c 132.5px,#c9c9c9 140.5px,#e1e1e1 144.5px,#f2f2f2 148.5px,#fafafa 152.5px,#fcfcfc 158.5px,#f7f7f7 164.5px,#ebebeb 169.5px,#d8d8d8 174.5px,#b3b3b3 181.5px,#6d6d6d 193.5px,#505050 199.5px,#414141 203.5px,#313131 204.5px,#000 230.5px,#000 316.5px)"></i><i style="left:516px;width:4px;background:linear-gradient(#000 0.5px,#000 87.5px,#313131 118.5px,#383838 119.5px,#444 120.5px,#5f5f5f 125.5px,#8b8b8b 131.5px,#c8c8c8 139.5px,#e0e0e0 143.5px,#f1f1f1 147.5px,#f9f9f9 151.5px,#fbfbfb 157.5px,#f6f6f6 163.5px,#eaeaea 168.5px,#d7d7d7 173.5px,#b3b3b3 180.5px,#6d6d6d 192.5px,#505050 198.5px,#444 201.5px,#3e3e3e 202.5px,#2f2f2f 203.5px,#0d0d0d 222.5px,#000 229.5px,#000 316.5px)"></i><i style="left:520px;width:4px;background:linear-gradient(#000 0.5px,#000 87.5px,#313131 117.5px,#353535 118.5px,#434343 119.5px,#5e5e5e 124.5px,#898989 130.5px,#c6c6c6 138.5px,#dfdfdf 142.5px,#efefef 146.5px,#f8f8f8 150.5px,#fafafa 156.5px,#f5f5f5 162.5px,#eaeaea 167.5px,#d7d7d7 172.5px,#b2b2b2 179.5px,#6c6c6c 191.5px,#505050 197.5px,#444 200.5px,#3e3e3e 201.5px,#2e2e2e 202.5px,#252525 208.5px,#0d0d0d 222.5px,#000 229.5px,#000 316.5px)"></i><i style="left:524px;width:4px;background:linear-gradient(#000 0.5px,#010101 88.5px,#323232 117.5px,#424242 118.5px,#5c5c5c 123.5px,#878787 129.5px,#c4c4c4 137.5px,#ddd 141.5px,#eee 145.5px,#f7f7f7 149.5px,#fafafa 155.5px,#f5f5f5 161.5px,#e9e9e9 166.5px,#d6d6d6 171.5px,#b2b2b2 178.5px,#676767 191.5px,#4c4c4c 197.5px,#414141 200.5px,#2d2d2d 201.5px,#242424 205.5px,#1e1e1e 212.5px,#000 229.5px,#000 316.5px)"></i><i style="left:528px;width:4px;background:linear-gradient(#000 0.5px,#010101 88.5px,#313131 116.5px,#444 118.5px,#606060 123.5px,#8c8c8c 129.5px,#c2c2c2 136.5px,#dbdbdb 140.5px,#ededed 144.5px,#f6f6f6 148.5px,#f9f9f9 154.5px,#f4f4f4 160.5px,#e9e9e9 165.5px,#d6d6d6 170.5px,#b2b2b2 177.5px,#686868 190.5px,#4d4d4d 196.5px,#424242 199.5px,#2c2c2c 200.5px,#212121 204.5px,#1d1d1d 212.5px,#000 229.5px,#000 316.5px)"></i><i style="left:532px;width:4px;background:linear-gradient(#000 0.5px,#000 88.5px,#323232 116.5px,#424242 117.5px,#5e5e5e 122.5px,#898989 128.5px,#c6c6c6 136.5px,#dedede 140.5px,#eee 144.5px,#f6f6f6 148.5px,#f7f7f7 155.5px,#efefef 161.5px,#e2e2e2 166.5px,#c8c8c8 172.5px,#909090 182.5px,#646464 190.5px,#494949 196.5px,#424242 198.5px,#343434 199.5px,#282828 200.5px,#1e1e1e 203.5px,#1b1b1b 206.5px,#1d1d1d 211.5px,#000 229.5px,#000 316.5px)"></i><i style="left:536px;width:4px;background:linear-gradient(#000 0.5px,#010101 89.5px,#313131 115.5px,#444 117.5px,#616161 122.5px,#8e8e8e 128.5px,#c3c3c3 135.5px,#dcdcdc 139.5px,#ececec 143.5px,#f5f5f5 147.5px,#f5f5f5 154.5px,#eee 160.5px,#e1e1e1 165.5px,#c8c8c8 171.5px,#969696 180.5px,#656565 189.5px,#4a4a4a 195.5px,#434343 197.5px,#393939 198.5px,#2a2a2a 199.5px,#181818 203.5px,#161616 205.5px,#1c1c1c 210.5px,#171717 215.5px,#000 229.5px,#000 316.5px)"></i><i style="left:540px;width:4px;background:linear-gradient(#000 0.5px,#000 89.5px,#323232 115.5px,#424242 116.5px,#575757 120.5px,#7a7a7a 125.5px,#c0c0c0 134.5px,#d9d9d9 138.5px,#eaeaea 142.5px,#f2f2f2 146.5px,#f4f4f4 152.5px,#eee 158.5px,#e3e3e3 163.5px,#ccc 169.5px,#a3a3a3 177.5px,#666 188.5px,#484848 195.5px,#414141 197.5px,#2c2c2c 198.5px,#171717 202.5px,#121212 204.5px,#131313 206.5px,#1b1b1b 210.5px,#181818 214.5px,#000 230.5px,#000 316.5px)"></i><i style="left:544px;width:4px;background:linear-gradient(#000 0.5px,#000 90.5px,#313131 114.5px,#353535 115.5px,#434343 116.5px,#595959 120.5px,#7d7d7d 125.5px,#bcbcbc 133.5px,#d5d5d5 137.5px,#e7e7e7 141.5px,#f0f0f0 145.5px,#f1f1f1 151.5px,#ececec 157.5px,#e1e1e1 162.5px,#cbcbcb 168.5px,#a3a3a3 176.5px,#676767 187.5px,#494949 194.5px,#424242 196.5px,#2a2a2a 198.5px,#141414 202.5px,#0e0e0e 204.5px,#101010 206.5px,#1a1a1a 210.5px,#181818 214.5px,#000 230.5px,#000 316.5px)"></i><i style="left:548px;width:4px;background:linear-gradient(#000 0.5px,#010101 91.5px,#313131 114.5px,#454545 116.5px,#626262 121.5px,#a0a0a0 129.5px,#c5c5c5 134.5px,#dbdbdb 138.5px,#e9e9e9 142.5px,#eee 146.5px,#ededed 153.5px,#e4e4e4 159.5px,#d2d2d2 165.5px,#b2b2b2 172.5px,#646464 187.5px,#474747 194.5px,#444 195.5px,#3d3d3d 196.5px,#2d2d2d 197.5px,#121212 202.5px,#0c0c0c 204.5px,#0f0f0f 206.5px,#191919 210.5px,#191919 213.5px,#000 231.5px,#000 316.5px)"></i><i style="left:552px;width:4px;background:linear-gradient(#000 0.5px,#010101 92.5px,#323232 114.5px,#3f3f3f 115.5px,#4c4c4c 117.5px,#6c6c6c 122.5px,#b8b8b8 132.5px,#d1d1d1 136.5px,#e1e1e1 140.5px,#e9e9e9 144.5px,#e9e9e9 151.5px,#e2e2e2 157.5px,#d3d3d3 163.5px,#bbb 169.5px,#606060 187.5px,#454545 194.5px,#424242 195.5px,#333 196.5px,#121212 202.5px,#0c0c0c 204.5px,#0f0f0f 206.5px,#191919 210.5px,#191919 213.5px,#000 232.5px,#000 316.5px)"></i><i style="left:556px;width:4px;background:linear-gradient(#000 0.5px,#000 92.5px,#303030 113.5px,#353535 114.5px,#434343 115.5px,#595959 119.5px,#848484 125.5px,#b9b9b9 132.5px,#d0d0d0 136.5px,#dfdfdf 140.5px,#e5e5e5 144.5px,#e3e3e3 152.5px,#dbdbdb 158.5px,#c9c9c9 164.5px,#acacac 171.5px,#626262 186.5px,#464646 193.5px,#434343 194.5px,#3b3b3b 195.5px,#2f2f2f 196.5px,#232323 199.5px,#131313 202.5px,#0e0e0e 204.5px,#101010 206.5px,#1a1a1a 210.5px,#191919 214.5px,#000 232.5px,#000 316.5px)"></i><i style="left:560px;width:4px;background:linear-gradient(#000 0.5px,#000 93.5px,#303030 113.5px,#353535 114.5px,#434343 115.5px,#616161 120.5px,#b2b2b2 131.5px,#c9c9c9 135.5px,#d9d9d9 139.5px,#dfdfdf 143.5px,#dfdfdf 151.5px,#d7d7d7 157.5px,#c7c7c7 163.5px,#ababab 170.5px,#5f5f5f 186.5px,#454545 193.5px,#424242 194.5px,#343434 195.5px,#202020 200.5px,#131313 203.5px,#111 205.5px,#1a1a1a 210.5px,#191919 214.5px,#000 233.5px,#000 316.5px)"></i><i style="left:564px;width:4px;background:linear-gradient(#000 0.5px,#000 94.5px,#303030 113.5px,#383838 114.5px,#444 115.5px,#616161 120.5px,#b1b1b1 131.5px,#c7c7c7 135.5px,#d5d5d5 139.5px,#dbdbdb 143.5px,#d9d9d9 151.5px,#d1d1d1 157.5px,#c1c1c1 163.5px,#a6a6a6 170.5px,#5d5d5d 186.5px,#444 193.5px,#414141 194.5px,#313131 195.5px,#262626 199.5px,#171717 203.5px,#151515 205.5px,#1c1c1c 211.5px,#0f0f0f 222.5px,#000 234.5px,#000 316.5px)"></i><i style="left:568px;width:4px;background:linear-gradient(#000 0.5px,#000 95.5px,#303030 113.5px,#383838 114.5px,#444 115.5px,#616161 120.5px,#aeaeae 131.5px,#c4c4c4 135.5px,#d1d1d1 139.5px,#d5d5d5 143.5px,#d4d4d4 151.5px,#ccc 157.5px,#b9b9b9 164.5px,#999 172.5px,#5c5c5c 186.5px,#444 193.5px,#3e3e3e 194.5px,#323232 195.5px,#282828 199.5px,#1c1c1c 203.5px,#1a1a1a 206.5px,#1c1c1c 211.5px,#000 235.5px,#000 316.5px)"></i><i style="left:572px;width:4px;background:linear-gradient(#000 0.5px,#010101 96.5px,#303030 113.5px,#383838 114.5px,#444 115.5px,#606060 120.5px,#ababab 131.5px,#c0c0c0 135.5px,#ccc 139.5px,#d1d1d1 143.5px,#cfcfcf 151.5px,#c5c5c5 158.5px,#b2b2b2 165.5px,#8f8f8f 174.5px,#585858 187.5px,#414141 194.5px,#323232 195.5px,#242424 201.5px,#1e1e1e 204.5px,#1d1d1d 212.5px,#000 236.5px,#000 316.5px)"></i><i style="left:576px;width:4px;background:linear-gradient(#000 0.5px,#000 96.5px,#272727 110.5px,#2f2f2f 113.5px,#353535 114.5px,#434343 115.5px,#5e5e5e 120.5px,#a7a7a7 131.5px,#bbb 135.5px,#c7c7c7 139.5px,#ccc 143.5px,#cacaca 152.5px,#c0c0c0 159.5px,#adadad 166.5px,#868686 176.5px,#565656 188.5px,#434343 194.5px,#313131 196.5px,#222 204.5px,#1c1c1c 214.5px,#000 237.5px,#000 316.5px)"></i><i style="left:580px;width:4px;background:linear-gradient(#000 0.5px,#000 97.5px,#313131 114.5px,#424242 115.5px,#5c5c5c 120.5px,#a2a2a2 131.5px,#b6b6b6 135.5px,#c3c3c3 139.5px,#c9c9c9 143.5px,#c7c7c7 152.5px,#bebebe 159.5px,#adadad 166.5px,#8c8c8c 175.5px,#555 189.5px,#424242 195.5px,#383838 196.5px,#313131 197.5px,#252525 205.5px,#1b1b1b 216.5px,#000 239.5px,#000 316.5px)"></i><i style="left:584px;width:4px;background:linear-gradient(#000 0.5px,#010101 98.5px,#303030 114.5px,#444 116.5px,#5e5e5e 121.5px,#a2a2a2 132.5px,#b5b5b5 136.5px,#c1c1c1 140.5px,#c7c7c7 145.5px,#c4c4c4 154.5px,#bababa 161.5px,#a8a8a8 168.5px,#838383 178.5px,#555 190.5px,#434343 196.5px,#313131 198.5px,#262626 207.5px,#000 240.5px,#000 316.5px)"></i><i style="left:588px;width:4px;background:linear-gradient(#000 0.5px,#000 98.5px,#313131 115.5px,#424242 116.5px,#5a5a5a 121.5px,#a1a1a1 133.5px,#b7b7b7 138.5px,#c1c1c1 142.5px,#c5c5c5 147.5px,#c2c2c2 156.5px,#b8b8b8 163.5px,#a5a5a5 170.5px,#7d7d7d 181.5px,#505050 193.5px,#414141 198.5px,#353535 199.5px,#313131 200.5px,#000 241.5px,#000 316.5px)"></i><i style="left:592px;width:4px;background:linear-gradient(#000 0.5px,#010101 99.5px,#303030 115.5px,#383838 116.5px,#434343 117.5px,#616161 123.5px,#a0a0a0 134.5px,#b6b6b6 139.5px,#c2c2c2 144.5px,#c5c5c5 150.5px,#c1c1c1 158.5px,#b7b7b7 165.5px,#a0a0a0 173.5px,#525252 194.5px,#434343 199.5px,#3e3e3e 200.5px,#323232 201.5px,#000 242.5px,#000 316.5px)"></i><i style="left:596px;width:4px;background:linear-gradient(#000 0.5px,#000 99.5px,#313131 116.5px,#444 118.5px,#616161 124.5px,#9f9f9f 135.5px,#b5b5b5 140.5px,#c1c1c1 145.5px,#c5c5c5 150.5px,#c2c2c2 159.5px,#b8b8b8 166.5px,#a5a5a5 173.5px,#7d7d7d 184.5px,#505050 196.5px,#424242 201.5px,#353535 202.5px,#313131 203.5px,#000 242.5px,#000 316.5px)"></i><i style="left:600px;width:4px;background:linear-gradient(#000 0.5px,#010101 100.5px,#323232 117.5px,#424242 118.5px,#5d5d5d 124.5px,#9f9f9f 136.5px,#b4b4b4 141.5px,#c1c1c1 146.5px,#c5c5c5 151.5px,#c2c2c2 160.5px,#b8b8b8 167.5px,#a6a6a6 174.5px,#7d7d7d 185.5px,#505050 197.5px,#424242 202.5px,#353535 203.5px,#313131 204.5px,#000 243.5px,#000 316.5px)"></i></div></div>
<div class="hm" style="left:981px;top:529px;width:592px;height:317px"><div class="hi" style="left:-6px;width:604px;filter:url(#cmd)"><i style="left:0px;width:4px;background:linear-gradient(#000 0.5px,#000 67.5px,#2f2f2f 82.5px,#343434 83.5px,#414141 84.5px,#585858 96.5px,#808080 111.5px,#bcbcbc 132.5px,#d4d4d4 143.5px,#e0e0e0 153.5px,#e4e4e4 163.5px,#e0e0e0 172.5px,#d3d3d3 181.5px,#bcbcbc 191.5px,#636363 221.5px,#474747 233.5px,#414141 236.5px,#303030 238.5px,#000 254.5px,#000 316.5px)"></i><i style="left:4px;width:4px;background:linear-gradient(#000 0.5px,#010101 66.5px,#2f2f2f 81.5px,#343434 82.5px,#414141 83.5px,#5a5a5a 96.5px,#828282 111.5px,#bebebe 132.5px,#d6d6d6 143.5px,#e2e2e2 153.5px,#e5e5e5 164.5px,#e0e0e0 173.5px,#d3d3d3 182.5px,#bbb 192.5px,#646464 221.5px,#484848 233.5px,#424242 236.5px,#3e3e3e 237.5px,#313131 238.5px,#010101 254.5px,#000 260.5px,#000 316.5px)"></i><i style="left:8px;width:4px;background:linear-gradient(#000 0.5px,#000 64.5px,#0a0a0a 68.5px,#313131 81.5px,#3e3e3e 82.5px,#424242 83.5px,#5c5c5c 96.5px,#878787 112.5px,#c0c0c0 132.5px,#d8d8d8 143.5px,#e4e4e4 153.5px,#e7e7e7 164.5px,#e2e2e2 173.5px,#d5d5d5 182.5px,#bdbdbd 192.5px,#656565 221.5px,#484848 233.5px,#414141 237.5px,#343434 238.5px,#2f2f2f 239.5px,#000 255.5px,#000 316.5px)"></i><i style="left:12px;width:4px;background:linear-gradient(#000 0.5px,#000 63.5px,#303030 80.5px,#414141 82.5px,#5b5b5b 95.5px,#838383 110.5px,#c0c0c0 131.5px,#d8d8d8 142.5px,#e5e5e5 152.5px,#e9e9e9 162.5px,#e5e5e5 172.5px,#d8d8d8 181.5px,#c1c1c1 191.5px,#656565 221.5px,#494949 233.5px,#414141 237.5px,#303030 239.5px,#010101 255.5px,#000 316.5px)"></i><i style="left:16px;width:4px;background:linear-gradient(#000 0.5px,#010101 62.5px,#313131 80.5px,#404040 81.5px,#575757 93.5px,#7c7c7c 107.5px,#c1c1c1 131.5px,#dadada 142.5px,#e6e6e6 152.5px,#eaeaea 162.5px,#e7e7e7 171.5px,#dbdbdb 180.5px,#c5c5c5 190.5px,#949494 206.5px,#636363 222.5px,#474747 234.5px,#414141 237.5px,#3b3b3b 238.5px,#303030 239.5px,#000 256.5px,#000 316.5px)"></i><i style="left:20px;width:4px;background:linear-gradient(#000 0.5px,#000 60.5px,#303030 79.5px,#414141 81.5px,#585858 93.5px,#7d7d7d 107.5px,#c3c3c3 131.5px,#dbdbdb 142.5px,#e8e8e8 152.5px,#ececec 162.5px,#e9e9e9 171.5px,#ddd 180.5px,#c6c6c6 190.5px,#949494 206.5px,#636363 222.5px,#474747 234.5px,#424242 237.5px,#3b3b3b 238.5px,#313131 239.5px,#000 256.5px,#000 316.5px)"></i><i style="left:24px;width:4px;background:linear-gradient(#000 0.5px,#010101 59.5px,#313131 79.5px,#3e3e3e 80.5px,#424242 81.5px,#5a5a5a 93.5px,#7f7f7f 107.5px,#c3c3c3 130.5px,#dbdbdb 141.5px,#e9e9e9 151.5px,#eee 161.5px,#eaeaea 171.5px,#dedede 180.5px,#c7c7c7 190.5px,#929292 207.5px,#646464 222.5px,#484848 234.5px,#424242 237.5px,#3e3e3e 238.5px,#313131 239.5px,#010101 256.5px,#000 316.5px)"></i><i style="left:28px;width:4px;background:linear-gradient(#000 0.5px,#010101 58.5px,#303030 78.5px,#414141 80.5px,#585858 92.5px,#7e7e7e 106.5px,#c5c5c5 130.5px,#ddd 141.5px,#ebebeb 151.5px,#efefef 161.5px,#ebebeb 171.5px,#dfdfdf 180.5px,#c7c7c7 190.5px,#929292 207.5px,#646464 222.5px,#484848 234.5px,#414141 238.5px,#323232 239.5px,#010101 256.5px,#000 316.5px)"></i><i style="left:32px;width:4px;background:linear-gradient(#000 0.5px,#010101 57.5px,#323232 78.5px,#414141 79.5px,#585858 91.5px,#7d7d7d 105.5px,#c4c4c4 129.5px,#dedede 140.5px,#ececec 150.5px,#f0f0f0 160.5px,#ededed 170.5px,#e1e1e1 179.5px,#cbcbcb 189.5px,#9d9d9d 204.5px,#686868 221.5px,#4a4a4a 233.5px,#414141 238.5px,#353535 239.5px,#2f2f2f 240.5px,#010101 256.5px,#000 285.5px,#000 316.5px)"></i><i style="left:36px;width:4px;background:linear-gradient(#000 0.5px,#010101 56.5px,#313131 77.5px,#3e3e3e 78.5px,#424242 79.5px,#5a5a5a 91.5px,#7f7f7f 105.5px,#c7c7c7 129.5px,#e0e0e0 140.5px,#ededed 150.5px,#f2f2f2 160.5px,#eee 170.5px,#e2e2e2 179.5px,#cbcbcb 189.5px,#9d9d9d 204.5px,#686868 221.5px,#4b4b4b 233.5px,#414141 238.5px,#3b3b3b 239.5px,#303030 240.5px,#000 257.5px,#000 316.5px)"></i><i style="left:40px;width:4px;background:linear-gradient(#000 0.5px,#000 55.5px,#313131 76.5px,#3b3b3b 77.5px,#424242 78.5px,#595959 90.5px,#7e7e7e 104.5px,#c6c6c6 128.5px,#e0e0e0 139.5px,#eee 149.5px,#f3f3f3 159.5px,#f0f0f0 169.5px,#e4e4e4 178.5px,#cecece 188.5px,#a4a4a4 202.5px,#6b6b6b 220.5px,#4d4d4d 232.5px,#424242 238.5px,#3e3e3e 239.5px,#313131 240.5px,#000 257.5px,#000 316.5px)"></i><i style="left:44px;width:4px;background:linear-gradient(#000 0.5px,#010101 55.5px,#313131 75.5px,#3b3b3b 76.5px,#414141 77.5px,#595959 89.5px,#7e7e7e 103.5px,#c8c8c8 128.5px,#e1e1e1 139.5px,#efefef 149.5px,#f4f4f4 159.5px,#f0f0f0 169.5px,#e5e5e5 178.5px,#cfcfcf 188.5px,#a1a1a1 203.5px,#696969 221.5px,#4c4c4c 233.5px,#414141 239.5px,#323232 240.5px,#000 257.5px,#000 316.5px)"></i><i style="left:48px;width:4px;background:linear-gradient(#000 0.5px,#000 54.5px,#303030 74.5px,#414141 76.5px,#585858 88.5px,#7d7d7d 102.5px,#c8c8c8 127.5px,#e1e1e1 138.5px,#f0f0f0 148.5px,#f5f5f5 158.5px,#f2f2f2 168.5px,#e7e7e7 177.5px,#d1d1d1 187.5px,#a8a8a8 201.5px,#6c6c6c 220.5px,#4e4e4e 232.5px,#414141 239.5px,#353535 240.5px,#2f2f2f 241.5px,#000 257.5px,#000 316.5px)"></i><i style="left:52px;width:4px;background:linear-gradient(#000 0.5px,#010101 54.5px,#303030 73.5px,#353535 74.5px,#414141 75.5px,#585858 87.5px,#7c7c7c 101.5px,#cacaca 127.5px,#e3e3e3 138.5px,#f1f1f1 148.5px,#f6f6f6 158.5px,#f2f2f2 168.5px,#e7e7e7 177.5px,#d1d1d1 187.5px,#a8a8a8 201.5px,#6c6c6c 220.5px,#4e4e4e 232.5px,#414141 239.5px,#303030 241.5px,#000 257.5px,#000 316.5px)"></i><i style="left:56px;width:4px;background:linear-gradient(#000 0.5px,#000 53.5px,#313131 73.5px,#3e3e3e 74.5px,#424242 75.5px,#595959 87.5px,#7e7e7e 101.5px,#c9c9c9 126.5px,#e3e3e3 137.5px,#f1f1f1 147.5px,#f6f6f6 157.5px,#f4f4f4 167.5px,#e9e9e9 176.5px,#d4d4d4 186.5px,#ababab 200.5px,#6c6c6c 220.5px,#4e4e4e 232.5px,#414141 239.5px,#303030 241.5px,#000 257.5px,#000 316.5px)"></i><i style="left:60px;width:4px;background:linear-gradient(#000 0.5px,#000 53.5px,#303030 72.5px,#353535 73.5px,#414141 74.5px,#585858 86.5px,#7d7d7d 100.5px,#cbcbcb 126.5px,#e4e4e4 137.5px,#f2f2f2 147.5px,#f7f7f7 157.5px,#f4f4f4 167.5px,#e9e9e9 176.5px,#d4d4d4 186.5px,#aaa 200.5px,#6c6c6c 220.5px,#4e4e4e 232.5px,#414141 239.5px,#303030 241.5px,#000 257.5px,#000 316.5px)"></i><i style="left:64px;width:4px;background:linear-gradient(#000 0.5px,#010101 53.5px,#313131 72.5px,#3b3b3b 73.5px,#414141 74.5px,#595959 86.5px,#7e7e7e 100.5px,#cacaca 125.5px,#e4e4e4 136.5px,#f3f3f3 146.5px,#f8f8f8 156.5px,#f5f5f5 166.5px,#ebebeb 175.5px,#d6d6d6 185.5px,#b0b0b0 198.5px,#6e6e6e 219.5px,#505050 231.5px,#414141 239.5px,#353535 240.5px,#2f2f2f 241.5px,#010101 256.5px,#000 263.5px,#000 316.5px)"></i><i style="left:68px;width:4px;background:linear-gradient(#000 0.5px,#010101 53.5px,#313131 72.5px,#3e3e3e 73.5px,#424242 74.5px,#595959 86.5px,#7f7f7f 100.5px,#ccc 125.5px,#e5e5e5 136.5px,#f4f4f4 146.5px,#f9f9f9 156.5px,#f6f6f6 166.5px,#ebebeb 175.5px,#d6d6d6 185.5px,#adadad 199.5px,#6e6e6e 219.5px,#505050 231.5px,#414141 239.5px,#323232 240.5px,#010101 256.5px,#000 316.5px)"></i><i style="left:72px;width:4px;background:linear-gradient(#000 0.5px,#010101 53.5px,#313131 72.5px,#3e3e3e 73.5px,#424242 74.5px,#5a5a5a 86.5px,#808080 100.5px,#cdcdcd 125.5px,#e7e7e7 136.5px,#f4f4f4 145.5px,#fafafa 155.5px,#f7f7f7 165.5px,#ededed 174.5px,#d8d8d8 184.5px,#b2b2b2 197.5px,#707070 218.5px,#515151 230.5px,#424242 238.5px,#3e3e3e 239.5px,#313131 240.5px,#000 256.5px,#000 316.5px)"></i><i style="left:76px;width:4px;background:linear-gradient(#000 0.5px,#000 52.5px,#313131 72.5px,#3e3e3e 73.5px,#424242 74.5px,#5a5a5a 86.5px,#7e7e7e 99.5px,#cecece 125.5px,#e8e8e8 136.5px,#f5f5f5 145.5px,#fbfbfb 155.5px,#f8f8f8 165.5px,#ededed 174.5px,#d8d8d8 184.5px,#b2b2b2 197.5px,#6f6f6f 218.5px,#515151 230.5px,#414141 238.5px,#303030 240.5px,#010101 255.5px,#000 284.5px,#000 316.5px)"></i><i style="left:80px;width:4px;background:linear-gradient(#000 0.5px,#010101 53.5px,#313131 72.5px,#3e3e3e 73.5px,#424242 74.5px,#5a5a5a 86.5px,#7e7e7e 99.5px,#cdcdcd 124.5px,#e8e8e8 135.5px,#f6f6f6 144.5px,#fcfcfc 153.5px,#fafafa 164.5px,#f0f0f0 173.5px,#dbdbdb 183.5px,#b5b5b5 196.5px,#6e6e6e 218.5px,#505050 230.5px,#414141 238.5px,#323232 239.5px,#000 255.5px,#000 316.5px)"></i><i style="left:84px;width:4px;background:linear-gradient(#000 0.5px,#010101 53.5px,#313131 72.5px,#3b3b3b 73.5px,#414141 74.5px,#5a5a5a 86.5px,#7e7e7e 99.5px,#cecece 124.5px,#e9e9e9 135.5px,#f7f7f7 144.5px,#fdfdfd 153.5px,#fbfbfb 163.5px,#f2f2f2 172.5px,#ddd 182.5px,#bababa 194.5px,#707070 217.5px,#515151 229.5px,#424242 237.5px,#3b3b3b 238.5px,#303030 239.5px,#020202 254.5px,#000 258.5px,#000 316.5px)"></i><i style="left:88px;width:4px;background:linear-gradient(#000 0.5px,#000 53.5px,#303030 72.5px,#353535 73.5px,#414141 74.5px,#595959 86.5px,#7e7e7e 99.5px,#cecece 124.5px,#e8e8e8 134.5px,#f7f7f7 143.5px,#fdfdfd 152.5px,#fcfcfc 163.5px,#f2f2f2 172.5px,#ddd 182.5px,#bababa 194.5px,#6f6f6f 217.5px,#505050 229.5px,#414141 237.5px,#353535 238.5px,#2f2f2f 239.5px,#000 254.5px,#000 316.5px)"></i><i style="left:92px;width:4px;background:linear-gradient(#000 0.5px,#000 53.5px,#313131 73.5px,#3e3e3e 74.5px,#424242 75.5px,#5b5b5b 87.5px,#808080 100.5px,#cecece 124.5px,#e8e8e8 134.5px,#f7f7f7 143.5px,#fefefe 152.5px,#fdfdfd 162.5px,#f3f3f3 171.5px,#e2e2e2 180.5px,#c3c3c3 191.5px,#717171 216.5px,#525252 228.5px,#424242 236.5px,#3e3e3e 237.5px,#313131 238.5px,#020202 253.5px,#000 256.5px,#000 316.5px)"></i><i style="left:96px;width:4px;background:linear-gradient(#000 0.5px,#010101 54.5px,#303030 73.5px,#414141 75.5px,#5a5a5a 87.5px,#7f7f7f 100.5px,#d1d1d1 125.5px,#eaeaea 135.5px,#f8f8f8 144.5px,#fefefe 153.5px,#fcfcfc 163.5px,#f2f2f2 172.5px,#dfdfdf 181.5px,#bcbcbc 193.5px,#707070 216.5px,#515151 228.5px,#414141 236.5px,#303030 238.5px,#000 253.5px,#000 316.5px)"></i><i style="left:100px;width:4px;background:linear-gradient(#000 0.5px,#000 54.5px,#313131 74.5px,#3b3b3b 75.5px,#424242 76.5px,#595959 87.5px,#7d7d7d 100.5px,#cfcfcf 125.5px,#e9e9e9 135.5px,#f7f7f7 144.5px,#fdfdfd 153.5px,#fbfbfb 163.5px,#f1f1f1 172.5px,#dedede 181.5px,#bbb 193.5px,#6f6f6f 216.5px,#505050 228.5px,#414141 236.5px,#323232 237.5px,#020202 252.5px,#000 255.5px,#000 316.5px)"></i><i style="left:104px;width:4px;background:linear-gradient(#000 0.5px,#010101 55.5px,#313131 75.5px,#3e3e3e 76.5px,#424242 77.5px,#595959 88.5px,#7e7e7e 101.5px,#cdcdcd 125.5px,#e7e7e7 135.5px,#f6f6f6 144.5px,#fcfcfc 153.5px,#fafafa 163.5px,#f0f0f0 172.5px,#ddd 181.5px,#bababa 193.5px,#6f6f6f 216.5px,#505050 228.5px,#424242 235.5px,#3b3b3b 236.5px,#303030 237.5px,#000 252.5px,#000 316.5px)"></i><i style="left:108px;width:4px;background:linear-gradient(#000 0.5px,#000 55.5px,#323232 76.5px,#3e3e3e 77.5px,#424242 78.5px,#595959 89.5px,#7f7f7f 102.5px,#cecece 126.5px,#e7e7e7 136.5px,#f5f5f5 145.5px,#fafafa 154.5px,#f8f8f8 164.5px,#ededed 173.5px,#dadada 182.5px,#b6b6b6 194.5px,#6e6e6e 216.5px,#4f4f4f 228.5px,#414141 235.5px,#2f2f2f 237.5px,#020202 251.5px,#000 254.5px,#000 316.5px)"></i><i style="left:112px;width:4px;background:linear-gradient(#000 0.5px,#000 56.5px,#313131 77.5px,#3e3e3e 78.5px,#424242 79.5px,#5a5a5a 90.5px,#7f7f7f 103.5px,#cbcbcb 126.5px,#e4e4e4 136.5px,#f3f3f3 145.5px,#f9f9f9 154.5px,#f6f6f6 164.5px,#ececec 173.5px,#d8d8d8 182.5px,#b5b5b5 194.5px,#6d6d6d 216.5px,#4e4e4e 228.5px,#414141 235.5px,#323232 236.5px,#010101 251.5px,#000 316.5px)"></i><i style="left:116px;width:4px;background:linear-gradient(#000 0.5px,#000 57.5px,#313131 78.5px,#3e3e3e 79.5px,#424242 80.5px,#5a5a5a 91.5px,#7f7f7f 104.5px,#cbcbcb 127.5px,#e4e4e4 137.5px,#f2f2f2 146.5px,#f7f7f7 155.5px,#f4f4f4 165.5px,#e9e9e9 174.5px,#d2d2d2 184.5px,#a7a7a7 198.5px,#6c6c6c 216.5px,#4e4e4e 228.5px,#424242 234.5px,#3e3e3e 235.5px,#313131 236.5px,#020202 250.5px,#000 252.5px,#000 316.5px)"></i><i style="left:120px;width:4px;background:linear-gradient(#000 0.5px,#010101 58.5px,#313131 79.5px,#3e3e3e 80.5px,#424242 81.5px,#5a5a5a 92.5px,#808080 105.5px,#c9c9c9 127.5px,#e2e2e2 137.5px,#f0f0f0 146.5px,#f6f6f6 155.5px,#f3f3f3 165.5px,#e7e7e7 174.5px,#d1d1d1 184.5px,#a6a6a6 198.5px,#6c6c6c 216.5px,#4d4d4d 228.5px,#424242 234.5px,#3b3b3b 235.5px,#303030 236.5px,#010101 250.5px,#000 316.5px)"></i><i style="left:124px;width:4px;background:linear-gradient(#000 0.5px,#010101 59.5px,#313131 80.5px,#3e3e3e 81.5px,#424242 82.5px,#5a5a5a 93.5px,#818181 106.5px,#cacaca 128.5px,#e3e3e3 138.5px,#f0f0f0 147.5px,#f5f5f5 156.5px,#f1f1f1 166.5px,#e5e5e5 175.5px,#cdcdcd 185.5px,#9e9e9e 200.5px,#686868 217.5px,#4b4b4b 229.5px,#414141 234.5px,#2f2f2f 236.5px,#000 250.5px,#000 316.5px)"></i><i style="left:128px;width:4px;background:linear-gradient(#000 0.5px,#010101 60.5px,#323232 81.5px,#3e3e3e 82.5px,#424242 83.5px,#5b5b5b 94.5px,#828282 107.5px,#c8c8c8 128.5px,#e2e2e2 138.5px,#f0f0f0 147.5px,#f4f4f4 156.5px,#f0f0f0 166.5px,#e4e4e4 175.5px,#cdcdcd 185.5px,#9a9a9a 201.5px,#686868 217.5px,#4b4b4b 229.5px,#414141 234.5px,#2f2f2f 236.5px,#020202 249.5px,#000 252.5px,#000 316.5px)"></i><i style="left:132px;width:4px;background:linear-gradient(#000 0.5px,#000 61.5px,#323232 82.5px,#414141 83.5px,#595959 94.5px,#7d7d7d 106.5px,#c7c7c7 128.5px,#e1e1e1 138.5px,#eee 146.5px,#f4f4f4 155.5px,#f1f1f1 165.5px,#e5e5e5 174.5px,#cfcfcf 184.5px,#a4a4a4 198.5px,#6b6b6b 216.5px,#4d4d4d 228.5px,#414141 234.5px,#353535 235.5px,#2f2f2f 236.5px,#010101 249.5px,#000 316.5px)"></i><i style="left:136px;width:4px;background:linear-gradient(#000 0.5px,#000 62.5px,#303030 82.5px,#353535 83.5px,#414141 84.5px,#5a5a5a 95.5px,#7e7e7e 107.5px,#c6c6c6 128.5px,#e1e1e1 138.5px,#eee 146.5px,#f3f3f3 155.5px,#f0f0f0 165.5px,#e5e5e5 174.5px,#cecece 184.5px,#a4a4a4 198.5px,#6a6a6a 216.5px,#4c4c4c 228.5px,#414141 234.5px,#353535 235.5px,#2e2e2e 236.5px,#000 249.5px,#000 316.5px)"></i><i style="left:140px;width:4px;background:linear-gradient(#000 0.5px,#000 63.5px,#313131 83.5px,#3b3b3b 84.5px,#424242 85.5px,#5b5b5b 96.5px,#808080 108.5px,#c8c8c8 129.5px,#e0e0e0 138.5px,#ededed 146.5px,#f3f3f3 155.5px,#f0f0f0 165.5px,#e4e4e4 174.5px,#cecece 184.5px,#a0a0a0 199.5px,#6a6a6a 216.5px,#4c4c4c 228.5px,#414141 234.5px,#343434 235.5px,#2e2e2e 236.5px,#000 249.5px,#000 316.5px)"></i><i style="left:144px;width:4px;background:linear-gradient(#000 0.5px,#010101 65.5px,#323232 84.5px,#414141 85.5px,#5a5a5a 96.5px,#7f7f7f 108.5px,#c7c7c7 129.5px,#dfdfdf 138.5px,#ececec 146.5px,#f2f2f2 154.5px,#f0f0f0 164.5px,#e5e5e5 173.5px,#d0d0d0 183.5px,#a9a9a9 196.5px,#6a6a6a 216.5px,#4c4c4c 228.5px,#414141 234.5px,#353535 235.5px,#2e2e2e 236.5px,#000 249.5px,#000 316.5px)"></i><i style="left:148px;width:4px;background:linear-gradient(#000 0.5px,#010101 66.5px,#303030 84.5px,#414141 86.5px,#5b5b5b 97.5px,#808080 109.5px,#c5c5c5 129.5px,#ddd 138.5px,#ebebeb 146.5px,#f0f0f0 154.5px,#eee 164.5px,#e4e4e4 173.5px,#cfcfcf 183.5px,#a9a9a9 196.5px,#6a6a6a 216.5px,#4c4c4c 228.5px,#414141 234.5px,#353535 235.5px,#2e2e2e 236.5px,#000 249.5px,#000 316.5px)"></i><i style="left:152px;width:4px;background:linear-gradient(#000 0.5px,#010101 67.5px,#323232 85.5px,#414141 86.5px,#595959 97.5px,#7e7e7e 109.5px,#c2c2c2 129.5px,#dadada 138.5px,#e8e8e8 146.5px,#eee 154.5px,#ececec 164.5px,#e2e2e2 173.5px,#cecece 183.5px,#a8a8a8 196.5px,#6a6a6a 216.5px,#4c4c4c 228.5px,#414141 234.5px,#353535 235.5px,#2f2f2f 236.5px,#000 249.5px,#000 316.5px)"></i><i style="left:156px;width:4px;background:linear-gradient(#000 0.5px,#000 68.5px,#303030 85.5px,#3b3b3b 86.5px,#424242 87.5px,#5b5b5b 98.5px,#838383 111.5px,#c2c2c2 130.5px,#d9d9d9 139.5px,#e6e6e6 147.5px,#ebebeb 156.5px,#e8e8e8 166.5px,#ddd 175.5px,#c7c7c7 185.5px,#9b9b9b 200.5px,#646464 218.5px,#484848 230.5px,#414141 234.5px,#2f2f2f 236.5px,#000 249.5px,#000 316.5px)"></i><i style="left:160px;width:4px;background:linear-gradient(#000 0.5px,#010101 69.5px,#2f2f2f 85.5px,#353535 86.5px,#414141 87.5px,#595959 98.5px,#808080 111.5px,#bebebe 130.5px,#d7d7d7 140.5px,#e4e4e4 149.5px,#e8e8e8 158.5px,#e4e4e4 168.5px,#d7d7d7 177.5px,#c1c1c1 187.5px,#818181 208.5px,#5a5a5a 222.5px,#414141 234.5px,#2f2f2f 236.5px,#000 249.5px,#000 316.5px)"></i><i style="left:164px;width:4px;background:linear-gradient(#000 0.5px,#010101 70.5px,#313131 86.5px,#414141 87.5px,#585858 98.5px,#7e7e7e 111.5px,#bebebe 131.5px,#d5d5d5 141.5px,#e2e2e2 150.5px,#e5e5e5 160.5px,#e0e0e0 169.5px,#d4d4d4 178.5px,#bababa 189.5px,#646464 218.5px,#484848 230.5px,#414141 234.5px,#2f2f2f 236.5px,#000 249.5px,#000 316.5px)"></i><i style="left:168px;width:4px;background:linear-gradient(#000 0.5px,#000 70.5px,#050505 72.5px,#313131 86.5px,#3e3e3e 87.5px,#424242 88.5px,#5a5a5a 99.5px,#838383 113.5px,#bbb 131.5px,#d2d2d2 141.5px,#dfdfdf 150.5px,#e2e2e2 159.5px,#dedede 169.5px,#d2d2d2 178.5px,#bcbcbc 188.5px,#626262 219.5px,#474747 231.5px,#414141 234.5px,#2f2f2f 236.5px,#010101 249.5px,#000 316.5px)"></i><i style="left:172px;width:4px;background:linear-gradient(#000 0.5px,#000 71.5px,#313131 86.5px,#3e3e3e 87.5px,#424242 88.5px,#5c5c5c 100.5px,#888 115.5px,#bbb 132.5px,#d1d1d1 142.5px,#ddd 151.5px,#e0e0e0 161.5px,#dbdbdb 171.5px,#cecece 180.5px,#b4b4b4 191.5px,#626262 219.5px,#474747 231.5px,#414141 234.5px,#2f2f2f 236.5px,#020202 249.5px,#000 252.5px,#000 316.5px)"></i><i style="left:176px;width:4px;background:linear-gradient(#000 0.5px,#000 71.5px,#050505 73.5px,#313131 86.5px,#3e3e3e 87.5px,#424242 88.5px,#5c5c5c 100.5px,#878787 115.5px,#b9b9b9 132.5px,#cfcfcf 142.5px,#dbdbdb 151.5px,#dfdfdf 161.5px,#dadada 171.5px,#cdcdcd 180.5px,#b4b4b4 191.5px,#626262 219.5px,#474747 231.5px,#424242 234.5px,#3b3b3b 235.5px,#303030 236.5px,#000 250.5px,#000 316.5px)"></i><i style="left:180px;width:4px;background:linear-gradient(#000 0.5px,#010101 72.5px,#313131 86.5px,#414141 87.5px,#595959 99.5px,#838383 114.5px,#b8b8b8 132.5px,#cecece 142.5px,#dbdbdb 151.5px,#dfdfdf 161.5px,#dadada 171.5px,#cecece 180.5px,#b5b5b5 191.5px,#606060 220.5px,#464646 232.5px,#424242 234.5px,#3e3e3e 235.5px,#313131 236.5px,#010101 250.5px,#000 258.5px,#000 316.5px)"></i><i style="left:184px;width:4px;background:linear-gradient(#000 0.5px,#000 71.5px,#2f2f2f 85.5px,#414141 87.5px,#5a5a5a 99.5px,#838383 114.5px,#bbb 133.5px,#d0d0d0 143.5px,#dbdbdb 152.5px,#dfdfdf 162.5px,#dadada 172.5px,#cdcdcd 181.5px,#b3b3b3 192.5px,#616161 220.5px,#464646 232.5px,#414141 235.5px,#343434 236.5px,#2e2e2e 237.5px,#010101 251.5px,#000 316.5px)"></i><i style="left:188px;width:4px;background:linear-gradient(#000 0.5px,#000 70.5px,#0c0c0c 74.5px,#313131 85.5px,#3e3e3e 86.5px,#424242 87.5px,#5b5b5b 99.5px,#848484 114.5px,#bbb 133.5px,#d1d1d1 143.5px,#dcdcdc 152.5px,#e0e0e0 162.5px,#dbdbdb 172.5px,#cfcfcf 181.5px,#b5b5b5 192.5px,#626262 220.5px,#474747 232.5px,#414141 235.5px,#303030 237.5px,#000 252.5px,#000 316.5px)"></i><i style="left:192px;width:4px;background:linear-gradient(#000 0.5px,#000 69.5px,#303030 84.5px,#3b3b3b 85.5px,#424242 86.5px,#5a5a5a 98.5px,#838383 113.5px,#bababa 132.5px,#d2d2d2 143.5px,#ddd 152.5px,#e1e1e1 162.5px,#ddd 172.5px,#d0d0d0 181.5px,#b9b9b9 191.5px,#616161 221.5px,#464646 233.5px,#424242 235.5px,#3e3e3e 236.5px,#313131 237.5px,#000 253.5px,#000 316.5px)"></i><i style="left:196px;width:4px;background:linear-gradient(#000 0.5px,#010101 68.5px,#303030 83.5px,#3b3b3b 84.5px,#424242 85.5px,#5a5a5a 97.5px,#828282 112.5px,#bbb 132.5px,#d3d3d3 143.5px,#dfdfdf 153.5px,#e3e3e3 163.5px,#dfdfdf 172.5px,#d2d2d2 181.5px,#bbb 191.5px,#626262 221.5px,#474747 233.5px,#414141 236.5px,#353535 237.5px,#2f2f2f 238.5px,#010101 253.5px,#000 274.5px,#000 316.5px)"></i><i style="left:200px;width:4px;background:linear-gradient(#000 0.5px,#000 66.5px,#040404 68.5px,#303030 82.5px,#3b3b3b 83.5px,#424242 84.5px,#595959 96.5px,#818181 111.5px,#bdbdbd 132.5px,#d5d5d5 143.5px,#e1e1e1 153.5px,#e4e4e4 164.5px,#dfdfdf 173.5px,#d2d2d2 182.5px,#bababa 192.5px,#636363 221.5px,#474747 233.5px,#424242 236.5px,#3b3b3b 237.5px,#303030 238.5px,#010101 254.5px,#000 316.5px)"></i><i style="left:204px;width:4px;background:linear-gradient(#000 0.5px,#000 65.5px,#303030 81.5px,#3a3a3a 82.5px,#414141 83.5px,#5b5b5b 96.5px,#838383 111.5px,#bfbfbf 132.5px,#d7d7d7 143.5px,#e3e3e3 153.5px,#e6e6e6 164.5px,#e1e1e1 173.5px,#d4d4d4 182.5px,#bcbcbc 192.5px,#646464 221.5px,#484848 233.5px,#414141 237.5px,#313131 238.5px,#000 255.5px,#000 316.5px)"></i><i style="left:208px;width:4px;background:linear-gradient(#000 0.5px,#010101 64.5px,#2f2f2f 80.5px,#353535 81.5px,#414141 82.5px,#5a5a5a 95.5px,#828282 110.5px,#bfbfbf 131.5px,#d7d7d7 142.5px,#e4e4e4 152.5px,#e8e8e8 162.5px,#e4e4e4 172.5px,#d7d7d7 181.5px,#c0c0c0 191.5px,#656565 221.5px,#484848 233.5px,#414141 237.5px,#353535 238.5px,#2f2f2f 239.5px,#010101 255.5px,#000 316.5px)"></i><i style="left:212px;width:4px;background:linear-gradient(#000 0.5px,#000 62.5px,#313131 80.5px,#3b3b3b 81.5px,#424242 82.5px,#5b5b5b 95.5px,#848484 110.5px,#c0c0c0 131.5px,#d8d8d8 142.5px,#e5e5e5 152.5px,#e9e9e9 162.5px,#e5e5e5 172.5px,#d9d9d9 181.5px,#c1c1c1 191.5px,#656565 221.5px,#494949 233.5px,#414141 237.5px,#303030 239.5px,#020202 255.5px,#000 259.5px,#000 316.5px)"></i><i style="left:216px;width:4px;background:linear-gradient(#000 0.5px,#000 61.5px,#323232 80.5px,#414141 81.5px,#585858 93.5px,#7c7c7c 107.5px,#c2c2c2 131.5px,#dadada 142.5px,#e7e7e7 152.5px,#ebebeb 162.5px,#e8e8e8 171.5px,#dcdcdc 180.5px,#c5c5c5 190.5px,#949494 206.5px,#636363 222.5px,#474747 234.5px,#424242 237.5px,#3b3b3b 238.5px,#303030 239.5px,#000 256.5px,#000 316.5px)"></i><i style="left:220px;width:4px;background:linear-gradient(#000 0.5px,#000 59.5px,#313131 79.5px,#3b3b3b 80.5px,#414141 81.5px,#595959 93.5px,#7e7e7e 107.5px,#c2c2c2 130.5px,#dadada 141.5px,#e8e8e8 151.5px,#ededed 161.5px,#e9e9e9 171.5px,#ddd 180.5px,#c6c6c6 190.5px,#959595 206.5px,#646464 222.5px,#474747 234.5px,#424242 237.5px,#3e3e3e 238.5px,#313131 239.5px,#000 256.5px,#000 316.5px)"></i><i style="left:224px;width:4px;background:linear-gradient(#000 0.5px,#000 58.5px,#323232 79.5px,#414141 80.5px,#585858 92.5px,#7d7d7d 106.5px,#c4c4c4 130.5px,#dcdcdc 141.5px,#eaeaea 151.5px,#eee 161.5px,#eaeaea 171.5px,#dedede 180.5px,#c7c7c7 190.5px,#929292 207.5px,#646464 222.5px,#484848 234.5px,#404040 238.5px,#313131 239.5px,#010101 256.5px,#000 316.5px)"></i><i style="left:228px;width:4px;background:linear-gradient(#000 0.5px,#000 57.5px,#313131 78.5px,#3b3b3b 79.5px,#424242 80.5px,#595959 92.5px,#7e7e7e 106.5px,#c6c6c6 130.5px,#dedede 141.5px,#ececec 151.5px,#f0f0f0 161.5px,#ececec 171.5px,#dfdfdf 180.5px,#c8c8c8 190.5px,#939393 207.5px,#656565 222.5px,#484848 234.5px,#414141 238.5px,#353535 239.5px,#2f2f2f 240.5px,#010101 256.5px,#000 316.5px)"></i><i style="left:232px;width:4px;background:linear-gradient(#000 0.5px,#000 56.5px,#303030 77.5px,#414141 79.5px,#595959 91.5px,#7e7e7e 105.5px,#c5c5c5 129.5px,#dedede 140.5px,#ececec 150.5px,#f1f1f1 160.5px,#eee 170.5px,#e2e2e2 179.5px,#cbcbcb 189.5px,#9d9d9d 204.5px,#686868 221.5px,#4b4b4b 233.5px,#414141 238.5px,#303030 240.5px,#010101 256.5px,#000 261.5px,#000 316.5px)"></i><i style="left:236px;width:4px;background:linear-gradient(#000 0.5px,#010101 56.5px,#303030 76.5px,#353535 77.5px,#414141 78.5px,#585858 90.5px,#7d7d7d 104.5px,#c8c8c8 129.5px,#e0e0e0 140.5px,#eee 150.5px,#f2f2f2 160.5px,#eee 170.5px,#e2e2e2 179.5px,#cbcbcb 189.5px,#9a9a9a 205.5px,#686868 221.5px,#4b4b4b 233.5px,#424242 238.5px,#3b3b3b 239.5px,#313131 240.5px,#000 257.5px,#000 316.5px)"></i><i style="left:240px;width:4px;background:linear-gradient(#000 0.5px,#000 55.5px,#323232 76.5px,#414141 77.5px,#585858 89.5px,#7d7d7d 103.5px,#c7c7c7 128.5px,#e0e0e0 139.5px,#eee 149.5px,#f3f3f3 159.5px,#f0f0f0 169.5px,#e5e5e5 178.5px,#cecece 188.5px,#a1a1a1 203.5px,#696969 221.5px,#4c4c4c 233.5px,#404040 239.5px,#313131 240.5px,#000 257.5px,#000 316.5px)"></i><i style="left:244px;width:4px;background:linear-gradient(#000 0.5px,#000 54.5px,#323232 75.5px,#404040 76.5px,#575757 88.5px,#7c7c7c 102.5px,#c9c9c9 128.5px,#e2e2e2 139.5px,#f0f0f0 149.5px,#f4f4f4 159.5px,#f1f1f1 169.5px,#e5e5e5 178.5px,#cfcfcf 188.5px,#a1a1a1 203.5px,#696969 221.5px,#4c4c4c 233.5px,#414141 239.5px,#343434 240.5px,#2f2f2f 241.5px,#000 257.5px,#000 316.5px)"></i><i style="left:248px;width:4px;background:linear-gradient(#000 0.5px,#000 54.5px,#313131 74.5px,#3e3e3e 75.5px,#424242 76.5px,#595959 88.5px,#7e7e7e 102.5px,#c9c9c9 127.5px,#e2e2e2 138.5px,#f0f0f0 148.5px,#f5f5f5 158.5px,#f2f2f2 168.5px,#e7e7e7 177.5px,#d1d1d1 187.5px,#a8a8a8 201.5px,#6c6c6c 220.5px,#4e4e4e 232.5px,#414141 239.5px,#353535 240.5px,#2f2f2f 241.5px,#000 257.5px,#000 316.5px)"></i><i style="left:252px;width:4px;background:linear-gradient(#000 0.5px,#010101 54.5px,#303030 73.5px,#414141 75.5px,#585858 87.5px,#7d7d7d 101.5px,#c8c8c8 126.5px,#e2e2e2 137.5px,#f1f1f1 147.5px,#f6f6f6 157.5px,#f3f3f3 167.5px,#e9e9e9 176.5px,#d4d4d4 186.5px,#aeaeae 199.5px,#6c6c6c 220.5px,#4e4e4e 232.5px,#414141 239.5px,#303030 241.5px,#000 257.5px,#000 316.5px)"></i><i style="left:256px;width:4px;background:linear-gradient(#000 0.5px,#000 53.5px,#323232 73.5px,#404040 74.5px,#575757 86.5px,#7c7c7c 100.5px,#cacaca 126.5px,#e4e4e4 137.5px,#f2f2f2 147.5px,#f7f7f7 157.5px,#f4f4f4 167.5px,#e9e9e9 176.5px,#d4d4d4 186.5px,#ababab 200.5px,#6c6c6c 220.5px,#4e4e4e 232.5px,#414141 239.5px,#303030 241.5px,#000 257.5px,#000 316.5px)"></i><i style="left:260px;width:4px;background:linear-gradient(#000 0.5px,#000 53.5px,#303030 72.5px,#414141 74.5px,#585858 86.5px,#7d7d7d 100.5px,#ccc 126.5px,#e5e5e5 137.5px,#f3f3f3 147.5px,#f8f8f8 157.5px,#f4f4f4 167.5px,#e9e9e9 176.5px,#d4d4d4 186.5px,#aaa 200.5px,#6c6c6c 220.5px,#4e4e4e 232.5px,#414141 239.5px,#2f2f2f 241.5px,#000 257.5px,#000 316.5px)"></i><i style="left:264px;width:4px;background:linear-gradient(#000 0.5px,#010101 53.5px,#313131 72.5px,#3b3b3b 73.5px,#424242 74.5px,#595959 86.5px,#7f7f7f 100.5px,#cbcbcb 125.5px,#e5e5e5 136.5px,#f3f3f3 146.5px,#f8f8f8 156.5px,#f6f6f6 166.5px,#ebebeb 175.5px,#d6d6d6 185.5px,#b0b0b0 198.5px,#6e6e6e 219.5px,#505050 231.5px,#414141 239.5px,#343434 240.5px,#2f2f2f 241.5px,#010101 256.5px,#000 316.5px)"></i><i style="left:268px;width:4px;background:linear-gradient(#000 0.5px,#010101 53.5px,#313131 72.5px,#3e3e3e 73.5px,#424242 74.5px,#5a5a5a 86.5px,#808080 100.5px,#ccc 125.5px,#e6e6e6 136.5px,#f4f4f4 146.5px,#f9f9f9 156.5px,#f6f6f6 166.5px,#ebebeb 175.5px,#d6d6d6 185.5px,#acacac 199.5px,#6d6d6d 219.5px,#4f4f4f 231.5px,#404040 239.5px,#313131 240.5px,#000 256.5px,#000 316.5px)"></i><i style="left:272px;width:4px;background:linear-gradient(#000 0.5px,#000 52.5px,#313131 72.5px,#3e3e3e 73.5px,#424242 74.5px,#5a5a5a 86.5px,#808080 100.5px,#cecece 125.5px,#e7e7e7 136.5px,#f5f5f5 145.5px,#fafafa 155.5px,#f8f8f8 165.5px,#ededed 174.5px,#d8d8d8 184.5px,#b2b2b2 197.5px,#6f6f6f 218.5px,#515151 230.5px,#424242 238.5px,#3b3b3b 239.5px,#303030 240.5px,#000 256.5px,#000 316.5px)"></i><i style="left:276px;width:4px;background:linear-gradient(#000 0.5px,#000 52.5px,#313131 72.5px,#3e3e3e 73.5px,#424242 74.5px,#5a5a5a 86.5px,#7e7e7e 99.5px,#cfcfcf 125.5px,#e9e9e9 136.5px,#f6f6f6 145.5px,#fbfbfb 155.5px,#f9f9f9 165.5px,#eee 174.5px,#d8d8d8 184.5px,#b2b2b2 197.5px,#6f6f6f 218.5px,#505050 230.5px,#414141 238.5px,#353535 239.5px,#2f2f2f 240.5px,#010101 255.5px,#000 316.5px)"></i><i style="left:280px;width:4px;background:linear-gradient(#000 0.5px,#010101 53.5px,#313131 72.5px,#3b3b3b 73.5px,#424242 74.5px,#5a5a5a 86.5px,#7e7e7e 99.5px,#cdcdcd 124.5px,#e8e8e8 135.5px,#f6f6f6 144.5px,#fcfcfc 153.5px,#fbfbfb 163.5px,#f1f1f1 172.5px,#ddd 182.5px,#bbb 194.5px,#717171 217.5px,#525252 229.5px,#424242 237.5px,#3e3e3e 238.5px,#313131 239.5px,#000 255.5px,#000 316.5px)"></i><i style="left:284px;width:4px;background:linear-gradient(#000 0.5px,#010101 53.5px,#303030 72.5px,#414141 74.5px,#5a5a5a 86.5px,#7e7e7e 99.5px,#cecece 124.5px,#e7e7e7 134.5px,#f6f6f6 143.5px,#fdfdfd 152.5px,#fbfbfb 163.5px,#f2f2f2 172.5px,#ddd 182.5px,#bababa 194.5px,#707070 217.5px,#515151 229.5px,#414141 237.5px,#3a3a3a 238.5px,#303030 239.5px,#010101 254.5px,#000 316.5px)"></i><i style="left:288px;width:4px;background:linear-gradient(#000 0.5px,#000 53.5px,#2f2f2f 72.5px,#353535 73.5px,#414141 74.5px,#595959 86.5px,#7e7e7e 99.5px,#cecece 124.5px,#e8e8e8 134.5px,#f7f7f7 143.5px,#fdfdfd 152.5px,#fcfcfc 162.5px,#f3f3f3 171.5px,#e2e2e2 180.5px,#c3c3c3 191.5px,#6f6f6f 217.5px,#505050 229.5px,#414141 237.5px,#323232 238.5px,#000 254.5px,#000 316.5px)"></i><i style="left:292px;width:4px;background:linear-gradient(#000 0.5px,#010101 54.5px,#313131 73.5px,#3b3b3b 74.5px,#424242 75.5px,#5b5b5b 87.5px,#808080 100.5px,#cecece 124.5px,#e8e8e8 134.5px,#f7f7f7 143.5px,#fefefe 152.5px,#fdfdfd 162.5px,#f3f3f3 171.5px,#e2e2e2 180.5px,#c3c3c3 191.5px,#717171 216.5px,#515151 228.5px,#424242 236.5px,#3b3b3b 237.5px,#303030 238.5px,#010101 253.5px,#000 316.5px)"></i><i style="left:296px;width:4px;background:linear-gradient(#000 0.5px,#000 54.5px,#323232 74.5px,#414141 75.5px,#595959 87.5px,#7e7e7e 100.5px,#d0d0d0 125.5px,#e9e9e9 135.5px,#f8f8f8 144.5px,#fefefe 153.5px,#fcfcfc 163.5px,#f1f1f1 172.5px,#dfdfdf 181.5px,#bbb 193.5px,#707070 216.5px,#515151 228.5px,#414141 236.5px,#353535 237.5px,#2f2f2f 238.5px,#000 253.5px,#000 316.5px)"></i><i style="left:300px;width:4px;background:linear-gradient(#000 0.5px,#000 54.5px,#303030 74.5px,#414141 76.5px,#585858 87.5px,#7c7c7c 100.5px,#cecece 125.5px,#e8e8e8 135.5px,#f7f7f7 144.5px,#fdfdfd 153.5px,#fbfbfb 163.5px,#f1f1f1 172.5px,#dedede 181.5px,#bbb 193.5px,#6f6f6f 216.5px,#505050 228.5px,#424242 235.5px,#3e3e3e 236.5px,#313131 237.5px,#010101 252.5px,#000 316.5px)"></i><i style="left:304px;width:4px;background:linear-gradient(#000 0.5px,#000 55.5px,#303030 75.5px,#414141 77.5px,#585858 88.5px,#7d7d7d 101.5px,#cfcfcf 126.5px,#e8e8e8 136.5px,#f6f6f6 145.5px,#fbfbfb 154.5px,#f9f9f9 164.5px,#eee 173.5px,#d8d8d8 183.5px,#b0b0b0 196.5px,#6e6e6e 216.5px,#4f4f4f 228.5px,#424242 235.5px,#3b3b3b 236.5px,#303030 237.5px,#000 252.5px,#000 316.5px)"></i><i style="left:308px;width:4px;background:linear-gradient(#000 0.5px,#010101 56.5px,#303030 76.5px,#414141 78.5px,#585858 89.5px,#7e7e7e 102.5px,#ccc 126.5px,#e6e6e6 136.5px,#f4f4f4 145.5px,#fafafa 154.5px,#f7f7f7 164.5px,#ececec 173.5px,#d9d9d9 182.5px,#b5b5b5 194.5px,#6d6d6d 216.5px,#4f4f4f 228.5px,#414141 235.5px,#353535 236.5px,#2f2f2f 237.5px,#010101 251.5px,#000 316.5px)"></i><i style="left:312px;width:4px;background:linear-gradient(#000 0.5px,#000 56.5px,#303030 77.5px,#414141 79.5px,#585858 90.5px,#7e7e7e 103.5px,#ccc 127.5px,#e5e5e5 137.5px,#f3f3f3 146.5px,#f8f8f8 155.5px,#f5f5f5 165.5px,#e9e9e9 174.5px,#d3d3d3 184.5px,#a7a7a7 198.5px,#6d6d6d 216.5px,#4e4e4e 228.5px,#414141 235.5px,#313131 236.5px,#000 251.5px,#000 316.5px)"></i><i style="left:316px;width:4px;background:linear-gradient(#000 0.5px,#000 57.5px,#303030 78.5px,#414141 80.5px,#595959 91.5px,#7e7e7e 104.5px,#cacaca 127.5px,#e3e3e3 137.5px,#f1f1f1 146.5px,#f6f6f6 155.5px,#f4f4f4 165.5px,#e8e8e8 174.5px,#d2d2d2 184.5px,#a6a6a6 198.5px,#6c6c6c 216.5px,#4e4e4e 228.5px,#424242 234.5px,#3e3e3e 235.5px,#303030 236.5px,#010101 250.5px,#000 256.5px,#000 316.5px)"></i><i style="left:320px;width:4px;background:linear-gradient(#000 0.5px,#000 58.5px,#303030 79.5px,#414141 81.5px,#595959 92.5px,#7f7f7f 105.5px,#c8c8c8 127.5px,#e1e1e1 137.5px,#f0f0f0 146.5px,#f5f5f5 155.5px,#f2f2f2 165.5px,#e7e7e7 174.5px,#d1d1d1 184.5px,#a5a5a5 198.5px,#6c6c6c 216.5px,#4d4d4d 228.5px,#424242 234.5px,#3b3b3b 235.5px,#303030 236.5px,#000 250.5px,#000 316.5px)"></i><i style="left:324px;width:4px;background:linear-gradient(#000 0.5px,#000 59.5px,#303030 80.5px,#414141 82.5px,#595959 93.5px,#808080 106.5px,#c9c9c9 128.5px,#e2e2e2 138.5px,#f0f0f0 147.5px,#f4f4f4 156.5px,#f1f1f1 166.5px,#e4e4e4 175.5px,#cdcdcd 185.5px,#9e9e9e 200.5px,#686868 217.5px,#4b4b4b 229.5px,#414141 234.5px,#2f2f2f 236.5px,#000 250.5px,#000 316.5px)"></i><i style="left:328px;width:4px;background:linear-gradient(#000 0.5px,#000 60.5px,#313131 81.5px,#424242 83.5px,#5a5a5a 94.5px,#7e7e7e 106.5px,#c8c8c8 128.5px,#e1e1e1 138.5px,#efefef 147.5px,#f4f4f4 156.5px,#f0f0f0 166.5px,#e4e4e4 175.5px,#cdcdcd 185.5px,#9a9a9a 201.5px,#686868 217.5px,#4b4b4b 229.5px,#414141 234.5px,#2f2f2f 236.5px,#010101 249.5px,#000 270.5px,#000 316.5px)"></i><i style="left:332px;width:4px;background:linear-gradient(#000 0.5px,#000 61.5px,#313131 82.5px,#3b3b3b 83.5px,#424242 84.5px,#5b5b5b 95.5px,#7f7f7f 107.5px,#c7c7c7 128.5px,#e1e1e1 138.5px,#eee 146.5px,#f4f4f4 155.5px,#f1f1f1 165.5px,#e5e5e5 174.5px,#cfcfcf 184.5px,#a4a4a4 198.5px,#6a6a6a 216.5px,#4c4c4c 228.5px,#414141 234.5px,#353535 235.5px,#2f2f2f 236.5px,#010101 249.5px,#000 316.5px)"></i><i style="left:336px;width:4px;background:linear-gradient(#000 0.5px,#010101 63.5px,#323232 83.5px,#414141 84.5px,#595959 95.5px,#7e7e7e 107.5px,#c6c6c6 128.5px,#dedede 137.5px,#ececec 145.5px,#f3f3f3 153.5px,#f2f2f2 163.5px,#e8e8e8 172.5px,#d6d6d6 181.5px,#b4b4b4 193.5px,#6d6d6d 215.5px,#4f4f4f 227.5px,#414141 234.5px,#353535 235.5px,#2e2e2e 236.5px,#000 249.5px,#000 316.5px)"></i><i style="left:340px;width:4px;background:linear-gradient(#000 0.5px,#010101 64.5px,#303030 83.5px,#414141 85.5px,#5a5a5a 96.5px,#808080 108.5px,#c8c8c8 129.5px,#e0e0e0 138.5px,#ededed 146.5px,#f2f2f2 155.5px,#efefef 165.5px,#e4e4e4 174.5px,#cecece 184.5px,#a0a0a0 199.5px,#6a6a6a 216.5px,#4c4c4c 228.5px,#414141 234.5px,#343434 235.5px,#2e2e2e 236.5px,#000 249.5px,#000 316.5px)"></i><i style="left:344px;width:4px;background:linear-gradient(#000 0.5px,#000 65.5px,#313131 84.5px,#3e3e3e 85.5px,#424242 86.5px,#5c5c5c 97.5px,#818181 109.5px,#c6c6c6 129.5px,#dedede 138.5px,#ececec 146.5px,#f1f1f1 154.5px,#efefef 164.5px,#e5e5e5 173.5px,#cfcfcf 183.5px,#a9a9a9 196.5px,#6a6a6a 216.5px,#4c4c4c 228.5px,#414141 234.5px,#353535 235.5px,#2e2e2e 236.5px,#000 249.5px,#000 316.5px)"></i><i style="left:348px;width:4px;background:linear-gradient(#000 0.5px,#000 66.5px,#303030 84.5px,#353535 85.5px,#414141 86.5px,#5a5a5a 97.5px,#7f7f7f 109.5px,#c4c4c4 129.5px,#dcdcdc 138.5px,#e9e9e9 146.5px,#efefef 154.5px,#ededed 164.5px,#e3e3e3 173.5px,#cecece 183.5px,#a8a8a8 196.5px,#6a6a6a 216.5px,#4c4c4c 228.5px,#414141 234.5px,#353535 235.5px,#2e2e2e 236.5px,#000 249.5px,#000 316.5px)"></i><i style="left:352px;width:4px;background:linear-gradient(#000 0.5px,#000 67.5px,#313131 85.5px,#3e3e3e 86.5px,#424242 87.5px,#5b5b5b 98.5px,#848484 111.5px,#c4c4c4 130.5px,#dbdbdb 139.5px,#e8e8e8 147.5px,#ededed 156.5px,#e9e9e9 166.5px,#dedede 175.5px,#c8c8c8 185.5px,#9b9b9b 200.5px,#676767 217.5px,#4a4a4a 229.5px,#414141 234.5px,#353535 235.5px,#2f2f2f 236.5px,#000 249.5px,#000 316.5px)"></i><i style="left:356px;width:4px;background:linear-gradient(#000 0.5px,#000 68.5px,#303030 85.5px,#414141 87.5px,#5a5a5a 98.5px,#828282 111.5px,#c0c0c0 130.5px,#d7d7d7 139.5px,#e4e4e4 147.5px,#eaeaea 156.5px,#e7e7e7 166.5px,#dcdcdc 175.5px,#c6c6c6 185.5px,#9a9a9a 200.5px,#646464 218.5px,#484848 230.5px,#414141 234.5px,#2f2f2f 236.5px,#000 249.5px,#000 316.5px)"></i><i style="left:360px;width:4px;background:linear-gradient(#000 0.5px,#000 69.5px,#323232 86.5px,#414141 87.5px,#595959 98.5px,#7f7f7f 111.5px,#bdbdbd 130.5px,#d6d6d6 140.5px,#e3e3e3 149.5px,#e7e7e7 158.5px,#e3e3e3 168.5px,#d6d6d6 177.5px,#c0c0c0 187.5px,#878787 206.5px,#5c5c5c 221.5px,#434343 233.5px,#414141 234.5px,#2f2f2f 236.5px,#000 249.5px,#000 316.5px)"></i><i style="left:364px;width:4px;background:linear-gradient(#000 0.5px,#000 70.5px,#313131 86.5px,#3e3e3e 87.5px,#424242 88.5px,#5a5a5a 99.5px,#848484 113.5px,#bcbcbc 131.5px,#d4d4d4 141.5px,#e0e0e0 150.5px,#e4e4e4 159.5px,#dfdfdf 169.5px,#d3d3d3 178.5px,#bababa 189.5px,#646464 218.5px,#484848 230.5px,#414141 234.5px,#2f2f2f 236.5px,#000 249.5px,#000 316.5px)"></i><i style="left:368px;width:4px;background:linear-gradient(#000 0.5px,#010101 71.5px,#313131 86.5px,#3e3e3e 87.5px,#424242 88.5px,#5c5c5c 100.5px,#888 115.5px,#bcbcbc 132.5px,#d3d3d3 142.5px,#dedede 151.5px,#e1e1e1 161.5px,#ddd 170.5px,#d0d0d0 179.5px,#b6b6b6 190.5px,#626262 219.5px,#474747 231.5px,#414141 234.5px,#2f2f2f 236.5px,#010101 249.5px,#000 316.5px)"></i><i style="left:372px;width:4px;background:linear-gradient(#000 0.5px,#000 71.5px,#131313 77.5px,#313131 86.5px,#3e3e3e 87.5px,#424242 88.5px,#5c5c5c 100.5px,#878787 115.5px,#bababa 132.5px,#d0d0d0 142.5px,#dcdcdc 151.5px,#dfdfdf 161.5px,#dadada 171.5px,#cdcdcd 180.5px,#b4b4b4 191.5px,#626262 219.5px,#474747 231.5px,#414141 234.5px,#3a3a3a 235.5px,#303030 236.5px,#020202 249.5px,#000 251.5px,#000 316.5px)"></i><i style="left:376px;width:4px;background:linear-gradient(#000 0.5px,#010101 72.5px,#313131 86.5px,#404040 87.5px,#595959 99.5px,#838383 114.5px,#b9b9b9 132.5px,#cfcfcf 142.5px,#dbdbdb 151.5px,#dfdfdf 161.5px,#dadada 171.5px,#cecece 180.5px,#b4b4b4 191.5px,#636363 219.5px,#474747 231.5px,#424242 234.5px,#3b3b3b 235.5px,#303030 236.5px,#010101 250.5px,#000 316.5px)"></i><i style="left:380px;width:4px;background:linear-gradient(#000 0.5px,#000 71.5px,#050505 73.5px,#2e2e2e 85.5px,#343434 86.5px,#414141 87.5px,#5a5a5a 99.5px,#838383 114.5px,#b8b8b8 132.5px,#cecece 142.5px,#dbdbdb 151.5px,#dfdfdf 161.5px,#dbdbdb 171.5px,#cecece 180.5px,#b8b8b8 190.5px,#616161 220.5px,#464646 232.5px,#404040 235.5px,#313131 236.5px,#000 251.5px,#000 316.5px)"></i><i style="left:384px;width:4px;background:linear-gradient(#000 0.5px,#000 71.5px,#303030 85.5px,#3b3b3b 86.5px,#424242 87.5px,#5a5a5a 99.5px,#848484 114.5px,#bbb 133.5px,#d0d0d0 143.5px,#dcdcdc 152.5px,#dfdfdf 162.5px,#dbdbdb 172.5px,#cecece 181.5px,#b4b4b4 192.5px,#626262 220.5px,#464646 232.5px,#414141 235.5px,#353535 236.5px,#2f2f2f 237.5px,#010101 251.5px,#000 266.5px,#000 316.5px)"></i><i style="left:388px;width:4px;background:linear-gradient(#000 0.5px,#000 70.5px,#2f2f2f 84.5px,#353535 85.5px,#414141 86.5px,#595959 98.5px,#828282 113.5px,#b9b9b9 132.5px,#d1d1d1 143.5px,#ddd 152.5px,#e0e0e0 162.5px,#dcdcdc 172.5px,#cfcfcf 181.5px,#b8b8b8 191.5px,#606060 221.5px,#454545 233.5px,#424242 235.5px,#3b3b3b 236.5px,#303030 237.5px,#010101 252.5px,#000 316.5px)"></i><i style="left:392px;width:4px;background:linear-gradient(#000 0.5px,#010101 69.5px,#323232 84.5px,#414141 85.5px,#585858 97.5px,#818181 112.5px,#bababa 132.5px,#d2d2d2 143.5px,#dedede 152.5px,#e2e2e2 162.5px,#dedede 172.5px,#d1d1d1 181.5px,#bababa 191.5px,#616161 221.5px,#464646 233.5px,#414141 236.5px,#323232 237.5px,#000 253.5px,#000 316.5px)"></i><i style="left:396px;width:4px;background:linear-gradient(#000 0.5px,#000 67.5px,#323232 83.5px,#414141 84.5px,#585858 96.5px,#808080 111.5px,#bcbcbc 132.5px,#d4d4d4 143.5px,#e0e0e0 153.5px,#e3e3e3 163.5px,#dfdfdf 172.5px,#d3d3d3 181.5px,#bcbcbc 191.5px,#636363 221.5px,#474747 233.5px,#414141 236.5px,#303030 238.5px,#000 254.5px,#000 316.5px)"></i><i style="left:400px;width:4px;background:linear-gradient(#000 0.5px,#000 66.5px,#323232 82.5px,#414141 83.5px,#585858 95.5px,#7f7f7f 110.5px,#bebebe 132.5px,#d6d6d6 143.5px,#e2e2e2 153.5px,#e5e5e5 164.5px,#e0e0e0 173.5px,#d3d3d3 182.5px,#bbb 192.5px,#646464 221.5px,#484848 233.5px,#424242 236.5px,#3e3e3e 237.5px,#313131 238.5px,#010101 254.5px,#000 286.5px,#000 316.5px)"></i><i style="left:404px;width:4px;background:linear-gradient(#000 0.5px,#010101 65.5px,#313131 81.5px,#3e3e3e 82.5px,#424242 83.5px,#5c5c5c 96.5px,#878787 112.5px,#c0c0c0 132.5px,#d7d7d7 143.5px,#e4e4e4 153.5px,#e7e7e7 164.5px,#e2e2e2 173.5px,#d5d5d5 182.5px,#bdbdbd 192.5px,#646464 221.5px,#484848 233.5px,#414141 237.5px,#323232 238.5px,#000 255.5px,#000 316.5px)"></i><i style="left:408px;width:4px;background:linear-gradient(#000 0.5px,#000 63.5px,#303030 80.5px,#414141 82.5px,#5b5b5b 95.5px,#838383 110.5px,#bfbfbf 131.5px,#d7d7d7 142.5px,#e4e4e4 152.5px,#e8e8e8 162.5px,#e4e4e4 172.5px,#d8d8d8 181.5px,#c1c1c1 191.5px,#656565 221.5px,#494949 233.5px,#414141 237.5px,#303030 239.5px,#010101 255.5px,#000 316.5px)"></i><i style="left:412px;width:4px;background:linear-gradient(#000 0.5px,#010101 62.5px,#313131 80.5px,#3e3e3e 81.5px,#424242 82.5px,#5c5c5c 95.5px,#848484 110.5px,#c1c1c1 131.5px,#d9d9d9 142.5px,#e6e6e6 152.5px,#eaeaea 162.5px,#e7e7e7 171.5px,#dbdbdb 180.5px,#c5c5c5 190.5px,#949494 206.5px,#636363 222.5px,#474747 234.5px,#414141 237.5px,#3b3b3b 238.5px,#303030 239.5px,#000 256.5px,#000 316.5px)"></i><i style="left:416px;width:4px;background:linear-gradient(#000 0.5px,#000 60.5px,#303030 79.5px,#353535 80.5px,#414141 81.5px,#585858 93.5px,#7d7d7d 107.5px,#c3c3c3 131.5px,#dbdbdb 142.5px,#e8e8e8 152.5px,#ececec 162.5px,#e8e8e8 171.5px,#dcdcdc 180.5px,#c6c6c6 190.5px,#949494 206.5px,#636363 222.5px,#474747 234.5px,#424242 237.5px,#3b3b3b 238.5px,#313131 239.5px,#000 256.5px,#000 316.5px)"></i><i style="left:420px;width:4px;background:linear-gradient(#000 0.5px,#000 59.5px,#313131 79.5px,#3d3d3d 80.5px,#424242 81.5px,#595959 93.5px,#7f7f7f 107.5px,#c2c2c2 130.5px,#dbdbdb 141.5px,#e9e9e9 151.5px,#ededed 161.5px,#eaeaea 171.5px,#dedede 180.5px,#c7c7c7 190.5px,#959595 206.5px,#646464 222.5px,#484848 234.5px,#424242 237.5px,#3e3e3e 238.5px,#313131 239.5px,#000 256.5px,#000 316.5px)"></i><i style="left:424px;width:4px;background:linear-gradient(#000 0.5px,#010101 58.5px,#303030 78.5px,#353535 79.5px,#414141 80.5px,#585858 92.5px,#7d7d7d 106.5px,#c4c4c4 130.5px,#ddd 141.5px,#ebebeb 151.5px,#efefef 161.5px,#ebebeb 171.5px,#dfdfdf 180.5px,#c7c7c7 190.5px,#929292 207.5px,#646464 222.5px,#484848 234.5px,#414141 238.5px,#323232 239.5px,#010101 256.5px,#000 316.5px)"></i><i style="left:428px;width:4px;background:linear-gradient(#000 0.5px,#010101 57.5px,#323232 78.5px,#404040 79.5px,#585858 91.5px,#7d7d7d 105.5px,#c4c4c4 129.5px,#ddd 140.5px,#ebebeb 150.5px,#f0f0f0 160.5px,#ededed 170.5px,#e1e1e1 179.5px,#cbcbcb 189.5px,#9d9d9d 204.5px,#686868 221.5px,#4a4a4a 233.5px,#414141 238.5px,#353535 239.5px,#2f2f2f 240.5px,#010101 256.5px,#000 316.5px)"></i><i style="left:432px;width:4px;background:linear-gradient(#000 0.5px,#000 56.5px,#313131 77.5px,#3e3e3e 78.5px,#424242 79.5px,#595959 91.5px,#7f7f7f 105.5px,#c6c6c6 129.5px,#dfdfdf 140.5px,#ededed 150.5px,#f2f2f2 160.5px,#eee 170.5px,#e2e2e2 179.5px,#cbcbcb 189.5px,#9d9d9d 204.5px,#686868 221.5px,#4b4b4b 233.5px,#414141 238.5px,#3b3b3b 239.5px,#303030 240.5px,#000 257.5px,#000 316.5px)"></i><i style="left:436px;width:4px;background:linear-gradient(#000 0.5px,#000 55.5px,#313131 76.5px,#3b3b3b 77.5px,#414141 78.5px,#595959 90.5px,#7e7e7e 104.5px,#c6c6c6 128.5px,#dfdfdf 139.5px,#eee 149.5px,#f3f3f3 159.5px,#f0f0f0 169.5px,#e4e4e4 178.5px,#cecece 188.5px,#a4a4a4 202.5px,#6b6b6b 220.5px,#4d4d4d 232.5px,#424242 238.5px,#3e3e3e 239.5px,#313131 240.5px,#000 257.5px,#000 316.5px)"></i><i style="left:440px;width:4px;background:linear-gradient(#000 0.5px,#010101 55.5px,#313131 75.5px,#414141 77.5px,#595959 89.5px,#7e7e7e 103.5px,#c8c8c8 128.5px,#e1e1e1 139.5px,#efefef 149.5px,#f4f4f4 159.5px,#f0f0f0 169.5px,#e5e5e5 178.5px,#cfcfcf 188.5px,#a1a1a1 203.5px,#696969 221.5px,#4c4c4c 233.5px,#414141 239.5px,#323232 240.5px,#000 257.5px,#000 316.5px)"></i><i style="left:444px;width:4px;background:linear-gradient(#000 0.5px,#000 54.5px,#303030 74.5px,#414141 76.5px,#585858 88.5px,#7d7d7d 102.5px,#c8c8c8 127.5px,#e1e1e1 138.5px,#efefef 148.5px,#f5f5f5 158.5px,#f2f2f2 168.5px,#e7e7e7 177.5px,#d1d1d1 187.5px,#a8a8a8 201.5px,#6c6c6c 220.5px,#4e4e4e 232.5px,#414141 239.5px,#353535 240.5px,#2f2f2f 241.5px,#000 257.5px,#000 316.5px)"></i><i style="left:448px;width:4px;background:linear-gradient(#000 0.5px,#000 54.5px,#323232 74.5px,#414141 75.5px,#585858 87.5px,#7c7c7c 101.5px,#cacaca 127.5px,#e3e3e3 138.5px,#f1f1f1 148.5px,#f5f5f5 158.5px,#f2f2f2 168.5px,#e7e7e7 177.5px,#d1d1d1 187.5px,#a8a8a8 201.5px,#6c6c6c 220.5px,#4e4e4e 232.5px,#414141 239.5px,#303030 241.5px,#000 257.5px,#000 316.5px)"></i><i style="left:452px;width:4px;background:linear-gradient(#000 0.5px,#000 53.5px,#2e2e2e 72.5px,#313131 73.5px,#3b3b3b 74.5px,#424242 75.5px,#595959 87.5px,#7e7e7e 101.5px,#c9c9c9 126.5px,#e3e3e3 137.5px,#f1f1f1 147.5px,#f6f6f6 157.5px,#f4f4f4 167.5px,#e9e9e9 176.5px,#d4d4d4 186.5px,#ababab 200.5px,#6c6c6c 220.5px,#4e4e4e 232.5px,#414141 239.5px,#303030 241.5px,#000 257.5px,#000 316.5px)"></i><i style="left:456px;width:4px;background:linear-gradient(#000 0.5px,#000 53.5px,#303030 72.5px,#353535 73.5px,#414141 74.5px,#585858 86.5px,#7d7d7d 100.5px,#cbcbcb 126.5px,#e4e4e4 137.5px,#f2f2f2 147.5px,#f7f7f7 157.5px,#f4f4f4 167.5px,#e9e9e9 176.5px,#d4d4d4 186.5px,#aaa 200.5px,#6c6c6c 220.5px,#4e4e4e 232.5px,#414141 239.5px,#303030 241.5px,#000 257.5px,#000 316.5px)"></i><i style="left:460px;width:4px;background:linear-gradient(#000 0.5px,#000 53.5px,#303030 72.5px,#3b3b3b 73.5px,#414141 74.5px,#595959 86.5px,#7e7e7e 100.5px,#cacaca 125.5px,#e4e4e4 136.5px,#f3f3f3 146.5px,#f8f8f8 156.5px,#f5f5f5 166.5px,#ebebeb 175.5px,#d6d6d6 185.5px,#b0b0b0 198.5px,#6e6e6e 219.5px,#505050 231.5px,#414141 239.5px,#353535 240.5px,#2f2f2f 241.5px,#010101 256.5px,#000 261.5px,#000 316.5px)"></i><i style="left:464px;width:4px;background:linear-gradient(#000 0.5px,#010101 53.5px,#313131 72.5px,#3e3e3e 73.5px,#424242 74.5px,#595959 86.5px,#7f7f7f 100.5px,#cbcbcb 125.5px,#e5e5e5 136.5px,#f4f4f4 146.5px,#f9f9f9 156.5px,#f6f6f6 166.5px,#ebebeb 175.5px,#d6d6d6 185.5px,#adadad 199.5px,#6e6e6e 219.5px,#505050 231.5px,#414141 239.5px,#323232 240.5px,#010101 256.5px,#000 316.5px)"></i><i style="left:468px;width:4px;background:linear-gradient(#000 0.5px,#010101 53.5px,#313131 72.5px,#3e3e3e 73.5px,#424242 74.5px,#5a5a5a 86.5px,#808080 100.5px,#cdcdcd 125.5px,#e7e7e7 136.5px,#f4f4f4 145.5px,#fafafa 155.5px,#f7f7f7 165.5px,#ededed 174.5px,#d8d8d8 184.5px,#b2b2b2 197.5px,#707070 218.5px,#515151 230.5px,#424242 238.5px,#3e3e3e 239.5px,#313131 240.5px,#000 256.5px,#000 316.5px)"></i><i style="left:472px;width:4px;background:linear-gradient(#000 0.5px,#000 52.5px,#313131 72.5px,#3e3e3e 73.5px,#424242 74.5px,#5a5a5a 86.5px,#7d7d7d 99.5px,#cecece 125.5px,#e8e8e8 136.5px,#f5f5f5 145.5px,#fbfbfb 155.5px,#f8f8f8 165.5px,#ededed 174.5px,#d8d8d8 184.5px,#b2b2b2 197.5px,#6f6f6f 218.5px,#515151 230.5px,#414141 238.5px,#303030 240.5px,#010101 255.5px,#000 263.5px,#000 316.5px)"></i><i style="left:476px;width:4px;background:linear-gradient(#000 0.5px,#010101 53.5px,#313131 72.5px,#3e3e3e 73.5px,#424242 74.5px,#5a5a5a 86.5px,#7e7e7e 99.5px,#cfcfcf 125.5px,#e8e8e8 135.5px,#f6f6f6 144.5px,#fcfcfc 153.5px,#fafafa 164.5px,#efefef 173.5px,#dbdbdb 183.5px,#b5b5b5 196.5px,#6e6e6e 218.5px,#505050 230.5px,#414141 238.5px,#343434 239.5px,#2f2f2f 240.5px,#000 255.5px,#000 316.5px)"></i><i style="left:480px;width:4px;background:linear-gradient(#000 0.5px,#010101 53.5px,#313131 72.5px,#3b3b3b 73.5px,#424242 74.5px,#5a5a5a 86.5px,#7e7e7e 99.5px,#cecece 124.5px,#e9e9e9 135.5px,#f7f7f7 144.5px,#fdfdfd 153.5px,#fbfbfb 163.5px,#f1f1f1 172.5px,#ddd 182.5px,#bababa 194.5px,#707070 217.5px,#515151 229.5px,#424242 237.5px,#3e3e3e 238.5px,#313131 239.5px,#020202 254.5px,#000 257.5px,#000 316.5px)"></i><i style="left:484px;width:4px;background:linear-gradient(#000 0.5px,#000 53.5px,#303030 72.5px,#414141 74.5px,#5a5a5a 86.5px,#7e7e7e 99.5px,#cecece 124.5px,#e8e8e8 134.5px,#f7f7f7 143.5px,#fdfdfd 152.5px,#fcfcfc 163.5px,#f2f2f2 172.5px,#ddd 182.5px,#bababa 194.5px,#6f6f6f 217.5px,#515151 229.5px,#414141 237.5px,#2f2f2f 239.5px,#010101 254.5px,#000 316.5px)"></i><i style="left:488px;width:4px;background:linear-gradient(#000 0.5px,#000 53.5px,#323232 73.5px,#404040 74.5px,#595959 86.5px,#7d7d7d 99.5px,#cecece 124.5px,#e8e8e8 134.5px,#f7f7f7 143.5px,#fefefe 152.5px,#fdfdfd 162.5px,#f3f3f3 171.5px,#e2e2e2 180.5px,#c3c3c3 191.5px,#6e6e6e 217.5px,#505050 229.5px,#404040 237.5px,#313131 238.5px,#020202 253.5px,#000 255.5px,#000 316.5px)"></i><i style="left:492px;width:4px;background:linear-gradient(#000 0.5px,#010101 54.5px,#303030 73.5px,#414141 75.5px,#5a5a5a 87.5px,#7f7f7f 100.5px,#d1d1d1 125.5px,#eaeaea 135.5px,#f8f8f8 144.5px,#fefefe 153.5px,#fcfcfc 163.5px,#f2f2f2 172.5px,#dfdfdf 181.5px,#bcbcbc 193.5px,#707070 216.5px,#515151 228.5px,#414141 236.5px,#303030 238.5px,#010101 253.5px,#000 316.5px)"></i><i style="left:496px;width:4px;background:linear-gradient(#000 0.5px,#000 54.5px,#313131 74.5px,#3e3e3e 75.5px,#424242 76.5px,#5b5b5b 88.5px,#818181 101.5px,#cfcfcf 125.5px,#e9e9e9 135.5px,#f7f7f7 144.5px,#fdfdfd 153.5px,#fbfbfb 163.5px,#f1f1f1 172.5px,#dedede 181.5px,#bbb 193.5px,#707070 216.5px,#505050 228.5px,#414141 236.5px,#323232 237.5px,#020202 252.5px,#000 254.5px,#000 316.5px)"></i><i style="left:500px;width:4px;background:linear-gradient(#000 0.5px,#010101 55.5px,#323232 75.5px,#404040 76.5px,#575757 87.5px,#787878 99.5px,#d0d0d0 126.5px,#e9e9e9 136.5px,#f7f7f7 145.5px,#fcfcfc 154.5px,#fafafa 164.5px,#eee 173.5px,#d8d8d8 183.5px,#b0b0b0 196.5px,#6f6f6f 216.5px,#505050 228.5px,#424242 235.5px,#3e3e3e 236.5px,#313131 237.5px,#010101 252.5px,#000 316.5px)"></i><i style="left:504px;width:4px;background:linear-gradient(#000 0.5px,#000 55.5px,#323232 76.5px,#414141 77.5px,#575757 88.5px,#797979 100.5px,#cecece 126.5px,#e7e7e7 136.5px,#f5f5f5 145.5px,#fbfbfb 154.5px,#f8f8f8 164.5px,#ededed 173.5px,#dadada 182.5px,#b6b6b6 194.5px,#6e6e6e 216.5px,#4f4f4f 228.5px,#414141 235.5px,#2f2f2f 237.5px,#020202 251.5px,#000 253.5px,#000 316.5px)"></i><i style="left:508px;width:4px;background:linear-gradient(#000 0.5px,#000 56.5px,#323232 77.5px,#414141 78.5px,#575757 89.5px,#797979 101.5px,#cbcbcb 126.5px,#e5e5e5 136.5px,#f3f3f3 145.5px,#f9f9f9 154.5px,#f7f7f7 164.5px,#ececec 173.5px,#d9d9d9 182.5px,#b5b5b5 194.5px,#6d6d6d 216.5px,#4e4e4e 228.5px,#414141 235.5px,#343434 236.5px,#2e2e2e 237.5px,#010101 251.5px,#000 316.5px)"></i><i style="left:512px;width:4px;background:linear-gradient(#000 0.5px,#010101 57.5px,#323232 78.5px,#404040 79.5px,#575757 90.5px,#797979 102.5px,#cbcbcb 127.5px,#e4e4e4 137.5px,#f2f2f2 146.5px,#f7f7f7 155.5px,#f4f4f4 165.5px,#e9e9e9 174.5px,#d2d2d2 184.5px,#a7a7a7 198.5px,#6c6c6c 216.5px,#4e4e4e 228.5px,#424242 234.5px,#3e3e3e 235.5px,#313131 236.5px,#000 251.5px,#000 316.5px)"></i><i style="left:516px;width:4px;background:linear-gradient(#000 0.5px,#010101 58.5px,#323232 79.5px,#3e3e3e 80.5px,#424242 81.5px,#5a5a5a 92.5px,#808080 105.5px,#c9c9c9 127.5px,#e2e2e2 137.5px,#f1f1f1 146.5px,#f6f6f6 155.5px,#f3f3f3 165.5px,#e8e8e8 174.5px,#d1d1d1 184.5px,#a6a6a6 198.5px,#6c6c6c 216.5px,#4d4d4d 228.5px,#424242 234.5px,#3b3b3b 235.5px,#303030 236.5px,#010101 250.5px,#000 316.5px)"></i><i style="left:520px;width:4px;background:linear-gradient(#000 0.5px,#010101 59.5px,#323232 80.5px,#3e3e3e 81.5px,#424242 82.5px,#5a5a5a 93.5px,#818181 106.5px,#cacaca 128.5px,#e3e3e3 138.5px,#f0f0f0 147.5px,#f5f5f5 156.5px,#f1f1f1 166.5px,#e5e5e5 175.5px,#cecece 185.5px,#9e9e9e 200.5px,#686868 217.5px,#4b4b4b 229.5px,#414141 234.5px,#303030 236.5px,#000 250.5px,#000 316.5px)"></i><i style="left:524px;width:4px;background:linear-gradient(#000 0.5px,#010101 60.5px,#323232 81.5px,#414141 82.5px,#585858 93.5px,#7c7c7c 105.5px,#c8c8c8 128.5px,#e2e2e2 138.5px,#f0f0f0 147.5px,#f4f4f4 156.5px,#f0f0f0 166.5px,#e4e4e4 175.5px,#cdcdcd 185.5px,#9b9b9b 201.5px,#686868 217.5px,#4b4b4b 229.5px,#414141 234.5px,#2f2f2f 236.5px,#020202 249.5px,#000 252.5px,#000 316.5px)"></i><i style="left:528px;width:4px;background:linear-gradient(#000 0.5px,#010101 61.5px,#303030 81.5px,#353535 82.5px,#414141 83.5px,#595959 94.5px,#7d7d7d 106.5px,#c7c7c7 128.5px,#e1e1e1 138.5px,#eee 146.5px,#f4f4f4 155.5px,#f1f1f1 165.5px,#e5e5e5 174.5px,#cfcfcf 184.5px,#a4a4a4 198.5px,#6b6b6b 216.5px,#4d4d4d 228.5px,#414141 234.5px,#353535 235.5px,#2f2f2f 236.5px,#010101 249.5px,#000 316.5px)"></i><i style="left:532px;width:4px;background:linear-gradient(#000 0.5px,#000 62.5px,#303030 82.5px,#414141 84.5px,#5a5a5a 95.5px,#7f7f7f 107.5px,#c6c6c6 128.5px,#e1e1e1 138.5px,#eee 146.5px,#f3f3f3 155.5px,#f0f0f0 165.5px,#e5e5e5 174.5px,#cfcfcf 184.5px,#a4a4a4 198.5px,#6a6a6a 216.5px,#4c4c4c 228.5px,#414141 234.5px,#353535 235.5px,#2e2e2e 236.5px,#000 249.5px,#000 316.5px)"></i><i style="left:536px;width:4px;background:linear-gradient(#000 0.5px,#000 63.5px,#313131 83.5px,#3b3b3b 84.5px,#424242 85.5px,#5b5b5b 96.5px,#808080 108.5px,#c5c5c5 128.5px,#dedede 137.5px,#ececec 145.5px,#f2f2f2 153.5px,#f1f1f1 163.5px,#e8e8e8 172.5px,#d6d6d6 181.5px,#b3b3b3 193.5px,#6d6d6d 215.5px,#4e4e4e 227.5px,#414141 234.5px,#343434 235.5px,#2e2e2e 236.5px,#000 249.5px,#000 316.5px)"></i><i style="left:540px;width:4px;background:linear-gradient(#000 0.5px,#000 64.5px,#323232 84.5px,#414141 85.5px,#5a5a5a 96.5px,#7f7f7f 108.5px,#c7c7c7 129.5px,#dfdfdf 138.5px,#ececec 146.5px,#f2f2f2 154.5px,#f0f0f0 164.5px,#e5e5e5 173.5px,#d0d0d0 183.5px,#a9a9a9 196.5px,#6a6a6a 216.5px,#4c4c4c 228.5px,#414141 234.5px,#353535 235.5px,#2e2e2e 236.5px,#000 249.5px,#000 316.5px)"></i><i style="left:544px;width:4px;background:linear-gradient(#000 0.5px,#010101 66.5px,#303030 84.5px,#424242 86.5px,#5b5b5b 97.5px,#808080 109.5px,#c5c5c5 129.5px,#ddd 138.5px,#ebebeb 146.5px,#f0f0f0 154.5px,#eee 164.5px,#e4e4e4 173.5px,#cfcfcf 183.5px,#a9a9a9 196.5px,#6a6a6a 216.5px,#4c4c4c 228.5px,#414141 234.5px,#353535 235.5px,#2e2e2e 236.5px,#000 249.5px,#000 316.5px)"></i><i style="left:548px;width:4px;background:linear-gradient(#000 0.5px,#010101 67.5px,#323232 85.5px,#414141 86.5px,#5a5a5a 97.5px,#7e7e7e 109.5px,#c3c3c3 129.5px,#dadada 138.5px,#e8e8e8 146.5px,#eee 154.5px,#ececec 164.5px,#e2e2e2 173.5px,#cecece 183.5px,#a8a8a8 196.5px,#6a6a6a 216.5px,#4c4c4c 228.5px,#414141 234.5px,#353535 235.5px,#2e2e2e 236.5px,#000 249.5px,#000 316.5px)"></i><i style="left:552px;width:4px;background:linear-gradient(#000 0.5px,#010101 68.5px,#303030 85.5px,#3b3b3b 86.5px,#424242 87.5px,#5b5b5b 98.5px,#838383 111.5px,#c2c2c2 130.5px,#d9d9d9 139.5px,#e6e6e6 147.5px,#ebebeb 156.5px,#e8e8e8 166.5px,#ddd 175.5px,#c7c7c7 185.5px,#9b9b9b 200.5px,#676767 217.5px,#4a4a4a 229.5px,#414141 234.5px,#353535 235.5px,#2f2f2f 236.5px,#000 249.5px,#000 316.5px)"></i><i style="left:556px;width:4px;background:linear-gradient(#000 0.5px,#010101 69.5px,#2f2f2f 85.5px,#353535 86.5px,#414141 87.5px,#5a5a5a 98.5px,#818181 111.5px,#bfbfbf 130.5px,#d8d8d8 140.5px,#e5e5e5 149.5px,#e8e8e8 158.5px,#e4e4e4 168.5px,#d7d7d7 177.5px,#c1c1c1 187.5px,#646464 218.5px,#484848 230.5px,#414141 234.5px,#2f2f2f 236.5px,#000 249.5px,#000 316.5px)"></i><i style="left:560px;width:4px;background:linear-gradient(#000 0.5px,#010101 70.5px,#313131 86.5px,#414141 87.5px,#585858 98.5px,#7e7e7e 111.5px,#bebebe 131.5px,#d6d6d6 141.5px,#e2e2e2 150.5px,#e5e5e5 160.5px,#e1e1e1 169.5px,#d4d4d4 178.5px,#bababa 189.5px,#646464 218.5px,#484848 230.5px,#414141 234.5px,#2f2f2f 236.5px,#000 249.5px,#000 316.5px)"></i><i style="left:564px;width:4px;background:linear-gradient(#000 0.5px,#000 70.5px,#0b0b0b 74.5px,#313131 86.5px,#3e3e3e 87.5px,#424242 88.5px,#5a5a5a 99.5px,#838383 113.5px,#bbb 131.5px,#d2d2d2 141.5px,#dfdfdf 150.5px,#e2e2e2 159.5px,#dedede 169.5px,#d2d2d2 178.5px,#bcbcbc 188.5px,#626262 219.5px,#474747 231.5px,#414141 234.5px,#2f2f2f 236.5px,#010101 249.5px,#000 316.5px)"></i><i style="left:568px;width:4px;background:linear-gradient(#000 0.5px,#000 71.5px,#313131 86.5px,#3e3e3e 87.5px,#424242 88.5px,#5c5c5c 100.5px,#888 115.5px,#bbb 132.5px,#d1d1d1 142.5px,#ddd 151.5px,#e0e0e0 161.5px,#dbdbdb 171.5px,#cecece 180.5px,#b4b4b4 191.5px,#626262 219.5px,#474747 231.5px,#414141 234.5px,#2f2f2f 236.5px,#010101 249.5px,#000 254.5px,#000 316.5px)"></i><i style="left:572px;width:4px;background:linear-gradient(#000 0.5px,#000 71.5px,#050505 73.5px,#313131 86.5px,#3e3e3e 87.5px,#424242 88.5px,#5c5c5c 100.5px,#878787 115.5px,#b9b9b9 132.5px,#d0d0d0 142.5px,#dbdbdb 151.5px,#dfdfdf 161.5px,#dadada 171.5px,#cdcdcd 180.5px,#b4b4b4 191.5px,#626262 219.5px,#474747 231.5px,#424242 234.5px,#3b3b3b 235.5px,#303030 236.5px,#000 250.5px,#000 316.5px)"></i><i style="left:576px;width:4px;background:linear-gradient(#000 0.5px,#010101 72.5px,#313131 86.5px,#414141 87.5px,#595959 99.5px,#838383 114.5px,#b8b8b8 132.5px,#cfcfcf 142.5px,#dbdbdb 151.5px,#dfdfdf 161.5px,#dadada 171.5px,#cecece 180.5px,#b5b5b5 191.5px,#606060 220.5px,#464646 232.5px,#424242 234.5px,#3e3e3e 235.5px,#313131 236.5px,#010101 250.5px,#000 316.5px)"></i><i style="left:580px;width:4px;background:linear-gradient(#000 0.5px,#000 71.5px,#131313 77.5px,#2f2f2f 85.5px,#414141 87.5px,#5a5a5a 99.5px,#838383 114.5px,#bbb 133.5px,#d0d0d0 143.5px,#dbdbdb 152.5px,#dfdfdf 162.5px,#dadada 172.5px,#cdcdcd 181.5px,#b3b3b3 192.5px,#616161 220.5px,#464646 232.5px,#414141 235.5px,#323232 236.5px,#000 251.5px,#000 316.5px)"></i><i style="left:584px;width:4px;background:linear-gradient(#000 0.5px,#000 70.5px,#050505 72.5px,#313131 85.5px,#3e3e3e 86.5px,#424242 87.5px,#5b5b5b 99.5px,#848484 114.5px,#bbb 133.5px,#d0d0d0 143.5px,#dcdcdc 152.5px,#e0e0e0 162.5px,#dbdbdb 172.5px,#cecece 181.5px,#b5b5b5 192.5px,#626262 220.5px,#474747 232.5px,#414141 235.5px,#303030 237.5px,#000 252.5px,#000 316.5px)"></i><i style="left:588px;width:4px;background:linear-gradient(#000 0.5px,#000 69.5px,#303030 84.5px,#3b3b3b 85.5px,#414141 86.5px,#5a5a5a 98.5px,#838383 113.5px,#bababa 132.5px,#d1d1d1 143.5px,#ddd 152.5px,#e1e1e1 162.5px,#ddd 172.5px,#d0d0d0 181.5px,#b9b9b9 191.5px,#616161 221.5px,#464646 233.5px,#424242 235.5px,#3e3e3e 236.5px,#313131 237.5px,#020202 252.5px,#000 255.5px,#000 316.5px)"></i><i style="left:592px;width:4px;background:linear-gradient(#000 0.5px,#000 68.5px,#303030 83.5px,#414141 85.5px,#595959 97.5px,#828282 112.5px,#bbb 132.5px,#d3d3d3 143.5px,#dfdfdf 153.5px,#e2e2e2 163.5px,#dedede 172.5px,#d2d2d2 181.5px,#bbb 191.5px,#626262 221.5px,#464646 233.5px,#414141 236.5px,#353535 237.5px,#2f2f2f 238.5px,#010101 253.5px,#000 316.5px)"></i><i style="left:596px;width:4px;background:linear-gradient(#000 0.5px,#010101 67.5px,#303030 82.5px,#3b3b3b 83.5px,#414141 84.5px,#595959 96.5px,#818181 111.5px,#bdbdbd 132.5px,#d5d5d5 143.5px,#e1e1e1 153.5px,#e4e4e4 164.5px,#dfdfdf 173.5px,#d2d2d2 182.5px,#bababa 192.5px,#636363 221.5px,#474747 233.5px,#424242 236.5px,#3b3b3b 237.5px,#303030 238.5px,#000 254.5px,#000 316.5px)"></i><i style="left:600px;width:4px;background:linear-gradient(#000 0.5px,#000 65.5px,#202020 76.5px,#303030 81.5px,#414141 83.5px,#5b5b5b 96.5px,#838383 111.5px,#bfbfbf 132.5px,#d6d6d6 143.5px,#e3e3e3 153.5px,#e6e6e6 164.5px,#e1e1e1 173.5px,#d4d4d4 182.5px,#bcbcbc 192.5px,#646464 221.5px,#484848 233.5px,#414141 237.5px,#313131 238.5px,#000 255.5px,#000 316.5px)"></i></div></div>
<svg class="ov" style="" width="1575" height="937" viewBox="0 0 1575 937">
<path class="gr" d="M237.6 54.8V370.9M336.7 54.8V370.9M435.8 54.8V370.9M534.9 54.8V370.9M634 54.8V370.9M138.5 133.83H728.8M138.5 212.85H728.8M138.5 291.88H728.8"/>
<path class="tk" d="M138.5 370.9v-6.5M138.5 54.8v6.5M237.6 370.9v-6.5M237.6 54.8v6.5M336.7 370.9v-6.5M336.7 54.8v6.5M435.8 370.9v-6.5M435.8 54.8v6.5M534.9 370.9v-6.5M534.9 54.8v6.5M634 370.9v-6.5M634 54.8v6.5M138.5 54.8h6.5M728.8 54.8h-6.5M138.5 133.83h6.5M728.8 133.83h-6.5M138.5 212.85h6.5M728.8 212.85h-6.5M138.5 291.88h6.5M728.8 291.88h-6.5M138.5 370.9h6.5M728.8 370.9h-6.5"/>
<rect class="bx" x="138.5" y="54.8" width="590.3" height="316.1"/>
<text x="128.99" y="66.8" text-anchor="end">4</text>
<text x="130.2" y="145.83" text-anchor="end">2</text>
<text x="130.24" y="224.85" text-anchor="end">0</text>
<text x="130.2" y="303.88" text-anchor="end">-2</text>
<text x="128.99" y="382.9" text-anchor="end">-4</text>
<text x="138.5" y="411.8" text-anchor="middle">0</text>
<text x="237.6" y="411.8" text-anchor="middle">0.5</text>
<text x="336.7" y="411.8" text-anchor="middle">1</text>
<text x="435.8" y="411.8" text-anchor="middle">1.5</text>
<text x="534.9" y="411.8" text-anchor="middle">2</text>
<text x="634" y="411.8" text-anchor="middle">2.5</text>
<text class="lb" x="432.85" y="452.7" text-anchor="middle">Time delay / fs</text>
<text transform="translate(77.1 213.15) rotate(-90)" class="lb" text-anchor="middle">Angle / mrad</text>
<text class="pl" x="0" y="68.4">(a)</text>
<path class="gr" d="M237.6 529.3V845.4M336.7 529.3V845.4M435.8 529.3V845.4M534.9 529.3V845.4M634 529.3V845.4M138.5 608.32H728.8M138.5 687.35H728.8M138.5 766.37H728.8"/>
<path class="tk" d="M138.5 845.4v-6.5M138.5 529.3v6.5M237.6 845.4v-6.5M237.6 529.3v6.5M336.7 845.4v-6.5M336.7 529.3v6.5M435.8 845.4v-6.5M435.8 529.3v6.5M534.9 845.4v-6.5M534.9 529.3v6.5M634 845.4v-6.5M634 529.3v6.5M138.5 529.3h6.5M728.8 529.3h-6.5M138.5 608.32h6.5M728.8 608.32h-6.5M138.5 687.35h6.5M728.8 687.35h-6.5M138.5 766.37h6.5M728.8 766.37h-6.5M138.5 845.4h6.5M728.8 845.4h-6.5"/>
<rect class="bx" x="138.5" y="529.3" width="590.3" height="316.1"/>
<text x="128.99" y="541.3" text-anchor="end">4</text>
<text x="130.2" y="620.32" text-anchor="end">2</text>
<text x="130.24" y="699.35" text-anchor="end">0</text>
<text x="130.2" y="778.37" text-anchor="end">-2</text>
<text x="128.99" y="857.4" text-anchor="end">-4</text>
<text x="138.5" y="886.3" text-anchor="middle">0</text>
<text x="237.6" y="886.3" text-anchor="middle">0.5</text>
<text x="336.7" y="886.3" text-anchor="middle">1</text>
<text x="435.8" y="886.3" text-anchor="middle">1.5</text>
<text x="534.9" y="886.3" text-anchor="middle">2</text>
<text x="634" y="886.3" text-anchor="middle">2.5</text>
<text class="lb" x="432.85" y="927.2" text-anchor="middle">Time delay / fs</text>
<text transform="translate(77.1 687.65) rotate(-90)" class="lb" text-anchor="middle">Angle / mrad</text>
<text class="pl" x="0" y="542.9">(b)</text>
<path class="gr" d="M1080.9 54.8V370.9M1180 54.8V370.9M1279.1 54.8V370.9M1378.2 54.8V370.9M1477.3 54.8V370.9M981.8 133.83H1572.1M981.8 212.85H1572.1M981.8 291.88H1572.1"/>
<path class="tk" d="M981.8 370.9v-6.5M981.8 54.8v6.5M1080.9 370.9v-6.5M1080.9 54.8v6.5M1180 370.9v-6.5M1180 54.8v6.5M1279.1 370.9v-6.5M1279.1 54.8v6.5M1378.2 370.9v-6.5M1378.2 54.8v6.5M1477.3 370.9v-6.5M1477.3 54.8v6.5M981.8 54.8h6.5M1572.1 54.8h-6.5M981.8 133.83h6.5M1572.1 133.83h-6.5M981.8 212.85h6.5M1572.1 212.85h-6.5M981.8 291.88h6.5M1572.1 291.88h-6.5M981.8 370.9h6.5M1572.1 370.9h-6.5"/>
<rect class="bx" x="981.8" y="54.8" width="590.3" height="316.1"/>
<text x="972.29" y="66.8" text-anchor="end">4</text>
<text x="973.5" y="145.83" text-anchor="end">2</text>
<text x="973.54" y="224.85" text-anchor="end">0</text>
<text x="973.5" y="303.88" text-anchor="end">-2</text>
<text x="972.29" y="382.9" text-anchor="end">-4</text>
<text x="981.8" y="411.8" text-anchor="middle">0</text>
<text x="1080.9" y="411.8" text-anchor="middle">0.5</text>
<text x="1180" y="411.8" text-anchor="middle">1</text>
<text x="1279.1" y="411.8" text-anchor="middle">1.5</text>
<text x="1378.2" y="411.8" text-anchor="middle">2</text>
<text x="1477.3" y="411.8" text-anchor="middle">2.5</text>
<text class="lb" x="1276.15" y="452.7" text-anchor="middle">Time delay / fs</text>
<text transform="translate(920.4 213.15) rotate(-90)" class="lb" text-anchor="middle">Angle / mrad</text>
<text class="pl" x="843.3" y="68.4">(c)</text>
<path class="gr" d="M1080.9 529.3V845.4M1180 529.3V845.4M1279.1 529.3V845.4M1378.2 529.3V845.4M1477.3 529.3V845.4M981.8 608.32H1572.1M981.8 687.35H1572.1M981.8 766.37H1572.1"/>
<path class="tk" d="M981.8 845.4v-6.5M981.8 529.3v6.5M1080.9 845.4v-6.5M1080.9 529.3v6.5M1180 845.4v-6.5M1180 529.3v6.5M1279.1 845.4v-6.5M1279.1 529.3v6.5M1378.2 845.4v-6.5M1378.2 529.3v6.5M1477.3 845.4v-6.5M1477.3 529.3v6.5M981.8 529.3h6.5M1572.1 529.3h-6.5M981.8 608.32h6.5M1572.1 608.32h-6.5M981.8 687.35h6.5M1572.1 687.35h-6.5M981.8 766.37h6.5M1572.1 766.37h-6.5M981.8 845.4h6.5M1572.1 845.4h-6.5"/>
<rect class="bx" x="981.8" y="529.3" width="590.3" height="316.1"/>
<text x="972.29" y="541.3" text-anchor="end">4</text>
<text x="973.5" y="620.32" text-anchor="end">2</text>
<text x="973.54" y="699.35" text-anchor="end">0</text>
<text x="973.5" y="778.37" text-anchor="end">-2</text>
<text x="972.29" y="857.4" text-anchor="end">-4</text>
<text x="981.8" y="886.3" text-anchor="middle">0</text>
<text x="1080.9" y="886.3" text-anchor="middle">0.5</text>
<text x="1180" y="886.3" text-anchor="middle">1</text>
<text x="1279.1" y="886.3" text-anchor="middle">1.5</text>
<text x="1378.2" y="886.3" text-anchor="middle">2</text>
<text x="1477.3" y="886.3" text-anchor="middle">2.5</text>
<text class="lb" x="1276.15" y="927.2" text-anchor="middle">Time delay / fs</text>
<text transform="translate(920.4 687.65) rotate(-90)" class="lb" text-anchor="middle">Angle / mrad</text>
<text class="pl" x="843.3" y="542.9">(d)</text>
<text class="lb" x="433" y="26.3" text-anchor="middle">Measured at the far field</text><text class="lb" x="1276.2" y="26.3" text-anchor="middle">Reconstructed at the far field</text>
</svg>
</body></html>
